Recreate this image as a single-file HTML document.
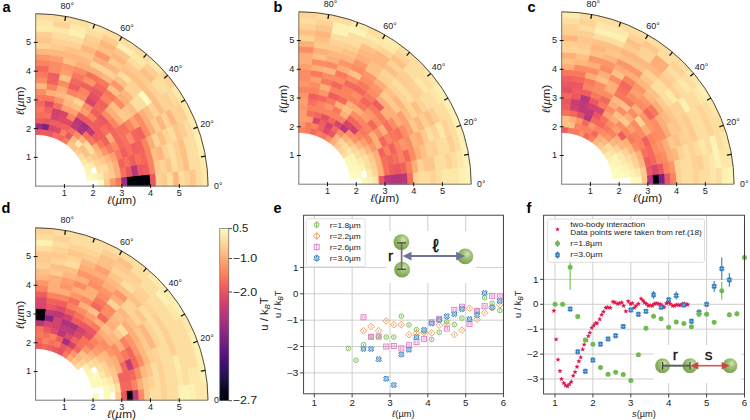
<!DOCTYPE html><html><head><meta charset="utf-8"><style>html,body{margin:0;padding:0;background:#fff;}svg{display:block;}</style></head><body>
<svg width="750" height="420" viewBox="0 0 750 420" font-family='"Liberation Sans", sans-serif'>
<rect width="750" height="420" fill="#fff"/>
<g>
<path d="M98.91 186.1L104.65 186.1A68.95 68.95 0 0 0 104.27 178.89L98.56 179.49A63.21 63.21 0 0 1 98.91 186.1Z" fill="#fcfdbf" stroke="#fcfdbf" stroke-width="0.9"/>
<path d="M104.65 186.1L110.4 186.1A74.7 74.7 0 0 0 109.99 178.29L104.27 178.89A68.95 68.95 0 0 1 104.65 186.1Z" fill="#feca8d" stroke="#feca8d" stroke-width="0.9"/>
<path d="M110.4 186.1L116.14 186.1A80.44 80.44 0 0 0 115.7 177.69L109.99 178.29A74.7 74.7 0 0 1 110.4 186.1Z" fill="#fd9b6b" stroke="#fd9b6b" stroke-width="0.9"/>
<path d="M116.14 186.1L121.89 186.1A86.19 86.19 0 0 0 121.42 177.09L115.7 177.69A80.44 80.44 0 0 1 116.14 186.1Z" fill="#f9795d" stroke="#f9795d" stroke-width="0.9"/>
<path d="M121.89 186.1L127.64 186.1A91.94 91.94 0 0 0 127.13 176.49L121.42 177.09A86.19 86.19 0 0 1 121.89 186.1Z" fill="#942c80" stroke="#942c80" stroke-width="0.9"/>
<path d="M127.64 186.1L133.38 186.1A97.68 97.68 0 0 0 132.85 175.89L127.13 176.49A91.94 91.94 0 0 1 127.64 186.1Z" fill="#02020b" stroke="#02020b" stroke-width="0.9"/>
<path d="M133.38 186.1L139.13 186.1A103.43 103.43 0 0 0 138.56 175.29L132.85 175.89A97.68 97.68 0 0 1 133.38 186.1Z" fill="#02020b" stroke="#02020b" stroke-width="0.9"/>
<path d="M139.13 186.1L144.87 186.1A109.17 109.17 0 0 0 144.28 174.69L138.56 175.29A103.43 103.43 0 0 1 139.13 186.1Z" fill="#02020b" stroke="#02020b" stroke-width="0.9"/>
<path d="M144.87 186.1L150.62 186.1A114.92 114.92 0 0 0 149.99 174.09L144.28 174.69A109.17 109.17 0 0 1 144.87 186.1Z" fill="#02020b" stroke="#02020b" stroke-width="0.9"/>
<path d="M150.62 186.1L156.37 186.1A120.67 120.67 0 0 0 155.7 173.49L149.99 174.09A114.92 114.92 0 0 1 150.62 186.1Z" fill="#ea5661" stroke="#ea5661" stroke-width="0.9"/>
<path d="M156.37 186.1L162.11 186.1A126.41 126.41 0 0 0 161.42 172.89L155.7 173.49A120.67 120.67 0 0 1 156.37 186.1Z" fill="#fed395" stroke="#fed395" stroke-width="0.9"/>
<path d="M162.11 186.1L167.86 186.1A132.16 132.16 0 0 0 167.13 172.29L161.42 172.89A126.41 126.41 0 0 1 162.11 186.1Z" fill="#feca8d" stroke="#feca8d" stroke-width="0.9"/>
<path d="M167.86 186.1L173.6 186.1A137.9 137.9 0 0 0 172.85 171.69L167.13 172.29A132.16 132.16 0 0 1 167.86 186.1Z" fill="#fddea0" stroke="#fddea0" stroke-width="0.9"/>
<path d="M173.6 186.1L179.35 186.1A143.65 143.65 0 0 0 178.56 171.08L172.85 171.69A137.9 137.9 0 0 1 173.6 186.1Z" fill="#feb77e" stroke="#feb77e" stroke-width="0.9"/>
<path d="M179.35 186.1L185.1 186.1A149.4 149.4 0 0 0 184.28 170.48L178.56 171.08A143.65 143.65 0 0 1 179.35 186.1Z" fill="#fddea0" stroke="#fddea0" stroke-width="0.9"/>
<path d="M185.1 186.1L190.84 186.1A155.14 155.14 0 0 0 189.99 169.88L184.28 170.48A149.4 149.4 0 0 1 185.1 186.1Z" fill="#fed395" stroke="#fed395" stroke-width="0.9"/>
<path d="M190.84 186.1L196.59 186.1A160.89 160.89 0 0 0 195.71 169.28L189.99 169.88A155.14 155.14 0 0 1 190.84 186.1Z" fill="#fec68a" stroke="#fec68a" stroke-width="0.9"/>
<path d="M196.59 186.1L202.33 186.1A166.63 166.63 0 0 0 201.42 168.68L195.71 169.28A160.89 160.89 0 0 1 196.59 186.1Z" fill="#fddea0" stroke="#fddea0" stroke-width="0.9"/>
<path d="M202.33 186.1L208.08 186.1A172.38 172.38 0 0 0 207.14 168.08L201.42 168.68A166.63 166.63 0 0 1 202.33 186.1Z" fill="#fde7a9" stroke="#fde7a9" stroke-width="0.9"/>
<path d="M87.13 180.69L92.85 180.09A57.46 57.46 0 0 0 91.9 174.15L86.28 175.35A51.71 51.71 0 0 1 87.13 180.69Z" fill="#fcf9bb" stroke="#fcf9bb" stroke-width="0.9"/>
<path d="M92.85 180.09L98.56 179.49A63.21 63.21 0 0 0 97.52 172.96L91.9 174.15A57.46 57.46 0 0 1 92.85 180.09Z" fill="#fcf4b6" stroke="#fcf4b6" stroke-width="0.9"/>
<path d="M98.56 179.49L104.27 178.89A68.95 68.95 0 0 0 103.15 171.76L97.52 172.96A63.21 63.21 0 0 1 98.56 179.49Z" fill="#fdebac" stroke="#fdebac" stroke-width="0.9"/>
<path d="M104.27 178.89L109.99 178.29A74.7 74.7 0 0 0 108.77 170.57L103.15 171.76A68.95 68.95 0 0 1 104.27 178.89Z" fill="#fed395" stroke="#fed395" stroke-width="0.9"/>
<path d="M109.99 178.29L115.7 177.69A80.44 80.44 0 0 0 114.39 169.37L108.77 170.57A74.7 74.7 0 0 1 109.99 178.29Z" fill="#feca8d" stroke="#feca8d" stroke-width="0.9"/>
<path d="M115.7 177.69L121.42 177.09A86.19 86.19 0 0 0 120.01 168.18L114.39 169.37A80.44 80.44 0 0 1 115.7 177.69Z" fill="#feae77" stroke="#feae77" stroke-width="0.9"/>
<path d="M121.42 177.09L127.13 176.49A91.94 91.94 0 0 0 125.63 166.99L120.01 168.18A86.19 86.19 0 0 1 121.42 177.09Z" fill="#f7705c" stroke="#f7705c" stroke-width="0.9"/>
<path d="M127.13 176.49L132.85 175.89A97.68 97.68 0 0 0 131.25 165.79L125.63 166.99A91.94 91.94 0 0 1 127.13 176.49Z" fill="#ea5661" stroke="#ea5661" stroke-width="0.9"/>
<path d="M132.85 175.89L138.56 175.29A103.43 103.43 0 0 0 136.87 164.6L131.25 165.79A97.68 97.68 0 0 1 132.85 175.89Z" fill="#b73779" stroke="#b73779" stroke-width="0.9"/>
<path d="M138.56 175.29L144.28 174.69A109.17 109.17 0 0 0 142.49 163.4L136.87 164.6A103.43 103.43 0 0 1 138.56 175.29Z" fill="#ea5661" stroke="#ea5661" stroke-width="0.9"/>
<path d="M144.28 174.69L149.99 174.09A114.92 114.92 0 0 0 148.11 162.21L142.49 163.4A109.17 109.17 0 0 1 144.28 174.69Z" fill="#ef5d5e" stroke="#ef5d5e" stroke-width="0.9"/>
<path d="M149.99 174.09L155.7 173.49A120.67 120.67 0 0 0 153.73 161.01L148.11 162.21A114.92 114.92 0 0 1 149.99 174.09Z" fill="#fb835f" stroke="#fb835f" stroke-width="0.9"/>
<path d="M155.7 173.49L161.42 172.89A126.41 126.41 0 0 0 159.35 159.82L153.73 161.01A120.67 120.67 0 0 1 155.7 173.49Z" fill="#feca8d" stroke="#feca8d" stroke-width="0.9"/>
<path d="M161.42 172.89L167.13 172.29A132.16 132.16 0 0 0 164.97 158.62L159.35 159.82A126.41 126.41 0 0 1 161.42 172.89Z" fill="#fed395" stroke="#fed395" stroke-width="0.9"/>
<path d="M167.13 172.29L172.85 171.69A137.9 137.9 0 0 0 170.59 157.43L164.97 158.62A132.16 132.16 0 0 1 167.13 172.29Z" fill="#fec68a" stroke="#fec68a" stroke-width="0.9"/>
<path d="M172.85 171.69L178.56 171.08A143.65 143.65 0 0 0 176.21 156.23L170.59 157.43A137.9 137.9 0 0 1 172.85 171.69Z" fill="#fddea0" stroke="#fddea0" stroke-width="0.9"/>
<path d="M178.56 171.08L184.28 170.48A149.4 149.4 0 0 0 181.83 155.04L176.21 156.23A143.65 143.65 0 0 1 178.56 171.08Z" fill="#fecf92" stroke="#fecf92" stroke-width="0.9"/>
<path d="M184.28 170.48L189.99 169.88A155.14 155.14 0 0 0 187.45 153.84L181.83 155.04A149.4 149.4 0 0 1 184.28 170.48Z" fill="#fec185" stroke="#fec185" stroke-width="0.9"/>
<path d="M189.99 169.88L195.71 169.28A160.89 160.89 0 0 0 193.07 152.65L187.45 153.84A155.14 155.14 0 0 1 189.99 169.88Z" fill="#fddea0" stroke="#fddea0" stroke-width="0.9"/>
<path d="M195.71 169.28L201.42 168.68A166.63 166.63 0 0 0 198.69 151.45L193.07 152.65A160.89 160.89 0 0 1 195.71 169.28Z" fill="#fddea0" stroke="#fddea0" stroke-width="0.9"/>
<path d="M201.42 168.68L207.14 168.08A172.38 172.38 0 0 0 204.31 150.26L198.69 151.45A166.63 166.63 0 0 1 201.42 168.68Z" fill="#fdebac" stroke="#fdebac" stroke-width="0.9"/>
<path d="M86.28 175.35L91.9 174.15A57.46 57.46 0 0 0 90.35 168.34L84.88 170.12A51.71 51.71 0 0 1 86.28 175.35Z" fill="#fcf4b6" stroke="#fcf4b6" stroke-width="0.9"/>
<path d="M97.52 172.96L103.15 171.76A68.95 68.95 0 0 0 101.28 164.79L95.81 166.57A63.21 63.21 0 0 1 97.52 172.96Z" fill="#fddea0" stroke="#fddea0" stroke-width="0.9"/>
<path d="M103.15 171.76L108.77 170.57A74.7 74.7 0 0 0 106.74 163.02L101.28 164.79A68.95 68.95 0 0 1 103.15 171.76Z" fill="#fddea0" stroke="#fddea0" stroke-width="0.9"/>
<path d="M108.77 170.57L114.39 169.37A80.44 80.44 0 0 0 112.21 161.24L106.74 163.02A74.7 74.7 0 0 1 108.77 170.57Z" fill="#fec68a" stroke="#fec68a" stroke-width="0.9"/>
<path d="M114.39 169.37L120.01 168.18A86.19 86.19 0 0 0 117.67 159.47L112.21 161.24A80.44 80.44 0 0 1 114.39 169.37Z" fill="#feae77" stroke="#feae77" stroke-width="0.9"/>
<path d="M120.01 168.18L125.63 166.99A91.94 91.94 0 0 0 123.14 157.69L117.67 159.47A86.19 86.19 0 0 1 120.01 168.18Z" fill="#f2625d" stroke="#f2625d" stroke-width="0.9"/>
<path d="M125.63 166.99L131.25 165.79A97.68 97.68 0 0 0 128.6 155.91L123.14 157.69A91.94 91.94 0 0 1 125.63 166.99Z" fill="#f7705c" stroke="#f7705c" stroke-width="0.9"/>
<path d="M131.25 165.79L136.87 164.6A103.43 103.43 0 0 0 134.07 154.14L128.6 155.91A97.68 97.68 0 0 1 131.25 165.79Z" fill="#ef5d5e" stroke="#ef5d5e" stroke-width="0.9"/>
<path d="M136.87 164.6L142.49 163.4A109.17 109.17 0 0 0 139.53 152.36L134.07 154.14A103.43 103.43 0 0 1 136.87 164.6Z" fill="#f7705c" stroke="#f7705c" stroke-width="0.9"/>
<path d="M142.49 163.4L148.11 162.21A114.92 114.92 0 0 0 145 150.59L139.53 152.36A109.17 109.17 0 0 1 142.49 163.4Z" fill="#f4675c" stroke="#f4675c" stroke-width="0.9"/>
<path d="M148.11 162.21L153.73 161.01A120.67 120.67 0 0 0 150.46 148.81L145 150.59A114.92 114.92 0 0 1 148.11 162.21Z" fill="#fb835f" stroke="#fb835f" stroke-width="0.9"/>
<path d="M153.73 161.01L159.35 159.82A126.41 126.41 0 0 0 155.92 147.04L150.46 148.81A120.67 120.67 0 0 1 153.73 161.01Z" fill="#fec185" stroke="#fec185" stroke-width="0.9"/>
<path d="M159.35 159.82L164.97 158.62A132.16 132.16 0 0 0 161.39 145.26L155.92 147.04A126.41 126.41 0 0 1 159.35 159.82Z" fill="#feb77e" stroke="#feb77e" stroke-width="0.9"/>
<path d="M164.97 158.62L170.59 157.43A137.9 137.9 0 0 0 166.85 143.49L161.39 145.26A132.16 132.16 0 0 1 164.97 158.62Z" fill="#fed395" stroke="#fed395" stroke-width="0.9"/>
<path d="M170.59 157.43L176.21 156.23A143.65 143.65 0 0 0 172.32 141.71L166.85 143.49A137.9 137.9 0 0 1 170.59 157.43Z" fill="#fddea0" stroke="#fddea0" stroke-width="0.9"/>
<path d="M176.21 156.23L181.83 155.04A149.4 149.4 0 0 0 177.78 139.93L172.32 141.71A143.65 143.65 0 0 1 176.21 156.23Z" fill="#fecf92" stroke="#fecf92" stroke-width="0.9"/>
<path d="M181.83 155.04L187.45 153.84A155.14 155.14 0 0 0 183.25 138.16L177.78 139.93A149.4 149.4 0 0 1 181.83 155.04Z" fill="#fec185" stroke="#fec185" stroke-width="0.9"/>
<path d="M187.45 153.84L193.07 152.65A160.89 160.89 0 0 0 188.71 136.38L183.25 138.16A155.14 155.14 0 0 1 187.45 153.84Z" fill="#fddea0" stroke="#fddea0" stroke-width="0.9"/>
<path d="M193.07 152.65L198.69 151.45A166.63 166.63 0 0 0 194.18 134.61L188.71 136.38A160.89 160.89 0 0 1 193.07 152.65Z" fill="#fddea0" stroke="#fddea0" stroke-width="0.9"/>
<path d="M198.69 151.45L204.31 150.26A172.38 172.38 0 0 0 199.64 132.83L194.18 134.61A166.63 166.63 0 0 1 198.69 151.45Z" fill="#fcf0b2" stroke="#fcf0b2" stroke-width="0.9"/>
<path d="M84.88 170.12L90.35 168.34A57.46 57.46 0 0 0 88.19 162.73L82.94 165.07A51.71 51.71 0 0 1 84.88 170.12Z" fill="#fcf4b6" stroke="#fcf4b6" stroke-width="0.9"/>
<path d="M90.35 168.34L95.81 166.57A63.21 63.21 0 0 0 93.44 160.39L88.19 162.73A57.46 57.46 0 0 1 90.35 168.34Z" fill="#fdebac" stroke="#fdebac" stroke-width="0.9"/>
<path d="M95.81 166.57L101.28 164.79A68.95 68.95 0 0 0 98.69 158.05L93.44 160.39A63.21 63.21 0 0 1 95.81 166.57Z" fill="#fed395" stroke="#fed395" stroke-width="0.9"/>
<path d="M101.28 164.79L106.74 163.02A74.7 74.7 0 0 0 103.94 155.72L98.69 158.05A68.95 68.95 0 0 1 101.28 164.79Z" fill="#feca8d" stroke="#feca8d" stroke-width="0.9"/>
<path d="M106.74 163.02L112.21 161.24A80.44 80.44 0 0 0 109.19 153.38L103.94 155.72A74.7 74.7 0 0 1 106.74 163.02Z" fill="#feb77e" stroke="#feb77e" stroke-width="0.9"/>
<path d="M112.21 161.24L117.67 159.47A86.19 86.19 0 0 0 114.44 151.04L109.19 153.38A80.44 80.44 0 0 1 112.21 161.24Z" fill="#fe9f6d" stroke="#fe9f6d" stroke-width="0.9"/>
<path d="M117.67 159.47L123.14 157.69A91.94 91.94 0 0 0 119.69 148.71L114.44 151.04A86.19 86.19 0 0 1 117.67 159.47Z" fill="#f9795d" stroke="#f9795d" stroke-width="0.9"/>
<path d="M123.14 157.69L128.6 155.91A97.68 97.68 0 0 0 124.94 146.37L119.69 148.71A91.94 91.94 0 0 1 123.14 157.69Z" fill="#ef5d5e" stroke="#ef5d5e" stroke-width="0.9"/>
<path d="M128.6 155.91L134.07 154.14A103.43 103.43 0 0 0 130.19 144.03L124.94 146.37A97.68 97.68 0 0 1 128.6 155.91Z" fill="#f7705c" stroke="#f7705c" stroke-width="0.9"/>
<path d="M134.07 154.14L139.53 152.36A109.17 109.17 0 0 0 135.44 141.69L130.19 144.03A103.43 103.43 0 0 1 134.07 154.14Z" fill="#ef5d5e" stroke="#ef5d5e" stroke-width="0.9"/>
<path d="M139.53 152.36L145 150.59A114.92 114.92 0 0 0 140.68 139.36L135.44 141.69A109.17 109.17 0 0 1 139.53 152.36Z" fill="#f2625d" stroke="#f2625d" stroke-width="0.9"/>
<path d="M145 150.59L150.46 148.81A120.67 120.67 0 0 0 145.93 137.02L140.68 139.36A114.92 114.92 0 0 1 145 150.59Z" fill="#fb835f" stroke="#fb835f" stroke-width="0.9"/>
<path d="M150.46 148.81L155.92 147.04A126.41 126.41 0 0 0 151.18 134.68L145.93 137.02A120.67 120.67 0 0 1 150.46 148.81Z" fill="#feae77" stroke="#feae77" stroke-width="0.9"/>
<path d="M155.92 147.04L161.39 145.26A132.16 132.16 0 0 0 156.43 132.35L151.18 134.68A126.41 126.41 0 0 1 155.92 147.04Z" fill="#fed395" stroke="#fed395" stroke-width="0.9"/>
<path d="M161.39 145.26L166.85 143.49A137.9 137.9 0 0 0 161.68 130.01L156.43 132.35A132.16 132.16 0 0 1 161.39 145.26Z" fill="#febd82" stroke="#febd82" stroke-width="0.9"/>
<path d="M166.85 143.49L172.32 141.71A143.65 143.65 0 0 0 166.93 127.67L161.68 130.01A137.9 137.9 0 0 1 166.85 143.49Z" fill="#fed395" stroke="#fed395" stroke-width="0.9"/>
<path d="M172.32 141.71L177.78 139.93A149.4 149.4 0 0 0 172.18 125.34L166.93 127.67A143.65 143.65 0 0 1 172.32 141.71Z" fill="#fddea0" stroke="#fddea0" stroke-width="0.9"/>
<path d="M177.78 139.93L183.25 138.16A155.14 155.14 0 0 0 177.43 123L172.18 125.34A149.4 149.4 0 0 1 177.78 139.93Z" fill="#fec68a" stroke="#fec68a" stroke-width="0.9"/>
<path d="M183.25 138.16L188.71 136.38A160.89 160.89 0 0 0 182.68 120.66L177.43 123A155.14 155.14 0 0 1 183.25 138.16Z" fill="#fecf92" stroke="#fecf92" stroke-width="0.9"/>
<path d="M188.71 136.38L194.18 134.61A166.63 166.63 0 0 0 187.93 118.32L182.68 120.66A160.89 160.89 0 0 1 188.71 136.38Z" fill="#fddea0" stroke="#fddea0" stroke-width="0.9"/>
<path d="M194.18 134.61L199.64 132.83A172.38 172.38 0 0 0 193.18 115.99L187.93 118.32A166.63 166.63 0 0 1 194.18 134.61Z" fill="#fdebac" stroke="#fdebac" stroke-width="0.9"/>
<path d="M82.94 165.07L88.19 162.73A57.46 57.46 0 0 0 85.46 157.37L80.49 160.24A51.71 51.71 0 0 1 82.94 165.07Z" fill="#fde7a9" stroke="#fde7a9" stroke-width="0.9"/>
<path d="M88.19 162.73L93.44 160.39A63.21 63.21 0 0 0 90.44 154.5L85.46 157.37A57.46 57.46 0 0 1 88.19 162.73Z" fill="#fed395" stroke="#fed395" stroke-width="0.9"/>
<path d="M93.44 160.39L98.69 158.05A68.95 68.95 0 0 0 95.41 151.62L90.44 154.5A63.21 63.21 0 0 1 93.44 160.39Z" fill="#feca8d" stroke="#feca8d" stroke-width="0.9"/>
<path d="M98.69 158.05L103.94 155.72A74.7 74.7 0 0 0 100.39 148.75L95.41 151.62A68.95 68.95 0 0 1 98.69 158.05Z" fill="#feb77e" stroke="#feb77e" stroke-width="0.9"/>
<path d="M103.94 155.72L109.19 153.38A80.44 80.44 0 0 0 105.37 145.88L100.39 148.75A74.7 74.7 0 0 1 103.94 155.72Z" fill="#fd9668" stroke="#fd9668" stroke-width="0.9"/>
<path d="M109.19 153.38L114.44 151.04A86.19 86.19 0 0 0 110.34 143L105.37 145.88A80.44 80.44 0 0 1 109.19 153.38Z" fill="#f9795d" stroke="#f9795d" stroke-width="0.9"/>
<path d="M114.44 151.04L119.69 148.71A91.94 91.94 0 0 0 115.32 140.13L110.34 143A86.19 86.19 0 0 1 114.44 151.04Z" fill="#fc8c63" stroke="#fc8c63" stroke-width="0.9"/>
<path d="M119.69 148.71L124.94 146.37A97.68 97.68 0 0 0 120.3 137.26L115.32 140.13A91.94 91.94 0 0 1 119.69 148.71Z" fill="#f4675c" stroke="#f4675c" stroke-width="0.9"/>
<path d="M124.94 146.37L130.19 144.03A103.43 103.43 0 0 0 125.27 134.39L120.3 137.26A97.68 97.68 0 0 1 124.94 146.37Z" fill="#f7705c" stroke="#f7705c" stroke-width="0.9"/>
<path d="M130.19 144.03L135.44 141.69A109.17 109.17 0 0 0 130.25 131.51L125.27 134.39A103.43 103.43 0 0 1 130.19 144.03Z" fill="#fc8c63" stroke="#fc8c63" stroke-width="0.9"/>
<path d="M135.44 141.69L140.68 139.36A114.92 114.92 0 0 0 135.22 128.64L130.25 131.51A109.17 109.17 0 0 1 135.44 141.69Z" fill="#f4675c" stroke="#f4675c" stroke-width="0.9"/>
<path d="M140.68 139.36L145.93 137.02A120.67 120.67 0 0 0 140.2 125.77L135.22 128.64A114.92 114.92 0 0 1 140.68 139.36Z" fill="#f2625d" stroke="#f2625d" stroke-width="0.9"/>
<path d="M145.93 137.02L151.18 134.68A126.41 126.41 0 0 0 145.18 122.89L140.2 125.77A120.67 120.67 0 0 1 145.93 137.02Z" fill="#fc8c63" stroke="#fc8c63" stroke-width="0.9"/>
<path d="M151.18 134.68L156.43 132.35A132.16 132.16 0 0 0 150.15 120.02L145.18 122.89A126.41 126.41 0 0 1 151.18 134.68Z" fill="#feae77" stroke="#feae77" stroke-width="0.9"/>
<path d="M156.43 132.35L161.68 130.01A137.9 137.9 0 0 0 155.13 117.15L150.15 120.02A132.16 132.16 0 0 1 156.43 132.35Z" fill="#fecf92" stroke="#fecf92" stroke-width="0.9"/>
<path d="M161.68 130.01L166.93 127.67A143.65 143.65 0 0 0 160.1 114.28L155.13 117.15A137.9 137.9 0 0 1 161.68 130.01Z" fill="#feb77e" stroke="#feb77e" stroke-width="0.9"/>
<path d="M166.93 127.67L172.18 125.34A149.4 149.4 0 0 0 165.08 111.4L160.1 114.28A143.65 143.65 0 0 1 166.93 127.67Z" fill="#fed395" stroke="#fed395" stroke-width="0.9"/>
<path d="M172.18 125.34L177.43 123A155.14 155.14 0 0 0 170.06 108.53L165.08 111.4A149.4 149.4 0 0 1 172.18 125.34Z" fill="#feb77e" stroke="#feb77e" stroke-width="0.9"/>
<path d="M177.43 123L182.68 120.66A160.89 160.89 0 0 0 175.03 105.66L170.06 108.53A155.14 155.14 0 0 1 177.43 123Z" fill="#fed395" stroke="#fed395" stroke-width="0.9"/>
<path d="M182.68 120.66L187.93 118.32A166.63 166.63 0 0 0 180.01 102.78L175.03 105.66A160.89 160.89 0 0 1 182.68 120.66Z" fill="#fecf92" stroke="#fecf92" stroke-width="0.9"/>
<path d="M187.93 118.32L193.18 115.99A172.38 172.38 0 0 0 184.99 99.91L180.01 102.78A166.63 166.63 0 0 1 187.93 118.32Z" fill="#fde7a9" stroke="#fde7a9" stroke-width="0.9"/>
<path d="M80.49 160.24L85.46 157.37A57.46 57.46 0 0 0 82.19 152.33L77.54 155.7A51.71 51.71 0 0 1 80.49 160.24Z" fill="#fddea0" stroke="#fddea0" stroke-width="0.9"/>
<path d="M85.46 157.37L90.44 154.5A63.21 63.21 0 0 0 86.83 148.95L82.19 152.33A57.46 57.46 0 0 1 85.46 157.37Z" fill="#fec185" stroke="#fec185" stroke-width="0.9"/>
<path d="M90.44 154.5L95.41 151.62A68.95 68.95 0 0 0 91.48 145.57L86.83 148.95A63.21 63.21 0 0 1 90.44 154.5Z" fill="#fddea0" stroke="#fddea0" stroke-width="0.9"/>
<path d="M95.41 151.62L100.39 148.75A74.7 74.7 0 0 0 96.13 142.19L91.48 145.57A68.95 68.95 0 0 1 95.41 151.62Z" fill="#feae77" stroke="#feae77" stroke-width="0.9"/>
<path d="M100.39 148.75L105.37 145.88A80.44 80.44 0 0 0 100.78 138.82L96.13 142.19A74.7 74.7 0 0 1 100.39 148.75Z" fill="#f9795d" stroke="#f9795d" stroke-width="0.9"/>
<path d="M105.37 145.88L110.34 143A86.19 86.19 0 0 0 105.43 135.44L100.78 138.82A80.44 80.44 0 0 1 105.37 145.88Z" fill="#f2625d" stroke="#f2625d" stroke-width="0.9"/>
<path d="M110.34 143L115.32 140.13A91.94 91.94 0 0 0 110.08 132.06L105.43 135.44A86.19 86.19 0 0 1 110.34 143Z" fill="#feae77" stroke="#feae77" stroke-width="0.9"/>
<path d="M115.32 140.13L120.3 137.26A97.68 97.68 0 0 0 114.73 128.68L110.08 132.06A91.94 91.94 0 0 1 115.32 140.13Z" fill="#f4675c" stroke="#f4675c" stroke-width="0.9"/>
<path d="M120.3 137.26L125.27 134.39A103.43 103.43 0 0 0 119.38 125.31L114.73 128.68A97.68 97.68 0 0 1 120.3 137.26Z" fill="#f7705c" stroke="#f7705c" stroke-width="0.9"/>
<path d="M125.27 134.39L130.25 131.51A109.17 109.17 0 0 0 124.02 121.93L119.38 125.31A103.43 103.43 0 0 1 125.27 134.39Z" fill="#f7705c" stroke="#f7705c" stroke-width="0.9"/>
<path d="M130.25 131.51L135.22 128.64A114.92 114.92 0 0 0 128.67 118.55L124.02 121.93A109.17 109.17 0 0 1 130.25 131.51Z" fill="#fb835f" stroke="#fb835f" stroke-width="0.9"/>
<path d="M135.22 128.64L140.2 125.77A120.67 120.67 0 0 0 133.32 115.17L128.67 118.55A114.92 114.92 0 0 1 135.22 128.64Z" fill="#fe9f6d" stroke="#fe9f6d" stroke-width="0.9"/>
<path d="M140.2 125.77L145.18 122.89A126.41 126.41 0 0 0 137.97 111.8L133.32 115.17A120.67 120.67 0 0 1 140.2 125.77Z" fill="#fc8c63" stroke="#fc8c63" stroke-width="0.9"/>
<path d="M145.18 122.89L150.15 120.02A132.16 132.16 0 0 0 142.62 108.42L137.97 111.8A126.41 126.41 0 0 1 145.18 122.89Z" fill="#feae77" stroke="#feae77" stroke-width="0.9"/>
<path d="M150.15 120.02L155.13 117.15A137.9 137.9 0 0 0 147.27 105.04L142.62 108.42A132.16 132.16 0 0 1 150.15 120.02Z" fill="#fec185" stroke="#fec185" stroke-width="0.9"/>
<path d="M155.13 117.15L160.1 114.28A143.65 143.65 0 0 0 151.92 101.66L147.27 105.04A137.9 137.9 0 0 1 155.13 117.15Z" fill="#fed395" stroke="#fed395" stroke-width="0.9"/>
<path d="M160.1 114.28L165.08 111.4A149.4 149.4 0 0 0 156.56 98.29L151.92 101.66A143.65 143.65 0 0 1 160.1 114.28Z" fill="#febd82" stroke="#febd82" stroke-width="0.9"/>
<path d="M165.08 111.4L170.06 108.53A155.14 155.14 0 0 0 161.21 94.91L156.56 98.29A149.4 149.4 0 0 1 165.08 111.4Z" fill="#fed395" stroke="#fed395" stroke-width="0.9"/>
<path d="M170.06 108.53L175.03 105.66A160.89 160.89 0 0 0 165.86 91.53L161.21 94.91A155.14 155.14 0 0 1 170.06 108.53Z" fill="#fecf92" stroke="#fecf92" stroke-width="0.9"/>
<path d="M175.03 105.66L180.01 102.78A166.63 166.63 0 0 0 170.51 88.15L165.86 91.53A160.89 160.89 0 0 1 175.03 105.66Z" fill="#fdda9c" stroke="#fdda9c" stroke-width="0.9"/>
<path d="M180.01 102.78L184.99 99.91A172.38 172.38 0 0 0 175.16 84.78L170.51 88.15A166.63 166.63 0 0 1 180.01 102.78Z" fill="#fde9aa" stroke="#fde9aa" stroke-width="0.9"/>
<path d="M77.54 155.7L82.19 152.33A57.46 57.46 0 0 0 78.4 147.65L74.13 151.5A51.71 51.71 0 0 1 77.54 155.7Z" fill="#fecf92" stroke="#fecf92" stroke-width="0.9"/>
<path d="M82.19 152.33L86.83 148.95A63.21 63.21 0 0 0 82.67 143.81L78.4 147.65A57.46 57.46 0 0 1 82.19 152.33Z" fill="#febd82" stroke="#febd82" stroke-width="0.9"/>
<path d="M86.83 148.95L91.48 145.57A68.95 68.95 0 0 0 86.94 139.96L82.67 143.81A63.21 63.21 0 0 1 86.83 148.95Z" fill="#fddea0" stroke="#fddea0" stroke-width="0.9"/>
<path d="M91.48 145.57L96.13 142.19A74.7 74.7 0 0 0 91.21 136.12L86.94 139.96A68.95 68.95 0 0 1 91.48 145.57Z" fill="#f9795d" stroke="#f9795d" stroke-width="0.9"/>
<path d="M96.13 142.19L100.78 138.82A80.44 80.44 0 0 0 95.48 132.27L91.21 136.12A74.7 74.7 0 0 1 96.13 142.19Z" fill="#ef5d5e" stroke="#ef5d5e" stroke-width="0.9"/>
<path d="M100.78 138.82L105.43 135.44A86.19 86.19 0 0 0 99.75 128.43L95.48 132.27A80.44 80.44 0 0 1 100.78 138.82Z" fill="#ef5d5e" stroke="#ef5d5e" stroke-width="0.9"/>
<path d="M105.43 135.44L110.08 132.06A91.94 91.94 0 0 0 104.02 124.58L99.75 128.43A86.19 86.19 0 0 1 105.43 135.44Z" fill="#f7705c" stroke="#f7705c" stroke-width="0.9"/>
<path d="M110.08 132.06L114.73 128.68A97.68 97.68 0 0 0 108.29 120.74L104.02 124.58A91.94 91.94 0 0 1 110.08 132.06Z" fill="#f2625d" stroke="#f2625d" stroke-width="0.9"/>
<path d="M114.73 128.68L119.38 125.31A103.43 103.43 0 0 0 112.56 116.89L108.29 120.74A97.68 97.68 0 0 1 114.73 128.68Z" fill="#fb835f" stroke="#fb835f" stroke-width="0.9"/>
<path d="M119.38 125.31L124.02 121.93A109.17 109.17 0 0 0 116.83 113.05L112.56 116.89A103.43 103.43 0 0 1 119.38 125.31Z" fill="#feae77" stroke="#feae77" stroke-width="0.9"/>
<path d="M124.02 121.93L128.67 118.55A114.92 114.92 0 0 0 121.1 109.2L116.83 113.05A109.17 109.17 0 0 1 124.02 121.93Z" fill="#feca8d" stroke="#feca8d" stroke-width="0.9"/>
<path d="M128.67 118.55L133.32 115.17A120.67 120.67 0 0 0 125.37 105.36L121.1 109.2A114.92 114.92 0 0 1 128.67 118.55Z" fill="#fec68a" stroke="#fec68a" stroke-width="0.9"/>
<path d="M133.32 115.17L137.97 111.8A126.41 126.41 0 0 0 129.64 101.51L125.37 105.36A120.67 120.67 0 0 1 133.32 115.17Z" fill="#febd82" stroke="#febd82" stroke-width="0.9"/>
<path d="M137.97 111.8L142.62 108.42A132.16 132.16 0 0 0 133.91 97.67L129.64 101.51A126.41 126.41 0 0 1 137.97 111.8Z" fill="#fddea0" stroke="#fddea0" stroke-width="0.9"/>
<path d="M142.62 108.42L147.27 105.04A137.9 137.9 0 0 0 138.18 93.82L133.91 97.67A132.16 132.16 0 0 1 142.62 108.42Z" fill="#fddea0" stroke="#fddea0" stroke-width="0.9"/>
<path d="M147.27 105.04L151.92 101.66A143.65 143.65 0 0 0 142.45 89.98L138.18 93.82A137.9 137.9 0 0 1 147.27 105.04Z" fill="#fcfdbf" stroke="#fcfdbf" stroke-width="0.9"/>
<path d="M151.92 101.66L156.56 98.29A149.4 149.4 0 0 0 146.72 86.13L142.45 89.98A143.65 143.65 0 0 1 151.92 101.66Z" fill="#fec185" stroke="#fec185" stroke-width="0.9"/>
<path d="M156.56 98.29L161.21 94.91A155.14 155.14 0 0 0 150.99 82.29L146.72 86.13A149.4 149.4 0 0 1 156.56 98.29Z" fill="#fed395" stroke="#fed395" stroke-width="0.9"/>
<path d="M161.21 94.91L165.86 91.53A160.89 160.89 0 0 0 155.26 78.44L150.99 82.29A155.14 155.14 0 0 1 161.21 94.91Z" fill="#fddea0" stroke="#fddea0" stroke-width="0.9"/>
<path d="M165.86 91.53L170.51 88.15A166.63 166.63 0 0 0 159.53 74.6L155.26 78.44A160.89 160.89 0 0 1 165.86 91.53Z" fill="#fddea0" stroke="#fddea0" stroke-width="0.9"/>
<path d="M170.51 88.15L175.16 84.78A172.38 172.38 0 0 0 163.8 70.76L159.53 74.6A166.63 166.63 0 0 1 170.51 88.15Z" fill="#fed395" stroke="#fed395" stroke-width="0.9"/>
<path d="M74.13 151.5L78.4 147.65A57.46 57.46 0 0 0 74.15 143.4L70.3 147.67A51.71 51.71 0 0 1 74.13 151.5Z" fill="#fec185" stroke="#fec185" stroke-width="0.9"/>
<path d="M78.4 147.65L82.67 143.81A63.21 63.21 0 0 0 77.99 139.13L74.15 143.4A57.46 57.46 0 0 1 78.4 147.65Z" fill="#fdebac" stroke="#fdebac" stroke-width="0.9"/>
<path d="M82.67 143.81L86.94 139.96A68.95 68.95 0 0 0 81.84 134.86L77.99 139.13A63.21 63.21 0 0 1 82.67 143.81Z" fill="#feae77" stroke="#feae77" stroke-width="0.9"/>
<path d="M86.94 139.96L91.21 136.12A74.7 74.7 0 0 0 85.68 130.59L81.84 134.86A68.95 68.95 0 0 1 86.94 139.96Z" fill="#f7705c" stroke="#f7705c" stroke-width="0.9"/>
<path d="M91.21 136.12L95.48 132.27A80.44 80.44 0 0 0 89.53 126.32L85.68 130.59A74.7 74.7 0 0 1 91.21 136.12Z" fill="#bf3a77" stroke="#bf3a77" stroke-width="0.9"/>
<path d="M95.48 132.27L99.75 128.43A86.19 86.19 0 0 0 93.37 122.05L89.53 126.32A80.44 80.44 0 0 1 95.48 132.27Z" fill="#ef5d5e" stroke="#ef5d5e" stroke-width="0.9"/>
<path d="M99.75 128.43L104.02 124.58A91.94 91.94 0 0 0 97.22 117.78L93.37 122.05A86.19 86.19 0 0 1 99.75 128.43Z" fill="#ef5d5e" stroke="#ef5d5e" stroke-width="0.9"/>
<path d="M104.02 124.58L108.29 120.74A97.68 97.68 0 0 0 101.06 113.51L97.22 117.78A91.94 91.94 0 0 1 104.02 124.58Z" fill="#ea5661" stroke="#ea5661" stroke-width="0.9"/>
<path d="M108.29 120.74L112.56 116.89A103.43 103.43 0 0 0 104.91 109.24L101.06 113.51A97.68 97.68 0 0 1 108.29 120.74Z" fill="#fc8c63" stroke="#fc8c63" stroke-width="0.9"/>
<path d="M112.56 116.89L116.83 113.05A109.17 109.17 0 0 0 108.75 104.97L104.91 109.24A103.43 103.43 0 0 1 112.56 116.89Z" fill="#feae77" stroke="#feae77" stroke-width="0.9"/>
<path d="M116.83 113.05L121.1 109.2A114.92 114.92 0 0 0 112.6 100.7L108.75 104.97A109.17 109.17 0 0 1 116.83 113.05Z" fill="#fec185" stroke="#fec185" stroke-width="0.9"/>
<path d="M121.1 109.2L125.37 105.36A120.67 120.67 0 0 0 116.44 96.43L112.6 100.7A114.92 114.92 0 0 1 121.1 109.2Z" fill="#fc8c63" stroke="#fc8c63" stroke-width="0.9"/>
<path d="M125.37 105.36L129.64 101.51A126.41 126.41 0 0 0 120.29 92.16L116.44 96.43A120.67 120.67 0 0 1 125.37 105.36Z" fill="#feae77" stroke="#feae77" stroke-width="0.9"/>
<path d="M129.64 101.51L133.91 97.67A132.16 132.16 0 0 0 124.13 87.89L120.29 92.16A126.41 126.41 0 0 1 129.64 101.51Z" fill="#feb77e" stroke="#feb77e" stroke-width="0.9"/>
<path d="M133.91 97.67L138.18 93.82A137.9 137.9 0 0 0 127.98 83.62L124.13 87.89A132.16 132.16 0 0 1 133.91 97.67Z" fill="#fed395" stroke="#fed395" stroke-width="0.9"/>
<path d="M138.18 93.82L142.45 89.98A143.65 143.65 0 0 0 131.82 79.35L127.98 83.62A137.9 137.9 0 0 1 138.18 93.82Z" fill="#fed395" stroke="#fed395" stroke-width="0.9"/>
<path d="M142.45 89.98L146.72 86.13A149.4 149.4 0 0 0 135.67 75.08L131.82 79.35A143.65 143.65 0 0 1 142.45 89.98Z" fill="#fec185" stroke="#fec185" stroke-width="0.9"/>
<path d="M146.72 86.13L150.99 82.29A155.14 155.14 0 0 0 139.51 70.81L135.67 75.08A149.4 149.4 0 0 1 146.72 86.13Z" fill="#feca8d" stroke="#feca8d" stroke-width="0.9"/>
<path d="M150.99 82.29L155.26 78.44A160.89 160.89 0 0 0 143.36 66.54L139.51 70.81A155.14 155.14 0 0 1 150.99 82.29Z" fill="#fec185" stroke="#fec185" stroke-width="0.9"/>
<path d="M155.26 78.44L159.53 74.6A166.63 166.63 0 0 0 147.2 62.27L143.36 66.54A160.89 160.89 0 0 1 155.26 78.44Z" fill="#fecf92" stroke="#fecf92" stroke-width="0.9"/>
<path d="M159.53 74.6L163.8 70.76A172.38 172.38 0 0 0 151.04 58L147.2 62.27A166.63 166.63 0 0 1 159.53 74.6Z" fill="#fde7a9" stroke="#fde7a9" stroke-width="0.9"/>
<path d="M70.3 147.67L74.15 143.4A57.46 57.46 0 0 0 69.47 139.61L66.1 144.26A51.71 51.71 0 0 1 70.3 147.67Z" fill="#fec68a" stroke="#fec68a" stroke-width="0.9"/>
<path d="M74.15 143.4L77.99 139.13A63.21 63.21 0 0 0 72.85 134.97L69.47 139.61A57.46 57.46 0 0 1 74.15 143.4Z" fill="#feb77e" stroke="#feb77e" stroke-width="0.9"/>
<path d="M77.99 139.13L81.84 134.86A68.95 68.95 0 0 0 76.23 130.32L72.85 134.97A63.21 63.21 0 0 1 77.99 139.13Z" fill="#fc8c63" stroke="#fc8c63" stroke-width="0.9"/>
<path d="M81.84 134.86L85.68 130.59A74.7 74.7 0 0 0 79.61 125.67L76.23 130.32A68.95 68.95 0 0 1 81.84 134.86Z" fill="#ad347c" stroke="#ad347c" stroke-width="0.9"/>
<path d="M85.68 130.59L89.53 126.32A80.44 80.44 0 0 0 82.98 121.02L79.61 125.67A74.7 74.7 0 0 1 85.68 130.59Z" fill="#a1307e" stroke="#a1307e" stroke-width="0.9"/>
<path d="M89.53 126.32L93.37 122.05A86.19 86.19 0 0 0 86.36 116.37L82.98 121.02A80.44 80.44 0 0 1 89.53 126.32Z" fill="#ef5d5e" stroke="#ef5d5e" stroke-width="0.9"/>
<path d="M93.37 122.05L97.22 117.78A91.94 91.94 0 0 0 89.74 111.72L86.36 116.37A86.19 86.19 0 0 1 93.37 122.05Z" fill="#fb835f" stroke="#fb835f" stroke-width="0.9"/>
<path d="M97.22 117.78L101.06 113.51A97.68 97.68 0 0 0 93.12 107.07L89.74 111.72A91.94 91.94 0 0 1 97.22 117.78Z" fill="#ef5d5e" stroke="#ef5d5e" stroke-width="0.9"/>
<path d="M101.06 113.51L104.91 109.24A103.43 103.43 0 0 0 96.49 102.42L93.12 107.07A97.68 97.68 0 0 1 101.06 113.51Z" fill="#f4675c" stroke="#f4675c" stroke-width="0.9"/>
<path d="M104.91 109.24L108.75 104.97A109.17 109.17 0 0 0 99.87 97.78L96.49 102.42A103.43 103.43 0 0 1 104.91 109.24Z" fill="#f2625d" stroke="#f2625d" stroke-width="0.9"/>
<path d="M108.75 104.97L112.6 100.7A114.92 114.92 0 0 0 103.25 93.13L99.87 97.78A109.17 109.17 0 0 1 108.75 104.97Z" fill="#fb835f" stroke="#fb835f" stroke-width="0.9"/>
<path d="M112.6 100.7L116.44 96.43A120.67 120.67 0 0 0 106.63 88.48L103.25 93.13A114.92 114.92 0 0 1 112.6 100.7Z" fill="#f9795d" stroke="#f9795d" stroke-width="0.9"/>
<path d="M116.44 96.43L120.29 92.16A126.41 126.41 0 0 0 110 83.83L106.63 88.48A120.67 120.67 0 0 1 116.44 96.43Z" fill="#fec185" stroke="#fec185" stroke-width="0.9"/>
<path d="M120.29 92.16L124.13 87.89A132.16 132.16 0 0 0 113.38 79.18L110 83.83A126.41 126.41 0 0 1 120.29 92.16Z" fill="#fd9668" stroke="#fd9668" stroke-width="0.9"/>
<path d="M124.13 87.89L127.98 83.62A137.9 137.9 0 0 0 116.76 74.53L113.38 79.18A132.16 132.16 0 0 1 124.13 87.89Z" fill="#fec185" stroke="#fec185" stroke-width="0.9"/>
<path d="M127.98 83.62L131.82 79.35A143.65 143.65 0 0 0 120.14 69.88L116.76 74.53A137.9 137.9 0 0 1 127.98 83.62Z" fill="#fddea0" stroke="#fddea0" stroke-width="0.9"/>
<path d="M131.82 79.35L135.67 75.08A149.4 149.4 0 0 0 123.51 65.24L120.14 69.88A143.65 143.65 0 0 1 131.82 79.35Z" fill="#fec185" stroke="#fec185" stroke-width="0.9"/>
<path d="M135.67 75.08L139.51 70.81A155.14 155.14 0 0 0 126.89 60.59L123.51 65.24A149.4 149.4 0 0 1 135.67 75.08Z" fill="#feca8d" stroke="#feca8d" stroke-width="0.9"/>
<path d="M139.51 70.81L143.36 66.54A160.89 160.89 0 0 0 130.27 55.94L126.89 60.59A155.14 155.14 0 0 1 139.51 70.81Z" fill="#fddea0" stroke="#fddea0" stroke-width="0.9"/>
<path d="M143.36 66.54L147.2 62.27A166.63 166.63 0 0 0 133.65 51.29L130.27 55.94A160.89 160.89 0 0 1 143.36 66.54Z" fill="#fde7a9" stroke="#fde7a9" stroke-width="0.9"/>
<path d="M147.2 62.27L151.04 58A172.38 172.38 0 0 0 137.02 46.64L133.65 51.29A166.63 166.63 0 0 1 147.2 62.27Z" fill="#fddea0" stroke="#fddea0" stroke-width="0.9"/>
<path d="M66.1 144.26L69.47 139.61A57.46 57.46 0 0 0 64.43 136.34L61.56 141.31A51.71 51.71 0 0 1 66.1 144.26Z" fill="#f9795d" stroke="#f9795d" stroke-width="0.9"/>
<path d="M69.47 139.61L72.85 134.97A63.21 63.21 0 0 0 67.3 131.36L64.43 136.34A57.46 57.46 0 0 1 69.47 139.61Z" fill="#ea5661" stroke="#ea5661" stroke-width="0.9"/>
<path d="M72.85 134.97L76.23 130.32A68.95 68.95 0 0 0 70.18 126.39L67.3 131.36A63.21 63.21 0 0 1 72.85 134.97Z" fill="#f7705c" stroke="#f7705c" stroke-width="0.9"/>
<path d="M76.23 130.32L79.61 125.67A74.7 74.7 0 0 0 73.05 121.41L70.18 126.39A68.95 68.95 0 0 1 76.23 130.32Z" fill="#bf3a77" stroke="#bf3a77" stroke-width="0.9"/>
<path d="M79.61 125.67L82.98 121.02A80.44 80.44 0 0 0 75.92 116.43L73.05 121.41A74.7 74.7 0 0 1 79.61 125.67Z" fill="#b73779" stroke="#b73779" stroke-width="0.9"/>
<path d="M82.98 121.02L86.36 116.37A86.19 86.19 0 0 0 78.8 111.46L75.92 116.43A80.44 80.44 0 0 1 82.98 121.02Z" fill="#ef5d5e" stroke="#ef5d5e" stroke-width="0.9"/>
<path d="M86.36 116.37L89.74 111.72A91.94 91.94 0 0 0 81.67 106.48L78.8 111.46A86.19 86.19 0 0 1 86.36 116.37Z" fill="#fe9f6d" stroke="#fe9f6d" stroke-width="0.9"/>
<path d="M89.74 111.72L93.12 107.07A97.68 97.68 0 0 0 84.54 101.5L81.67 106.48A91.94 91.94 0 0 1 89.74 111.72Z" fill="#fc8c63" stroke="#fc8c63" stroke-width="0.9"/>
<path d="M93.12 107.07L96.49 102.42A103.43 103.43 0 0 0 87.41 96.53L84.54 101.5A97.68 97.68 0 0 1 93.12 107.07Z" fill="#d6456c" stroke="#d6456c" stroke-width="0.9"/>
<path d="M96.49 102.42L99.87 97.78A109.17 109.17 0 0 0 90.29 91.55L87.41 96.53A103.43 103.43 0 0 1 96.49 102.42Z" fill="#e44f64" stroke="#e44f64" stroke-width="0.9"/>
<path d="M99.87 97.78L103.25 93.13A114.92 114.92 0 0 0 93.16 86.58L90.29 91.55A109.17 109.17 0 0 1 99.87 97.78Z" fill="#ea5661" stroke="#ea5661" stroke-width="0.9"/>
<path d="M103.25 93.13L106.63 88.48A120.67 120.67 0 0 0 96.03 81.6L93.16 86.58A114.92 114.92 0 0 1 103.25 93.13Z" fill="#f4675c" stroke="#f4675c" stroke-width="0.9"/>
<path d="M106.63 88.48L110 83.83A126.41 126.41 0 0 0 98.91 76.62L96.03 81.6A120.67 120.67 0 0 1 106.63 88.48Z" fill="#f9795d" stroke="#f9795d" stroke-width="0.9"/>
<path d="M110 83.83L113.38 79.18A132.16 132.16 0 0 0 101.78 71.65L98.91 76.62A126.41 126.41 0 0 1 110 83.83Z" fill="#feb77e" stroke="#feb77e" stroke-width="0.9"/>
<path d="M113.38 79.18L116.76 74.53A137.9 137.9 0 0 0 104.65 66.67L101.78 71.65A132.16 132.16 0 0 1 113.38 79.18Z" fill="#fed395" stroke="#fed395" stroke-width="0.9"/>
<path d="M116.76 74.53L120.14 69.88A143.65 143.65 0 0 0 107.53 61.7L104.65 66.67A137.9 137.9 0 0 1 116.76 74.53Z" fill="#feb77e" stroke="#feb77e" stroke-width="0.9"/>
<path d="M120.14 69.88L123.51 65.24A149.4 149.4 0 0 0 110.4 56.72L107.53 61.7A143.65 143.65 0 0 1 120.14 69.88Z" fill="#feca8d" stroke="#feca8d" stroke-width="0.9"/>
<path d="M123.51 65.24L126.89 60.59A155.14 155.14 0 0 0 113.27 51.74L110.4 56.72A149.4 149.4 0 0 1 123.51 65.24Z" fill="#feb77e" stroke="#feb77e" stroke-width="0.9"/>
<path d="M126.89 60.59L130.27 55.94A160.89 160.89 0 0 0 116.14 46.77L113.27 51.74A155.14 155.14 0 0 1 126.89 60.59Z" fill="#fec68a" stroke="#fec68a" stroke-width="0.9"/>
<path d="M130.27 55.94L133.65 51.29A166.63 166.63 0 0 0 119.02 41.79L116.14 46.77A160.89 160.89 0 0 1 130.27 55.94Z" fill="#fcf0b2" stroke="#fcf0b2" stroke-width="0.9"/>
<path d="M133.65 51.29L137.02 46.64A172.38 172.38 0 0 0 121.89 36.81L119.02 41.79A166.63 166.63 0 0 1 133.65 51.29Z" fill="#fddea0" stroke="#fddea0" stroke-width="0.9"/>
<path d="M61.56 141.31L64.43 136.34A57.46 57.46 0 0 0 59.07 133.61L56.73 138.86A51.71 51.71 0 0 1 61.56 141.31Z" fill="#f4675c" stroke="#f4675c" stroke-width="0.9"/>
<path d="M64.43 136.34L67.3 131.36A63.21 63.21 0 0 0 61.41 128.36L59.07 133.61A57.46 57.46 0 0 1 64.43 136.34Z" fill="#fb835f" stroke="#fb835f" stroke-width="0.9"/>
<path d="M67.3 131.36L70.18 126.39A68.95 68.95 0 0 0 63.75 123.11L61.41 128.36A63.21 63.21 0 0 1 67.3 131.36Z" fill="#f2625d" stroke="#f2625d" stroke-width="0.9"/>
<path d="M70.18 126.39L73.05 121.41A74.7 74.7 0 0 0 66.08 117.86L63.75 123.11A68.95 68.95 0 0 1 70.18 126.39Z" fill="#de4968" stroke="#de4968" stroke-width="0.9"/>
<path d="M73.05 121.41L75.92 116.43A80.44 80.44 0 0 0 68.42 112.61L66.08 117.86A74.7 74.7 0 0 1 73.05 121.41Z" fill="#fb835f" stroke="#fb835f" stroke-width="0.9"/>
<path d="M75.92 116.43L78.8 111.46A86.19 86.19 0 0 0 70.76 107.36L68.42 112.61A80.44 80.44 0 0 1 75.92 116.43Z" fill="#fe9f6d" stroke="#fe9f6d" stroke-width="0.9"/>
<path d="M78.8 111.46L81.67 106.48A91.94 91.94 0 0 0 73.09 102.11L70.76 107.36A86.19 86.19 0 0 1 78.8 111.46Z" fill="#fec185" stroke="#fec185" stroke-width="0.9"/>
<path d="M81.67 106.48L84.54 101.5A97.68 97.68 0 0 0 75.43 96.86L73.09 102.11A91.94 91.94 0 0 1 81.67 106.48Z" fill="#fed395" stroke="#fed395" stroke-width="0.9"/>
<path d="M84.54 101.5L87.41 96.53A103.43 103.43 0 0 0 77.77 91.61L75.43 96.86A97.68 97.68 0 0 1 84.54 101.5Z" fill="#fc8c63" stroke="#fc8c63" stroke-width="0.9"/>
<path d="M87.41 96.53L90.29 91.55A109.17 109.17 0 0 0 80.11 86.36L77.77 91.61A103.43 103.43 0 0 1 87.41 96.53Z" fill="#fb835f" stroke="#fb835f" stroke-width="0.9"/>
<path d="M90.29 91.55L93.16 86.58A114.92 114.92 0 0 0 82.44 81.12L80.11 86.36A109.17 109.17 0 0 1 90.29 91.55Z" fill="#f2625d" stroke="#f2625d" stroke-width="0.9"/>
<path d="M93.16 86.58L96.03 81.6A120.67 120.67 0 0 0 84.78 75.87L82.44 81.12A114.92 114.92 0 0 1 93.16 86.58Z" fill="#fd9668" stroke="#fd9668" stroke-width="0.9"/>
<path d="M96.03 81.6L98.91 76.62A126.41 126.41 0 0 0 87.12 70.62L84.78 75.87A120.67 120.67 0 0 1 96.03 81.6Z" fill="#f7705c" stroke="#f7705c" stroke-width="0.9"/>
<path d="M98.91 76.62L101.78 71.65A132.16 132.16 0 0 0 89.45 65.37L87.12 70.62A126.41 126.41 0 0 1 98.91 76.62Z" fill="#feae77" stroke="#feae77" stroke-width="0.9"/>
<path d="M101.78 71.65L104.65 66.67A137.9 137.9 0 0 0 91.79 60.12L89.45 65.37A132.16 132.16 0 0 1 101.78 71.65Z" fill="#fed395" stroke="#fed395" stroke-width="0.9"/>
<path d="M104.65 66.67L107.53 61.7A143.65 143.65 0 0 0 94.13 54.87L91.79 60.12A137.9 137.9 0 0 1 104.65 66.67Z" fill="#feae77" stroke="#feae77" stroke-width="0.9"/>
<path d="M107.53 61.7L110.4 56.72A149.4 149.4 0 0 0 96.46 49.62L94.13 54.87A143.65 143.65 0 0 1 107.53 61.7Z" fill="#fd9668" stroke="#fd9668" stroke-width="0.9"/>
<path d="M110.4 56.72L113.27 51.74A155.14 155.14 0 0 0 98.8 44.37L96.46 49.62A149.4 149.4 0 0 1 110.4 56.72Z" fill="#fec185" stroke="#fec185" stroke-width="0.9"/>
<path d="M113.27 51.74L116.14 46.77A160.89 160.89 0 0 0 101.14 39.12L98.8 44.37A155.14 155.14 0 0 1 113.27 51.74Z" fill="#feb77e" stroke="#feb77e" stroke-width="0.9"/>
<path d="M116.14 46.77L119.02 41.79A166.63 166.63 0 0 0 103.48 33.87L101.14 39.12A160.89 160.89 0 0 1 116.14 46.77Z" fill="#feca8d" stroke="#feca8d" stroke-width="0.9"/>
<path d="M119.02 41.79L121.89 36.81A172.38 172.38 0 0 0 105.81 28.62L103.48 33.87A166.63 166.63 0 0 1 119.02 41.79Z" fill="#fddea0" stroke="#fddea0" stroke-width="0.9"/>
<path d="M56.73 138.86L59.07 133.61A57.46 57.46 0 0 0 53.46 131.45L51.68 136.92A51.71 51.71 0 0 1 56.73 138.86Z" fill="#f7705c" stroke="#f7705c" stroke-width="0.9"/>
<path d="M59.07 133.61L61.41 128.36A63.21 63.21 0 0 0 55.23 125.99L53.46 131.45A57.46 57.46 0 0 1 59.07 133.61Z" fill="#de4968" stroke="#de4968" stroke-width="0.9"/>
<path d="M61.41 128.36L63.75 123.11A68.95 68.95 0 0 0 57.01 120.52L55.23 125.99A63.21 63.21 0 0 1 61.41 128.36Z" fill="#ef5d5e" stroke="#ef5d5e" stroke-width="0.9"/>
<path d="M63.75 123.11L66.08 117.86A74.7 74.7 0 0 0 58.78 115.06L57.01 120.52A68.95 68.95 0 0 1 63.75 123.11Z" fill="#de4968" stroke="#de4968" stroke-width="0.9"/>
<path d="M66.08 117.86L68.42 112.61A80.44 80.44 0 0 0 60.56 109.59L58.78 115.06A74.7 74.7 0 0 1 66.08 117.86Z" fill="#d6456c" stroke="#d6456c" stroke-width="0.9"/>
<path d="M68.42 112.61L70.76 107.36A86.19 86.19 0 0 0 62.33 104.13L60.56 109.59A80.44 80.44 0 0 1 68.42 112.61Z" fill="#fe9f6d" stroke="#fe9f6d" stroke-width="0.9"/>
<path d="M70.76 107.36L73.09 102.11A91.94 91.94 0 0 0 64.11 98.66L62.33 104.13A86.19 86.19 0 0 1 70.76 107.36Z" fill="#feb77e" stroke="#feb77e" stroke-width="0.9"/>
<path d="M73.09 102.11L75.43 96.86A97.68 97.68 0 0 0 65.89 93.2L64.11 98.66A91.94 91.94 0 0 1 73.09 102.11Z" fill="#fec185" stroke="#fec185" stroke-width="0.9"/>
<path d="M75.43 96.86L77.77 91.61A103.43 103.43 0 0 0 67.66 87.73L65.89 93.2A97.68 97.68 0 0 1 75.43 96.86Z" fill="#fb835f" stroke="#fb835f" stroke-width="0.9"/>
<path d="M77.77 91.61L80.11 86.36A109.17 109.17 0 0 0 69.44 82.27L67.66 87.73A103.43 103.43 0 0 1 77.77 91.61Z" fill="#ef5d5e" stroke="#ef5d5e" stroke-width="0.9"/>
<path d="M80.11 86.36L82.44 81.12A114.92 114.92 0 0 0 71.21 76.8L69.44 82.27A109.17 109.17 0 0 1 80.11 86.36Z" fill="#f4675c" stroke="#f4675c" stroke-width="0.9"/>
<path d="M82.44 81.12L84.78 75.87A120.67 120.67 0 0 0 72.99 71.34L71.21 76.8A114.92 114.92 0 0 1 82.44 81.12Z" fill="#f9795d" stroke="#f9795d" stroke-width="0.9"/>
<path d="M84.78 75.87L87.12 70.62A126.41 126.41 0 0 0 74.76 65.88L72.99 71.34A120.67 120.67 0 0 1 84.78 75.87Z" fill="#fc8c63" stroke="#fc8c63" stroke-width="0.9"/>
<path d="M87.12 70.62L89.45 65.37A132.16 132.16 0 0 0 76.54 60.41L74.76 65.88A126.41 126.41 0 0 1 87.12 70.62Z" fill="#feae77" stroke="#feae77" stroke-width="0.9"/>
<path d="M89.45 65.37L91.79 60.12A137.9 137.9 0 0 0 78.31 54.95L76.54 60.41A132.16 132.16 0 0 1 89.45 65.37Z" fill="#feb77e" stroke="#feb77e" stroke-width="0.9"/>
<path d="M91.79 60.12L94.13 54.87A143.65 143.65 0 0 0 80.09 49.48L78.31 54.95A137.9 137.9 0 0 1 91.79 60.12Z" fill="#fec68a" stroke="#fec68a" stroke-width="0.9"/>
<path d="M94.13 54.87L96.46 49.62A149.4 149.4 0 0 0 81.87 44.02L80.09 49.48A143.65 143.65 0 0 1 94.13 54.87Z" fill="#feb77e" stroke="#feb77e" stroke-width="0.9"/>
<path d="M96.46 49.62L98.8 44.37A155.14 155.14 0 0 0 83.64 38.55L81.87 44.02A149.4 149.4 0 0 1 96.46 49.62Z" fill="#feca8d" stroke="#feca8d" stroke-width="0.9"/>
<path d="M98.8 44.37L101.14 39.12A160.89 160.89 0 0 0 85.42 33.09L83.64 38.55A155.14 155.14 0 0 1 98.8 44.37Z" fill="#fecf92" stroke="#fecf92" stroke-width="0.9"/>
<path d="M101.14 39.12L103.48 33.87A166.63 166.63 0 0 0 87.19 27.62L85.42 33.09A160.89 160.89 0 0 1 101.14 39.12Z" fill="#fddea0" stroke="#fddea0" stroke-width="0.9"/>
<path d="M103.48 33.87L105.81 28.62A172.38 172.38 0 0 0 88.97 22.16L87.19 27.62A166.63 166.63 0 0 1 103.48 33.87Z" fill="#fde7a9" stroke="#fde7a9" stroke-width="0.9"/>
<path d="M51.68 136.92L53.46 131.45A57.46 57.46 0 0 0 47.65 129.9L46.45 135.52A51.71 51.71 0 0 1 51.68 136.92Z" fill="#ea5661" stroke="#ea5661" stroke-width="0.9"/>
<path d="M53.46 131.45L55.23 125.99A63.21 63.21 0 0 0 48.84 124.28L47.65 129.9A57.46 57.46 0 0 1 53.46 131.45Z" fill="#d6456c" stroke="#d6456c" stroke-width="0.9"/>
<path d="M55.23 125.99L57.01 120.52A68.95 68.95 0 0 0 50.04 118.65L48.84 124.28A63.21 63.21 0 0 1 55.23 125.99Z" fill="#ef5d5e" stroke="#ef5d5e" stroke-width="0.9"/>
<path d="M57.01 120.52L58.78 115.06A74.7 74.7 0 0 0 51.23 113.03L50.04 118.65A68.95 68.95 0 0 1 57.01 120.52Z" fill="#d2426f" stroke="#d2426f" stroke-width="0.9"/>
<path d="M58.78 115.06L60.56 109.59A80.44 80.44 0 0 0 52.43 107.41L51.23 113.03A74.7 74.7 0 0 1 58.78 115.06Z" fill="#d2426f" stroke="#d2426f" stroke-width="0.9"/>
<path d="M60.56 109.59L62.33 104.13A86.19 86.19 0 0 0 53.62 101.79L52.43 107.41A80.44 80.44 0 0 1 60.56 109.59Z" fill="#f7705c" stroke="#f7705c" stroke-width="0.9"/>
<path d="M62.33 104.13L64.11 98.66A91.94 91.94 0 0 0 54.81 96.17L53.62 101.79A86.19 86.19 0 0 1 62.33 104.13Z" fill="#fd9668" stroke="#fd9668" stroke-width="0.9"/>
<path d="M64.11 98.66L65.89 93.2A97.68 97.68 0 0 0 56.01 90.55L54.81 96.17A91.94 91.94 0 0 1 64.11 98.66Z" fill="#feb77e" stroke="#feb77e" stroke-width="0.9"/>
<path d="M65.89 93.2L67.66 87.73A103.43 103.43 0 0 0 57.2 84.93L56.01 90.55A97.68 97.68 0 0 1 65.89 93.2Z" fill="#feae77" stroke="#feae77" stroke-width="0.9"/>
<path d="M67.66 87.73L69.44 82.27A109.17 109.17 0 0 0 58.4 79.31L57.2 84.93A103.43 103.43 0 0 1 67.66 87.73Z" fill="#fc8c63" stroke="#fc8c63" stroke-width="0.9"/>
<path d="M69.44 82.27L71.21 76.8A114.92 114.92 0 0 0 59.59 73.69L58.4 79.31A109.17 109.17 0 0 1 69.44 82.27Z" fill="#fec185" stroke="#fec185" stroke-width="0.9"/>
<path d="M71.21 76.8L72.99 71.34A120.67 120.67 0 0 0 60.79 68.07L59.59 73.69A114.92 114.92 0 0 1 71.21 76.8Z" fill="#fe9f6d" stroke="#fe9f6d" stroke-width="0.9"/>
<path d="M72.99 71.34L74.76 65.88A126.41 126.41 0 0 0 61.98 62.45L60.79 68.07A120.67 120.67 0 0 1 72.99 71.34Z" fill="#fd9668" stroke="#fd9668" stroke-width="0.9"/>
<path d="M74.76 65.88L76.54 60.41A132.16 132.16 0 0 0 63.18 56.83L61.98 62.45A126.41 126.41 0 0 1 74.76 65.88Z" fill="#fec185" stroke="#fec185" stroke-width="0.9"/>
<path d="M76.54 60.41L78.31 54.95A137.9 137.9 0 0 0 64.37 51.21L63.18 56.83A132.16 132.16 0 0 1 76.54 60.41Z" fill="#feb77e" stroke="#feb77e" stroke-width="0.9"/>
<path d="M78.31 54.95L80.09 49.48A143.65 143.65 0 0 0 65.57 45.59L64.37 51.21A137.9 137.9 0 0 1 78.31 54.95Z" fill="#fec185" stroke="#fec185" stroke-width="0.9"/>
<path d="M80.09 49.48L81.87 44.02A149.4 149.4 0 0 0 66.76 39.97L65.57 45.59A143.65 143.65 0 0 1 80.09 49.48Z" fill="#fed395" stroke="#fed395" stroke-width="0.9"/>
<path d="M81.87 44.02L83.64 38.55A155.14 155.14 0 0 0 67.96 34.35L66.76 39.97A149.4 149.4 0 0 1 81.87 44.02Z" fill="#fddea0" stroke="#fddea0" stroke-width="0.9"/>
<path d="M83.64 38.55L85.42 33.09A160.89 160.89 0 0 0 69.15 28.73L67.96 34.35A155.14 155.14 0 0 1 83.64 38.55Z" fill="#fcf0b2" stroke="#fcf0b2" stroke-width="0.9"/>
<path d="M85.42 33.09L87.19 27.62A166.63 166.63 0 0 0 70.35 23.11L69.15 28.73A160.89 160.89 0 0 1 85.42 33.09Z" fill="#fdebac" stroke="#fdebac" stroke-width="0.9"/>
<path d="M87.19 27.62L88.97 22.16A172.38 172.38 0 0 0 71.54 17.49L70.35 23.11A166.63 166.63 0 0 1 87.19 27.62Z" fill="#fddea0" stroke="#fddea0" stroke-width="0.9"/>
<path d="M46.45 135.52L47.65 129.9A57.46 57.46 0 0 0 41.71 128.95L41.11 134.67A51.71 51.71 0 0 1 46.45 135.52Z" fill="#ed5a5f" stroke="#ed5a5f" stroke-width="0.9"/>
<path d="M47.65 129.9L48.84 124.28A63.21 63.21 0 0 0 42.31 123.24L41.71 128.95A57.46 57.46 0 0 1 47.65 129.9Z" fill="#7c2382" stroke="#7c2382" stroke-width="0.9"/>
<path d="M48.84 124.28L50.04 118.65A68.95 68.95 0 0 0 42.91 117.53L42.31 123.24A63.21 63.21 0 0 1 48.84 124.28Z" fill="#ea5661" stroke="#ea5661" stroke-width="0.9"/>
<path d="M50.04 118.65L51.23 113.03A74.7 74.7 0 0 0 43.51 111.81L42.91 117.53A68.95 68.95 0 0 1 50.04 118.65Z" fill="#f7705c" stroke="#f7705c" stroke-width="0.9"/>
<path d="M51.23 113.03L52.43 107.41A80.44 80.44 0 0 0 44.11 106.1L43.51 111.81A74.7 74.7 0 0 1 51.23 113.03Z" fill="#f2625d" stroke="#f2625d" stroke-width="0.9"/>
<path d="M52.43 107.41L53.62 101.79A86.19 86.19 0 0 0 44.71 100.38L44.11 106.1A80.44 80.44 0 0 1 52.43 107.41Z" fill="#de4968" stroke="#de4968" stroke-width="0.9"/>
<path d="M53.62 101.79L54.81 96.17A91.94 91.94 0 0 0 45.31 94.67L44.71 100.38A86.19 86.19 0 0 1 53.62 101.79Z" fill="#f9795d" stroke="#f9795d" stroke-width="0.9"/>
<path d="M54.81 96.17L56.01 90.55A97.68 97.68 0 0 0 45.91 88.95L45.31 94.67A91.94 91.94 0 0 1 54.81 96.17Z" fill="#feae77" stroke="#feae77" stroke-width="0.9"/>
<path d="M56.01 90.55L57.2 84.93A103.43 103.43 0 0 0 46.51 83.24L45.91 88.95A97.68 97.68 0 0 1 56.01 90.55Z" fill="#fb835f" stroke="#fb835f" stroke-width="0.9"/>
<path d="M57.2 84.93L58.4 79.31A109.17 109.17 0 0 0 47.11 77.52L46.51 83.24A103.43 103.43 0 0 1 57.2 84.93Z" fill="#f2625d" stroke="#f2625d" stroke-width="0.9"/>
<path d="M58.4 79.31L59.59 73.69A114.92 114.92 0 0 0 47.71 71.81L47.11 77.52A109.17 109.17 0 0 1 58.4 79.31Z" fill="#ef5d5e" stroke="#ef5d5e" stroke-width="0.9"/>
<path d="M59.59 73.69L60.79 68.07A120.67 120.67 0 0 0 48.31 66.1L47.71 71.81A114.92 114.92 0 0 1 59.59 73.69Z" fill="#fc8c63" stroke="#fc8c63" stroke-width="0.9"/>
<path d="M60.79 68.07L61.98 62.45A126.41 126.41 0 0 0 48.91 60.38L48.31 66.1A120.67 120.67 0 0 1 60.79 68.07Z" fill="#fc8c63" stroke="#fc8c63" stroke-width="0.9"/>
<path d="M61.98 62.45L63.18 56.83A132.16 132.16 0 0 0 49.51 54.67L48.91 60.38A126.41 126.41 0 0 1 61.98 62.45Z" fill="#fe9f6d" stroke="#fe9f6d" stroke-width="0.9"/>
<path d="M63.18 56.83L64.37 51.21A137.9 137.9 0 0 0 50.11 48.95L49.51 54.67A132.16 132.16 0 0 1 63.18 56.83Z" fill="#feb77e" stroke="#feb77e" stroke-width="0.9"/>
<path d="M64.37 51.21L65.57 45.59A143.65 143.65 0 0 0 50.72 43.24L50.11 48.95A137.9 137.9 0 0 1 64.37 51.21Z" fill="#feca8d" stroke="#feca8d" stroke-width="0.9"/>
<path d="M65.57 45.59L66.76 39.97A149.4 149.4 0 0 0 51.32 37.52L50.72 43.24A143.65 143.65 0 0 1 65.57 45.59Z" fill="#fed395" stroke="#fed395" stroke-width="0.9"/>
<path d="M66.76 39.97L67.96 34.35A155.14 155.14 0 0 0 51.92 31.81L51.32 37.52A149.4 149.4 0 0 1 66.76 39.97Z" fill="#fddea0" stroke="#fddea0" stroke-width="0.9"/>
<path d="M67.96 34.35L69.15 28.73A160.89 160.89 0 0 0 52.52 26.09L51.92 31.81A155.14 155.14 0 0 1 67.96 34.35Z" fill="#fde7a9" stroke="#fde7a9" stroke-width="0.9"/>
<path d="M69.15 28.73L70.35 23.11A166.63 166.63 0 0 0 53.12 20.38L52.52 26.09A160.89 160.89 0 0 1 69.15 28.73Z" fill="#fed395" stroke="#fed395" stroke-width="0.9"/>
<path d="M70.35 23.11L71.54 17.49A172.38 172.38 0 0 0 53.72 14.66L53.12 20.38A166.63 166.63 0 0 1 70.35 23.11Z" fill="#fddea0" stroke="#fddea0" stroke-width="0.9"/>
<path d="M41.11 134.67L41.71 128.95A57.46 57.46 0 0 0 35.7 128.64L35.7 134.39A51.71 51.71 0 0 1 41.11 134.67Z" fill="#ea5661" stroke="#ea5661" stroke-width="0.9"/>
<path d="M41.71 128.95L42.31 123.24A63.21 63.21 0 0 0 35.7 122.89L35.7 128.64A57.46 57.46 0 0 1 41.71 128.95Z" fill="#992d80" stroke="#992d80" stroke-width="0.9"/>
<path d="M42.31 123.24L42.91 117.53A68.95 68.95 0 0 0 35.7 117.15L35.7 122.89A63.21 63.21 0 0 1 42.31 123.24Z" fill="#ef5d5e" stroke="#ef5d5e" stroke-width="0.9"/>
<path d="M42.91 117.53L43.51 111.81A74.7 74.7 0 0 0 35.7 111.4L35.7 117.15A68.95 68.95 0 0 1 42.91 117.53Z" fill="#f7705c" stroke="#f7705c" stroke-width="0.9"/>
<path d="M43.51 111.81L44.11 106.1A80.44 80.44 0 0 0 35.7 105.66L35.7 111.4A74.7 74.7 0 0 1 43.51 111.81Z" fill="#f9795d" stroke="#f9795d" stroke-width="0.9"/>
<path d="M44.11 106.1L44.71 100.38A86.19 86.19 0 0 0 35.7 99.91L35.7 105.66A80.44 80.44 0 0 1 44.11 106.1Z" fill="#f4675c" stroke="#f4675c" stroke-width="0.9"/>
<path d="M44.71 100.38L45.31 94.67A91.94 91.94 0 0 0 35.7 94.16L35.7 99.91A86.19 86.19 0 0 1 44.71 100.38Z" fill="#f9795d" stroke="#f9795d" stroke-width="0.9"/>
<path d="M45.31 94.67L45.91 88.95A97.68 97.68 0 0 0 35.7 88.42L35.7 94.16A91.94 91.94 0 0 1 45.31 94.67Z" fill="#fc8c63" stroke="#fc8c63" stroke-width="0.9"/>
<path d="M45.91 88.95L46.51 83.24A103.43 103.43 0 0 0 35.7 82.67L35.7 88.42A97.68 97.68 0 0 1 45.91 88.95Z" fill="#feb77e" stroke="#feb77e" stroke-width="0.9"/>
<path d="M46.51 83.24L47.11 77.52A109.17 109.17 0 0 0 35.7 76.93L35.7 82.67A103.43 103.43 0 0 1 46.51 83.24Z" fill="#fc8c63" stroke="#fc8c63" stroke-width="0.9"/>
<path d="M47.11 77.52L47.71 71.81A114.92 114.92 0 0 0 35.7 71.18L35.7 76.93A109.17 109.17 0 0 1 47.11 77.52Z" fill="#f9795d" stroke="#f9795d" stroke-width="0.9"/>
<path d="M47.71 71.81L48.31 66.1A120.67 120.67 0 0 0 35.7 65.43L35.7 71.18A114.92 114.92 0 0 1 47.71 71.81Z" fill="#f4675c" stroke="#f4675c" stroke-width="0.9"/>
<path d="M48.31 66.1L48.91 60.38A126.41 126.41 0 0 0 35.7 59.69L35.7 65.43A120.67 120.67 0 0 1 48.31 66.1Z" fill="#fb835f" stroke="#fb835f" stroke-width="0.9"/>
<path d="M48.91 60.38L49.51 54.67A132.16 132.16 0 0 0 35.7 53.94L35.7 59.69A126.41 126.41 0 0 1 48.91 60.38Z" fill="#fd9668" stroke="#fd9668" stroke-width="0.9"/>
<path d="M49.51 54.67L50.11 48.95A137.9 137.9 0 0 0 35.7 48.2L35.7 53.94A132.16 132.16 0 0 1 49.51 54.67Z" fill="#feb77e" stroke="#feb77e" stroke-width="0.9"/>
<path d="M50.11 48.95L50.72 43.24A143.65 143.65 0 0 0 35.7 42.45L35.7 48.2A137.9 137.9 0 0 1 50.11 48.95Z" fill="#fed395" stroke="#fed395" stroke-width="0.9"/>
<path d="M50.72 43.24L51.32 37.52A149.4 149.4 0 0 0 35.7 36.7L35.7 42.45A143.65 143.65 0 0 1 50.72 43.24Z" fill="#fec68a" stroke="#fec68a" stroke-width="0.9"/>
<path d="M51.32 37.52L51.92 31.81A155.14 155.14 0 0 0 35.7 30.96L35.7 36.7A149.4 149.4 0 0 1 51.32 37.52Z" fill="#fecf92" stroke="#fecf92" stroke-width="0.9"/>
<path d="M51.92 31.81L52.52 26.09A160.89 160.89 0 0 0 35.7 25.21L35.7 30.96A155.14 155.14 0 0 1 51.92 31.81Z" fill="#fdebac" stroke="#fdebac" stroke-width="0.9"/>
<path d="M52.52 26.09L53.12 20.38A166.63 166.63 0 0 0 35.7 19.47L35.7 25.21A160.89 160.89 0 0 1 52.52 26.09Z" fill="#fde7a9" stroke="#fde7a9" stroke-width="0.9"/>
<path d="M53.12 20.38L53.72 14.66A172.38 172.38 0 0 0 35.7 13.72L35.7 19.47A166.63 166.63 0 0 1 53.12 20.38Z" fill="#fddea0" stroke="#fddea0" stroke-width="0.9"/>
</g>
<path d="M35.7 13.72V186.1M35.2 186.1H208.08" stroke="#7a7a7a" stroke-width="1" fill="none"/>
<path d="M208.08 186.1A172.38 172.38 0 0 0 35.7 13.72" stroke="#222" stroke-width="0.8" fill="none"/>
<line x1="205.46" y1="156.17" x2="200.93" y2="156.97" stroke="#111" stroke-width="1.3"/>
<line x1="197.68" y1="127.14" x2="193.36" y2="128.72" stroke="#111" stroke-width="1.3"/>
<line x1="184.99" y1="99.91" x2="181" y2="102.21" stroke="#111" stroke-width="1.3"/>
<line x1="167.75" y1="75.3" x2="164.23" y2="78.25" stroke="#111" stroke-width="1.3"/>
<line x1="146.5" y1="54.05" x2="143.55" y2="57.57" stroke="#111" stroke-width="1.3"/>
<line x1="121.89" y1="36.81" x2="119.59" y2="40.8" stroke="#111" stroke-width="1.3"/>
<line x1="94.66" y1="24.12" x2="93.08" y2="28.44" stroke="#111" stroke-width="1.3"/>
<line x1="65.63" y1="16.34" x2="64.83" y2="20.87" stroke="#111" stroke-width="1.3"/>
<text x="218.2" y="189.1" font-size="8.4" text-anchor="middle" textLength="8.4" lengthAdjust="spacingAndGlyphs" fill="#222">0°</text>
<text x="207.19" y="126.68" font-size="8.4" text-anchor="middle" textLength="13.6" lengthAdjust="spacingAndGlyphs" fill="#222">20°</text>
<text x="175.5" y="71.79" font-size="8.4" text-anchor="middle" textLength="13.6" lengthAdjust="spacingAndGlyphs" fill="#222">40°</text>
<text x="126.95" y="31.05" font-size="8.4" text-anchor="middle" textLength="13.6" lengthAdjust="spacingAndGlyphs" fill="#222">60°</text>
<text x="67.39" y="9.37" font-size="8.4" text-anchor="middle" textLength="13.6" lengthAdjust="spacingAndGlyphs" fill="#222">80°</text>
<line x1="64.43" y1="184.1" x2="64.43" y2="188.1" stroke="#111" stroke-width="1"/>
<text x="64.43" y="195.7" font-size="8.2" text-anchor="middle" textLength="5.1" lengthAdjust="spacingAndGlyphs" fill="#222">1</text>
<line x1="33.7" y1="157.37" x2="37.7" y2="157.37" stroke="#111" stroke-width="1"/>
<text x="31.2" y="160.27" font-size="8.2" text-anchor="end" textLength="5.1" lengthAdjust="spacingAndGlyphs" fill="#222">1</text>
<line x1="93.16" y1="184.1" x2="93.16" y2="188.1" stroke="#111" stroke-width="1"/>
<text x="93.16" y="195.7" font-size="8.2" text-anchor="middle" textLength="5.1" lengthAdjust="spacingAndGlyphs" fill="#222">2</text>
<line x1="33.7" y1="128.64" x2="37.7" y2="128.64" stroke="#111" stroke-width="1"/>
<text x="31.2" y="131.54" font-size="8.2" text-anchor="end" textLength="5.1" lengthAdjust="spacingAndGlyphs" fill="#222">2</text>
<line x1="121.89" y1="184.1" x2="121.89" y2="188.1" stroke="#111" stroke-width="1"/>
<text x="121.89" y="195.7" font-size="8.2" text-anchor="middle" textLength="5.1" lengthAdjust="spacingAndGlyphs" fill="#222">3</text>
<line x1="33.7" y1="99.91" x2="37.7" y2="99.91" stroke="#111" stroke-width="1"/>
<text x="31.2" y="102.81" font-size="8.2" text-anchor="end" textLength="5.1" lengthAdjust="spacingAndGlyphs" fill="#222">3</text>
<line x1="150.62" y1="184.1" x2="150.62" y2="188.1" stroke="#111" stroke-width="1"/>
<text x="150.62" y="195.7" font-size="8.2" text-anchor="middle" textLength="5.1" lengthAdjust="spacingAndGlyphs" fill="#222">4</text>
<line x1="33.7" y1="71.18" x2="37.7" y2="71.18" stroke="#111" stroke-width="1"/>
<text x="31.2" y="74.08" font-size="8.2" text-anchor="end" textLength="5.1" lengthAdjust="spacingAndGlyphs" fill="#222">4</text>
<line x1="179.35" y1="184.1" x2="179.35" y2="188.1" stroke="#111" stroke-width="1"/>
<text x="179.35" y="195.7" font-size="8.2" text-anchor="middle" textLength="5.1" lengthAdjust="spacingAndGlyphs" fill="#222">5</text>
<line x1="33.7" y1="42.45" x2="37.7" y2="42.45" stroke="#111" stroke-width="1"/>
<text x="31.2" y="45.35" font-size="8.2" text-anchor="end" textLength="5.1" lengthAdjust="spacingAndGlyphs" fill="#222">5</text>
<text x="121.89" y="204.1" font-size="11" text-anchor="middle" textLength="28.5" lengthAdjust="spacingAndGlyphs" fill="#222"><tspan font-style="italic">ℓ</tspan>(<tspan font-style="italic">µ</tspan>m)</text>
<text transform="translate(24.1 100.71) rotate(-90)" font-size="11" text-anchor="middle" textLength="28" lengthAdjust="spacingAndGlyphs" fill="#222"><tspan font-style="italic">ℓ</tspan>(<tspan font-style="italic">µ</tspan>m)</text>
<g>
<path d="M362.01 184.2L367.75 184.2A68.95 68.95 0 0 0 367.37 176.99L361.66 177.59A63.21 63.21 0 0 1 362.01 184.2Z" fill="#fcf9bb" stroke="#fcf9bb" stroke-width="0.9"/>
<path d="M367.75 184.2L373.5 184.2A74.7 74.7 0 0 0 373.09 176.39L367.37 176.99A68.95 68.95 0 0 1 367.75 184.2Z" fill="#fcf4b6" stroke="#fcf4b6" stroke-width="0.9"/>
<path d="M373.5 184.2L379.24 184.2A80.44 80.44 0 0 0 378.8 175.79L373.09 176.39A74.7 74.7 0 0 1 373.5 184.2Z" fill="#fde7a9" stroke="#fde7a9" stroke-width="0.9"/>
<path d="M379.24 184.2L384.99 184.2A86.19 86.19 0 0 0 384.52 175.19L378.8 175.79A80.44 80.44 0 0 1 379.24 184.2Z" fill="#ea5661" stroke="#ea5661" stroke-width="0.9"/>
<path d="M384.99 184.2L390.74 184.2A91.94 91.94 0 0 0 390.23 174.59L384.52 175.19A86.19 86.19 0 0 1 384.99 184.2Z" fill="#b73779" stroke="#b73779" stroke-width="0.9"/>
<path d="M390.74 184.2L396.48 184.2A97.68 97.68 0 0 0 395.95 173.99L390.23 174.59A91.94 91.94 0 0 1 390.74 184.2Z" fill="#b2357b" stroke="#b2357b" stroke-width="0.9"/>
<path d="M396.48 184.2L402.23 184.2A103.43 103.43 0 0 0 401.66 173.39L395.95 173.99A97.68 97.68 0 0 1 396.48 184.2Z" fill="#b2357b" stroke="#b2357b" stroke-width="0.9"/>
<path d="M402.23 184.2L407.97 184.2A109.17 109.17 0 0 0 407.38 172.79L401.66 173.39A103.43 103.43 0 0 1 402.23 184.2Z" fill="#ba3878" stroke="#ba3878" stroke-width="0.9"/>
<path d="M407.97 184.2L413.72 184.2A114.92 114.92 0 0 0 413.09 172.19L407.38 172.79A109.17 109.17 0 0 1 407.97 184.2Z" fill="#f7705c" stroke="#f7705c" stroke-width="0.9"/>
<path d="M413.72 184.2L419.47 184.2A120.67 120.67 0 0 0 418.8 171.59L413.09 172.19A114.92 114.92 0 0 1 413.72 184.2Z" fill="#fed395" stroke="#fed395" stroke-width="0.9"/>
<path d="M419.47 184.2L425.21 184.2A126.41 126.41 0 0 0 424.52 170.99L418.8 171.59A120.67 120.67 0 0 1 419.47 184.2Z" fill="#fddea0" stroke="#fddea0" stroke-width="0.9"/>
<path d="M425.21 184.2L430.96 184.2A132.16 132.16 0 0 0 430.23 170.39L424.52 170.99A126.41 126.41 0 0 1 425.21 184.2Z" fill="#fddea0" stroke="#fddea0" stroke-width="0.9"/>
<path d="M430.96 184.2L436.7 184.2A137.9 137.9 0 0 0 435.95 169.79L430.23 170.39A132.16 132.16 0 0 1 430.96 184.2Z" fill="#fed395" stroke="#fed395" stroke-width="0.9"/>
<path d="M436.7 184.2L442.45 184.2A143.65 143.65 0 0 0 441.66 169.18L435.95 169.79A137.9 137.9 0 0 1 436.7 184.2Z" fill="#fddea0" stroke="#fddea0" stroke-width="0.9"/>
<path d="M442.45 184.2L448.2 184.2A149.4 149.4 0 0 0 447.38 168.58L441.66 169.18A143.65 143.65 0 0 1 442.45 184.2Z" fill="#fde7a9" stroke="#fde7a9" stroke-width="0.9"/>
<path d="M448.2 184.2L453.94 184.2A155.14 155.14 0 0 0 453.09 167.98L447.38 168.58A149.4 149.4 0 0 1 448.2 184.2Z" fill="#fde7a9" stroke="#fde7a9" stroke-width="0.9"/>
<path d="M453.94 184.2L459.69 184.2A160.89 160.89 0 0 0 458.81 167.38L453.09 167.98A155.14 155.14 0 0 1 453.94 184.2Z" fill="#fde7a9" stroke="#fde7a9" stroke-width="0.9"/>
<path d="M459.69 184.2L465.43 184.2A166.63 166.63 0 0 0 464.52 166.78L458.81 167.38A160.89 160.89 0 0 1 459.69 184.2Z" fill="#fcf0b2" stroke="#fcf0b2" stroke-width="0.9"/>
<path d="M465.43 184.2L471.18 184.2A172.38 172.38 0 0 0 470.24 166.18L464.52 166.78A166.63 166.63 0 0 1 465.43 184.2Z" fill="#fcf4b6" stroke="#fcf4b6" stroke-width="0.9"/>
<path d="M350.23 178.79L355.95 178.19A57.46 57.46 0 0 0 355 172.25L349.38 173.45A51.71 51.71 0 0 1 350.23 178.79Z" fill="#fcfdbf" stroke="#fcfdbf" stroke-width="0.9"/>
<path d="M355.95 178.19L361.66 177.59A63.21 63.21 0 0 0 360.62 171.06L355 172.25A57.46 57.46 0 0 1 355.95 178.19Z" fill="#fcf9bb" stroke="#fcf9bb" stroke-width="0.9"/>
<path d="M367.37 176.99L373.09 176.39A74.7 74.7 0 0 0 371.87 168.67L366.25 169.86A68.95 68.95 0 0 1 367.37 176.99Z" fill="#fdebac" stroke="#fdebac" stroke-width="0.9"/>
<path d="M373.09 176.39L378.8 175.79A80.44 80.44 0 0 0 377.49 167.47L371.87 168.67A74.7 74.7 0 0 1 373.09 176.39Z" fill="#fed395" stroke="#fed395" stroke-width="0.9"/>
<path d="M378.8 175.79L384.52 175.19A86.19 86.19 0 0 0 383.11 166.28L377.49 167.47A80.44 80.44 0 0 1 378.8 175.79Z" fill="#feae77" stroke="#feae77" stroke-width="0.9"/>
<path d="M384.52 175.19L390.23 174.59A91.94 91.94 0 0 0 388.73 165.09L383.11 166.28A86.19 86.19 0 0 1 384.52 175.19Z" fill="#f7705c" stroke="#f7705c" stroke-width="0.9"/>
<path d="M390.23 174.59L395.95 173.99A97.68 97.68 0 0 0 394.35 163.89L388.73 165.09A91.94 91.94 0 0 1 390.23 174.59Z" fill="#ef5d5e" stroke="#ef5d5e" stroke-width="0.9"/>
<path d="M395.95 173.99L401.66 173.39A103.43 103.43 0 0 0 399.97 162.7L394.35 163.89A97.68 97.68 0 0 1 395.95 173.99Z" fill="#ea5661" stroke="#ea5661" stroke-width="0.9"/>
<path d="M401.66 173.39L407.38 172.79A109.17 109.17 0 0 0 405.59 161.5L399.97 162.7A103.43 103.43 0 0 1 401.66 173.39Z" fill="#f2625d" stroke="#f2625d" stroke-width="0.9"/>
<path d="M407.38 172.79L413.09 172.19A114.92 114.92 0 0 0 411.21 160.31L405.59 161.5A109.17 109.17 0 0 1 407.38 172.79Z" fill="#fb835f" stroke="#fb835f" stroke-width="0.9"/>
<path d="M413.09 172.19L418.8 171.59A120.67 120.67 0 0 0 416.83 159.11L411.21 160.31A114.92 114.92 0 0 1 413.09 172.19Z" fill="#feae77" stroke="#feae77" stroke-width="0.9"/>
<path d="M418.8 171.59L424.52 170.99A126.41 126.41 0 0 0 422.45 157.92L416.83 159.11A120.67 120.67 0 0 1 418.8 171.59Z" fill="#fed395" stroke="#fed395" stroke-width="0.9"/>
<path d="M424.52 170.99L430.23 170.39A132.16 132.16 0 0 0 428.07 156.72L422.45 157.92A126.41 126.41 0 0 1 424.52 170.99Z" fill="#fec68a" stroke="#fec68a" stroke-width="0.9"/>
<path d="M430.23 170.39L435.95 169.79A137.9 137.9 0 0 0 433.69 155.53L428.07 156.72A132.16 132.16 0 0 1 430.23 170.39Z" fill="#fec68a" stroke="#fec68a" stroke-width="0.9"/>
<path d="M435.95 169.79L441.66 169.18A143.65 143.65 0 0 0 439.31 154.33L433.69 155.53A137.9 137.9 0 0 1 435.95 169.79Z" fill="#fddea0" stroke="#fddea0" stroke-width="0.9"/>
<path d="M441.66 169.18L447.38 168.58A149.4 149.4 0 0 0 444.93 153.14L439.31 154.33A143.65 143.65 0 0 1 441.66 169.18Z" fill="#fddea0" stroke="#fddea0" stroke-width="0.9"/>
<path d="M447.38 168.58L453.09 167.98A155.14 155.14 0 0 0 450.55 151.94L444.93 153.14A149.4 149.4 0 0 1 447.38 168.58Z" fill="#fed395" stroke="#fed395" stroke-width="0.9"/>
<path d="M453.09 167.98L458.81 167.38A160.89 160.89 0 0 0 456.17 150.75L450.55 151.94A155.14 155.14 0 0 1 453.09 167.98Z" fill="#fddea0" stroke="#fddea0" stroke-width="0.9"/>
<path d="M458.81 167.38L464.52 166.78A166.63 166.63 0 0 0 461.79 149.55L456.17 150.75A160.89 160.89 0 0 1 458.81 167.38Z" fill="#fde7a9" stroke="#fde7a9" stroke-width="0.9"/>
<path d="M464.52 166.78L470.24 166.18A172.38 172.38 0 0 0 467.41 148.36L461.79 149.55A166.63 166.63 0 0 1 464.52 166.78Z" fill="#fcf4b6" stroke="#fcf4b6" stroke-width="0.9"/>
<path d="M349.38 173.45L355 172.25A57.46 57.46 0 0 0 353.45 166.44L347.98 168.22A51.71 51.71 0 0 1 349.38 173.45Z" fill="#fcf9bb" stroke="#fcf9bb" stroke-width="0.9"/>
<path d="M355 172.25L360.62 171.06A63.21 63.21 0 0 0 358.91 164.67L353.45 166.44A57.46 57.46 0 0 1 355 172.25Z" fill="#fcf9bb" stroke="#fcf9bb" stroke-width="0.9"/>
<path d="M360.62 171.06L366.25 169.86A68.95 68.95 0 0 0 364.38 162.89L358.91 164.67A63.21 63.21 0 0 1 360.62 171.06Z" fill="#fcf4b6" stroke="#fcf4b6" stroke-width="0.9"/>
<path d="M366.25 169.86L371.87 168.67A74.7 74.7 0 0 0 369.84 161.12L364.38 162.89A68.95 68.95 0 0 1 366.25 169.86Z" fill="#fddea0" stroke="#fddea0" stroke-width="0.9"/>
<path d="M371.87 168.67L377.49 167.47A80.44 80.44 0 0 0 375.31 159.34L369.84 161.12A74.7 74.7 0 0 1 371.87 168.67Z" fill="#fecf92" stroke="#fecf92" stroke-width="0.9"/>
<path d="M377.49 167.47L383.11 166.28A86.19 86.19 0 0 0 380.77 157.57L375.31 159.34A80.44 80.44 0 0 1 377.49 167.47Z" fill="#feae77" stroke="#feae77" stroke-width="0.9"/>
<path d="M383.11 166.28L388.73 165.09A91.94 91.94 0 0 0 386.24 155.79L380.77 157.57A86.19 86.19 0 0 1 383.11 166.28Z" fill="#f7705c" stroke="#f7705c" stroke-width="0.9"/>
<path d="M388.73 165.09L394.35 163.89A97.68 97.68 0 0 0 391.7 154.01L386.24 155.79A91.94 91.94 0 0 1 388.73 165.09Z" fill="#f4675c" stroke="#f4675c" stroke-width="0.9"/>
<path d="M394.35 163.89L399.97 162.7A103.43 103.43 0 0 0 397.17 152.24L391.7 154.01A97.68 97.68 0 0 1 394.35 163.89Z" fill="#f7705c" stroke="#f7705c" stroke-width="0.9"/>
<path d="M399.97 162.7L405.59 161.5A109.17 109.17 0 0 0 402.63 150.46L397.17 152.24A103.43 103.43 0 0 1 399.97 162.7Z" fill="#fb835f" stroke="#fb835f" stroke-width="0.9"/>
<path d="M405.59 161.5L411.21 160.31A114.92 114.92 0 0 0 408.1 148.69L402.63 150.46A109.17 109.17 0 0 1 405.59 161.5Z" fill="#f4675c" stroke="#f4675c" stroke-width="0.9"/>
<path d="M411.21 160.31L416.83 159.11A120.67 120.67 0 0 0 413.56 146.91L408.1 148.69A114.92 114.92 0 0 1 411.21 160.31Z" fill="#fc8c63" stroke="#fc8c63" stroke-width="0.9"/>
<path d="M416.83 159.11L422.45 157.92A126.41 126.41 0 0 0 419.02 145.14L413.56 146.91A120.67 120.67 0 0 1 416.83 159.11Z" fill="#feae77" stroke="#feae77" stroke-width="0.9"/>
<path d="M422.45 157.92L428.07 156.72A132.16 132.16 0 0 0 424.49 143.36L419.02 145.14A126.41 126.41 0 0 1 422.45 157.92Z" fill="#fec185" stroke="#fec185" stroke-width="0.9"/>
<path d="M428.07 156.72L433.69 155.53A137.9 137.9 0 0 0 429.95 141.59L424.49 143.36A132.16 132.16 0 0 1 428.07 156.72Z" fill="#fed395" stroke="#fed395" stroke-width="0.9"/>
<path d="M433.69 155.53L439.31 154.33A143.65 143.65 0 0 0 435.42 139.81L429.95 141.59A137.9 137.9 0 0 1 433.69 155.53Z" fill="#fecf92" stroke="#fecf92" stroke-width="0.9"/>
<path d="M439.31 154.33L444.93 153.14A149.4 149.4 0 0 0 440.88 138.03L435.42 139.81A143.65 143.65 0 0 1 439.31 154.33Z" fill="#fddea0" stroke="#fddea0" stroke-width="0.9"/>
<path d="M444.93 153.14L450.55 151.94A155.14 155.14 0 0 0 446.35 136.26L440.88 138.03A149.4 149.4 0 0 1 444.93 153.14Z" fill="#fddea0" stroke="#fddea0" stroke-width="0.9"/>
<path d="M450.55 151.94L456.17 150.75A160.89 160.89 0 0 0 451.81 134.48L446.35 136.26A155.14 155.14 0 0 1 450.55 151.94Z" fill="#fecf92" stroke="#fecf92" stroke-width="0.9"/>
<path d="M456.17 150.75L461.79 149.55A166.63 166.63 0 0 0 457.28 132.71L451.81 134.48A160.89 160.89 0 0 1 456.17 150.75Z" fill="#fddea0" stroke="#fddea0" stroke-width="0.9"/>
<path d="M461.79 149.55L467.41 148.36A172.38 172.38 0 0 0 462.74 130.93L457.28 132.71A166.63 166.63 0 0 1 461.79 149.55Z" fill="#fcf0b2" stroke="#fcf0b2" stroke-width="0.9"/>
<path d="M347.98 168.22L353.45 166.44A57.46 57.46 0 0 0 351.29 160.83L346.04 163.17A51.71 51.71 0 0 1 347.98 168.22Z" fill="#fcf9bb" stroke="#fcf9bb" stroke-width="0.9"/>
<path d="M353.45 166.44L358.91 164.67A63.21 63.21 0 0 0 356.54 158.49L351.29 160.83A57.46 57.46 0 0 1 353.45 166.44Z" fill="#fcf4b6" stroke="#fcf4b6" stroke-width="0.9"/>
<path d="M358.91 164.67L364.38 162.89A68.95 68.95 0 0 0 361.79 156.15L356.54 158.49A63.21 63.21 0 0 1 358.91 164.67Z" fill="#fdebac" stroke="#fdebac" stroke-width="0.9"/>
<path d="M364.38 162.89L369.84 161.12A74.7 74.7 0 0 0 367.04 153.82L361.79 156.15A68.95 68.95 0 0 1 364.38 162.89Z" fill="#fddea0" stroke="#fddea0" stroke-width="0.9"/>
<path d="M369.84 161.12L375.31 159.34A80.44 80.44 0 0 0 372.29 151.48L367.04 153.82A74.7 74.7 0 0 1 369.84 161.12Z" fill="#feca8d" stroke="#feca8d" stroke-width="0.9"/>
<path d="M375.31 159.34L380.77 157.57A86.19 86.19 0 0 0 377.54 149.14L372.29 151.48A80.44 80.44 0 0 1 375.31 159.34Z" fill="#feae77" stroke="#feae77" stroke-width="0.9"/>
<path d="M380.77 157.57L386.24 155.79A91.94 91.94 0 0 0 382.79 146.81L377.54 149.14A86.19 86.19 0 0 1 380.77 157.57Z" fill="#f2625d" stroke="#f2625d" stroke-width="0.9"/>
<path d="M386.24 155.79L391.7 154.01A97.68 97.68 0 0 0 388.04 144.47L382.79 146.81A91.94 91.94 0 0 1 386.24 155.79Z" fill="#fb835f" stroke="#fb835f" stroke-width="0.9"/>
<path d="M391.7 154.01L397.17 152.24A103.43 103.43 0 0 0 393.29 142.13L388.04 144.47A97.68 97.68 0 0 1 391.7 154.01Z" fill="#f2625d" stroke="#f2625d" stroke-width="0.9"/>
<path d="M397.17 152.24L402.63 150.46A109.17 109.17 0 0 0 398.54 139.79L393.29 142.13A103.43 103.43 0 0 1 397.17 152.24Z" fill="#fb835f" stroke="#fb835f" stroke-width="0.9"/>
<path d="M402.63 150.46L408.1 148.69A114.92 114.92 0 0 0 403.78 137.46L398.54 139.79A109.17 109.17 0 0 1 402.63 150.46Z" fill="#fd9668" stroke="#fd9668" stroke-width="0.9"/>
<path d="M408.1 148.69L413.56 146.91A120.67 120.67 0 0 0 409.03 135.12L403.78 137.46A114.92 114.92 0 0 1 408.1 148.69Z" fill="#fc8c63" stroke="#fc8c63" stroke-width="0.9"/>
<path d="M413.56 146.91L419.02 145.14A126.41 126.41 0 0 0 414.28 132.78L409.03 135.12A120.67 120.67 0 0 1 413.56 146.91Z" fill="#feb77e" stroke="#feb77e" stroke-width="0.9"/>
<path d="M419.02 145.14L424.49 143.36A132.16 132.16 0 0 0 419.53 130.45L414.28 132.78A126.41 126.41 0 0 1 419.02 145.14Z" fill="#feae77" stroke="#feae77" stroke-width="0.9"/>
<path d="M424.49 143.36L429.95 141.59A137.9 137.9 0 0 0 424.78 128.11L419.53 130.45A132.16 132.16 0 0 1 424.49 143.36Z" fill="#feca8d" stroke="#feca8d" stroke-width="0.9"/>
<path d="M429.95 141.59L435.42 139.81A143.65 143.65 0 0 0 430.03 125.77L424.78 128.11A137.9 137.9 0 0 1 429.95 141.59Z" fill="#fddea0" stroke="#fddea0" stroke-width="0.9"/>
<path d="M435.42 139.81L440.88 138.03A149.4 149.4 0 0 0 435.28 123.44L430.03 125.77A143.65 143.65 0 0 1 435.42 139.81Z" fill="#fed395" stroke="#fed395" stroke-width="0.9"/>
<path d="M440.88 138.03L446.35 136.26A155.14 155.14 0 0 0 440.53 121.1L435.28 123.44A149.4 149.4 0 0 1 440.88 138.03Z" fill="#fde7a9" stroke="#fde7a9" stroke-width="0.9"/>
<path d="M446.35 136.26L451.81 134.48A160.89 160.89 0 0 0 445.78 118.76L440.53 121.1A155.14 155.14 0 0 1 446.35 136.26Z" fill="#fed395" stroke="#fed395" stroke-width="0.9"/>
<path d="M451.81 134.48L457.28 132.71A166.63 166.63 0 0 0 451.03 116.42L445.78 118.76A160.89 160.89 0 0 1 451.81 134.48Z" fill="#fddea0" stroke="#fddea0" stroke-width="0.9"/>
<path d="M457.28 132.71L462.74 130.93A172.38 172.38 0 0 0 456.28 114.09L451.03 116.42A166.63 166.63 0 0 1 457.28 132.71Z" fill="#fcf0b2" stroke="#fcf0b2" stroke-width="0.9"/>
<path d="M346.04 163.17L351.29 160.83A57.46 57.46 0 0 0 348.56 155.47L343.59 158.34A51.71 51.71 0 0 1 346.04 163.17Z" fill="#fcf9bb" stroke="#fcf9bb" stroke-width="0.9"/>
<path d="M351.29 160.83L356.54 158.49A63.21 63.21 0 0 0 353.54 152.6L348.56 155.47A57.46 57.46 0 0 1 351.29 160.83Z" fill="#fcf4b6" stroke="#fcf4b6" stroke-width="0.9"/>
<path d="M356.54 158.49L361.79 156.15A68.95 68.95 0 0 0 358.51 149.72L353.54 152.6A63.21 63.21 0 0 1 356.54 158.49Z" fill="#fddea0" stroke="#fddea0" stroke-width="0.9"/>
<path d="M361.79 156.15L367.04 153.82A74.7 74.7 0 0 0 363.49 146.85L358.51 149.72A68.95 68.95 0 0 1 361.79 156.15Z" fill="#fed395" stroke="#fed395" stroke-width="0.9"/>
<path d="M367.04 153.82L372.29 151.48A80.44 80.44 0 0 0 368.47 143.98L363.49 146.85A74.7 74.7 0 0 1 367.04 153.82Z" fill="#feb77e" stroke="#feb77e" stroke-width="0.9"/>
<path d="M372.29 151.48L377.54 149.14A86.19 86.19 0 0 0 373.44 141.1L368.47 143.98A80.44 80.44 0 0 1 372.29 151.48Z" fill="#fd9668" stroke="#fd9668" stroke-width="0.9"/>
<path d="M377.54 149.14L382.79 146.81A91.94 91.94 0 0 0 378.42 138.23L373.44 141.1A86.19 86.19 0 0 1 377.54 149.14Z" fill="#feae77" stroke="#feae77" stroke-width="0.9"/>
<path d="M382.79 146.81L388.04 144.47A97.68 97.68 0 0 0 383.4 135.36L378.42 138.23A91.94 91.94 0 0 1 382.79 146.81Z" fill="#f4675c" stroke="#f4675c" stroke-width="0.9"/>
<path d="M388.04 144.47L393.29 142.13A103.43 103.43 0 0 0 388.37 132.49L383.4 135.36A97.68 97.68 0 0 1 388.04 144.47Z" fill="#fb835f" stroke="#fb835f" stroke-width="0.9"/>
<path d="M393.29 142.13L398.54 139.79A109.17 109.17 0 0 0 393.35 129.61L388.37 132.49A103.43 103.43 0 0 1 393.29 142.13Z" fill="#f9795d" stroke="#f9795d" stroke-width="0.9"/>
<path d="M398.54 139.79L403.78 137.46A114.92 114.92 0 0 0 398.32 126.74L393.35 129.61A109.17 109.17 0 0 1 398.54 139.79Z" fill="#f7705c" stroke="#f7705c" stroke-width="0.9"/>
<path d="M403.78 137.46L409.03 135.12A120.67 120.67 0 0 0 403.3 123.87L398.32 126.74A114.92 114.92 0 0 1 403.78 137.46Z" fill="#fc8c63" stroke="#fc8c63" stroke-width="0.9"/>
<path d="M409.03 135.12L414.28 132.78A126.41 126.41 0 0 0 408.28 120.99L403.3 123.87A120.67 120.67 0 0 1 409.03 135.12Z" fill="#fe9f6d" stroke="#fe9f6d" stroke-width="0.9"/>
<path d="M414.28 132.78L419.53 130.45A132.16 132.16 0 0 0 413.25 118.12L408.28 120.99A126.41 126.41 0 0 1 414.28 132.78Z" fill="#feca8d" stroke="#feca8d" stroke-width="0.9"/>
<path d="M419.53 130.45L424.78 128.11A137.9 137.9 0 0 0 418.23 115.25L413.25 118.12A132.16 132.16 0 0 1 419.53 130.45Z" fill="#feb77e" stroke="#feb77e" stroke-width="0.9"/>
<path d="M424.78 128.11L430.03 125.77A143.65 143.65 0 0 0 423.2 112.38L418.23 115.25A137.9 137.9 0 0 1 424.78 128.11Z" fill="#fecf92" stroke="#fecf92" stroke-width="0.9"/>
<path d="M430.03 125.77L435.28 123.44A149.4 149.4 0 0 0 428.18 109.5L423.2 112.38A143.65 143.65 0 0 1 430.03 125.77Z" fill="#fec185" stroke="#fec185" stroke-width="0.9"/>
<path d="M435.28 123.44L440.53 121.1A155.14 155.14 0 0 0 433.16 106.63L428.18 109.5A149.4 149.4 0 0 1 435.28 123.44Z" fill="#fecf92" stroke="#fecf92" stroke-width="0.9"/>
<path d="M440.53 121.1L445.78 118.76A160.89 160.89 0 0 0 438.13 103.76L433.16 106.63A155.14 155.14 0 0 1 440.53 121.1Z" fill="#fddea0" stroke="#fddea0" stroke-width="0.9"/>
<path d="M445.78 118.76L451.03 116.42A166.63 166.63 0 0 0 443.11 100.88L438.13 103.76A160.89 160.89 0 0 1 445.78 118.76Z" fill="#fddea0" stroke="#fddea0" stroke-width="0.9"/>
<path d="M451.03 116.42L456.28 114.09A172.38 172.38 0 0 0 448.09 98.01L443.11 100.88A166.63 166.63 0 0 1 451.03 116.42Z" fill="#fcf0b2" stroke="#fcf0b2" stroke-width="0.9"/>
<path d="M343.59 158.34L348.56 155.47A57.46 57.46 0 0 0 345.29 150.43L340.64 153.8A51.71 51.71 0 0 1 343.59 158.34Z" fill="#fddea0" stroke="#fddea0" stroke-width="0.9"/>
<path d="M348.56 155.47L353.54 152.6A63.21 63.21 0 0 0 349.93 147.05L345.29 150.43A57.46 57.46 0 0 1 348.56 155.47Z" fill="#fde7a9" stroke="#fde7a9" stroke-width="0.9"/>
<path d="M353.54 152.6L358.51 149.72A68.95 68.95 0 0 0 354.58 143.67L349.93 147.05A63.21 63.21 0 0 1 353.54 152.6Z" fill="#fed395" stroke="#fed395" stroke-width="0.9"/>
<path d="M358.51 149.72L363.49 146.85A74.7 74.7 0 0 0 359.23 140.29L354.58 143.67A68.95 68.95 0 0 1 358.51 149.72Z" fill="#feb77e" stroke="#feb77e" stroke-width="0.9"/>
<path d="M363.49 146.85L368.47 143.98A80.44 80.44 0 0 0 363.88 136.92L359.23 140.29A74.7 74.7 0 0 1 363.49 146.85Z" fill="#fe9f6d" stroke="#fe9f6d" stroke-width="0.9"/>
<path d="M368.47 143.98L373.44 141.1A86.19 86.19 0 0 0 368.53 133.54L363.88 136.92A80.44 80.44 0 0 1 368.47 143.98Z" fill="#fb835f" stroke="#fb835f" stroke-width="0.9"/>
<path d="M373.44 141.1L378.42 138.23A91.94 91.94 0 0 0 373.18 130.16L368.53 133.54A86.19 86.19 0 0 1 373.44 141.1Z" fill="#feae77" stroke="#feae77" stroke-width="0.9"/>
<path d="M378.42 138.23L383.4 135.36A97.68 97.68 0 0 0 377.83 126.78L373.18 130.16A91.94 91.94 0 0 1 378.42 138.23Z" fill="#fc8c63" stroke="#fc8c63" stroke-width="0.9"/>
<path d="M383.4 135.36L388.37 132.49A103.43 103.43 0 0 0 382.48 123.41L377.83 126.78A97.68 97.68 0 0 1 383.4 135.36Z" fill="#feae77" stroke="#feae77" stroke-width="0.9"/>
<path d="M388.37 132.49L393.35 129.61A109.17 109.17 0 0 0 387.12 120.03L382.48 123.41A103.43 103.43 0 0 1 388.37 132.49Z" fill="#f7705c" stroke="#f7705c" stroke-width="0.9"/>
<path d="M393.35 129.61L398.32 126.74A114.92 114.92 0 0 0 391.77 116.65L387.12 120.03A109.17 109.17 0 0 1 393.35 129.61Z" fill="#fc8c63" stroke="#fc8c63" stroke-width="0.9"/>
<path d="M398.32 126.74L403.3 123.87A120.67 120.67 0 0 0 396.42 113.27L391.77 116.65A114.92 114.92 0 0 1 398.32 126.74Z" fill="#feae77" stroke="#feae77" stroke-width="0.9"/>
<path d="M403.3 123.87L408.28 120.99A126.41 126.41 0 0 0 401.07 109.9L396.42 113.27A120.67 120.67 0 0 1 403.3 123.87Z" fill="#fe9f6d" stroke="#fe9f6d" stroke-width="0.9"/>
<path d="M408.28 120.99L413.25 118.12A132.16 132.16 0 0 0 405.72 106.52L401.07 109.9A126.41 126.41 0 0 1 408.28 120.99Z" fill="#fec185" stroke="#fec185" stroke-width="0.9"/>
<path d="M413.25 118.12L418.23 115.25A137.9 137.9 0 0 0 410.37 103.14L405.72 106.52A132.16 132.16 0 0 1 413.25 118.12Z" fill="#fed395" stroke="#fed395" stroke-width="0.9"/>
<path d="M418.23 115.25L423.2 112.38A143.65 143.65 0 0 0 415.02 99.76L410.37 103.14A137.9 137.9 0 0 1 418.23 115.25Z" fill="#fec185" stroke="#fec185" stroke-width="0.9"/>
<path d="M423.2 112.38L428.18 109.5A149.4 149.4 0 0 0 419.66 96.39L415.02 99.76A143.65 143.65 0 0 1 423.2 112.38Z" fill="#fed395" stroke="#fed395" stroke-width="0.9"/>
<path d="M428.18 109.5L433.16 106.63A155.14 155.14 0 0 0 424.31 93.01L419.66 96.39A149.4 149.4 0 0 1 428.18 109.5Z" fill="#fddea0" stroke="#fddea0" stroke-width="0.9"/>
<path d="M433.16 106.63L438.13 103.76A160.89 160.89 0 0 0 428.96 89.63L424.31 93.01A155.14 155.14 0 0 1 433.16 106.63Z" fill="#fddea0" stroke="#fddea0" stroke-width="0.9"/>
<path d="M438.13 103.76L443.11 100.88A166.63 166.63 0 0 0 433.61 86.25L428.96 89.63A160.89 160.89 0 0 1 438.13 103.76Z" fill="#fde7a9" stroke="#fde7a9" stroke-width="0.9"/>
<path d="M443.11 100.88L448.09 98.01A172.38 172.38 0 0 0 438.26 82.88L433.61 86.25A166.63 166.63 0 0 1 443.11 100.88Z" fill="#fcf0b2" stroke="#fcf0b2" stroke-width="0.9"/>
<path d="M340.64 153.8L345.29 150.43A57.46 57.46 0 0 0 341.5 145.75L337.23 149.6A51.71 51.71 0 0 1 340.64 153.8Z" fill="#fed395" stroke="#fed395" stroke-width="0.9"/>
<path d="M345.29 150.43L349.93 147.05A63.21 63.21 0 0 0 345.77 141.91L341.5 145.75A57.46 57.46 0 0 1 345.29 150.43Z" fill="#fddea0" stroke="#fddea0" stroke-width="0.9"/>
<path d="M349.93 147.05L354.58 143.67A68.95 68.95 0 0 0 350.04 138.06L345.77 141.91A63.21 63.21 0 0 1 349.93 147.05Z" fill="#fec185" stroke="#fec185" stroke-width="0.9"/>
<path d="M354.58 143.67L359.23 140.29A74.7 74.7 0 0 0 354.31 134.22L350.04 138.06A68.95 68.95 0 0 1 354.58 143.67Z" fill="#fd9668" stroke="#fd9668" stroke-width="0.9"/>
<path d="M359.23 140.29L363.88 136.92A80.44 80.44 0 0 0 358.58 130.37L354.31 134.22A74.7 74.7 0 0 1 359.23 140.29Z" fill="#fb835f" stroke="#fb835f" stroke-width="0.9"/>
<path d="M363.88 136.92L368.53 133.54A86.19 86.19 0 0 0 362.85 126.53L358.58 130.37A80.44 80.44 0 0 1 363.88 136.92Z" fill="#f9795d" stroke="#f9795d" stroke-width="0.9"/>
<path d="M368.53 133.54L373.18 130.16A91.94 91.94 0 0 0 367.12 122.68L362.85 126.53A86.19 86.19 0 0 1 368.53 133.54Z" fill="#fb835f" stroke="#fb835f" stroke-width="0.9"/>
<path d="M373.18 130.16L377.83 126.78A97.68 97.68 0 0 0 371.39 118.84L367.12 122.68A91.94 91.94 0 0 1 373.18 130.16Z" fill="#f4675c" stroke="#f4675c" stroke-width="0.9"/>
<path d="M377.83 126.78L382.48 123.41A103.43 103.43 0 0 0 375.66 114.99L371.39 118.84A97.68 97.68 0 0 1 377.83 126.78Z" fill="#fc8c63" stroke="#fc8c63" stroke-width="0.9"/>
<path d="M382.48 123.41L387.12 120.03A109.17 109.17 0 0 0 379.93 111.15L375.66 114.99A103.43 103.43 0 0 1 382.48 123.41Z" fill="#f9795d" stroke="#f9795d" stroke-width="0.9"/>
<path d="M387.12 120.03L391.77 116.65A114.92 114.92 0 0 0 384.2 107.3L379.93 111.15A109.17 109.17 0 0 1 387.12 120.03Z" fill="#feae77" stroke="#feae77" stroke-width="0.9"/>
<path d="M391.77 116.65L396.42 113.27A120.67 120.67 0 0 0 388.47 103.46L384.2 107.3A114.92 114.92 0 0 1 391.77 116.65Z" fill="#feae77" stroke="#feae77" stroke-width="0.9"/>
<path d="M396.42 113.27L401.07 109.9A126.41 126.41 0 0 0 392.74 99.61L388.47 103.46A120.67 120.67 0 0 1 396.42 113.27Z" fill="#feca8d" stroke="#feca8d" stroke-width="0.9"/>
<path d="M401.07 109.9L405.72 106.52A132.16 132.16 0 0 0 397.01 95.77L392.74 99.61A126.41 126.41 0 0 1 401.07 109.9Z" fill="#feb77e" stroke="#feb77e" stroke-width="0.9"/>
<path d="M405.72 106.52L410.37 103.14A137.9 137.9 0 0 0 401.28 91.92L397.01 95.77A132.16 132.16 0 0 1 405.72 106.52Z" fill="#fed395" stroke="#fed395" stroke-width="0.9"/>
<path d="M410.37 103.14L415.02 99.76A143.65 143.65 0 0 0 405.55 88.08L401.28 91.92A137.9 137.9 0 0 1 410.37 103.14Z" fill="#fddea0" stroke="#fddea0" stroke-width="0.9"/>
<path d="M415.02 99.76L419.66 96.39A149.4 149.4 0 0 0 409.82 84.23L405.55 88.08A143.65 143.65 0 0 1 415.02 99.76Z" fill="#fecf92" stroke="#fecf92" stroke-width="0.9"/>
<path d="M419.66 96.39L424.31 93.01A155.14 155.14 0 0 0 414.09 80.39L409.82 84.23A149.4 149.4 0 0 1 419.66 96.39Z" fill="#fed395" stroke="#fed395" stroke-width="0.9"/>
<path d="M424.31 93.01L428.96 89.63A160.89 160.89 0 0 0 418.36 76.54L414.09 80.39A155.14 155.14 0 0 1 424.31 93.01Z" fill="#fde7a9" stroke="#fde7a9" stroke-width="0.9"/>
<path d="M428.96 89.63L433.61 86.25A166.63 166.63 0 0 0 422.63 72.7L418.36 76.54A160.89 160.89 0 0 1 428.96 89.63Z" fill="#fddea0" stroke="#fddea0" stroke-width="0.9"/>
<path d="M433.61 86.25L438.26 82.88A172.38 172.38 0 0 0 426.9 68.86L422.63 72.7A166.63 166.63 0 0 1 433.61 86.25Z" fill="#fde7a9" stroke="#fde7a9" stroke-width="0.9"/>
<path d="M337.23 149.6L341.5 145.75A57.46 57.46 0 0 0 337.25 141.5L333.4 145.77A51.71 51.71 0 0 1 337.23 149.6Z" fill="#fec68a" stroke="#fec68a" stroke-width="0.9"/>
<path d="M341.5 145.75L345.77 141.91A63.21 63.21 0 0 0 341.09 137.23L337.25 141.5A57.46 57.46 0 0 1 341.5 145.75Z" fill="#fed395" stroke="#fed395" stroke-width="0.9"/>
<path d="M345.77 141.91L350.04 138.06A68.95 68.95 0 0 0 344.94 132.96L341.09 137.23A63.21 63.21 0 0 1 345.77 141.91Z" fill="#feae77" stroke="#feae77" stroke-width="0.9"/>
<path d="M350.04 138.06L354.31 134.22A74.7 74.7 0 0 0 348.78 128.69L344.94 132.96A68.95 68.95 0 0 1 350.04 138.06Z" fill="#fc8c63" stroke="#fc8c63" stroke-width="0.9"/>
<path d="M354.31 134.22L358.58 130.37A80.44 80.44 0 0 0 352.63 124.42L348.78 128.69A74.7 74.7 0 0 1 354.31 134.22Z" fill="#d2426f" stroke="#d2426f" stroke-width="0.9"/>
<path d="M358.58 130.37L362.85 126.53A86.19 86.19 0 0 0 356.47 120.15L352.63 124.42A80.44 80.44 0 0 1 358.58 130.37Z" fill="#f4675c" stroke="#f4675c" stroke-width="0.9"/>
<path d="M362.85 126.53L367.12 122.68A91.94 91.94 0 0 0 360.32 115.88L356.47 120.15A86.19 86.19 0 0 1 362.85 126.53Z" fill="#fb835f" stroke="#fb835f" stroke-width="0.9"/>
<path d="M367.12 122.68L371.39 118.84A97.68 97.68 0 0 0 364.16 111.61L360.32 115.88A91.94 91.94 0 0 1 367.12 122.68Z" fill="#fe9f6d" stroke="#fe9f6d" stroke-width="0.9"/>
<path d="M371.39 118.84L375.66 114.99A103.43 103.43 0 0 0 368.01 107.34L364.16 111.61A97.68 97.68 0 0 1 371.39 118.84Z" fill="#fd9668" stroke="#fd9668" stroke-width="0.9"/>
<path d="M375.66 114.99L379.93 111.15A109.17 109.17 0 0 0 371.85 103.07L368.01 107.34A103.43 103.43 0 0 1 375.66 114.99Z" fill="#f9795d" stroke="#f9795d" stroke-width="0.9"/>
<path d="M379.93 111.15L384.2 107.3A114.92 114.92 0 0 0 375.7 98.8L371.85 103.07A109.17 109.17 0 0 1 379.93 111.15Z" fill="#ef5d5e" stroke="#ef5d5e" stroke-width="0.9"/>
<path d="M384.2 107.3L388.47 103.46A120.67 120.67 0 0 0 379.54 94.53L375.7 98.8A114.92 114.92 0 0 1 384.2 107.3Z" fill="#feae77" stroke="#feae77" stroke-width="0.9"/>
<path d="M388.47 103.46L392.74 99.61A126.41 126.41 0 0 0 383.39 90.26L379.54 94.53A120.67 120.67 0 0 1 388.47 103.46Z" fill="#feca8d" stroke="#feca8d" stroke-width="0.9"/>
<path d="M392.74 99.61L397.01 95.77A132.16 132.16 0 0 0 387.23 85.99L383.39 90.26A126.41 126.41 0 0 1 392.74 99.61Z" fill="#fec185" stroke="#fec185" stroke-width="0.9"/>
<path d="M397.01 95.77L401.28 91.92A137.9 137.9 0 0 0 391.08 81.72L387.23 85.99A132.16 132.16 0 0 1 397.01 95.77Z" fill="#fed395" stroke="#fed395" stroke-width="0.9"/>
<path d="M401.28 91.92L405.55 88.08A143.65 143.65 0 0 0 394.92 77.45L391.08 81.72A137.9 137.9 0 0 1 401.28 91.92Z" fill="#fddea0" stroke="#fddea0" stroke-width="0.9"/>
<path d="M405.55 88.08L409.82 84.23A149.4 149.4 0 0 0 398.77 73.18L394.92 77.45A143.65 143.65 0 0 1 405.55 88.08Z" fill="#feca8d" stroke="#feca8d" stroke-width="0.9"/>
<path d="M409.82 84.23L414.09 80.39A155.14 155.14 0 0 0 402.61 68.91L398.77 73.18A149.4 149.4 0 0 1 409.82 84.23Z" fill="#fecf92" stroke="#fecf92" stroke-width="0.9"/>
<path d="M414.09 80.39L418.36 76.54A160.89 160.89 0 0 0 406.46 64.64L402.61 68.91A155.14 155.14 0 0 1 414.09 80.39Z" fill="#fddea0" stroke="#fddea0" stroke-width="0.9"/>
<path d="M418.36 76.54L422.63 72.7A166.63 166.63 0 0 0 410.3 60.37L406.46 64.64A160.89 160.89 0 0 1 418.36 76.54Z" fill="#fddea0" stroke="#fddea0" stroke-width="0.9"/>
<path d="M422.63 72.7L426.9 68.86A172.38 172.38 0 0 0 414.14 56.1L410.3 60.37A166.63 166.63 0 0 1 422.63 72.7Z" fill="#fddea0" stroke="#fddea0" stroke-width="0.9"/>
<path d="M333.4 145.77L337.25 141.5A57.46 57.46 0 0 0 332.57 137.71L329.2 142.36A51.71 51.71 0 0 1 333.4 145.77Z" fill="#feae77" stroke="#feae77" stroke-width="0.9"/>
<path d="M337.25 141.5L341.09 137.23A63.21 63.21 0 0 0 335.95 133.07L332.57 137.71A57.46 57.46 0 0 1 337.25 141.5Z" fill="#feb77e" stroke="#feb77e" stroke-width="0.9"/>
<path d="M341.09 137.23L344.94 132.96A68.95 68.95 0 0 0 339.33 128.42L335.95 133.07A63.21 63.21 0 0 1 341.09 137.23Z" fill="#fc8c63" stroke="#fc8c63" stroke-width="0.9"/>
<path d="M344.94 132.96L348.78 128.69A74.7 74.7 0 0 0 342.71 123.77L339.33 128.42A68.95 68.95 0 0 1 344.94 132.96Z" fill="#b73779" stroke="#b73779" stroke-width="0.9"/>
<path d="M348.78 128.69L352.63 124.42A80.44 80.44 0 0 0 346.08 119.12L342.71 123.77A74.7 74.7 0 0 1 348.78 128.69Z" fill="#d6456c" stroke="#d6456c" stroke-width="0.9"/>
<path d="M352.63 124.42L356.47 120.15A86.19 86.19 0 0 0 349.46 114.47L346.08 119.12A80.44 80.44 0 0 1 352.63 124.42Z" fill="#f4675c" stroke="#f4675c" stroke-width="0.9"/>
<path d="M356.47 120.15L360.32 115.88A91.94 91.94 0 0 0 352.84 109.82L349.46 114.47A86.19 86.19 0 0 1 356.47 120.15Z" fill="#fc8c63" stroke="#fc8c63" stroke-width="0.9"/>
<path d="M360.32 115.88L364.16 111.61A97.68 97.68 0 0 0 356.22 105.17L352.84 109.82A91.94 91.94 0 0 1 360.32 115.88Z" fill="#feae77" stroke="#feae77" stroke-width="0.9"/>
<path d="M364.16 111.61L368.01 107.34A103.43 103.43 0 0 0 359.59 100.52L356.22 105.17A97.68 97.68 0 0 1 364.16 111.61Z" fill="#f9795d" stroke="#f9795d" stroke-width="0.9"/>
<path d="M368.01 107.34L371.85 103.07A109.17 109.17 0 0 0 362.97 95.88L359.59 100.52A103.43 103.43 0 0 1 368.01 107.34Z" fill="#f4675c" stroke="#f4675c" stroke-width="0.9"/>
<path d="M371.85 103.07L375.7 98.8A114.92 114.92 0 0 0 366.35 91.23L362.97 95.88A109.17 109.17 0 0 1 371.85 103.07Z" fill="#f9795d" stroke="#f9795d" stroke-width="0.9"/>
<path d="M375.7 98.8L379.54 94.53A120.67 120.67 0 0 0 369.73 86.58L366.35 91.23A114.92 114.92 0 0 1 375.7 98.8Z" fill="#fc8c63" stroke="#fc8c63" stroke-width="0.9"/>
<path d="M379.54 94.53L383.39 90.26A126.41 126.41 0 0 0 373.1 81.93L369.73 86.58A120.67 120.67 0 0 1 379.54 94.53Z" fill="#fd9668" stroke="#fd9668" stroke-width="0.9"/>
<path d="M383.39 90.26L387.23 85.99A132.16 132.16 0 0 0 376.48 77.28L373.1 81.93A126.41 126.41 0 0 1 383.39 90.26Z" fill="#feae77" stroke="#feae77" stroke-width="0.9"/>
<path d="M387.23 85.99L391.08 81.72A137.9 137.9 0 0 0 379.86 72.63L376.48 77.28A132.16 132.16 0 0 1 387.23 85.99Z" fill="#fecf92" stroke="#fecf92" stroke-width="0.9"/>
<path d="M391.08 81.72L394.92 77.45A143.65 143.65 0 0 0 383.24 67.98L379.86 72.63A137.9 137.9 0 0 1 391.08 81.72Z" fill="#fed395" stroke="#fed395" stroke-width="0.9"/>
<path d="M394.92 77.45L398.77 73.18A149.4 149.4 0 0 0 386.61 63.34L383.24 67.98A143.65 143.65 0 0 1 394.92 77.45Z" fill="#fec185" stroke="#fec185" stroke-width="0.9"/>
<path d="M398.77 73.18L402.61 68.91A155.14 155.14 0 0 0 389.99 58.69L386.61 63.34A149.4 149.4 0 0 1 398.77 73.18Z" fill="#fed395" stroke="#fed395" stroke-width="0.9"/>
<path d="M402.61 68.91L406.46 64.64A160.89 160.89 0 0 0 393.37 54.04L389.99 58.69A155.14 155.14 0 0 1 402.61 68.91Z" fill="#fec185" stroke="#fec185" stroke-width="0.9"/>
<path d="M406.46 64.64L410.3 60.37A166.63 166.63 0 0 0 396.75 49.39L393.37 54.04A160.89 160.89 0 0 1 406.46 64.64Z" fill="#fed395" stroke="#fed395" stroke-width="0.9"/>
<path d="M410.3 60.37L414.14 56.1A172.38 172.38 0 0 0 400.12 44.74L396.75 49.39A166.63 166.63 0 0 1 410.3 60.37Z" fill="#fddea0" stroke="#fddea0" stroke-width="0.9"/>
<path d="M329.2 142.36L332.57 137.71A57.46 57.46 0 0 0 327.53 134.44L324.66 139.41A51.71 51.71 0 0 1 329.2 142.36Z" fill="#fc8c63" stroke="#fc8c63" stroke-width="0.9"/>
<path d="M332.57 137.71L335.95 133.07A63.21 63.21 0 0 0 330.4 129.46L327.53 134.44A57.46 57.46 0 0 1 332.57 137.71Z" fill="#ea5661" stroke="#ea5661" stroke-width="0.9"/>
<path d="M335.95 133.07L339.33 128.42A68.95 68.95 0 0 0 333.28 124.49L330.4 129.46A63.21 63.21 0 0 1 335.95 133.07Z" fill="#f4675c" stroke="#f4675c" stroke-width="0.9"/>
<path d="M339.33 128.42L342.71 123.77A74.7 74.7 0 0 0 336.15 119.51L333.28 124.49A68.95 68.95 0 0 1 339.33 128.42Z" fill="#d6456c" stroke="#d6456c" stroke-width="0.9"/>
<path d="M342.71 123.77L346.08 119.12A80.44 80.44 0 0 0 339.02 114.53L336.15 119.51A74.7 74.7 0 0 1 342.71 123.77Z" fill="#fb835f" stroke="#fb835f" stroke-width="0.9"/>
<path d="M346.08 119.12L349.46 114.47A86.19 86.19 0 0 0 341.9 109.56L339.02 114.53A80.44 80.44 0 0 1 346.08 119.12Z" fill="#feae77" stroke="#feae77" stroke-width="0.9"/>
<path d="M349.46 114.47L352.84 109.82A91.94 91.94 0 0 0 344.77 104.58L341.9 109.56A86.19 86.19 0 0 1 349.46 114.47Z" fill="#fec185" stroke="#fec185" stroke-width="0.9"/>
<path d="M352.84 109.82L356.22 105.17A97.68 97.68 0 0 0 347.64 99.6L344.77 104.58A91.94 91.94 0 0 1 352.84 109.82Z" fill="#feae77" stroke="#feae77" stroke-width="0.9"/>
<path d="M356.22 105.17L359.59 100.52A103.43 103.43 0 0 0 350.51 94.63L347.64 99.6A97.68 97.68 0 0 1 356.22 105.17Z" fill="#fb835f" stroke="#fb835f" stroke-width="0.9"/>
<path d="M359.59 100.52L362.97 95.88A109.17 109.17 0 0 0 353.39 89.65L350.51 94.63A103.43 103.43 0 0 1 359.59 100.52Z" fill="#fc8c63" stroke="#fc8c63" stroke-width="0.9"/>
<path d="M362.97 95.88L366.35 91.23A114.92 114.92 0 0 0 356.26 84.68L353.39 89.65A109.17 109.17 0 0 1 362.97 95.88Z" fill="#f4675c" stroke="#f4675c" stroke-width="0.9"/>
<path d="M366.35 91.23L369.73 86.58A120.67 120.67 0 0 0 359.13 79.7L356.26 84.68A114.92 114.92 0 0 1 366.35 91.23Z" fill="#f9795d" stroke="#f9795d" stroke-width="0.9"/>
<path d="M369.73 86.58L373.1 81.93A126.41 126.41 0 0 0 362.01 74.72L359.13 79.7A120.67 120.67 0 0 1 369.73 86.58Z" fill="#fc8c63" stroke="#fc8c63" stroke-width="0.9"/>
<path d="M373.1 81.93L376.48 77.28A132.16 132.16 0 0 0 364.88 69.75L362.01 74.72A126.41 126.41 0 0 1 373.1 81.93Z" fill="#fd9668" stroke="#fd9668" stroke-width="0.9"/>
<path d="M376.48 77.28L379.86 72.63A137.9 137.9 0 0 0 367.75 64.77L364.88 69.75A132.16 132.16 0 0 1 376.48 77.28Z" fill="#fec185" stroke="#fec185" stroke-width="0.9"/>
<path d="M379.86 72.63L383.24 67.98A143.65 143.65 0 0 0 370.62 59.8L367.75 64.77A137.9 137.9 0 0 1 379.86 72.63Z" fill="#fec185" stroke="#fec185" stroke-width="0.9"/>
<path d="M383.24 67.98L386.61 63.34A149.4 149.4 0 0 0 373.5 54.82L370.62 59.8A143.65 143.65 0 0 1 383.24 67.98Z" fill="#feb77e" stroke="#feb77e" stroke-width="0.9"/>
<path d="M386.61 63.34L389.99 58.69A155.14 155.14 0 0 0 376.37 49.84L373.5 54.82A149.4 149.4 0 0 1 386.61 63.34Z" fill="#feb77e" stroke="#feb77e" stroke-width="0.9"/>
<path d="M389.99 58.69L393.37 54.04A160.89 160.89 0 0 0 379.24 44.87L376.37 49.84A155.14 155.14 0 0 1 389.99 58.69Z" fill="#fed395" stroke="#fed395" stroke-width="0.9"/>
<path d="M393.37 54.04L396.75 49.39A166.63 166.63 0 0 0 382.12 39.89L379.24 44.87A160.89 160.89 0 0 1 393.37 54.04Z" fill="#fde7a9" stroke="#fde7a9" stroke-width="0.9"/>
<path d="M396.75 49.39L400.12 44.74A172.38 172.38 0 0 0 384.99 34.91L382.12 39.89A166.63 166.63 0 0 1 396.75 49.39Z" fill="#fdebac" stroke="#fdebac" stroke-width="0.9"/>
<path d="M324.66 139.41L327.53 134.44A57.46 57.46 0 0 0 322.17 131.71L319.83 136.96A51.71 51.71 0 0 1 324.66 139.41Z" fill="#f9795d" stroke="#f9795d" stroke-width="0.9"/>
<path d="M327.53 134.44L330.4 129.46A63.21 63.21 0 0 0 324.51 126.46L322.17 131.71A57.46 57.46 0 0 1 327.53 134.44Z" fill="#de4968" stroke="#de4968" stroke-width="0.9"/>
<path d="M330.4 129.46L333.28 124.49A68.95 68.95 0 0 0 326.85 121.21L324.51 126.46A63.21 63.21 0 0 1 330.4 129.46Z" fill="#d2426f" stroke="#d2426f" stroke-width="0.9"/>
<path d="M333.28 124.49L336.15 119.51A74.7 74.7 0 0 0 329.18 115.96L326.85 121.21A68.95 68.95 0 0 1 333.28 124.49Z" fill="#f4675c" stroke="#f4675c" stroke-width="0.9"/>
<path d="M336.15 119.51L339.02 114.53A80.44 80.44 0 0 0 331.52 110.71L329.18 115.96A74.7 74.7 0 0 1 336.15 119.51Z" fill="#fb835f" stroke="#fb835f" stroke-width="0.9"/>
<path d="M339.02 114.53L341.9 109.56A86.19 86.19 0 0 0 333.86 105.46L331.52 110.71A80.44 80.44 0 0 1 339.02 114.53Z" fill="#f9795d" stroke="#f9795d" stroke-width="0.9"/>
<path d="M341.9 109.56L344.77 104.58A91.94 91.94 0 0 0 336.19 100.21L333.86 105.46A86.19 86.19 0 0 1 341.9 109.56Z" fill="#feae77" stroke="#feae77" stroke-width="0.9"/>
<path d="M344.77 104.58L347.64 99.6A97.68 97.68 0 0 0 338.53 94.96L336.19 100.21A91.94 91.94 0 0 1 344.77 104.58Z" fill="#f4675c" stroke="#f4675c" stroke-width="0.9"/>
<path d="M347.64 99.6L350.51 94.63A103.43 103.43 0 0 0 340.87 89.71L338.53 94.96A97.68 97.68 0 0 1 347.64 99.6Z" fill="#fb835f" stroke="#fb835f" stroke-width="0.9"/>
<path d="M350.51 94.63L353.39 89.65A109.17 109.17 0 0 0 343.21 84.46L340.87 89.71A103.43 103.43 0 0 1 350.51 94.63Z" fill="#fb835f" stroke="#fb835f" stroke-width="0.9"/>
<path d="M353.39 89.65L356.26 84.68A114.92 114.92 0 0 0 345.54 79.22L343.21 84.46A109.17 109.17 0 0 1 353.39 89.65Z" fill="#f4675c" stroke="#f4675c" stroke-width="0.9"/>
<path d="M356.26 84.68L359.13 79.7A120.67 120.67 0 0 0 347.88 73.97L345.54 79.22A114.92 114.92 0 0 1 356.26 84.68Z" fill="#fc8c63" stroke="#fc8c63" stroke-width="0.9"/>
<path d="M359.13 79.7L362.01 74.72A126.41 126.41 0 0 0 350.22 68.72L347.88 73.97A120.67 120.67 0 0 1 359.13 79.7Z" fill="#fec185" stroke="#fec185" stroke-width="0.9"/>
<path d="M362.01 74.72L364.88 69.75A132.16 132.16 0 0 0 352.55 63.47L350.22 68.72A126.41 126.41 0 0 1 362.01 74.72Z" fill="#fc8c63" stroke="#fc8c63" stroke-width="0.9"/>
<path d="M364.88 69.75L367.75 64.77A137.9 137.9 0 0 0 354.89 58.22L352.55 63.47A132.16 132.16 0 0 1 364.88 69.75Z" fill="#fd9668" stroke="#fd9668" stroke-width="0.9"/>
<path d="M367.75 64.77L370.62 59.8A143.65 143.65 0 0 0 357.23 52.97L354.89 58.22A137.9 137.9 0 0 1 367.75 64.77Z" fill="#feae77" stroke="#feae77" stroke-width="0.9"/>
<path d="M370.62 59.8L373.5 54.82A149.4 149.4 0 0 0 359.56 47.72L357.23 52.97A143.65 143.65 0 0 1 370.62 59.8Z" fill="#feb77e" stroke="#feb77e" stroke-width="0.9"/>
<path d="M373.5 54.82L376.37 49.84A155.14 155.14 0 0 0 361.9 42.47L359.56 47.72A149.4 149.4 0 0 1 373.5 54.82Z" fill="#fec185" stroke="#fec185" stroke-width="0.9"/>
<path d="M376.37 49.84L379.24 44.87A160.89 160.89 0 0 0 364.24 37.22L361.9 42.47A155.14 155.14 0 0 1 376.37 49.84Z" fill="#fddea0" stroke="#fddea0" stroke-width="0.9"/>
<path d="M379.24 44.87L382.12 39.89A166.63 166.63 0 0 0 366.58 31.97L364.24 37.22A160.89 160.89 0 0 1 379.24 44.87Z" fill="#fde7a9" stroke="#fde7a9" stroke-width="0.9"/>
<path d="M382.12 39.89L384.99 34.91A172.38 172.38 0 0 0 368.91 26.72L366.58 31.97A166.63 166.63 0 0 1 382.12 39.89Z" fill="#fddea0" stroke="#fddea0" stroke-width="0.9"/>
<path d="M319.83 136.96L322.17 131.71A57.46 57.46 0 0 0 316.56 129.55L314.78 135.02A51.71 51.71 0 0 1 319.83 136.96Z" fill="#f9795d" stroke="#f9795d" stroke-width="0.9"/>
<path d="M322.17 131.71L324.51 126.46A63.21 63.21 0 0 0 318.33 124.09L316.56 129.55A57.46 57.46 0 0 1 322.17 131.71Z" fill="#f2625d" stroke="#f2625d" stroke-width="0.9"/>
<path d="M324.51 126.46L326.85 121.21A68.95 68.95 0 0 0 320.11 118.62L318.33 124.09A63.21 63.21 0 0 1 324.51 126.46Z" fill="#ef5d5e" stroke="#ef5d5e" stroke-width="0.9"/>
<path d="M326.85 121.21L329.18 115.96A74.7 74.7 0 0 0 321.88 113.16L320.11 118.62A68.95 68.95 0 0 1 326.85 121.21Z" fill="#e44f64" stroke="#e44f64" stroke-width="0.9"/>
<path d="M329.18 115.96L331.52 110.71A80.44 80.44 0 0 0 323.66 107.69L321.88 113.16A74.7 74.7 0 0 1 329.18 115.96Z" fill="#fb835f" stroke="#fb835f" stroke-width="0.9"/>
<path d="M331.52 110.71L333.86 105.46A86.19 86.19 0 0 0 325.43 102.23L323.66 107.69A80.44 80.44 0 0 1 331.52 110.71Z" fill="#fd9668" stroke="#fd9668" stroke-width="0.9"/>
<path d="M333.86 105.46L336.19 100.21A91.94 91.94 0 0 0 327.21 96.76L325.43 102.23A86.19 86.19 0 0 1 333.86 105.46Z" fill="#f9795d" stroke="#f9795d" stroke-width="0.9"/>
<path d="M336.19 100.21L338.53 94.96A97.68 97.68 0 0 0 328.99 91.3L327.21 96.76A91.94 91.94 0 0 1 336.19 100.21Z" fill="#ef5d5e" stroke="#ef5d5e" stroke-width="0.9"/>
<path d="M338.53 94.96L340.87 89.71A103.43 103.43 0 0 0 330.76 85.83L328.99 91.3A97.68 97.68 0 0 1 338.53 94.96Z" fill="#fb835f" stroke="#fb835f" stroke-width="0.9"/>
<path d="M340.87 89.71L343.21 84.46A109.17 109.17 0 0 0 332.54 80.37L330.76 85.83A103.43 103.43 0 0 1 340.87 89.71Z" fill="#f4675c" stroke="#f4675c" stroke-width="0.9"/>
<path d="M343.21 84.46L345.54 79.22A114.92 114.92 0 0 0 334.31 74.9L332.54 80.37A109.17 109.17 0 0 1 343.21 84.46Z" fill="#fc8c63" stroke="#fc8c63" stroke-width="0.9"/>
<path d="M345.54 79.22L347.88 73.97A120.67 120.67 0 0 0 336.09 69.44L334.31 74.9A114.92 114.92 0 0 1 345.54 79.22Z" fill="#f9795d" stroke="#f9795d" stroke-width="0.9"/>
<path d="M347.88 73.97L350.22 68.72A126.41 126.41 0 0 0 337.86 63.98L336.09 69.44A120.67 120.67 0 0 1 347.88 73.97Z" fill="#feae77" stroke="#feae77" stroke-width="0.9"/>
<path d="M350.22 68.72L352.55 63.47A132.16 132.16 0 0 0 339.64 58.51L337.86 63.98A126.41 126.41 0 0 1 350.22 68.72Z" fill="#fd9668" stroke="#fd9668" stroke-width="0.9"/>
<path d="M352.55 63.47L354.89 58.22A137.9 137.9 0 0 0 341.41 53.05L339.64 58.51A132.16 132.16 0 0 1 352.55 63.47Z" fill="#feb77e" stroke="#feb77e" stroke-width="0.9"/>
<path d="M354.89 58.22L357.23 52.97A143.65 143.65 0 0 0 343.19 47.58L341.41 53.05A137.9 137.9 0 0 1 354.89 58.22Z" fill="#fec185" stroke="#fec185" stroke-width="0.9"/>
<path d="M357.23 52.97L359.56 47.72A149.4 149.4 0 0 0 344.97 42.12L343.19 47.58A143.65 143.65 0 0 1 357.23 52.97Z" fill="#fecf92" stroke="#fecf92" stroke-width="0.9"/>
<path d="M359.56 47.72L361.9 42.47A155.14 155.14 0 0 0 346.74 36.65L344.97 42.12A149.4 149.4 0 0 1 359.56 47.72Z" fill="#fddea0" stroke="#fddea0" stroke-width="0.9"/>
<path d="M361.9 42.47L364.24 37.22A160.89 160.89 0 0 0 348.52 31.19L346.74 36.65A155.14 155.14 0 0 1 361.9 42.47Z" fill="#fddea0" stroke="#fddea0" stroke-width="0.9"/>
<path d="M364.24 37.22L366.58 31.97A166.63 166.63 0 0 0 350.29 25.72L348.52 31.19A160.89 160.89 0 0 1 364.24 37.22Z" fill="#fcf4b6" stroke="#fcf4b6" stroke-width="0.9"/>
<path d="M366.58 31.97L368.91 26.72A172.38 172.38 0 0 0 352.07 20.26L350.29 25.72A166.63 166.63 0 0 1 366.58 31.97Z" fill="#fdebac" stroke="#fdebac" stroke-width="0.9"/>
<path d="M314.78 135.02L316.56 129.55A57.46 57.46 0 0 0 310.75 128L309.55 133.62A51.71 51.71 0 0 1 314.78 135.02Z" fill="#f4675c" stroke="#f4675c" stroke-width="0.9"/>
<path d="M316.56 129.55L318.33 124.09A63.21 63.21 0 0 0 311.94 122.38L310.75 128A57.46 57.46 0 0 1 316.56 129.55Z" fill="#fb835f" stroke="#fb835f" stroke-width="0.9"/>
<path d="M318.33 124.09L320.11 118.62A68.95 68.95 0 0 0 313.14 116.75L311.94 122.38A63.21 63.21 0 0 1 318.33 124.09Z" fill="#d6456c" stroke="#d6456c" stroke-width="0.9"/>
<path d="M320.11 118.62L321.88 113.16A74.7 74.7 0 0 0 314.33 111.13L313.14 116.75A68.95 68.95 0 0 1 320.11 118.62Z" fill="#f4675c" stroke="#f4675c" stroke-width="0.9"/>
<path d="M321.88 113.16L323.66 107.69A80.44 80.44 0 0 0 315.53 105.51L314.33 111.13A74.7 74.7 0 0 1 321.88 113.16Z" fill="#fb835f" stroke="#fb835f" stroke-width="0.9"/>
<path d="M323.66 107.69L325.43 102.23A86.19 86.19 0 0 0 316.72 99.89L315.53 105.51A80.44 80.44 0 0 1 323.66 107.69Z" fill="#fb835f" stroke="#fb835f" stroke-width="0.9"/>
<path d="M325.43 102.23L327.21 96.76A91.94 91.94 0 0 0 317.91 94.27L316.72 99.89A86.19 86.19 0 0 1 325.43 102.23Z" fill="#f4675c" stroke="#f4675c" stroke-width="0.9"/>
<path d="M327.21 96.76L328.99 91.3A97.68 97.68 0 0 0 319.11 88.65L317.91 94.27A91.94 91.94 0 0 1 327.21 96.76Z" fill="#fd9668" stroke="#fd9668" stroke-width="0.9"/>
<path d="M328.99 91.3L330.76 85.83A103.43 103.43 0 0 0 320.3 83.03L319.11 88.65A97.68 97.68 0 0 1 328.99 91.3Z" fill="#feae77" stroke="#feae77" stroke-width="0.9"/>
<path d="M330.76 85.83L332.54 80.37A109.17 109.17 0 0 0 321.5 77.41L320.3 83.03A103.43 103.43 0 0 1 330.76 85.83Z" fill="#f9795d" stroke="#f9795d" stroke-width="0.9"/>
<path d="M332.54 80.37L334.31 74.9A114.92 114.92 0 0 0 322.69 71.79L321.5 77.41A109.17 109.17 0 0 1 332.54 80.37Z" fill="#fc8c63" stroke="#fc8c63" stroke-width="0.9"/>
<path d="M334.31 74.9L336.09 69.44A120.67 120.67 0 0 0 323.89 66.17L322.69 71.79A114.92 114.92 0 0 1 334.31 74.9Z" fill="#feb77e" stroke="#feb77e" stroke-width="0.9"/>
<path d="M336.09 69.44L337.86 63.98A126.41 126.41 0 0 0 325.08 60.55L323.89 66.17A120.67 120.67 0 0 1 336.09 69.44Z" fill="#fc8c63" stroke="#fc8c63" stroke-width="0.9"/>
<path d="M337.86 63.98L339.64 58.51A132.16 132.16 0 0 0 326.28 54.93L325.08 60.55A126.41 126.41 0 0 1 337.86 63.98Z" fill="#feae77" stroke="#feae77" stroke-width="0.9"/>
<path d="M339.64 58.51L341.41 53.05A137.9 137.9 0 0 0 327.47 49.31L326.28 54.93A132.16 132.16 0 0 1 339.64 58.51Z" fill="#feb77e" stroke="#feb77e" stroke-width="0.9"/>
<path d="M341.41 53.05L343.19 47.58A143.65 143.65 0 0 0 328.67 43.69L327.47 49.31A137.9 137.9 0 0 1 341.41 53.05Z" fill="#feca8d" stroke="#feca8d" stroke-width="0.9"/>
<path d="M343.19 47.58L344.97 42.12A149.4 149.4 0 0 0 329.86 38.07L328.67 43.69A143.65 143.65 0 0 1 343.19 47.58Z" fill="#fed395" stroke="#fed395" stroke-width="0.9"/>
<path d="M344.97 42.12L346.74 36.65A155.14 155.14 0 0 0 331.06 32.45L329.86 38.07A149.4 149.4 0 0 1 344.97 42.12Z" fill="#fddea0" stroke="#fddea0" stroke-width="0.9"/>
<path d="M346.74 36.65L348.52 31.19A160.89 160.89 0 0 0 332.25 26.83L331.06 32.45A155.14 155.14 0 0 1 346.74 36.65Z" fill="#fcf4b6" stroke="#fcf4b6" stroke-width="0.9"/>
<path d="M348.52 31.19L350.29 25.72A166.63 166.63 0 0 0 333.45 21.21L332.25 26.83A160.89 160.89 0 0 1 348.52 31.19Z" fill="#fcf0b2" stroke="#fcf0b2" stroke-width="0.9"/>
<path d="M350.29 25.72L352.07 20.26A172.38 172.38 0 0 0 334.64 15.59L333.45 21.21A166.63 166.63 0 0 1 350.29 25.72Z" fill="#fddea0" stroke="#fddea0" stroke-width="0.9"/>
<path d="M309.55 133.62L310.75 128A57.46 57.46 0 0 0 304.81 127.05L304.21 132.77A51.71 51.71 0 0 1 309.55 133.62Z" fill="#f9795d" stroke="#f9795d" stroke-width="0.9"/>
<path d="M310.75 128L311.94 122.38A63.21 63.21 0 0 0 305.41 121.34L304.81 127.05A57.46 57.46 0 0 1 310.75 128Z" fill="#f9795d" stroke="#f9795d" stroke-width="0.9"/>
<path d="M311.94 122.38L313.14 116.75A68.95 68.95 0 0 0 306.01 115.63L305.41 121.34A63.21 63.21 0 0 1 311.94 122.38Z" fill="#fe9f6d" stroke="#fe9f6d" stroke-width="0.9"/>
<path d="M313.14 116.75L314.33 111.13A74.7 74.7 0 0 0 306.61 109.91L306.01 115.63A68.95 68.95 0 0 1 313.14 116.75Z" fill="#f7705c" stroke="#f7705c" stroke-width="0.9"/>
<path d="M314.33 111.13L315.53 105.51A80.44 80.44 0 0 0 307.21 104.2L306.61 109.91A74.7 74.7 0 0 1 314.33 111.13Z" fill="#fb835f" stroke="#fb835f" stroke-width="0.9"/>
<path d="M315.53 105.51L316.72 99.89A86.19 86.19 0 0 0 307.81 98.48L307.21 104.2A80.44 80.44 0 0 1 315.53 105.51Z" fill="#f7705c" stroke="#f7705c" stroke-width="0.9"/>
<path d="M316.72 99.89L317.91 94.27A91.94 91.94 0 0 0 308.41 92.77L307.81 98.48A86.19 86.19 0 0 1 316.72 99.89Z" fill="#ef5d5e" stroke="#ef5d5e" stroke-width="0.9"/>
<path d="M317.91 94.27L319.11 88.65A97.68 97.68 0 0 0 309.01 87.05L308.41 92.77A91.94 91.94 0 0 1 317.91 94.27Z" fill="#fb835f" stroke="#fb835f" stroke-width="0.9"/>
<path d="M319.11 88.65L320.3 83.03A103.43 103.43 0 0 0 309.61 81.34L309.01 87.05A97.68 97.68 0 0 1 319.11 88.65Z" fill="#fc8c63" stroke="#fc8c63" stroke-width="0.9"/>
<path d="M320.3 83.03L321.5 77.41A109.17 109.17 0 0 0 310.21 75.62L309.61 81.34A103.43 103.43 0 0 1 320.3 83.03Z" fill="#fe9f6d" stroke="#fe9f6d" stroke-width="0.9"/>
<path d="M321.5 77.41L322.69 71.79A114.92 114.92 0 0 0 310.81 69.91L310.21 75.62A109.17 109.17 0 0 1 321.5 77.41Z" fill="#f9795d" stroke="#f9795d" stroke-width="0.9"/>
<path d="M322.69 71.79L323.89 66.17A120.67 120.67 0 0 0 311.41 64.2L310.81 69.91A114.92 114.92 0 0 1 322.69 71.79Z" fill="#feae77" stroke="#feae77" stroke-width="0.9"/>
<path d="M323.89 66.17L325.08 60.55A126.41 126.41 0 0 0 312.01 58.48L311.41 64.2A120.67 120.67 0 0 1 323.89 66.17Z" fill="#fc8c63" stroke="#fc8c63" stroke-width="0.9"/>
<path d="M325.08 60.55L326.28 54.93A132.16 132.16 0 0 0 312.61 52.77L312.01 58.48A126.41 126.41 0 0 1 325.08 60.55Z" fill="#fec185" stroke="#fec185" stroke-width="0.9"/>
<path d="M326.28 54.93L327.47 49.31A137.9 137.9 0 0 0 313.21 47.05L312.61 52.77A132.16 132.16 0 0 1 326.28 54.93Z" fill="#feae77" stroke="#feae77" stroke-width="0.9"/>
<path d="M327.47 49.31L328.67 43.69A143.65 143.65 0 0 0 313.82 41.34L313.21 47.05A137.9 137.9 0 0 1 327.47 49.31Z" fill="#feca8d" stroke="#feca8d" stroke-width="0.9"/>
<path d="M328.67 43.69L329.86 38.07A149.4 149.4 0 0 0 314.42 35.62L313.82 41.34A143.65 143.65 0 0 1 328.67 43.69Z" fill="#fec185" stroke="#fec185" stroke-width="0.9"/>
<path d="M329.86 38.07L331.06 32.45A155.14 155.14 0 0 0 315.02 29.91L314.42 35.62A149.4 149.4 0 0 1 329.86 38.07Z" fill="#feb77e" stroke="#feb77e" stroke-width="0.9"/>
<path d="M331.06 32.45L332.25 26.83A160.89 160.89 0 0 0 315.62 24.19L315.02 29.91A155.14 155.14 0 0 1 331.06 32.45Z" fill="#fec68a" stroke="#fec68a" stroke-width="0.9"/>
<path d="M332.25 26.83L333.45 21.21A166.63 166.63 0 0 0 316.22 18.48L315.62 24.19A160.89 160.89 0 0 1 332.25 26.83Z" fill="#fed395" stroke="#fed395" stroke-width="0.9"/>
<path d="M333.45 21.21L334.64 15.59A172.38 172.38 0 0 0 316.82 12.76L316.22 18.48A166.63 166.63 0 0 1 333.45 21.21Z" fill="#fddea0" stroke="#fddea0" stroke-width="0.9"/>
<path d="M304.21 132.77L304.81 127.05A57.46 57.46 0 0 0 298.8 126.74L298.8 132.49A51.71 51.71 0 0 1 304.21 132.77Z" fill="#fb835f" stroke="#fb835f" stroke-width="0.9"/>
<path d="M304.81 127.05L305.41 121.34A63.21 63.21 0 0 0 298.8 120.99L298.8 126.74A57.46 57.46 0 0 1 304.81 127.05Z" fill="#fd9668" stroke="#fd9668" stroke-width="0.9"/>
<path d="M305.41 121.34L306.01 115.63A68.95 68.95 0 0 0 298.8 115.25L298.8 120.99A63.21 63.21 0 0 1 305.41 121.34Z" fill="#fe9f6d" stroke="#fe9f6d" stroke-width="0.9"/>
<path d="M306.01 115.63L306.61 109.91A74.7 74.7 0 0 0 298.8 109.5L298.8 115.25A68.95 68.95 0 0 1 306.01 115.63Z" fill="#fe9f6d" stroke="#fe9f6d" stroke-width="0.9"/>
<path d="M306.61 109.91L307.21 104.2A80.44 80.44 0 0 0 298.8 103.76L298.8 109.5A74.7 74.7 0 0 1 306.61 109.91Z" fill="#fd9668" stroke="#fd9668" stroke-width="0.9"/>
<path d="M307.21 104.2L307.81 98.48A86.19 86.19 0 0 0 298.8 98.01L298.8 103.76A80.44 80.44 0 0 1 307.21 104.2Z" fill="#fe9f6d" stroke="#fe9f6d" stroke-width="0.9"/>
<path d="M307.81 98.48L308.41 92.77A91.94 91.94 0 0 0 298.8 92.26L298.8 98.01A86.19 86.19 0 0 1 307.81 98.48Z" fill="#fd9668" stroke="#fd9668" stroke-width="0.9"/>
<path d="M308.41 92.77L309.01 87.05A97.68 97.68 0 0 0 298.8 86.52L298.8 92.26A91.94 91.94 0 0 1 308.41 92.77Z" fill="#fb835f" stroke="#fb835f" stroke-width="0.9"/>
<path d="M309.01 87.05L309.61 81.34A103.43 103.43 0 0 0 298.8 80.77L298.8 86.52A97.68 97.68 0 0 1 309.01 87.05Z" fill="#fd9668" stroke="#fd9668" stroke-width="0.9"/>
<path d="M309.61 81.34L310.21 75.62A109.17 109.17 0 0 0 298.8 75.03L298.8 80.77A103.43 103.43 0 0 1 309.61 81.34Z" fill="#fc8c63" stroke="#fc8c63" stroke-width="0.9"/>
<path d="M310.21 75.62L310.81 69.91A114.92 114.92 0 0 0 298.8 69.28L298.8 75.03A109.17 109.17 0 0 1 310.21 75.62Z" fill="#fc8c63" stroke="#fc8c63" stroke-width="0.9"/>
<path d="M310.81 69.91L311.41 64.2A120.67 120.67 0 0 0 298.8 63.53L298.8 69.28A114.92 114.92 0 0 1 310.81 69.91Z" fill="#fe9f6d" stroke="#fe9f6d" stroke-width="0.9"/>
<path d="M311.41 64.2L312.01 58.48A126.41 126.41 0 0 0 298.8 57.79L298.8 63.53A120.67 120.67 0 0 1 311.41 64.2Z" fill="#feae77" stroke="#feae77" stroke-width="0.9"/>
<path d="M312.01 58.48L312.61 52.77A132.16 132.16 0 0 0 298.8 52.04L298.8 57.79A126.41 126.41 0 0 1 312.01 58.48Z" fill="#feae77" stroke="#feae77" stroke-width="0.9"/>
<path d="M312.61 52.77L313.21 47.05A137.9 137.9 0 0 0 298.8 46.3L298.8 52.04A132.16 132.16 0 0 1 312.61 52.77Z" fill="#fc8c63" stroke="#fc8c63" stroke-width="0.9"/>
<path d="M313.21 47.05L313.82 41.34A143.65 143.65 0 0 0 298.8 40.55L298.8 46.3A137.9 137.9 0 0 1 313.21 47.05Z" fill="#feae77" stroke="#feae77" stroke-width="0.9"/>
<path d="M313.82 41.34L314.42 35.62A149.4 149.4 0 0 0 298.8 34.8L298.8 40.55A143.65 143.65 0 0 1 313.82 41.34Z" fill="#fed395" stroke="#fed395" stroke-width="0.9"/>
<path d="M314.42 35.62L315.02 29.91A155.14 155.14 0 0 0 298.8 29.06L298.8 34.8A149.4 149.4 0 0 1 314.42 35.62Z" fill="#fec185" stroke="#fec185" stroke-width="0.9"/>
<path d="M315.02 29.91L315.62 24.19A160.89 160.89 0 0 0 298.8 23.31L298.8 29.06A155.14 155.14 0 0 1 315.02 29.91Z" fill="#fed395" stroke="#fed395" stroke-width="0.9"/>
<path d="M315.62 24.19L316.22 18.48A166.63 166.63 0 0 0 298.8 17.57L298.8 23.31A160.89 160.89 0 0 1 315.62 24.19Z" fill="#fddea0" stroke="#fddea0" stroke-width="0.9"/>
<path d="M316.22 18.48L316.82 12.76A172.38 172.38 0 0 0 298.8 11.82L298.8 17.57A166.63 166.63 0 0 1 316.22 18.48Z" fill="#fed395" stroke="#fed395" stroke-width="0.9"/>
</g>
<path d="M298.8 11.82V184.2M298.3 184.2H471.18" stroke="#7a7a7a" stroke-width="1" fill="none"/>
<path d="M471.18 184.2A172.38 172.38 0 0 0 298.8 11.82" stroke="#222" stroke-width="0.8" fill="none"/>
<line x1="468.56" y1="154.27" x2="464.03" y2="155.07" stroke="#111" stroke-width="1.3"/>
<line x1="460.78" y1="125.24" x2="456.46" y2="126.82" stroke="#111" stroke-width="1.3"/>
<line x1="448.09" y1="98.01" x2="444.1" y2="100.31" stroke="#111" stroke-width="1.3"/>
<line x1="430.85" y1="73.4" x2="427.33" y2="76.35" stroke="#111" stroke-width="1.3"/>
<line x1="409.6" y1="52.15" x2="406.65" y2="55.67" stroke="#111" stroke-width="1.3"/>
<line x1="384.99" y1="34.91" x2="382.69" y2="38.9" stroke="#111" stroke-width="1.3"/>
<line x1="357.76" y1="22.22" x2="356.18" y2="26.54" stroke="#111" stroke-width="1.3"/>
<line x1="328.73" y1="14.44" x2="327.93" y2="18.97" stroke="#111" stroke-width="1.3"/>
<text x="481.3" y="187.2" font-size="8.4" text-anchor="middle" textLength="8.4" lengthAdjust="spacingAndGlyphs" fill="#222">0°</text>
<text x="470.29" y="124.78" font-size="8.4" text-anchor="middle" textLength="13.6" lengthAdjust="spacingAndGlyphs" fill="#222">20°</text>
<text x="438.6" y="69.89" font-size="8.4" text-anchor="middle" textLength="13.6" lengthAdjust="spacingAndGlyphs" fill="#222">40°</text>
<text x="390.05" y="29.15" font-size="8.4" text-anchor="middle" textLength="13.6" lengthAdjust="spacingAndGlyphs" fill="#222">60°</text>
<text x="330.49" y="7.47" font-size="8.4" text-anchor="middle" textLength="13.6" lengthAdjust="spacingAndGlyphs" fill="#222">80°</text>
<line x1="327.53" y1="182.2" x2="327.53" y2="186.2" stroke="#111" stroke-width="1"/>
<text x="327.53" y="193.8" font-size="8.2" text-anchor="middle" textLength="5.1" lengthAdjust="spacingAndGlyphs" fill="#222">1</text>
<line x1="296.8" y1="155.47" x2="300.8" y2="155.47" stroke="#111" stroke-width="1"/>
<text x="294.3" y="158.37" font-size="8.2" text-anchor="end" textLength="5.1" lengthAdjust="spacingAndGlyphs" fill="#222">1</text>
<line x1="356.26" y1="182.2" x2="356.26" y2="186.2" stroke="#111" stroke-width="1"/>
<text x="356.26" y="193.8" font-size="8.2" text-anchor="middle" textLength="5.1" lengthAdjust="spacingAndGlyphs" fill="#222">2</text>
<line x1="296.8" y1="126.74" x2="300.8" y2="126.74" stroke="#111" stroke-width="1"/>
<text x="294.3" y="129.64" font-size="8.2" text-anchor="end" textLength="5.1" lengthAdjust="spacingAndGlyphs" fill="#222">2</text>
<line x1="384.99" y1="182.2" x2="384.99" y2="186.2" stroke="#111" stroke-width="1"/>
<text x="384.99" y="193.8" font-size="8.2" text-anchor="middle" textLength="5.1" lengthAdjust="spacingAndGlyphs" fill="#222">3</text>
<line x1="296.8" y1="98.01" x2="300.8" y2="98.01" stroke="#111" stroke-width="1"/>
<text x="294.3" y="100.91" font-size="8.2" text-anchor="end" textLength="5.1" lengthAdjust="spacingAndGlyphs" fill="#222">3</text>
<line x1="413.72" y1="182.2" x2="413.72" y2="186.2" stroke="#111" stroke-width="1"/>
<text x="413.72" y="193.8" font-size="8.2" text-anchor="middle" textLength="5.1" lengthAdjust="spacingAndGlyphs" fill="#222">4</text>
<line x1="296.8" y1="69.28" x2="300.8" y2="69.28" stroke="#111" stroke-width="1"/>
<text x="294.3" y="72.18" font-size="8.2" text-anchor="end" textLength="5.1" lengthAdjust="spacingAndGlyphs" fill="#222">4</text>
<line x1="442.45" y1="182.2" x2="442.45" y2="186.2" stroke="#111" stroke-width="1"/>
<text x="442.45" y="193.8" font-size="8.2" text-anchor="middle" textLength="5.1" lengthAdjust="spacingAndGlyphs" fill="#222">5</text>
<line x1="296.8" y1="40.55" x2="300.8" y2="40.55" stroke="#111" stroke-width="1"/>
<text x="294.3" y="43.45" font-size="8.2" text-anchor="end" textLength="5.1" lengthAdjust="spacingAndGlyphs" fill="#222">5</text>
<text x="384.99" y="202.2" font-size="11" text-anchor="middle" textLength="28.5" lengthAdjust="spacingAndGlyphs" fill="#222"><tspan font-style="italic">ℓ</tspan>(<tspan font-style="italic">µ</tspan>m)</text>
<text transform="translate(287.2 98.81) rotate(-90)" font-size="11" text-anchor="middle" textLength="28" lengthAdjust="spacingAndGlyphs" fill="#222"><tspan font-style="italic">ℓ</tspan>(<tspan font-style="italic">µ</tspan>m)</text>
<g>
<path d="M630.65 184.2L636.4 184.2A74.7 74.7 0 0 0 635.99 176.39L630.27 176.99A68.95 68.95 0 0 1 630.65 184.2Z" fill="#fcfdbf" stroke="#fcfdbf" stroke-width="0.9"/>
<path d="M636.4 184.2L642.14 184.2A80.44 80.44 0 0 0 641.7 175.79L635.99 176.39A74.7 74.7 0 0 1 636.4 184.2Z" fill="#fcf9bb" stroke="#fcf9bb" stroke-width="0.9"/>
<path d="M642.14 184.2L647.89 184.2A86.19 86.19 0 0 0 647.42 175.19L641.7 175.79A80.44 80.44 0 0 1 642.14 184.2Z" fill="#feca8d" stroke="#feca8d" stroke-width="0.9"/>
<path d="M647.89 184.2L653.64 184.2A91.94 91.94 0 0 0 653.13 174.59L647.42 175.19A86.19 86.19 0 0 1 647.89 184.2Z" fill="#b73779" stroke="#b73779" stroke-width="0.9"/>
<path d="M653.64 184.2L659.38 184.2A97.68 97.68 0 0 0 658.85 173.99L653.13 174.59A91.94 91.94 0 0 1 653.64 184.2Z" fill="#02020b" stroke="#02020b" stroke-width="0.9"/>
<path d="M659.38 184.2L665.13 184.2A103.43 103.43 0 0 0 664.56 173.39L658.85 173.99A97.68 97.68 0 0 1 659.38 184.2Z" fill="#782281" stroke="#782281" stroke-width="0.9"/>
<path d="M665.13 184.2L670.87 184.2A109.17 109.17 0 0 0 670.28 172.79L664.56 173.39A103.43 103.43 0 0 1 665.13 184.2Z" fill="#ea5661" stroke="#ea5661" stroke-width="0.9"/>
<path d="M670.87 184.2L676.62 184.2A114.92 114.92 0 0 0 675.99 172.19L670.28 172.79A109.17 109.17 0 0 1 670.87 184.2Z" fill="#fb835f" stroke="#fb835f" stroke-width="0.9"/>
<path d="M676.62 184.2L682.37 184.2A120.67 120.67 0 0 0 681.7 171.59L675.99 172.19A114.92 114.92 0 0 1 676.62 184.2Z" fill="#fed395" stroke="#fed395" stroke-width="0.9"/>
<path d="M682.37 184.2L688.11 184.2A126.41 126.41 0 0 0 687.42 170.99L681.7 171.59A120.67 120.67 0 0 1 682.37 184.2Z" fill="#fddea0" stroke="#fddea0" stroke-width="0.9"/>
<path d="M688.11 184.2L693.86 184.2A132.16 132.16 0 0 0 693.13 170.39L687.42 170.99A126.41 126.41 0 0 1 688.11 184.2Z" fill="#fddea0" stroke="#fddea0" stroke-width="0.9"/>
<path d="M693.86 184.2L699.6 184.2A137.9 137.9 0 0 0 698.85 169.79L693.13 170.39A132.16 132.16 0 0 1 693.86 184.2Z" fill="#fed395" stroke="#fed395" stroke-width="0.9"/>
<path d="M699.6 184.2L705.35 184.2A143.65 143.65 0 0 0 704.56 169.18L698.85 169.79A137.9 137.9 0 0 1 699.6 184.2Z" fill="#fddea0" stroke="#fddea0" stroke-width="0.9"/>
<path d="M705.35 184.2L711.1 184.2A149.4 149.4 0 0 0 710.28 168.58L704.56 169.18A143.65 143.65 0 0 1 705.35 184.2Z" fill="#fddea0" stroke="#fddea0" stroke-width="0.9"/>
<path d="M711.1 184.2L716.84 184.2A155.14 155.14 0 0 0 715.99 167.98L710.28 168.58A149.4 149.4 0 0 1 711.1 184.2Z" fill="#fde7a9" stroke="#fde7a9" stroke-width="0.9"/>
<path d="M716.84 184.2L722.59 184.2A160.89 160.89 0 0 0 721.71 167.38L715.99 167.98A155.14 155.14 0 0 1 716.84 184.2Z" fill="#fddea0" stroke="#fddea0" stroke-width="0.9"/>
<path d="M722.59 184.2L728.33 184.2A166.63 166.63 0 0 0 727.42 166.78L721.71 167.38A160.89 160.89 0 0 1 722.59 184.2Z" fill="#fcf0b2" stroke="#fcf0b2" stroke-width="0.9"/>
<path d="M728.33 184.2L734.08 184.2A172.38 172.38 0 0 0 733.14 166.18L727.42 166.78A166.63 166.63 0 0 1 728.33 184.2Z" fill="#fcf4b6" stroke="#fcf4b6" stroke-width="0.9"/>
<path d="M613.13 178.79L618.85 178.19A57.46 57.46 0 0 0 617.9 172.25L612.28 173.45A51.71 51.71 0 0 1 613.13 178.79Z" fill="#fcfdbf" stroke="#fcfdbf" stroke-width="0.9"/>
<path d="M618.85 178.19L624.56 177.59A63.21 63.21 0 0 0 623.52 171.06L617.9 172.25A57.46 57.46 0 0 1 618.85 178.19Z" fill="#fcfdbf" stroke="#fcfdbf" stroke-width="0.9"/>
<path d="M624.56 177.59L630.27 176.99A68.95 68.95 0 0 0 629.15 169.86L623.52 171.06A63.21 63.21 0 0 1 624.56 177.59Z" fill="#fcf9bb" stroke="#fcf9bb" stroke-width="0.9"/>
<path d="M630.27 176.99L635.99 176.39A74.7 74.7 0 0 0 634.77 168.67L629.15 169.86A68.95 68.95 0 0 1 630.27 176.99Z" fill="#fcf4b6" stroke="#fcf4b6" stroke-width="0.9"/>
<path d="M635.99 176.39L641.7 175.79A80.44 80.44 0 0 0 640.39 167.47L634.77 168.67A74.7 74.7 0 0 1 635.99 176.39Z" fill="#fde7a9" stroke="#fde7a9" stroke-width="0.9"/>
<path d="M641.7 175.79L647.42 175.19A86.19 86.19 0 0 0 646.01 166.28L640.39 167.47A80.44 80.44 0 0 1 641.7 175.79Z" fill="#feca8d" stroke="#feca8d" stroke-width="0.9"/>
<path d="M647.42 175.19L653.13 174.59A91.94 91.94 0 0 0 651.63 165.09L646.01 166.28A86.19 86.19 0 0 1 647.42 175.19Z" fill="#ea5661" stroke="#ea5661" stroke-width="0.9"/>
<path d="M653.13 174.59L658.85 173.99A97.68 97.68 0 0 0 657.25 163.89L651.63 165.09A91.94 91.94 0 0 1 653.13 174.59Z" fill="#d6456c" stroke="#d6456c" stroke-width="0.9"/>
<path d="M658.85 173.99L664.56 173.39A103.43 103.43 0 0 0 662.87 162.7L657.25 163.89A97.68 97.68 0 0 1 658.85 173.99Z" fill="#ea5661" stroke="#ea5661" stroke-width="0.9"/>
<path d="M664.56 173.39L670.28 172.79A109.17 109.17 0 0 0 668.49 161.5L662.87 162.7A103.43 103.43 0 0 1 664.56 173.39Z" fill="#fb835f" stroke="#fb835f" stroke-width="0.9"/>
<path d="M670.28 172.79L675.99 172.19A114.92 114.92 0 0 0 674.11 160.31L668.49 161.5A109.17 109.17 0 0 1 670.28 172.79Z" fill="#fd9668" stroke="#fd9668" stroke-width="0.9"/>
<path d="M675.99 172.19L681.7 171.59A120.67 120.67 0 0 0 679.73 159.11L674.11 160.31A114.92 114.92 0 0 1 675.99 172.19Z" fill="#fed395" stroke="#fed395" stroke-width="0.9"/>
<path d="M681.7 171.59L687.42 170.99A126.41 126.41 0 0 0 685.35 157.92L679.73 159.11A120.67 120.67 0 0 1 681.7 171.59Z" fill="#fddea0" stroke="#fddea0" stroke-width="0.9"/>
<path d="M687.42 170.99L693.13 170.39A132.16 132.16 0 0 0 690.97 156.72L685.35 157.92A126.41 126.41 0 0 1 687.42 170.99Z" fill="#fddea0" stroke="#fddea0" stroke-width="0.9"/>
<path d="M693.13 170.39L698.85 169.79A137.9 137.9 0 0 0 696.59 155.53L690.97 156.72A132.16 132.16 0 0 1 693.13 170.39Z" fill="#fed395" stroke="#fed395" stroke-width="0.9"/>
<path d="M698.85 169.79L704.56 169.18A143.65 143.65 0 0 0 702.21 154.33L696.59 155.53A137.9 137.9 0 0 1 698.85 169.79Z" fill="#fecf92" stroke="#fecf92" stroke-width="0.9"/>
<path d="M704.56 169.18L710.28 168.58A149.4 149.4 0 0 0 707.83 153.14L702.21 154.33A143.65 143.65 0 0 1 704.56 169.18Z" fill="#fddea0" stroke="#fddea0" stroke-width="0.9"/>
<path d="M710.28 168.58L715.99 167.98A155.14 155.14 0 0 0 713.45 151.94L707.83 153.14A149.4 149.4 0 0 1 710.28 168.58Z" fill="#fde7a9" stroke="#fde7a9" stroke-width="0.9"/>
<path d="M715.99 167.98L721.71 167.38A160.89 160.89 0 0 0 719.07 150.75L713.45 151.94A155.14 155.14 0 0 1 715.99 167.98Z" fill="#fcf4b6" stroke="#fcf4b6" stroke-width="0.9"/>
<path d="M721.71 167.38L727.42 166.78A166.63 166.63 0 0 0 724.69 149.55L719.07 150.75A160.89 160.89 0 0 1 721.71 167.38Z" fill="#fde7a9" stroke="#fde7a9" stroke-width="0.9"/>
<path d="M727.42 166.78L733.14 166.18A172.38 172.38 0 0 0 730.31 148.36L724.69 149.55A166.63 166.63 0 0 1 727.42 166.78Z" fill="#fde7a9" stroke="#fde7a9" stroke-width="0.9"/>
<path d="M612.28 173.45L617.9 172.25A57.46 57.46 0 0 0 616.35 166.44L610.88 168.22A51.71 51.71 0 0 1 612.28 173.45Z" fill="#fcfdbf" stroke="#fcfdbf" stroke-width="0.9"/>
<path d="M617.9 172.25L623.52 171.06A63.21 63.21 0 0 0 621.81 164.67L616.35 166.44A57.46 57.46 0 0 1 617.9 172.25Z" fill="#fcf9bb" stroke="#fcf9bb" stroke-width="0.9"/>
<path d="M623.52 171.06L629.15 169.86A68.95 68.95 0 0 0 627.28 162.89L621.81 164.67A63.21 63.21 0 0 1 623.52 171.06Z" fill="#fcf4b6" stroke="#fcf4b6" stroke-width="0.9"/>
<path d="M629.15 169.86L634.77 168.67A74.7 74.7 0 0 0 632.74 161.12L627.28 162.89A68.95 68.95 0 0 1 629.15 169.86Z" fill="#fde7a9" stroke="#fde7a9" stroke-width="0.9"/>
<path d="M634.77 168.67L640.39 167.47A80.44 80.44 0 0 0 638.21 159.34L632.74 161.12A74.7 74.7 0 0 1 634.77 168.67Z" fill="#fed395" stroke="#fed395" stroke-width="0.9"/>
<path d="M640.39 167.47L646.01 166.28A86.19 86.19 0 0 0 643.67 157.57L638.21 159.34A80.44 80.44 0 0 1 640.39 167.47Z" fill="#feb77e" stroke="#feb77e" stroke-width="0.9"/>
<path d="M646.01 166.28L651.63 165.09A91.94 91.94 0 0 0 649.14 155.79L643.67 157.57A86.19 86.19 0 0 1 646.01 166.28Z" fill="#ef5d5e" stroke="#ef5d5e" stroke-width="0.9"/>
<path d="M651.63 165.09L657.25 163.89A97.68 97.68 0 0 0 654.6 154.01L649.14 155.79A91.94 91.94 0 0 1 651.63 165.09Z" fill="#f4675c" stroke="#f4675c" stroke-width="0.9"/>
<path d="M657.25 163.89L662.87 162.7A103.43 103.43 0 0 0 660.07 152.24L654.6 154.01A97.68 97.68 0 0 1 657.25 163.89Z" fill="#fb835f" stroke="#fb835f" stroke-width="0.9"/>
<path d="M662.87 162.7L668.49 161.5A109.17 109.17 0 0 0 665.53 150.46L660.07 152.24A103.43 103.43 0 0 1 662.87 162.7Z" fill="#fc8c63" stroke="#fc8c63" stroke-width="0.9"/>
<path d="M668.49 161.5L674.11 160.31A114.92 114.92 0 0 0 671 148.69L665.53 150.46A109.17 109.17 0 0 1 668.49 161.5Z" fill="#feae77" stroke="#feae77" stroke-width="0.9"/>
<path d="M674.11 160.31L679.73 159.11A120.67 120.67 0 0 0 676.46 146.91L671 148.69A114.92 114.92 0 0 1 674.11 160.31Z" fill="#feb77e" stroke="#feb77e" stroke-width="0.9"/>
<path d="M679.73 159.11L685.35 157.92A126.41 126.41 0 0 0 681.92 145.14L676.46 146.91A120.67 120.67 0 0 1 679.73 159.11Z" fill="#fed395" stroke="#fed395" stroke-width="0.9"/>
<path d="M685.35 157.92L690.97 156.72A132.16 132.16 0 0 0 687.39 143.36L681.92 145.14A126.41 126.41 0 0 1 685.35 157.92Z" fill="#fddea0" stroke="#fddea0" stroke-width="0.9"/>
<path d="M690.97 156.72L696.59 155.53A137.9 137.9 0 0 0 692.85 141.59L687.39 143.36A132.16 132.16 0 0 1 690.97 156.72Z" fill="#fed395" stroke="#fed395" stroke-width="0.9"/>
<path d="M696.59 155.53L702.21 154.33A143.65 143.65 0 0 0 698.32 139.81L692.85 141.59A137.9 137.9 0 0 1 696.59 155.53Z" fill="#fddea0" stroke="#fddea0" stroke-width="0.9"/>
<path d="M702.21 154.33L707.83 153.14A149.4 149.4 0 0 0 703.78 138.03L698.32 139.81A143.65 143.65 0 0 1 702.21 154.33Z" fill="#fde7a9" stroke="#fde7a9" stroke-width="0.9"/>
<path d="M707.83 153.14L713.45 151.94A155.14 155.14 0 0 0 709.25 136.26L703.78 138.03A149.4 149.4 0 0 1 707.83 153.14Z" fill="#fddea0" stroke="#fddea0" stroke-width="0.9"/>
<path d="M713.45 151.94L719.07 150.75A160.89 160.89 0 0 0 714.71 134.48L709.25 136.26A155.14 155.14 0 0 1 713.45 151.94Z" fill="#fcf4b6" stroke="#fcf4b6" stroke-width="0.9"/>
<path d="M719.07 150.75L724.69 149.55A166.63 166.63 0 0 0 720.18 132.71L714.71 134.48A160.89 160.89 0 0 1 719.07 150.75Z" fill="#fddea0" stroke="#fddea0" stroke-width="0.9"/>
<path d="M724.69 149.55L730.31 148.36A172.38 172.38 0 0 0 725.64 130.93L720.18 132.71A166.63 166.63 0 0 1 724.69 149.55Z" fill="#fde7a9" stroke="#fde7a9" stroke-width="0.9"/>
<path d="M610.88 168.22L616.35 166.44A57.46 57.46 0 0 0 614.19 160.83L608.94 163.17A51.71 51.71 0 0 1 610.88 168.22Z" fill="#fcf9bb" stroke="#fcf9bb" stroke-width="0.9"/>
<path d="M616.35 166.44L621.81 164.67A63.21 63.21 0 0 0 619.44 158.49L614.19 160.83A57.46 57.46 0 0 1 616.35 166.44Z" fill="#fcf4b6" stroke="#fcf4b6" stroke-width="0.9"/>
<path d="M621.81 164.67L627.28 162.89A68.95 68.95 0 0 0 624.69 156.15L619.44 158.49A63.21 63.21 0 0 1 621.81 164.67Z" fill="#fdebac" stroke="#fdebac" stroke-width="0.9"/>
<path d="M627.28 162.89L632.74 161.12A74.7 74.7 0 0 0 629.94 153.82L624.69 156.15A68.95 68.95 0 0 1 627.28 162.89Z" fill="#fddea0" stroke="#fddea0" stroke-width="0.9"/>
<path d="M632.74 161.12L638.21 159.34A80.44 80.44 0 0 0 635.19 151.48L629.94 153.82A74.7 74.7 0 0 1 632.74 161.12Z" fill="#fecf92" stroke="#fecf92" stroke-width="0.9"/>
<path d="M638.21 159.34L643.67 157.57A86.19 86.19 0 0 0 640.44 149.14L635.19 151.48A80.44 80.44 0 0 1 638.21 159.34Z" fill="#feae77" stroke="#feae77" stroke-width="0.9"/>
<path d="M643.67 157.57L649.14 155.79A91.94 91.94 0 0 0 645.69 146.81L640.44 149.14A86.19 86.19 0 0 1 643.67 157.57Z" fill="#f7705c" stroke="#f7705c" stroke-width="0.9"/>
<path d="M649.14 155.79L654.6 154.01A97.68 97.68 0 0 0 650.94 144.47L645.69 146.81A91.94 91.94 0 0 1 649.14 155.79Z" fill="#f4675c" stroke="#f4675c" stroke-width="0.9"/>
<path d="M654.6 154.01L660.07 152.24A103.43 103.43 0 0 0 656.19 142.13L650.94 144.47A97.68 97.68 0 0 1 654.6 154.01Z" fill="#fc8c63" stroke="#fc8c63" stroke-width="0.9"/>
<path d="M660.07 152.24L665.53 150.46A109.17 109.17 0 0 0 661.44 139.79L656.19 142.13A103.43 103.43 0 0 1 660.07 152.24Z" fill="#fd9668" stroke="#fd9668" stroke-width="0.9"/>
<path d="M665.53 150.46L671 148.69A114.92 114.92 0 0 0 666.68 137.46L661.44 139.79A109.17 109.17 0 0 1 665.53 150.46Z" fill="#feae77" stroke="#feae77" stroke-width="0.9"/>
<path d="M671 148.69L676.46 146.91A120.67 120.67 0 0 0 671.93 135.12L666.68 137.46A114.92 114.92 0 0 1 671 148.69Z" fill="#feca8d" stroke="#feca8d" stroke-width="0.9"/>
<path d="M676.46 146.91L681.92 145.14A126.41 126.41 0 0 0 677.18 132.78L671.93 135.12A120.67 120.67 0 0 1 676.46 146.91Z" fill="#fec185" stroke="#fec185" stroke-width="0.9"/>
<path d="M681.92 145.14L687.39 143.36A132.16 132.16 0 0 0 682.43 130.45L677.18 132.78A126.41 126.41 0 0 1 681.92 145.14Z" fill="#fecf92" stroke="#fecf92" stroke-width="0.9"/>
<path d="M687.39 143.36L692.85 141.59A137.9 137.9 0 0 0 687.68 128.11L682.43 130.45A132.16 132.16 0 0 1 687.39 143.36Z" fill="#fed395" stroke="#fed395" stroke-width="0.9"/>
<path d="M692.85 141.59L698.32 139.81A143.65 143.65 0 0 0 692.93 125.77L687.68 128.11A137.9 137.9 0 0 1 692.85 141.59Z" fill="#feca8d" stroke="#feca8d" stroke-width="0.9"/>
<path d="M698.32 139.81L703.78 138.03A149.4 149.4 0 0 0 698.18 123.44L692.93 125.77A143.65 143.65 0 0 1 698.32 139.81Z" fill="#fddea0" stroke="#fddea0" stroke-width="0.9"/>
<path d="M703.78 138.03L709.25 136.26A155.14 155.14 0 0 0 703.43 121.1L698.18 123.44A149.4 149.4 0 0 1 703.78 138.03Z" fill="#fddea0" stroke="#fddea0" stroke-width="0.9"/>
<path d="M709.25 136.26L714.71 134.48A160.89 160.89 0 0 0 708.68 118.76L703.43 121.1A155.14 155.14 0 0 1 709.25 136.26Z" fill="#fed395" stroke="#fed395" stroke-width="0.9"/>
<path d="M714.71 134.48L720.18 132.71A166.63 166.63 0 0 0 713.93 116.42L708.68 118.76A160.89 160.89 0 0 1 714.71 134.48Z" fill="#fddea0" stroke="#fddea0" stroke-width="0.9"/>
<path d="M720.18 132.71L725.64 130.93A172.38 172.38 0 0 0 719.18 114.09L713.93 116.42A166.63 166.63 0 0 1 720.18 132.71Z" fill="#fddea0" stroke="#fddea0" stroke-width="0.9"/>
<path d="M608.94 163.17L614.19 160.83A57.46 57.46 0 0 0 611.46 155.47L606.49 158.34A51.71 51.71 0 0 1 608.94 163.17Z" fill="#fcf0b2" stroke="#fcf0b2" stroke-width="0.9"/>
<path d="M614.19 160.83L619.44 158.49A63.21 63.21 0 0 0 616.44 152.6L611.46 155.47A57.46 57.46 0 0 1 614.19 160.83Z" fill="#fcf4b6" stroke="#fcf4b6" stroke-width="0.9"/>
<path d="M619.44 158.49L624.69 156.15A68.95 68.95 0 0 0 621.41 149.72L616.44 152.6A63.21 63.21 0 0 1 619.44 158.49Z" fill="#fde7a9" stroke="#fde7a9" stroke-width="0.9"/>
<path d="M624.69 156.15L629.94 153.82A74.7 74.7 0 0 0 626.39 146.85L621.41 149.72A68.95 68.95 0 0 1 624.69 156.15Z" fill="#fed395" stroke="#fed395" stroke-width="0.9"/>
<path d="M629.94 153.82L635.19 151.48A80.44 80.44 0 0 0 631.37 143.98L626.39 146.85A74.7 74.7 0 0 1 629.94 153.82Z" fill="#feb77e" stroke="#feb77e" stroke-width="0.9"/>
<path d="M635.19 151.48L640.44 149.14A86.19 86.19 0 0 0 636.34 141.1L631.37 143.98A80.44 80.44 0 0 1 635.19 151.48Z" fill="#fc8c63" stroke="#fc8c63" stroke-width="0.9"/>
<path d="M640.44 149.14L645.69 146.81A91.94 91.94 0 0 0 641.32 138.23L636.34 141.1A86.19 86.19 0 0 1 640.44 149.14Z" fill="#fb835f" stroke="#fb835f" stroke-width="0.9"/>
<path d="M645.69 146.81L650.94 144.47A97.68 97.68 0 0 0 646.3 135.36L641.32 138.23A91.94 91.94 0 0 1 645.69 146.81Z" fill="#f2625d" stroke="#f2625d" stroke-width="0.9"/>
<path d="M650.94 144.47L656.19 142.13A103.43 103.43 0 0 0 651.27 132.49L646.3 135.36A97.68 97.68 0 0 1 650.94 144.47Z" fill="#fb835f" stroke="#fb835f" stroke-width="0.9"/>
<path d="M656.19 142.13L661.44 139.79A109.17 109.17 0 0 0 656.25 129.61L651.27 132.49A103.43 103.43 0 0 1 656.19 142.13Z" fill="#fc8c63" stroke="#fc8c63" stroke-width="0.9"/>
<path d="M661.44 139.79L666.68 137.46A114.92 114.92 0 0 0 661.22 126.74L656.25 129.61A109.17 109.17 0 0 1 661.44 139.79Z" fill="#fc8c63" stroke="#fc8c63" stroke-width="0.9"/>
<path d="M666.68 137.46L671.93 135.12A120.67 120.67 0 0 0 666.2 123.87L661.22 126.74A114.92 114.92 0 0 1 666.68 137.46Z" fill="#feae77" stroke="#feae77" stroke-width="0.9"/>
<path d="M671.93 135.12L677.18 132.78A126.41 126.41 0 0 0 671.18 120.99L666.2 123.87A120.67 120.67 0 0 1 671.93 135.12Z" fill="#feca8d" stroke="#feca8d" stroke-width="0.9"/>
<path d="M677.18 132.78L682.43 130.45A132.16 132.16 0 0 0 676.15 118.12L671.18 120.99A126.41 126.41 0 0 1 677.18 132.78Z" fill="#fec68a" stroke="#fec68a" stroke-width="0.9"/>
<path d="M682.43 130.45L687.68 128.11A137.9 137.9 0 0 0 681.13 115.25L676.15 118.12A132.16 132.16 0 0 1 682.43 130.45Z" fill="#fed395" stroke="#fed395" stroke-width="0.9"/>
<path d="M687.68 128.11L692.93 125.77A143.65 143.65 0 0 0 686.1 112.38L681.13 115.25A137.9 137.9 0 0 1 687.68 128.11Z" fill="#feca8d" stroke="#feca8d" stroke-width="0.9"/>
<path d="M692.93 125.77L698.18 123.44A149.4 149.4 0 0 0 691.08 109.5L686.1 112.38A143.65 143.65 0 0 1 692.93 125.77Z" fill="#fddea0" stroke="#fddea0" stroke-width="0.9"/>
<path d="M698.18 123.44L703.43 121.1A155.14 155.14 0 0 0 696.06 106.63L691.08 109.5A149.4 149.4 0 0 1 698.18 123.44Z" fill="#fddea0" stroke="#fddea0" stroke-width="0.9"/>
<path d="M703.43 121.1L708.68 118.76A160.89 160.89 0 0 0 701.03 103.76L696.06 106.63A155.14 155.14 0 0 1 703.43 121.1Z" fill="#fed395" stroke="#fed395" stroke-width="0.9"/>
<path d="M708.68 118.76L713.93 116.42A166.63 166.63 0 0 0 706.01 100.88L701.03 103.76A160.89 160.89 0 0 1 708.68 118.76Z" fill="#fddea0" stroke="#fddea0" stroke-width="0.9"/>
<path d="M713.93 116.42L719.18 114.09A172.38 172.38 0 0 0 710.99 98.01L706.01 100.88A166.63 166.63 0 0 1 713.93 116.42Z" fill="#fde7a9" stroke="#fde7a9" stroke-width="0.9"/>
<path d="M606.49 158.34L611.46 155.47A57.46 57.46 0 0 0 608.19 150.43L603.54 153.8A51.71 51.71 0 0 1 606.49 158.34Z" fill="#fdebac" stroke="#fdebac" stroke-width="0.9"/>
<path d="M611.46 155.47L616.44 152.6A63.21 63.21 0 0 0 612.83 147.05L608.19 150.43A57.46 57.46 0 0 1 611.46 155.47Z" fill="#fddea0" stroke="#fddea0" stroke-width="0.9"/>
<path d="M616.44 152.6L621.41 149.72A68.95 68.95 0 0 0 617.48 143.67L612.83 147.05A63.21 63.21 0 0 1 616.44 152.6Z" fill="#fed395" stroke="#fed395" stroke-width="0.9"/>
<path d="M621.41 149.72L626.39 146.85A74.7 74.7 0 0 0 622.13 140.29L617.48 143.67A68.95 68.95 0 0 1 621.41 149.72Z" fill="#feb77e" stroke="#feb77e" stroke-width="0.9"/>
<path d="M626.39 146.85L631.37 143.98A80.44 80.44 0 0 0 626.78 136.92L622.13 140.29A74.7 74.7 0 0 1 626.39 146.85Z" fill="#feae77" stroke="#feae77" stroke-width="0.9"/>
<path d="M631.37 143.98L636.34 141.1A86.19 86.19 0 0 0 631.43 133.54L626.78 136.92A80.44 80.44 0 0 1 631.37 143.98Z" fill="#f9795d" stroke="#f9795d" stroke-width="0.9"/>
<path d="M636.34 141.1L641.32 138.23A91.94 91.94 0 0 0 636.08 130.16L631.43 133.54A86.19 86.19 0 0 1 636.34 141.1Z" fill="#fb835f" stroke="#fb835f" stroke-width="0.9"/>
<path d="M641.32 138.23L646.3 135.36A97.68 97.68 0 0 0 640.73 126.78L636.08 130.16A91.94 91.94 0 0 1 641.32 138.23Z" fill="#fc8c63" stroke="#fc8c63" stroke-width="0.9"/>
<path d="M646.3 135.36L651.27 132.49A103.43 103.43 0 0 0 645.38 123.41L640.73 126.78A97.68 97.68 0 0 1 646.3 135.36Z" fill="#feae77" stroke="#feae77" stroke-width="0.9"/>
<path d="M651.27 132.49L656.25 129.61A109.17 109.17 0 0 0 650.02 120.03L645.38 123.41A103.43 103.43 0 0 1 651.27 132.49Z" fill="#fd9668" stroke="#fd9668" stroke-width="0.9"/>
<path d="M656.25 129.61L661.22 126.74A114.92 114.92 0 0 0 654.67 116.65L650.02 120.03A109.17 109.17 0 0 1 656.25 129.61Z" fill="#fc8c63" stroke="#fc8c63" stroke-width="0.9"/>
<path d="M661.22 126.74L666.2 123.87A120.67 120.67 0 0 0 659.32 113.27L654.67 116.65A114.92 114.92 0 0 1 661.22 126.74Z" fill="#feae77" stroke="#feae77" stroke-width="0.9"/>
<path d="M666.2 123.87L671.18 120.99A126.41 126.41 0 0 0 663.97 109.9L659.32 113.27A120.67 120.67 0 0 1 666.2 123.87Z" fill="#feb77e" stroke="#feb77e" stroke-width="0.9"/>
<path d="M671.18 120.99L676.15 118.12A132.16 132.16 0 0 0 668.62 106.52L663.97 109.9A126.41 126.41 0 0 1 671.18 120.99Z" fill="#fec68a" stroke="#fec68a" stroke-width="0.9"/>
<path d="M676.15 118.12L681.13 115.25A137.9 137.9 0 0 0 673.27 103.14L668.62 106.52A132.16 132.16 0 0 1 676.15 118.12Z" fill="#fed395" stroke="#fed395" stroke-width="0.9"/>
<path d="M681.13 115.25L686.1 112.38A143.65 143.65 0 0 0 677.92 99.76L673.27 103.14A137.9 137.9 0 0 1 681.13 115.25Z" fill="#fed395" stroke="#fed395" stroke-width="0.9"/>
<path d="M686.1 112.38L691.08 109.5A149.4 149.4 0 0 0 682.56 96.39L677.92 99.76A143.65 143.65 0 0 1 686.1 112.38Z" fill="#fcf0b2" stroke="#fcf0b2" stroke-width="0.9"/>
<path d="M691.08 109.5L696.06 106.63A155.14 155.14 0 0 0 687.21 93.01L682.56 96.39A149.4 149.4 0 0 1 691.08 109.5Z" fill="#fddea0" stroke="#fddea0" stroke-width="0.9"/>
<path d="M696.06 106.63L701.03 103.76A160.89 160.89 0 0 0 691.86 89.63L687.21 93.01A155.14 155.14 0 0 1 696.06 106.63Z" fill="#fddea0" stroke="#fddea0" stroke-width="0.9"/>
<path d="M701.03 103.76L706.01 100.88A166.63 166.63 0 0 0 696.51 86.25L691.86 89.63A160.89 160.89 0 0 1 701.03 103.76Z" fill="#fde7a9" stroke="#fde7a9" stroke-width="0.9"/>
<path d="M706.01 100.88L710.99 98.01A172.38 172.38 0 0 0 701.16 82.88L696.51 86.25A166.63 166.63 0 0 1 706.01 100.88Z" fill="#fcf0b2" stroke="#fcf0b2" stroke-width="0.9"/>
<path d="M603.54 153.8L608.19 150.43A57.46 57.46 0 0 0 604.4 145.75L600.13 149.6A51.71 51.71 0 0 1 603.54 153.8Z" fill="#fed395" stroke="#fed395" stroke-width="0.9"/>
<path d="M608.19 150.43L612.83 147.05A63.21 63.21 0 0 0 608.67 141.91L604.4 145.75A57.46 57.46 0 0 1 608.19 150.43Z" fill="#fddea0" stroke="#fddea0" stroke-width="0.9"/>
<path d="M612.83 147.05L617.48 143.67A68.95 68.95 0 0 0 612.94 138.06L608.67 141.91A63.21 63.21 0 0 1 612.83 147.05Z" fill="#feb77e" stroke="#feb77e" stroke-width="0.9"/>
<path d="M617.48 143.67L622.13 140.29A74.7 74.7 0 0 0 617.21 134.22L612.94 138.06A68.95 68.95 0 0 1 617.48 143.67Z" fill="#feae77" stroke="#feae77" stroke-width="0.9"/>
<path d="M622.13 140.29L626.78 136.92A80.44 80.44 0 0 0 621.48 130.37L617.21 134.22A74.7 74.7 0 0 1 622.13 140.29Z" fill="#ef5d5e" stroke="#ef5d5e" stroke-width="0.9"/>
<path d="M626.78 136.92L631.43 133.54A86.19 86.19 0 0 0 625.75 126.53L621.48 130.37A80.44 80.44 0 0 1 626.78 136.92Z" fill="#fb835f" stroke="#fb835f" stroke-width="0.9"/>
<path d="M631.43 133.54L636.08 130.16A91.94 91.94 0 0 0 630.02 122.68L625.75 126.53A86.19 86.19 0 0 1 631.43 133.54Z" fill="#fe9f6d" stroke="#fe9f6d" stroke-width="0.9"/>
<path d="M636.08 130.16L640.73 126.78A97.68 97.68 0 0 0 634.29 118.84L630.02 122.68A91.94 91.94 0 0 1 636.08 130.16Z" fill="#fc8c63" stroke="#fc8c63" stroke-width="0.9"/>
<path d="M640.73 126.78L645.38 123.41A103.43 103.43 0 0 0 638.56 114.99L634.29 118.84A97.68 97.68 0 0 1 640.73 126.78Z" fill="#fed395" stroke="#fed395" stroke-width="0.9"/>
<path d="M645.38 123.41L650.02 120.03A109.17 109.17 0 0 0 642.83 111.15L638.56 114.99A103.43 103.43 0 0 1 645.38 123.41Z" fill="#fd9668" stroke="#fd9668" stroke-width="0.9"/>
<path d="M650.02 120.03L654.67 116.65A114.92 114.92 0 0 0 647.1 107.3L642.83 111.15A109.17 109.17 0 0 1 650.02 120.03Z" fill="#f4675c" stroke="#f4675c" stroke-width="0.9"/>
<path d="M654.67 116.65L659.32 113.27A120.67 120.67 0 0 0 651.37 103.46L647.1 107.3A114.92 114.92 0 0 1 654.67 116.65Z" fill="#f9795d" stroke="#f9795d" stroke-width="0.9"/>
<path d="M659.32 113.27L663.97 109.9A126.41 126.41 0 0 0 655.64 99.61L651.37 103.46A120.67 120.67 0 0 1 659.32 113.27Z" fill="#feae77" stroke="#feae77" stroke-width="0.9"/>
<path d="M663.97 109.9L668.62 106.52A132.16 132.16 0 0 0 659.91 95.77L655.64 99.61A126.41 126.41 0 0 1 663.97 109.9Z" fill="#feca8d" stroke="#feca8d" stroke-width="0.9"/>
<path d="M668.62 106.52L673.27 103.14A137.9 137.9 0 0 0 664.18 91.92L659.91 95.77A132.16 132.16 0 0 1 668.62 106.52Z" fill="#fddea0" stroke="#fddea0" stroke-width="0.9"/>
<path d="M673.27 103.14L677.92 99.76A143.65 143.65 0 0 0 668.45 88.08L664.18 91.92A137.9 137.9 0 0 1 673.27 103.14Z" fill="#fdebac" stroke="#fdebac" stroke-width="0.9"/>
<path d="M677.92 99.76L682.56 96.39A149.4 149.4 0 0 0 672.72 84.23L668.45 88.08A143.65 143.65 0 0 1 677.92 99.76Z" fill="#fed395" stroke="#fed395" stroke-width="0.9"/>
<path d="M682.56 96.39L687.21 93.01A155.14 155.14 0 0 0 676.99 80.39L672.72 84.23A149.4 149.4 0 0 1 682.56 96.39Z" fill="#fddea0" stroke="#fddea0" stroke-width="0.9"/>
<path d="M687.21 93.01L691.86 89.63A160.89 160.89 0 0 0 681.26 76.54L676.99 80.39A155.14 155.14 0 0 1 687.21 93.01Z" fill="#fde7a9" stroke="#fde7a9" stroke-width="0.9"/>
<path d="M691.86 89.63L696.51 86.25A166.63 166.63 0 0 0 685.53 72.7L681.26 76.54A160.89 160.89 0 0 1 691.86 89.63Z" fill="#fddea0" stroke="#fddea0" stroke-width="0.9"/>
<path d="M696.51 86.25L701.16 82.88A172.38 172.38 0 0 0 689.8 68.86L685.53 72.7A166.63 166.63 0 0 1 696.51 86.25Z" fill="#fde7a9" stroke="#fde7a9" stroke-width="0.9"/>
<path d="M600.13 149.6L604.4 145.75A57.46 57.46 0 0 0 600.15 141.5L596.3 145.77A51.71 51.71 0 0 1 600.13 149.6Z" fill="#fec68a" stroke="#fec68a" stroke-width="0.9"/>
<path d="M604.4 145.75L608.67 141.91A63.21 63.21 0 0 0 603.99 137.23L600.15 141.5A57.46 57.46 0 0 1 604.4 145.75Z" fill="#feb77e" stroke="#feb77e" stroke-width="0.9"/>
<path d="M608.67 141.91L612.94 138.06A68.95 68.95 0 0 0 607.84 132.96L603.99 137.23A63.21 63.21 0 0 1 608.67 141.91Z" fill="#fd9668" stroke="#fd9668" stroke-width="0.9"/>
<path d="M612.94 138.06L617.21 134.22A74.7 74.7 0 0 0 611.68 128.69L607.84 132.96A68.95 68.95 0 0 1 612.94 138.06Z" fill="#fb835f" stroke="#fb835f" stroke-width="0.9"/>
<path d="M617.21 134.22L621.48 130.37A80.44 80.44 0 0 0 615.53 124.42L611.68 128.69A74.7 74.7 0 0 1 617.21 134.22Z" fill="#fe9f6d" stroke="#fe9f6d" stroke-width="0.9"/>
<path d="M621.48 130.37L625.75 126.53A86.19 86.19 0 0 0 619.37 120.15L615.53 124.42A80.44 80.44 0 0 1 621.48 130.37Z" fill="#fc8c63" stroke="#fc8c63" stroke-width="0.9"/>
<path d="M625.75 126.53L630.02 122.68A91.94 91.94 0 0 0 623.22 115.88L619.37 120.15A86.19 86.19 0 0 1 625.75 126.53Z" fill="#feca8d" stroke="#feca8d" stroke-width="0.9"/>
<path d="M630.02 122.68L634.29 118.84A97.68 97.68 0 0 0 627.06 111.61L623.22 115.88A91.94 91.94 0 0 1 630.02 122.68Z" fill="#feae77" stroke="#feae77" stroke-width="0.9"/>
<path d="M634.29 118.84L638.56 114.99A103.43 103.43 0 0 0 630.91 107.34L627.06 111.61A97.68 97.68 0 0 1 634.29 118.84Z" fill="#fc8c63" stroke="#fc8c63" stroke-width="0.9"/>
<path d="M638.56 114.99L642.83 111.15A109.17 109.17 0 0 0 634.75 103.07L630.91 107.34A103.43 103.43 0 0 1 638.56 114.99Z" fill="#feae77" stroke="#feae77" stroke-width="0.9"/>
<path d="M642.83 111.15L647.1 107.3A114.92 114.92 0 0 0 638.6 98.8L634.75 103.07A109.17 109.17 0 0 1 642.83 111.15Z" fill="#fc8c63" stroke="#fc8c63" stroke-width="0.9"/>
<path d="M647.1 107.3L651.37 103.46A120.67 120.67 0 0 0 642.44 94.53L638.6 98.8A114.92 114.92 0 0 1 647.1 107.3Z" fill="#fd9668" stroke="#fd9668" stroke-width="0.9"/>
<path d="M651.37 103.46L655.64 99.61A126.41 126.41 0 0 0 646.29 90.26L642.44 94.53A120.67 120.67 0 0 1 651.37 103.46Z" fill="#feb77e" stroke="#feb77e" stroke-width="0.9"/>
<path d="M655.64 99.61L659.91 95.77A132.16 132.16 0 0 0 650.13 85.99L646.29 90.26A126.41 126.41 0 0 1 655.64 99.61Z" fill="#fec185" stroke="#fec185" stroke-width="0.9"/>
<path d="M659.91 95.77L664.18 91.92A137.9 137.9 0 0 0 653.98 81.72L650.13 85.99A132.16 132.16 0 0 1 659.91 95.77Z" fill="#fddea0" stroke="#fddea0" stroke-width="0.9"/>
<path d="M664.18 91.92L668.45 88.08A143.65 143.65 0 0 0 657.82 77.45L653.98 81.72A137.9 137.9 0 0 1 664.18 91.92Z" fill="#fddea0" stroke="#fddea0" stroke-width="0.9"/>
<path d="M668.45 88.08L672.72 84.23A149.4 149.4 0 0 0 661.67 73.18L657.82 77.45A143.65 143.65 0 0 1 668.45 88.08Z" fill="#feca8d" stroke="#feca8d" stroke-width="0.9"/>
<path d="M672.72 84.23L676.99 80.39A155.14 155.14 0 0 0 665.51 68.91L661.67 73.18A149.4 149.4 0 0 1 672.72 84.23Z" fill="#fed395" stroke="#fed395" stroke-width="0.9"/>
<path d="M676.99 80.39L681.26 76.54A160.89 160.89 0 0 0 669.36 64.64L665.51 68.91A155.14 155.14 0 0 1 676.99 80.39Z" fill="#fddea0" stroke="#fddea0" stroke-width="0.9"/>
<path d="M681.26 76.54L685.53 72.7A166.63 166.63 0 0 0 673.2 60.37L669.36 64.64A160.89 160.89 0 0 1 681.26 76.54Z" fill="#fed395" stroke="#fed395" stroke-width="0.9"/>
<path d="M685.53 72.7L689.8 68.86A172.38 172.38 0 0 0 677.04 56.1L673.2 60.37A166.63 166.63 0 0 1 685.53 72.7Z" fill="#fddea0" stroke="#fddea0" stroke-width="0.9"/>
<path d="M596.3 145.77L600.15 141.5A57.46 57.46 0 0 0 595.47 137.71L592.1 142.36A51.71 51.71 0 0 1 596.3 145.77Z" fill="#feb77e" stroke="#feb77e" stroke-width="0.9"/>
<path d="M600.15 141.5L603.99 137.23A63.21 63.21 0 0 0 598.85 133.07L595.47 137.71A57.46 57.46 0 0 1 600.15 141.5Z" fill="#feae77" stroke="#feae77" stroke-width="0.9"/>
<path d="M603.99 137.23L607.84 132.96A68.95 68.95 0 0 0 602.23 128.42L598.85 133.07A63.21 63.21 0 0 1 603.99 137.23Z" fill="#fc8c63" stroke="#fc8c63" stroke-width="0.9"/>
<path d="M607.84 132.96L611.68 128.69A74.7 74.7 0 0 0 605.61 123.77L602.23 128.42A68.95 68.95 0 0 1 607.84 132.96Z" fill="#f9795d" stroke="#f9795d" stroke-width="0.9"/>
<path d="M611.68 128.69L615.53 124.42A80.44 80.44 0 0 0 608.98 119.12L605.61 123.77A74.7 74.7 0 0 1 611.68 128.69Z" fill="#fc8c63" stroke="#fc8c63" stroke-width="0.9"/>
<path d="M615.53 124.42L619.37 120.15A86.19 86.19 0 0 0 612.36 114.47L608.98 119.12A80.44 80.44 0 0 1 615.53 124.42Z" fill="#feae77" stroke="#feae77" stroke-width="0.9"/>
<path d="M619.37 120.15L623.22 115.88A91.94 91.94 0 0 0 615.74 109.82L612.36 114.47A86.19 86.19 0 0 1 619.37 120.15Z" fill="#fec185" stroke="#fec185" stroke-width="0.9"/>
<path d="M623.22 115.88L627.06 111.61A97.68 97.68 0 0 0 619.12 105.17L615.74 109.82A91.94 91.94 0 0 1 623.22 115.88Z" fill="#fc8c63" stroke="#fc8c63" stroke-width="0.9"/>
<path d="M627.06 111.61L630.91 107.34A103.43 103.43 0 0 0 622.49 100.52L619.12 105.17A97.68 97.68 0 0 1 627.06 111.61Z" fill="#fec185" stroke="#fec185" stroke-width="0.9"/>
<path d="M630.91 107.34L634.75 103.07A109.17 109.17 0 0 0 625.87 95.88L622.49 100.52A103.43 103.43 0 0 1 630.91 107.34Z" fill="#f9795d" stroke="#f9795d" stroke-width="0.9"/>
<path d="M634.75 103.07L638.6 98.8A114.92 114.92 0 0 0 629.25 91.23L625.87 95.88A109.17 109.17 0 0 1 634.75 103.07Z" fill="#fc8c63" stroke="#fc8c63" stroke-width="0.9"/>
<path d="M638.6 98.8L642.44 94.53A120.67 120.67 0 0 0 632.63 86.58L629.25 91.23A114.92 114.92 0 0 1 638.6 98.8Z" fill="#fe9f6d" stroke="#fe9f6d" stroke-width="0.9"/>
<path d="M642.44 94.53L646.29 90.26A126.41 126.41 0 0 0 636 81.93L632.63 86.58A120.67 120.67 0 0 1 642.44 94.53Z" fill="#fd9668" stroke="#fd9668" stroke-width="0.9"/>
<path d="M646.29 90.26L650.13 85.99A132.16 132.16 0 0 0 639.38 77.28L636 81.93A126.41 126.41 0 0 1 646.29 90.26Z" fill="#feb77e" stroke="#feb77e" stroke-width="0.9"/>
<path d="M650.13 85.99L653.98 81.72A137.9 137.9 0 0 0 642.76 72.63L639.38 77.28A132.16 132.16 0 0 1 650.13 85.99Z" fill="#fec68a" stroke="#fec68a" stroke-width="0.9"/>
<path d="M653.98 81.72L657.82 77.45A143.65 143.65 0 0 0 646.14 67.98L642.76 72.63A137.9 137.9 0 0 1 653.98 81.72Z" fill="#fed395" stroke="#fed395" stroke-width="0.9"/>
<path d="M657.82 77.45L661.67 73.18A149.4 149.4 0 0 0 649.51 63.34L646.14 67.98A143.65 143.65 0 0 1 657.82 77.45Z" fill="#feb77e" stroke="#feb77e" stroke-width="0.9"/>
<path d="M661.67 73.18L665.51 68.91A155.14 155.14 0 0 0 652.89 58.69L649.51 63.34A149.4 149.4 0 0 1 661.67 73.18Z" fill="#feae77" stroke="#feae77" stroke-width="0.9"/>
<path d="M665.51 68.91L669.36 64.64A160.89 160.89 0 0 0 656.27 54.04L652.89 58.69A155.14 155.14 0 0 1 665.51 68.91Z" fill="#feae77" stroke="#feae77" stroke-width="0.9"/>
<path d="M669.36 64.64L673.2 60.37A166.63 166.63 0 0 0 659.65 49.39L656.27 54.04A160.89 160.89 0 0 1 669.36 64.64Z" fill="#fddea0" stroke="#fddea0" stroke-width="0.9"/>
<path d="M673.2 60.37L677.04 56.1A172.38 172.38 0 0 0 663.02 44.74L659.65 49.39A166.63 166.63 0 0 1 673.2 60.37Z" fill="#fddea0" stroke="#fddea0" stroke-width="0.9"/>
<path d="M592.1 142.36L595.47 137.71A57.46 57.46 0 0 0 590.43 134.44L587.56 139.41A51.71 51.71 0 0 1 592.1 142.36Z" fill="#fb835f" stroke="#fb835f" stroke-width="0.9"/>
<path d="M595.47 137.71L598.85 133.07A63.21 63.21 0 0 0 593.3 129.46L590.43 134.44A57.46 57.46 0 0 1 595.47 137.71Z" fill="#f4675c" stroke="#f4675c" stroke-width="0.9"/>
<path d="M598.85 133.07L602.23 128.42A68.95 68.95 0 0 0 596.18 124.49L593.3 129.46A63.21 63.21 0 0 1 598.85 133.07Z" fill="#fb835f" stroke="#fb835f" stroke-width="0.9"/>
<path d="M602.23 128.42L605.61 123.77A74.7 74.7 0 0 0 599.05 119.51L596.18 124.49A68.95 68.95 0 0 1 602.23 128.42Z" fill="#f4675c" stroke="#f4675c" stroke-width="0.9"/>
<path d="M605.61 123.77L608.98 119.12A80.44 80.44 0 0 0 601.92 114.53L599.05 119.51A74.7 74.7 0 0 1 605.61 123.77Z" fill="#f7705c" stroke="#f7705c" stroke-width="0.9"/>
<path d="M608.98 119.12L612.36 114.47A86.19 86.19 0 0 0 604.8 109.56L601.92 114.53A80.44 80.44 0 0 1 608.98 119.12Z" fill="#fe9f6d" stroke="#fe9f6d" stroke-width="0.9"/>
<path d="M612.36 114.47L615.74 109.82A91.94 91.94 0 0 0 607.67 104.58L604.8 109.56A86.19 86.19 0 0 1 612.36 114.47Z" fill="#fc8c63" stroke="#fc8c63" stroke-width="0.9"/>
<path d="M615.74 109.82L619.12 105.17A97.68 97.68 0 0 0 610.54 99.6L607.67 104.58A91.94 91.94 0 0 1 615.74 109.82Z" fill="#feae77" stroke="#feae77" stroke-width="0.9"/>
<path d="M619.12 105.17L622.49 100.52A103.43 103.43 0 0 0 613.41 94.63L610.54 99.6A97.68 97.68 0 0 1 619.12 105.17Z" fill="#feb77e" stroke="#feb77e" stroke-width="0.9"/>
<path d="M622.49 100.52L625.87 95.88A109.17 109.17 0 0 0 616.29 89.65L613.41 94.63A103.43 103.43 0 0 1 622.49 100.52Z" fill="#f9795d" stroke="#f9795d" stroke-width="0.9"/>
<path d="M625.87 95.88L629.25 91.23A114.92 114.92 0 0 0 619.16 84.68L616.29 89.65A109.17 109.17 0 0 1 625.87 95.88Z" fill="#f7705c" stroke="#f7705c" stroke-width="0.9"/>
<path d="M629.25 91.23L632.63 86.58A120.67 120.67 0 0 0 622.03 79.7L619.16 84.68A114.92 114.92 0 0 1 629.25 91.23Z" fill="#f4675c" stroke="#f4675c" stroke-width="0.9"/>
<path d="M632.63 86.58L636 81.93A126.41 126.41 0 0 0 624.91 74.72L622.03 79.7A120.67 120.67 0 0 1 632.63 86.58Z" fill="#fb835f" stroke="#fb835f" stroke-width="0.9"/>
<path d="M636 81.93L639.38 77.28A132.16 132.16 0 0 0 627.78 69.75L624.91 74.72A126.41 126.41 0 0 1 636 81.93Z" fill="#feae77" stroke="#feae77" stroke-width="0.9"/>
<path d="M639.38 77.28L642.76 72.63A137.9 137.9 0 0 0 630.65 64.77L627.78 69.75A132.16 132.16 0 0 1 639.38 77.28Z" fill="#fd9668" stroke="#fd9668" stroke-width="0.9"/>
<path d="M642.76 72.63L646.14 67.98A143.65 143.65 0 0 0 633.53 59.8L630.65 64.77A137.9 137.9 0 0 1 642.76 72.63Z" fill="#fec185" stroke="#fec185" stroke-width="0.9"/>
<path d="M646.14 67.98L649.51 63.34A149.4 149.4 0 0 0 636.4 54.82L633.53 59.8A143.65 143.65 0 0 1 646.14 67.98Z" fill="#feb77e" stroke="#feb77e" stroke-width="0.9"/>
<path d="M649.51 63.34L652.89 58.69A155.14 155.14 0 0 0 639.27 49.84L636.4 54.82A149.4 149.4 0 0 1 649.51 63.34Z" fill="#fed395" stroke="#fed395" stroke-width="0.9"/>
<path d="M652.89 58.69L656.27 54.04A160.89 160.89 0 0 0 642.14 44.87L639.27 49.84A155.14 155.14 0 0 1 652.89 58.69Z" fill="#fed395" stroke="#fed395" stroke-width="0.9"/>
<path d="M656.27 54.04L659.65 49.39A166.63 166.63 0 0 0 645.02 39.89L642.14 44.87A160.89 160.89 0 0 1 656.27 54.04Z" fill="#fec68a" stroke="#fec68a" stroke-width="0.9"/>
<path d="M659.65 49.39L663.02 44.74A172.38 172.38 0 0 0 647.89 34.91L645.02 39.89A166.63 166.63 0 0 1 659.65 49.39Z" fill="#fddea0" stroke="#fddea0" stroke-width="0.9"/>
<path d="M587.56 139.41L590.43 134.44A57.46 57.46 0 0 0 585.07 131.71L582.73 136.96A51.71 51.71 0 0 1 587.56 139.41Z" fill="#f4675c" stroke="#f4675c" stroke-width="0.9"/>
<path d="M590.43 134.44L593.3 129.46A63.21 63.21 0 0 0 587.41 126.46L585.07 131.71A57.46 57.46 0 0 1 590.43 134.44Z" fill="#fb835f" stroke="#fb835f" stroke-width="0.9"/>
<path d="M593.3 129.46L596.18 124.49A68.95 68.95 0 0 0 589.75 121.21L587.41 126.46A63.21 63.21 0 0 1 593.3 129.46Z" fill="#fd9668" stroke="#fd9668" stroke-width="0.9"/>
<path d="M596.18 124.49L599.05 119.51A74.7 74.7 0 0 0 592.08 115.96L589.75 121.21A68.95 68.95 0 0 1 596.18 124.49Z" fill="#f4675c" stroke="#f4675c" stroke-width="0.9"/>
<path d="M599.05 119.51L601.92 114.53A80.44 80.44 0 0 0 594.42 110.71L592.08 115.96A74.7 74.7 0 0 1 599.05 119.51Z" fill="#ea5661" stroke="#ea5661" stroke-width="0.9"/>
<path d="M601.92 114.53L604.8 109.56A86.19 86.19 0 0 0 596.76 105.46L594.42 110.71A80.44 80.44 0 0 1 601.92 114.53Z" fill="#d6456c" stroke="#d6456c" stroke-width="0.9"/>
<path d="M604.8 109.56L607.67 104.58A91.94 91.94 0 0 0 599.09 100.21L596.76 105.46A86.19 86.19 0 0 1 604.8 109.56Z" fill="#f9795d" stroke="#f9795d" stroke-width="0.9"/>
<path d="M607.67 104.58L610.54 99.6A97.68 97.68 0 0 0 601.43 94.96L599.09 100.21A91.94 91.94 0 0 1 607.67 104.58Z" fill="#f4675c" stroke="#f4675c" stroke-width="0.9"/>
<path d="M610.54 99.6L613.41 94.63A103.43 103.43 0 0 0 603.77 89.71L601.43 94.96A97.68 97.68 0 0 1 610.54 99.6Z" fill="#fc8c63" stroke="#fc8c63" stroke-width="0.9"/>
<path d="M613.41 94.63L616.29 89.65A109.17 109.17 0 0 0 606.11 84.46L603.77 89.71A103.43 103.43 0 0 1 613.41 94.63Z" fill="#feae77" stroke="#feae77" stroke-width="0.9"/>
<path d="M616.29 89.65L619.16 84.68A114.92 114.92 0 0 0 608.44 79.22L606.11 84.46A109.17 109.17 0 0 1 616.29 89.65Z" fill="#feae77" stroke="#feae77" stroke-width="0.9"/>
<path d="M619.16 84.68L622.03 79.7A120.67 120.67 0 0 0 610.78 73.97L608.44 79.22A114.92 114.92 0 0 1 619.16 84.68Z" fill="#fc8c63" stroke="#fc8c63" stroke-width="0.9"/>
<path d="M622.03 79.7L624.91 74.72A126.41 126.41 0 0 0 613.12 68.72L610.78 73.97A120.67 120.67 0 0 1 622.03 79.7Z" fill="#fec185" stroke="#fec185" stroke-width="0.9"/>
<path d="M624.91 74.72L627.78 69.75A132.16 132.16 0 0 0 615.45 63.47L613.12 68.72A126.41 126.41 0 0 1 624.91 74.72Z" fill="#feae77" stroke="#feae77" stroke-width="0.9"/>
<path d="M627.78 69.75L630.65 64.77A137.9 137.9 0 0 0 617.79 58.22L615.45 63.47A132.16 132.16 0 0 1 627.78 69.75Z" fill="#fd9668" stroke="#fd9668" stroke-width="0.9"/>
<path d="M630.65 64.77L633.53 59.8A143.65 143.65 0 0 0 620.13 52.97L617.79 58.22A137.9 137.9 0 0 1 630.65 64.77Z" fill="#fec185" stroke="#fec185" stroke-width="0.9"/>
<path d="M633.53 59.8L636.4 54.82A149.4 149.4 0 0 0 622.46 47.72L620.13 52.97A143.65 143.65 0 0 1 633.53 59.8Z" fill="#feb77e" stroke="#feb77e" stroke-width="0.9"/>
<path d="M636.4 54.82L639.27 49.84A155.14 155.14 0 0 0 624.8 42.47L622.46 47.72A149.4 149.4 0 0 1 636.4 54.82Z" fill="#feca8d" stroke="#feca8d" stroke-width="0.9"/>
<path d="M639.27 49.84L642.14 44.87A160.89 160.89 0 0 0 627.14 37.22L624.8 42.47A155.14 155.14 0 0 1 639.27 49.84Z" fill="#fec185" stroke="#fec185" stroke-width="0.9"/>
<path d="M642.14 44.87L645.02 39.89A166.63 166.63 0 0 0 629.48 31.97L627.14 37.22A160.89 160.89 0 0 1 642.14 44.87Z" fill="#fed395" stroke="#fed395" stroke-width="0.9"/>
<path d="M645.02 39.89L647.89 34.91A172.38 172.38 0 0 0 631.81 26.72L629.48 31.97A166.63 166.63 0 0 1 645.02 39.89Z" fill="#fddea0" stroke="#fddea0" stroke-width="0.9"/>
<path d="M582.73 136.96L585.07 131.71A57.46 57.46 0 0 0 579.46 129.55L577.68 135.02A51.71 51.71 0 0 1 582.73 136.96Z" fill="#fc8c63" stroke="#fc8c63" stroke-width="0.9"/>
<path d="M585.07 131.71L587.41 126.46A63.21 63.21 0 0 0 581.23 124.09L579.46 129.55A57.46 57.46 0 0 1 585.07 131.71Z" fill="#fb835f" stroke="#fb835f" stroke-width="0.9"/>
<path d="M587.41 126.46L589.75 121.21A68.95 68.95 0 0 0 583.01 118.62L581.23 124.09A63.21 63.21 0 0 1 587.41 126.46Z" fill="#f4675c" stroke="#f4675c" stroke-width="0.9"/>
<path d="M589.75 121.21L592.08 115.96A74.7 74.7 0 0 0 584.78 113.16L583.01 118.62A68.95 68.95 0 0 1 589.75 121.21Z" fill="#b73779" stroke="#b73779" stroke-width="0.9"/>
<path d="M592.08 115.96L594.42 110.71A80.44 80.44 0 0 0 586.56 107.69L584.78 113.16A74.7 74.7 0 0 1 592.08 115.96Z" fill="#bf3a77" stroke="#bf3a77" stroke-width="0.9"/>
<path d="M594.42 110.71L596.76 105.46A86.19 86.19 0 0 0 588.33 102.23L586.56 107.69A80.44 80.44 0 0 1 594.42 110.71Z" fill="#d2426f" stroke="#d2426f" stroke-width="0.9"/>
<path d="M596.76 105.46L599.09 100.21A91.94 91.94 0 0 0 590.11 96.76L588.33 102.23A86.19 86.19 0 0 1 596.76 105.46Z" fill="#ea5661" stroke="#ea5661" stroke-width="0.9"/>
<path d="M599.09 100.21L601.43 94.96A97.68 97.68 0 0 0 591.89 91.3L590.11 96.76A91.94 91.94 0 0 1 599.09 100.21Z" fill="#f9795d" stroke="#f9795d" stroke-width="0.9"/>
<path d="M601.43 94.96L603.77 89.71A103.43 103.43 0 0 0 593.66 85.83L591.89 91.3A97.68 97.68 0 0 1 601.43 94.96Z" fill="#fc8c63" stroke="#fc8c63" stroke-width="0.9"/>
<path d="M603.77 89.71L606.11 84.46A109.17 109.17 0 0 0 595.44 80.37L593.66 85.83A103.43 103.43 0 0 1 603.77 89.71Z" fill="#fc8c63" stroke="#fc8c63" stroke-width="0.9"/>
<path d="M606.11 84.46L608.44 79.22A114.92 114.92 0 0 0 597.21 74.9L595.44 80.37A109.17 109.17 0 0 1 606.11 84.46Z" fill="#fec185" stroke="#fec185" stroke-width="0.9"/>
<path d="M608.44 79.22L610.78 73.97A120.67 120.67 0 0 0 598.99 69.44L597.21 74.9A114.92 114.92 0 0 1 608.44 79.22Z" fill="#feae77" stroke="#feae77" stroke-width="0.9"/>
<path d="M610.78 73.97L613.12 68.72A126.41 126.41 0 0 0 600.76 63.98L598.99 69.44A120.67 120.67 0 0 1 610.78 73.97Z" fill="#fc8c63" stroke="#fc8c63" stroke-width="0.9"/>
<path d="M613.12 68.72L615.45 63.47A132.16 132.16 0 0 0 602.54 58.51L600.76 63.98A126.41 126.41 0 0 1 613.12 68.72Z" fill="#fd9668" stroke="#fd9668" stroke-width="0.9"/>
<path d="M615.45 63.47L617.79 58.22A137.9 137.9 0 0 0 604.31 53.05L602.54 58.51A132.16 132.16 0 0 1 615.45 63.47Z" fill="#feb77e" stroke="#feb77e" stroke-width="0.9"/>
<path d="M617.79 58.22L620.13 52.97A143.65 143.65 0 0 0 606.09 47.58L604.31 53.05A137.9 137.9 0 0 1 617.79 58.22Z" fill="#fec68a" stroke="#fec68a" stroke-width="0.9"/>
<path d="M620.13 52.97L622.46 47.72A149.4 149.4 0 0 0 607.87 42.12L606.09 47.58A143.65 143.65 0 0 1 620.13 52.97Z" fill="#fec185" stroke="#fec185" stroke-width="0.9"/>
<path d="M622.46 47.72L624.8 42.47A155.14 155.14 0 0 0 609.64 36.65L607.87 42.12A149.4 149.4 0 0 1 622.46 47.72Z" fill="#fddea0" stroke="#fddea0" stroke-width="0.9"/>
<path d="M624.8 42.47L627.14 37.22A160.89 160.89 0 0 0 611.42 31.19L609.64 36.65A155.14 155.14 0 0 1 624.8 42.47Z" fill="#fcf0b2" stroke="#fcf0b2" stroke-width="0.9"/>
<path d="M627.14 37.22L629.48 31.97A166.63 166.63 0 0 0 613.19 25.72L611.42 31.19A160.89 160.89 0 0 1 627.14 37.22Z" fill="#fde7a9" stroke="#fde7a9" stroke-width="0.9"/>
<path d="M629.48 31.97L631.81 26.72A172.38 172.38 0 0 0 614.97 20.26L613.19 25.72A166.63 166.63 0 0 1 629.48 31.97Z" fill="#fddea0" stroke="#fddea0" stroke-width="0.9"/>
<path d="M577.68 135.02L579.46 129.55A57.46 57.46 0 0 0 573.65 128L572.45 133.62A51.71 51.71 0 0 1 577.68 135.02Z" fill="#f9795d" stroke="#f9795d" stroke-width="0.9"/>
<path d="M579.46 129.55L581.23 124.09A63.21 63.21 0 0 0 574.84 122.38L573.65 128A57.46 57.46 0 0 1 579.46 129.55Z" fill="#fb835f" stroke="#fb835f" stroke-width="0.9"/>
<path d="M581.23 124.09L583.01 118.62A68.95 68.95 0 0 0 576.04 116.75L574.84 122.38A63.21 63.21 0 0 1 581.23 124.09Z" fill="#fd9668" stroke="#fd9668" stroke-width="0.9"/>
<path d="M583.01 118.62L584.78 113.16A74.7 74.7 0 0 0 577.23 111.13L576.04 116.75A68.95 68.95 0 0 1 583.01 118.62Z" fill="#e44f64" stroke="#e44f64" stroke-width="0.9"/>
<path d="M584.78 113.16L586.56 107.69A80.44 80.44 0 0 0 578.43 105.51L577.23 111.13A74.7 74.7 0 0 1 584.78 113.16Z" fill="#bf3a77" stroke="#bf3a77" stroke-width="0.9"/>
<path d="M586.56 107.69L588.33 102.23A86.19 86.19 0 0 0 579.62 99.89L578.43 105.51A80.44 80.44 0 0 1 586.56 107.69Z" fill="#bf3a77" stroke="#bf3a77" stroke-width="0.9"/>
<path d="M588.33 102.23L590.11 96.76A91.94 91.94 0 0 0 580.81 94.27L579.62 99.89A86.19 86.19 0 0 1 588.33 102.23Z" fill="#b73779" stroke="#b73779" stroke-width="0.9"/>
<path d="M590.11 96.76L591.89 91.3A97.68 97.68 0 0 0 582.01 88.65L580.81 94.27A91.94 91.94 0 0 1 590.11 96.76Z" fill="#ef5d5e" stroke="#ef5d5e" stroke-width="0.9"/>
<path d="M591.89 91.3L593.66 85.83A103.43 103.43 0 0 0 583.2 83.03L582.01 88.65A97.68 97.68 0 0 1 591.89 91.3Z" fill="#fb835f" stroke="#fb835f" stroke-width="0.9"/>
<path d="M593.66 85.83L595.44 80.37A109.17 109.17 0 0 0 584.4 77.41L583.2 83.03A103.43 103.43 0 0 1 593.66 85.83Z" fill="#f9795d" stroke="#f9795d" stroke-width="0.9"/>
<path d="M595.44 80.37L597.21 74.9A114.92 114.92 0 0 0 585.59 71.79L584.4 77.41A109.17 109.17 0 0 1 595.44 80.37Z" fill="#feae77" stroke="#feae77" stroke-width="0.9"/>
<path d="M597.21 74.9L598.99 69.44A120.67 120.67 0 0 0 586.79 66.17L585.59 71.79A114.92 114.92 0 0 1 597.21 74.9Z" fill="#fc8c63" stroke="#fc8c63" stroke-width="0.9"/>
<path d="M598.99 69.44L600.76 63.98A126.41 126.41 0 0 0 587.98 60.55L586.79 66.17A120.67 120.67 0 0 1 598.99 69.44Z" fill="#feae77" stroke="#feae77" stroke-width="0.9"/>
<path d="M600.76 63.98L602.54 58.51A132.16 132.16 0 0 0 589.18 54.93L587.98 60.55A126.41 126.41 0 0 1 600.76 63.98Z" fill="#fd9668" stroke="#fd9668" stroke-width="0.9"/>
<path d="M602.54 58.51L604.31 53.05A137.9 137.9 0 0 0 590.37 49.31L589.18 54.93A132.16 132.16 0 0 1 602.54 58.51Z" fill="#fec185" stroke="#fec185" stroke-width="0.9"/>
<path d="M604.31 53.05L606.09 47.58A143.65 143.65 0 0 0 591.57 43.69L590.37 49.31A137.9 137.9 0 0 1 604.31 53.05Z" fill="#feb77e" stroke="#feb77e" stroke-width="0.9"/>
<path d="M606.09 47.58L607.87 42.12A149.4 149.4 0 0 0 592.76 38.07L591.57 43.69A143.65 143.65 0 0 1 606.09 47.58Z" fill="#fec185" stroke="#fec185" stroke-width="0.9"/>
<path d="M607.87 42.12L609.64 36.65A155.14 155.14 0 0 0 593.96 32.45L592.76 38.07A149.4 149.4 0 0 1 607.87 42.12Z" fill="#fddea0" stroke="#fddea0" stroke-width="0.9"/>
<path d="M609.64 36.65L611.42 31.19A160.89 160.89 0 0 0 595.15 26.83L593.96 32.45A155.14 155.14 0 0 1 609.64 36.65Z" fill="#fcf0b2" stroke="#fcf0b2" stroke-width="0.9"/>
<path d="M611.42 31.19L613.19 25.72A166.63 166.63 0 0 0 596.35 21.21L595.15 26.83A160.89 160.89 0 0 1 611.42 31.19Z" fill="#fde7a9" stroke="#fde7a9" stroke-width="0.9"/>
<path d="M613.19 25.72L614.97 20.26A172.38 172.38 0 0 0 597.54 15.59L596.35 21.21A166.63 166.63 0 0 1 613.19 25.72Z" fill="#fddea0" stroke="#fddea0" stroke-width="0.9"/>
<path d="M572.45 133.62L573.65 128A57.46 57.46 0 0 0 567.71 127.05L567.11 132.77A51.71 51.71 0 0 1 572.45 133.62Z" fill="#f9795d" stroke="#f9795d" stroke-width="0.9"/>
<path d="M573.65 128L574.84 122.38A63.21 63.21 0 0 0 568.31 121.34L567.71 127.05A57.46 57.46 0 0 1 573.65 128Z" fill="#fec185" stroke="#fec185" stroke-width="0.9"/>
<path d="M574.84 122.38L576.04 116.75A68.95 68.95 0 0 0 568.91 115.63L568.31 121.34A63.21 63.21 0 0 1 574.84 122.38Z" fill="#feae77" stroke="#feae77" stroke-width="0.9"/>
<path d="M576.04 116.75L577.23 111.13A74.7 74.7 0 0 0 569.51 109.91L568.91 115.63A68.95 68.95 0 0 1 576.04 116.75Z" fill="#f4675c" stroke="#f4675c" stroke-width="0.9"/>
<path d="M577.23 111.13L578.43 105.51A80.44 80.44 0 0 0 570.11 104.2L569.51 109.91A74.7 74.7 0 0 1 577.23 111.13Z" fill="#d2426f" stroke="#d2426f" stroke-width="0.9"/>
<path d="M578.43 105.51L579.62 99.89A86.19 86.19 0 0 0 570.71 98.48L570.11 104.2A80.44 80.44 0 0 1 578.43 105.51Z" fill="#c73d73" stroke="#c73d73" stroke-width="0.9"/>
<path d="M579.62 99.89L580.81 94.27A91.94 91.94 0 0 0 571.31 92.77L570.71 98.48A86.19 86.19 0 0 1 579.62 99.89Z" fill="#ea5661" stroke="#ea5661" stroke-width="0.9"/>
<path d="M580.81 94.27L582.01 88.65A97.68 97.68 0 0 0 571.91 87.05L571.31 92.77A91.94 91.94 0 0 1 580.81 94.27Z" fill="#ef5d5e" stroke="#ef5d5e" stroke-width="0.9"/>
<path d="M582.01 88.65L583.2 83.03A103.43 103.43 0 0 0 572.51 81.34L571.91 87.05A97.68 97.68 0 0 1 582.01 88.65Z" fill="#ea5661" stroke="#ea5661" stroke-width="0.9"/>
<path d="M583.2 83.03L584.4 77.41A109.17 109.17 0 0 0 573.11 75.62L572.51 81.34A103.43 103.43 0 0 1 583.2 83.03Z" fill="#f4675c" stroke="#f4675c" stroke-width="0.9"/>
<path d="M584.4 77.41L585.59 71.79A114.92 114.92 0 0 0 573.71 69.91L573.11 75.62A109.17 109.17 0 0 1 584.4 77.41Z" fill="#f9795d" stroke="#f9795d" stroke-width="0.9"/>
<path d="M585.59 71.79L586.79 66.17A120.67 120.67 0 0 0 574.31 64.2L573.71 69.91A114.92 114.92 0 0 1 585.59 71.79Z" fill="#fc8c63" stroke="#fc8c63" stroke-width="0.9"/>
<path d="M586.79 66.17L587.98 60.55A126.41 126.41 0 0 0 574.91 58.48L574.31 64.2A120.67 120.67 0 0 1 586.79 66.17Z" fill="#feb77e" stroke="#feb77e" stroke-width="0.9"/>
<path d="M587.98 60.55L589.18 54.93A132.16 132.16 0 0 0 575.51 52.77L574.91 58.48A126.41 126.41 0 0 1 587.98 60.55Z" fill="#fec185" stroke="#fec185" stroke-width="0.9"/>
<path d="M589.18 54.93L590.37 49.31A137.9 137.9 0 0 0 576.11 47.05L575.51 52.77A132.16 132.16 0 0 1 589.18 54.93Z" fill="#fed395" stroke="#fed395" stroke-width="0.9"/>
<path d="M590.37 49.31L591.57 43.69A143.65 143.65 0 0 0 576.72 41.34L576.11 47.05A137.9 137.9 0 0 1 590.37 49.31Z" fill="#feca8d" stroke="#feca8d" stroke-width="0.9"/>
<path d="M591.57 43.69L592.76 38.07A149.4 149.4 0 0 0 577.32 35.62L576.72 41.34A143.65 143.65 0 0 1 591.57 43.69Z" fill="#fec68a" stroke="#fec68a" stroke-width="0.9"/>
<path d="M592.76 38.07L593.96 32.45A155.14 155.14 0 0 0 577.92 29.91L577.32 35.62A149.4 149.4 0 0 1 592.76 38.07Z" fill="#fecf92" stroke="#fecf92" stroke-width="0.9"/>
<path d="M593.96 32.45L595.15 26.83A160.89 160.89 0 0 0 578.52 24.19L577.92 29.91A155.14 155.14 0 0 1 593.96 32.45Z" fill="#fddea0" stroke="#fddea0" stroke-width="0.9"/>
<path d="M595.15 26.83L596.35 21.21A166.63 166.63 0 0 0 579.12 18.48L578.52 24.19A160.89 160.89 0 0 1 595.15 26.83Z" fill="#fed395" stroke="#fed395" stroke-width="0.9"/>
<path d="M596.35 21.21L597.54 15.59A172.38 172.38 0 0 0 579.72 12.76L579.12 18.48A166.63 166.63 0 0 1 596.35 21.21Z" fill="#fddea0" stroke="#fddea0" stroke-width="0.9"/>
<path d="M567.11 132.77L567.71 127.05A57.46 57.46 0 0 0 561.7 126.74L561.7 132.49A51.71 51.71 0 0 1 567.11 132.77Z" fill="#ef5d5e" stroke="#ef5d5e" stroke-width="0.9"/>
<path d="M567.71 127.05L568.31 121.34A63.21 63.21 0 0 0 561.7 120.99L561.7 126.74A57.46 57.46 0 0 1 567.71 127.05Z" fill="#fec185" stroke="#fec185" stroke-width="0.9"/>
<path d="M568.31 121.34L568.91 115.63A68.95 68.95 0 0 0 561.7 115.25L561.7 120.99A63.21 63.21 0 0 1 568.31 121.34Z" fill="#fec185" stroke="#fec185" stroke-width="0.9"/>
<path d="M568.91 115.63L569.51 109.91A74.7 74.7 0 0 0 561.7 109.5L561.7 115.25A68.95 68.95 0 0 1 568.91 115.63Z" fill="#f7705c" stroke="#f7705c" stroke-width="0.9"/>
<path d="M569.51 109.91L570.11 104.2A80.44 80.44 0 0 0 561.7 103.76L561.7 109.5A74.7 74.7 0 0 1 569.51 109.91Z" fill="#ef5d5e" stroke="#ef5d5e" stroke-width="0.9"/>
<path d="M570.11 104.2L570.71 98.48A86.19 86.19 0 0 0 561.7 98.01L561.7 103.76A80.44 80.44 0 0 1 570.11 104.2Z" fill="#ea5661" stroke="#ea5661" stroke-width="0.9"/>
<path d="M570.71 98.48L571.31 92.77A91.94 91.94 0 0 0 561.7 92.26L561.7 98.01A86.19 86.19 0 0 1 570.71 98.48Z" fill="#f4675c" stroke="#f4675c" stroke-width="0.9"/>
<path d="M571.31 92.77L571.91 87.05A97.68 97.68 0 0 0 561.7 86.52L561.7 92.26A91.94 91.94 0 0 1 571.31 92.77Z" fill="#e44f64" stroke="#e44f64" stroke-width="0.9"/>
<path d="M571.91 87.05L572.51 81.34A103.43 103.43 0 0 0 561.7 80.77L561.7 86.52A97.68 97.68 0 0 1 571.91 87.05Z" fill="#ea5661" stroke="#ea5661" stroke-width="0.9"/>
<path d="M572.51 81.34L573.11 75.62A109.17 109.17 0 0 0 561.7 75.03L561.7 80.77A103.43 103.43 0 0 1 572.51 81.34Z" fill="#f2625d" stroke="#f2625d" stroke-width="0.9"/>
<path d="M573.11 75.62L573.71 69.91A114.92 114.92 0 0 0 561.7 69.28L561.7 75.03A109.17 109.17 0 0 1 573.11 75.62Z" fill="#f9795d" stroke="#f9795d" stroke-width="0.9"/>
<path d="M573.71 69.91L574.31 64.2A120.67 120.67 0 0 0 561.7 63.53L561.7 69.28A114.92 114.92 0 0 1 573.71 69.91Z" fill="#feae77" stroke="#feae77" stroke-width="0.9"/>
<path d="M574.31 64.2L574.91 58.48A126.41 126.41 0 0 0 561.7 57.79L561.7 63.53A120.67 120.67 0 0 1 574.31 64.2Z" fill="#fec185" stroke="#fec185" stroke-width="0.9"/>
<path d="M574.91 58.48L575.51 52.77A132.16 132.16 0 0 0 561.7 52.04L561.7 57.79A126.41 126.41 0 0 1 574.91 58.48Z" fill="#feae77" stroke="#feae77" stroke-width="0.9"/>
<path d="M575.51 52.77L576.11 47.05A137.9 137.9 0 0 0 561.7 46.3L561.7 52.04A132.16 132.16 0 0 1 575.51 52.77Z" fill="#fed395" stroke="#fed395" stroke-width="0.9"/>
<path d="M576.11 47.05L576.72 41.34A143.65 143.65 0 0 0 561.7 40.55L561.7 46.3A137.9 137.9 0 0 1 576.11 47.05Z" fill="#fecf92" stroke="#fecf92" stroke-width="0.9"/>
<path d="M576.72 41.34L577.32 35.62A149.4 149.4 0 0 0 561.7 34.8L561.7 40.55A143.65 143.65 0 0 1 576.72 41.34Z" fill="#feb77e" stroke="#feb77e" stroke-width="0.9"/>
<path d="M577.32 35.62L577.92 29.91A155.14 155.14 0 0 0 561.7 29.06L561.7 34.8A149.4 149.4 0 0 1 577.32 35.62Z" fill="#fecf92" stroke="#fecf92" stroke-width="0.9"/>
<path d="M577.92 29.91L578.52 24.19A160.89 160.89 0 0 0 561.7 23.31L561.7 29.06A155.14 155.14 0 0 1 577.92 29.91Z" fill="#fed395" stroke="#fed395" stroke-width="0.9"/>
<path d="M578.52 24.19L579.12 18.48A166.63 166.63 0 0 0 561.7 17.57L561.7 23.31A160.89 160.89 0 0 1 578.52 24.19Z" fill="#fddea0" stroke="#fddea0" stroke-width="0.9"/>
<path d="M579.12 18.48L579.72 12.76A172.38 172.38 0 0 0 561.7 11.82L561.7 17.57A166.63 166.63 0 0 1 579.12 18.48Z" fill="#fdebac" stroke="#fdebac" stroke-width="0.9"/>
</g>
<path d="M561.7 11.82V184.2M561.2 184.2H734.08" stroke="#7a7a7a" stroke-width="1" fill="none"/>
<path d="M734.08 184.2A172.38 172.38 0 0 0 561.7 11.82" stroke="#222" stroke-width="0.8" fill="none"/>
<line x1="731.46" y1="154.27" x2="726.93" y2="155.07" stroke="#111" stroke-width="1.3"/>
<line x1="723.68" y1="125.24" x2="719.36" y2="126.82" stroke="#111" stroke-width="1.3"/>
<line x1="710.99" y1="98.01" x2="707" y2="100.31" stroke="#111" stroke-width="1.3"/>
<line x1="693.75" y1="73.4" x2="690.23" y2="76.35" stroke="#111" stroke-width="1.3"/>
<line x1="672.5" y1="52.15" x2="669.55" y2="55.67" stroke="#111" stroke-width="1.3"/>
<line x1="647.89" y1="34.91" x2="645.59" y2="38.9" stroke="#111" stroke-width="1.3"/>
<line x1="620.66" y1="22.22" x2="619.08" y2="26.54" stroke="#111" stroke-width="1.3"/>
<line x1="591.63" y1="14.44" x2="590.83" y2="18.97" stroke="#111" stroke-width="1.3"/>
<text x="744.2" y="187.2" font-size="8.4" text-anchor="middle" textLength="8.4" lengthAdjust="spacingAndGlyphs" fill="#222">0°</text>
<text x="733.19" y="124.78" font-size="8.4" text-anchor="middle" textLength="13.6" lengthAdjust="spacingAndGlyphs" fill="#222">20°</text>
<text x="701.5" y="69.89" font-size="8.4" text-anchor="middle" textLength="13.6" lengthAdjust="spacingAndGlyphs" fill="#222">40°</text>
<text x="652.95" y="29.15" font-size="8.4" text-anchor="middle" textLength="13.6" lengthAdjust="spacingAndGlyphs" fill="#222">60°</text>
<text x="593.39" y="7.47" font-size="8.4" text-anchor="middle" textLength="13.6" lengthAdjust="spacingAndGlyphs" fill="#222">80°</text>
<line x1="590.43" y1="182.2" x2="590.43" y2="186.2" stroke="#111" stroke-width="1"/>
<text x="590.43" y="193.8" font-size="8.2" text-anchor="middle" textLength="5.1" lengthAdjust="spacingAndGlyphs" fill="#222">1</text>
<line x1="559.7" y1="155.47" x2="563.7" y2="155.47" stroke="#111" stroke-width="1"/>
<text x="557.2" y="158.37" font-size="8.2" text-anchor="end" textLength="5.1" lengthAdjust="spacingAndGlyphs" fill="#222">1</text>
<line x1="619.16" y1="182.2" x2="619.16" y2="186.2" stroke="#111" stroke-width="1"/>
<text x="619.16" y="193.8" font-size="8.2" text-anchor="middle" textLength="5.1" lengthAdjust="spacingAndGlyphs" fill="#222">2</text>
<line x1="559.7" y1="126.74" x2="563.7" y2="126.74" stroke="#111" stroke-width="1"/>
<text x="557.2" y="129.64" font-size="8.2" text-anchor="end" textLength="5.1" lengthAdjust="spacingAndGlyphs" fill="#222">2</text>
<line x1="647.89" y1="182.2" x2="647.89" y2="186.2" stroke="#111" stroke-width="1"/>
<text x="647.89" y="193.8" font-size="8.2" text-anchor="middle" textLength="5.1" lengthAdjust="spacingAndGlyphs" fill="#222">3</text>
<line x1="559.7" y1="98.01" x2="563.7" y2="98.01" stroke="#111" stroke-width="1"/>
<text x="557.2" y="100.91" font-size="8.2" text-anchor="end" textLength="5.1" lengthAdjust="spacingAndGlyphs" fill="#222">3</text>
<line x1="676.62" y1="182.2" x2="676.62" y2="186.2" stroke="#111" stroke-width="1"/>
<text x="676.62" y="193.8" font-size="8.2" text-anchor="middle" textLength="5.1" lengthAdjust="spacingAndGlyphs" fill="#222">4</text>
<line x1="559.7" y1="69.28" x2="563.7" y2="69.28" stroke="#111" stroke-width="1"/>
<text x="557.2" y="72.18" font-size="8.2" text-anchor="end" textLength="5.1" lengthAdjust="spacingAndGlyphs" fill="#222">4</text>
<line x1="705.35" y1="182.2" x2="705.35" y2="186.2" stroke="#111" stroke-width="1"/>
<text x="705.35" y="193.8" font-size="8.2" text-anchor="middle" textLength="5.1" lengthAdjust="spacingAndGlyphs" fill="#222">5</text>
<line x1="559.7" y1="40.55" x2="563.7" y2="40.55" stroke="#111" stroke-width="1"/>
<text x="557.2" y="43.45" font-size="8.2" text-anchor="end" textLength="5.1" lengthAdjust="spacingAndGlyphs" fill="#222">5</text>
<text x="647.89" y="202.2" font-size="11" text-anchor="middle" textLength="28.5" lengthAdjust="spacingAndGlyphs" fill="#222"><tspan font-style="italic">ℓ</tspan>(<tspan font-style="italic">µ</tspan>m)</text>
<text transform="translate(550.1 98.81) rotate(-90)" font-size="11" text-anchor="middle" textLength="28" lengthAdjust="spacingAndGlyphs" fill="#222"><tspan font-style="italic">ℓ</tspan>(<tspan font-style="italic">µ</tspan>m)</text>
<g>
<path d="M93.06 400.2L98.81 400.2A63.21 63.21 0 0 0 98.46 393.59L92.75 394.19A57.46 57.46 0 0 1 93.06 400.2Z" fill="#fcf9bb" stroke="#fcf9bb" stroke-width="0.9"/>
<path d="M104.55 400.2L110.3 400.2A74.7 74.7 0 0 0 109.89 392.39L104.17 392.99A68.95 68.95 0 0 1 104.55 400.2Z" fill="#fcf9bb" stroke="#fcf9bb" stroke-width="0.9"/>
<path d="M116.04 400.2L121.79 400.2A86.19 86.19 0 0 0 121.32 391.19L115.6 391.79A80.44 80.44 0 0 1 116.04 400.2Z" fill="#feca8d" stroke="#feca8d" stroke-width="0.9"/>
<path d="M121.79 400.2L127.54 400.2A91.94 91.94 0 0 0 127.03 390.59L121.32 391.19A86.19 86.19 0 0 1 121.79 400.2Z" fill="#ea5661" stroke="#ea5661" stroke-width="0.9"/>
<path d="M127.54 400.2L133.28 400.2A97.68 97.68 0 0 0 132.75 389.99L127.03 390.59A91.94 91.94 0 0 1 127.54 400.2Z" fill="#02020b" stroke="#02020b" stroke-width="0.9"/>
<path d="M133.28 400.2L139.03 400.2A103.43 103.43 0 0 0 138.46 389.39L132.75 389.99A97.68 97.68 0 0 1 133.28 400.2Z" fill="#bf3a77" stroke="#bf3a77" stroke-width="0.9"/>
<path d="M139.03 400.2L144.77 400.2A109.17 109.17 0 0 0 144.18 388.79L138.46 389.39A103.43 103.43 0 0 1 139.03 400.2Z" fill="#fc8c63" stroke="#fc8c63" stroke-width="0.9"/>
<path d="M144.77 400.2L150.52 400.2A114.92 114.92 0 0 0 149.89 388.19L144.18 388.79A109.17 109.17 0 0 1 144.77 400.2Z" fill="#feca8d" stroke="#feca8d" stroke-width="0.9"/>
<path d="M150.52 400.2L156.27 400.2A120.67 120.67 0 0 0 155.6 387.59L149.89 388.19A114.92 114.92 0 0 1 150.52 400.2Z" fill="#fddea0" stroke="#fddea0" stroke-width="0.9"/>
<path d="M156.27 400.2L162.01 400.2A126.41 126.41 0 0 0 161.32 386.99L155.6 387.59A120.67 120.67 0 0 1 156.27 400.2Z" fill="#fddea0" stroke="#fddea0" stroke-width="0.9"/>
<path d="M162.01 400.2L167.76 400.2A132.16 132.16 0 0 0 167.03 386.39L161.32 386.99A126.41 126.41 0 0 1 162.01 400.2Z" fill="#fed395" stroke="#fed395" stroke-width="0.9"/>
<path d="M167.76 400.2L173.5 400.2A137.9 137.9 0 0 0 172.75 385.79L167.03 386.39A132.16 132.16 0 0 1 167.76 400.2Z" fill="#fddea0" stroke="#fddea0" stroke-width="0.9"/>
<path d="M173.5 400.2L179.25 400.2A143.65 143.65 0 0 0 178.46 385.18L172.75 385.79A137.9 137.9 0 0 1 173.5 400.2Z" fill="#fddea0" stroke="#fddea0" stroke-width="0.9"/>
<path d="M179.25 400.2L185 400.2A149.4 149.4 0 0 0 184.18 384.58L178.46 385.18A143.65 143.65 0 0 1 179.25 400.2Z" fill="#fcf4b6" stroke="#fcf4b6" stroke-width="0.9"/>
<path d="M185 400.2L190.74 400.2A155.14 155.14 0 0 0 189.89 383.98L184.18 384.58A149.4 149.4 0 0 1 185 400.2Z" fill="#fcf4b6" stroke="#fcf4b6" stroke-width="0.9"/>
<path d="M190.74 400.2L196.49 400.2A160.89 160.89 0 0 0 195.61 383.38L189.89 383.98A155.14 155.14 0 0 1 190.74 400.2Z" fill="#fcf0b2" stroke="#fcf0b2" stroke-width="0.9"/>
<path d="M196.49 400.2L202.23 400.2A166.63 166.63 0 0 0 201.32 382.78L195.61 383.38A160.89 160.89 0 0 1 196.49 400.2Z" fill="#fde7a9" stroke="#fde7a9" stroke-width="0.9"/>
<path d="M202.23 400.2L207.98 400.2A172.38 172.38 0 0 0 207.04 382.18L201.32 382.78A166.63 166.63 0 0 1 202.23 400.2Z" fill="#fde7a9" stroke="#fde7a9" stroke-width="0.9"/>
<path d="M104.17 392.99L109.89 392.39A74.7 74.7 0 0 0 108.67 384.67L103.05 385.86A68.95 68.95 0 0 1 104.17 392.99Z" fill="#fcf9bb" stroke="#fcf9bb" stroke-width="0.9"/>
<path d="M109.89 392.39L115.6 391.79A80.44 80.44 0 0 0 114.29 383.47L108.67 384.67A74.7 74.7 0 0 1 109.89 392.39Z" fill="#fcf4b6" stroke="#fcf4b6" stroke-width="0.9"/>
<path d="M115.6 391.79L121.32 391.19A86.19 86.19 0 0 0 119.91 382.28L114.29 383.47A80.44 80.44 0 0 1 115.6 391.79Z" fill="#fddea0" stroke="#fddea0" stroke-width="0.9"/>
<path d="M121.32 391.19L127.03 390.59A91.94 91.94 0 0 0 125.53 381.09L119.91 382.28A86.19 86.19 0 0 1 121.32 391.19Z" fill="#f4675c" stroke="#f4675c" stroke-width="0.9"/>
<path d="M127.03 390.59L132.75 389.99A97.68 97.68 0 0 0 131.15 379.89L125.53 381.09A91.94 91.94 0 0 1 127.03 390.59Z" fill="#f4675c" stroke="#f4675c" stroke-width="0.9"/>
<path d="M132.75 389.99L138.46 389.39A103.43 103.43 0 0 0 136.77 378.7L131.15 379.89A97.68 97.68 0 0 1 132.75 389.99Z" fill="#fb835f" stroke="#fb835f" stroke-width="0.9"/>
<path d="M138.46 389.39L144.18 388.79A109.17 109.17 0 0 0 142.39 377.5L136.77 378.7A103.43 103.43 0 0 1 138.46 389.39Z" fill="#feae77" stroke="#feae77" stroke-width="0.9"/>
<path d="M144.18 388.79L149.89 388.19A114.92 114.92 0 0 0 148.01 376.31L142.39 377.5A109.17 109.17 0 0 1 144.18 388.79Z" fill="#feca8d" stroke="#feca8d" stroke-width="0.9"/>
<path d="M149.89 388.19L155.6 387.59A120.67 120.67 0 0 0 153.63 375.11L148.01 376.31A114.92 114.92 0 0 1 149.89 388.19Z" fill="#fed395" stroke="#fed395" stroke-width="0.9"/>
<path d="M155.6 387.59L161.32 386.99A126.41 126.41 0 0 0 159.25 373.92L153.63 375.11A120.67 120.67 0 0 1 155.6 387.59Z" fill="#fddea0" stroke="#fddea0" stroke-width="0.9"/>
<path d="M161.32 386.99L167.03 386.39A132.16 132.16 0 0 0 164.87 372.72L159.25 373.92A126.41 126.41 0 0 1 161.32 386.99Z" fill="#fed395" stroke="#fed395" stroke-width="0.9"/>
<path d="M167.03 386.39L172.75 385.79A137.9 137.9 0 0 0 170.49 371.53L164.87 372.72A132.16 132.16 0 0 1 167.03 386.39Z" fill="#fddea0" stroke="#fddea0" stroke-width="0.9"/>
<path d="M172.75 385.79L178.46 385.18A143.65 143.65 0 0 0 176.11 370.33L170.49 371.53A137.9 137.9 0 0 1 172.75 385.79Z" fill="#fddea0" stroke="#fddea0" stroke-width="0.9"/>
<path d="M178.46 385.18L184.18 384.58A149.4 149.4 0 0 0 181.73 369.14L176.11 370.33A143.65 143.65 0 0 1 178.46 385.18Z" fill="#fde7a9" stroke="#fde7a9" stroke-width="0.9"/>
<path d="M184.18 384.58L189.89 383.98A155.14 155.14 0 0 0 187.35 367.94L181.73 369.14A149.4 149.4 0 0 1 184.18 384.58Z" fill="#fddea0" stroke="#fddea0" stroke-width="0.9"/>
<path d="M189.89 383.98L195.61 383.38A160.89 160.89 0 0 0 192.97 366.75L187.35 367.94A155.14 155.14 0 0 1 189.89 383.98Z" fill="#fde7a9" stroke="#fde7a9" stroke-width="0.9"/>
<path d="M195.61 383.38L201.32 382.78A166.63 166.63 0 0 0 198.59 365.55L192.97 366.75A160.89 160.89 0 0 1 195.61 383.38Z" fill="#fde7a9" stroke="#fde7a9" stroke-width="0.9"/>
<path d="M201.32 382.78L207.04 382.18A172.38 172.38 0 0 0 204.21 364.36L198.59 365.55A166.63 166.63 0 0 1 201.32 382.78Z" fill="#fcf0b2" stroke="#fcf0b2" stroke-width="0.9"/>
<path d="M91.8 388.25L97.42 387.06A63.21 63.21 0 0 0 95.71 380.67L90.25 382.44A57.46 57.46 0 0 1 91.8 388.25Z" fill="#fcf9bb" stroke="#fcf9bb" stroke-width="0.9"/>
<path d="M97.42 387.06L103.05 385.86A68.95 68.95 0 0 0 101.18 378.89L95.71 380.67A63.21 63.21 0 0 1 97.42 387.06Z" fill="#fcf9bb" stroke="#fcf9bb" stroke-width="0.9"/>
<path d="M103.05 385.86L108.67 384.67A74.7 74.7 0 0 0 106.64 377.12L101.18 378.89A68.95 68.95 0 0 1 103.05 385.86Z" fill="#fcf4b6" stroke="#fcf4b6" stroke-width="0.9"/>
<path d="M108.67 384.67L114.29 383.47A80.44 80.44 0 0 0 112.11 375.34L106.64 377.12A74.7 74.7 0 0 1 108.67 384.67Z" fill="#fde7a9" stroke="#fde7a9" stroke-width="0.9"/>
<path d="M114.29 383.47L119.91 382.28A86.19 86.19 0 0 0 117.57 373.57L112.11 375.34A80.44 80.44 0 0 1 114.29 383.47Z" fill="#fec68a" stroke="#fec68a" stroke-width="0.9"/>
<path d="M119.91 382.28L125.53 381.09A91.94 91.94 0 0 0 123.04 371.79L117.57 373.57A86.19 86.19 0 0 1 119.91 382.28Z" fill="#f2625d" stroke="#f2625d" stroke-width="0.9"/>
<path d="M125.53 381.09L131.15 379.89A97.68 97.68 0 0 0 128.5 370.01L123.04 371.79A91.94 91.94 0 0 1 125.53 381.09Z" fill="#f2625d" stroke="#f2625d" stroke-width="0.9"/>
<path d="M131.15 379.89L136.77 378.7A103.43 103.43 0 0 0 133.97 368.24L128.5 370.01A97.68 97.68 0 0 1 131.15 379.89Z" fill="#f4675c" stroke="#f4675c" stroke-width="0.9"/>
<path d="M136.77 378.7L142.39 377.5A109.17 109.17 0 0 0 139.43 366.46L133.97 368.24A103.43 103.43 0 0 1 136.77 378.7Z" fill="#fc8c63" stroke="#fc8c63" stroke-width="0.9"/>
<path d="M142.39 377.5L148.01 376.31A114.92 114.92 0 0 0 144.9 364.69L139.43 366.46A109.17 109.17 0 0 1 142.39 377.5Z" fill="#feb77e" stroke="#feb77e" stroke-width="0.9"/>
<path d="M148.01 376.31L153.63 375.11A120.67 120.67 0 0 0 150.36 362.91L144.9 364.69A114.92 114.92 0 0 1 148.01 376.31Z" fill="#fec68a" stroke="#fec68a" stroke-width="0.9"/>
<path d="M153.63 375.11L159.25 373.92A126.41 126.41 0 0 0 155.82 361.14L150.36 362.91A120.67 120.67 0 0 1 153.63 375.11Z" fill="#fddea0" stroke="#fddea0" stroke-width="0.9"/>
<path d="M159.25 373.92L164.87 372.72A132.16 132.16 0 0 0 161.29 359.36L155.82 361.14A126.41 126.41 0 0 1 159.25 373.92Z" fill="#fed395" stroke="#fed395" stroke-width="0.9"/>
<path d="M164.87 372.72L170.49 371.53A137.9 137.9 0 0 0 166.75 357.59L161.29 359.36A132.16 132.16 0 0 1 164.87 372.72Z" fill="#fddea0" stroke="#fddea0" stroke-width="0.9"/>
<path d="M170.49 371.53L176.11 370.33A143.65 143.65 0 0 0 172.22 355.81L166.75 357.59A137.9 137.9 0 0 1 170.49 371.53Z" fill="#fddea0" stroke="#fddea0" stroke-width="0.9"/>
<path d="M176.11 370.33L181.73 369.14A149.4 149.4 0 0 0 177.68 354.03L172.22 355.81A143.65 143.65 0 0 1 176.11 370.33Z" fill="#fdebac" stroke="#fdebac" stroke-width="0.9"/>
<path d="M181.73 369.14L187.35 367.94A155.14 155.14 0 0 0 183.15 352.26L177.68 354.03A149.4 149.4 0 0 1 181.73 369.14Z" fill="#fddea0" stroke="#fddea0" stroke-width="0.9"/>
<path d="M187.35 367.94L192.97 366.75A160.89 160.89 0 0 0 188.61 350.48L183.15 352.26A155.14 155.14 0 0 1 187.35 367.94Z" fill="#fddea0" stroke="#fddea0" stroke-width="0.9"/>
<path d="M192.97 366.75L198.59 365.55A166.63 166.63 0 0 0 194.08 348.71L188.61 350.48A160.89 160.89 0 0 1 192.97 366.75Z" fill="#fddea0" stroke="#fddea0" stroke-width="0.9"/>
<path d="M198.59 365.55L204.21 364.36A172.38 172.38 0 0 0 199.54 346.93L194.08 348.71A166.63 166.63 0 0 1 198.59 365.55Z" fill="#fcf0b2" stroke="#fcf0b2" stroke-width="0.9"/>
<path d="M90.25 382.44L95.71 380.67A63.21 63.21 0 0 0 93.34 374.49L88.09 376.83A57.46 57.46 0 0 1 90.25 382.44Z" fill="#fcf9bb" stroke="#fcf9bb" stroke-width="0.9"/>
<path d="M95.71 380.67L101.18 378.89A68.95 68.95 0 0 0 98.59 372.15L93.34 374.49A63.21 63.21 0 0 1 95.71 380.67Z" fill="#fcf9bb" stroke="#fcf9bb" stroke-width="0.9"/>
<path d="M101.18 378.89L106.64 377.12A74.7 74.7 0 0 0 103.84 369.82L98.59 372.15A68.95 68.95 0 0 1 101.18 378.89Z" fill="#fde7a9" stroke="#fde7a9" stroke-width="0.9"/>
<path d="M106.64 377.12L112.11 375.34A80.44 80.44 0 0 0 109.09 367.48L103.84 369.82A74.7 74.7 0 0 1 106.64 377.12Z" fill="#fed395" stroke="#fed395" stroke-width="0.9"/>
<path d="M112.11 375.34L117.57 373.57A86.19 86.19 0 0 0 114.34 365.14L109.09 367.48A80.44 80.44 0 0 1 112.11 375.34Z" fill="#fec68a" stroke="#fec68a" stroke-width="0.9"/>
<path d="M117.57 373.57L123.04 371.79A91.94 91.94 0 0 0 119.59 362.81L114.34 365.14A86.19 86.19 0 0 1 117.57 373.57Z" fill="#feae77" stroke="#feae77" stroke-width="0.9"/>
<path d="M123.04 371.79L128.5 370.01A97.68 97.68 0 0 0 124.84 360.47L119.59 362.81A91.94 91.94 0 0 1 123.04 371.79Z" fill="#f4675c" stroke="#f4675c" stroke-width="0.9"/>
<path d="M128.5 370.01L133.97 368.24A103.43 103.43 0 0 0 130.09 358.13L124.84 360.47A97.68 97.68 0 0 1 128.5 370.01Z" fill="#bf3a77" stroke="#bf3a77" stroke-width="0.9"/>
<path d="M133.97 368.24L139.43 366.46A109.17 109.17 0 0 0 135.34 355.79L130.09 358.13A103.43 103.43 0 0 1 133.97 368.24Z" fill="#f4675c" stroke="#f4675c" stroke-width="0.9"/>
<path d="M139.43 366.46L144.9 364.69A114.92 114.92 0 0 0 140.58 353.46L135.34 355.79A109.17 109.17 0 0 1 139.43 366.46Z" fill="#fc8c63" stroke="#fc8c63" stroke-width="0.9"/>
<path d="M144.9 364.69L150.36 362.91A120.67 120.67 0 0 0 145.83 351.12L140.58 353.46A114.92 114.92 0 0 1 144.9 364.69Z" fill="#feb77e" stroke="#feb77e" stroke-width="0.9"/>
<path d="M150.36 362.91L155.82 361.14A126.41 126.41 0 0 0 151.08 348.78L145.83 351.12A120.67 120.67 0 0 1 150.36 362.91Z" fill="#fecf92" stroke="#fecf92" stroke-width="0.9"/>
<path d="M155.82 361.14L161.29 359.36A132.16 132.16 0 0 0 156.33 346.45L151.08 348.78A126.41 126.41 0 0 1 155.82 361.14Z" fill="#fed395" stroke="#fed395" stroke-width="0.9"/>
<path d="M161.29 359.36L166.75 357.59A137.9 137.9 0 0 0 161.58 344.11L156.33 346.45A132.16 132.16 0 0 1 161.29 359.36Z" fill="#fddea0" stroke="#fddea0" stroke-width="0.9"/>
<path d="M166.75 357.59L172.22 355.81A143.65 143.65 0 0 0 166.83 341.77L161.58 344.11A137.9 137.9 0 0 1 166.75 357.59Z" fill="#fddea0" stroke="#fddea0" stroke-width="0.9"/>
<path d="M172.22 355.81L177.68 354.03A149.4 149.4 0 0 0 172.08 339.44L166.83 341.77A143.65 143.65 0 0 1 172.22 355.81Z" fill="#fecf92" stroke="#fecf92" stroke-width="0.9"/>
<path d="M177.68 354.03L183.15 352.26A155.14 155.14 0 0 0 177.33 337.1L172.08 339.44A149.4 149.4 0 0 1 177.68 354.03Z" fill="#fddea0" stroke="#fddea0" stroke-width="0.9"/>
<path d="M183.15 352.26L188.61 350.48A160.89 160.89 0 0 0 182.58 334.76L177.33 337.1A155.14 155.14 0 0 1 183.15 352.26Z" fill="#fddea0" stroke="#fddea0" stroke-width="0.9"/>
<path d="M188.61 350.48L194.08 348.71A166.63 166.63 0 0 0 187.83 332.42L182.58 334.76A160.89 160.89 0 0 1 188.61 350.48Z" fill="#fddea0" stroke="#fddea0" stroke-width="0.9"/>
<path d="M194.08 348.71L199.54 346.93A172.38 172.38 0 0 0 193.08 330.09L187.83 332.42A166.63 166.63 0 0 1 194.08 348.71Z" fill="#fcf0b2" stroke="#fcf0b2" stroke-width="0.9"/>
<path d="M88.09 376.83L93.34 374.49A63.21 63.21 0 0 0 90.34 368.6L85.36 371.47A57.46 57.46 0 0 1 88.09 376.83Z" fill="#fcf4b6" stroke="#fcf4b6" stroke-width="0.9"/>
<path d="M98.59 372.15L103.84 369.82A74.7 74.7 0 0 0 100.29 362.85L95.31 365.72A68.95 68.95 0 0 1 98.59 372.15Z" fill="#fddea0" stroke="#fddea0" stroke-width="0.9"/>
<path d="M103.84 369.82L109.09 367.48A80.44 80.44 0 0 0 105.27 359.98L100.29 362.85A74.7 74.7 0 0 1 103.84 369.82Z" fill="#fed395" stroke="#fed395" stroke-width="0.9"/>
<path d="M109.09 367.48L114.34 365.14A86.19 86.19 0 0 0 110.24 357.11L105.27 359.98A80.44 80.44 0 0 1 109.09 367.48Z" fill="#feb77e" stroke="#feb77e" stroke-width="0.9"/>
<path d="M114.34 365.14L119.59 362.81A91.94 91.94 0 0 0 115.22 354.23L110.24 357.11A86.19 86.19 0 0 1 114.34 365.14Z" fill="#feae77" stroke="#feae77" stroke-width="0.9"/>
<path d="M119.59 362.81L124.84 360.47A97.68 97.68 0 0 0 120.2 351.36L115.22 354.23A91.94 91.94 0 0 1 119.59 362.81Z" fill="#fc8c63" stroke="#fc8c63" stroke-width="0.9"/>
<path d="M124.84 360.47L130.09 358.13A103.43 103.43 0 0 0 125.17 348.49L120.2 351.36A97.68 97.68 0 0 1 124.84 360.47Z" fill="#f9795d" stroke="#f9795d" stroke-width="0.9"/>
<path d="M130.09 358.13L135.34 355.79A109.17 109.17 0 0 0 130.15 345.61L125.17 348.49A103.43 103.43 0 0 1 130.09 358.13Z" fill="#f4675c" stroke="#f4675c" stroke-width="0.9"/>
<path d="M135.34 355.79L140.58 353.46A114.92 114.92 0 0 0 135.12 342.74L130.15 345.61A109.17 109.17 0 0 1 135.34 355.79Z" fill="#fd9668" stroke="#fd9668" stroke-width="0.9"/>
<path d="M140.58 353.46L145.83 351.12A120.67 120.67 0 0 0 140.1 339.87L135.12 342.74A114.92 114.92 0 0 1 140.58 353.46Z" fill="#feb77e" stroke="#feb77e" stroke-width="0.9"/>
<path d="M145.83 351.12L151.08 348.78A126.41 126.41 0 0 0 145.08 336.99L140.1 339.87A120.67 120.67 0 0 1 145.83 351.12Z" fill="#feca8d" stroke="#feca8d" stroke-width="0.9"/>
<path d="M151.08 348.78L156.33 346.45A132.16 132.16 0 0 0 150.05 334.12L145.08 336.99A126.41 126.41 0 0 1 151.08 348.78Z" fill="#feb77e" stroke="#feb77e" stroke-width="0.9"/>
<path d="M156.33 346.45L161.58 344.11A137.9 137.9 0 0 0 155.03 331.25L150.05 334.12A132.16 132.16 0 0 1 156.33 346.45Z" fill="#fed395" stroke="#fed395" stroke-width="0.9"/>
<path d="M161.58 344.11L166.83 341.77A143.65 143.65 0 0 0 160 328.38L155.03 331.25A137.9 137.9 0 0 1 161.58 344.11Z" fill="#fddea0" stroke="#fddea0" stroke-width="0.9"/>
<path d="M166.83 341.77L172.08 339.44A149.4 149.4 0 0 0 164.98 325.5L160 328.38A143.65 143.65 0 0 1 166.83 341.77Z" fill="#fecf92" stroke="#fecf92" stroke-width="0.9"/>
<path d="M172.08 339.44L177.33 337.1A155.14 155.14 0 0 0 169.96 322.63L164.98 325.5A149.4 149.4 0 0 1 172.08 339.44Z" fill="#fddea0" stroke="#fddea0" stroke-width="0.9"/>
<path d="M177.33 337.1L182.58 334.76A160.89 160.89 0 0 0 174.93 319.76L169.96 322.63A155.14 155.14 0 0 1 177.33 337.1Z" fill="#fddea0" stroke="#fddea0" stroke-width="0.9"/>
<path d="M182.58 334.76L187.83 332.42A166.63 166.63 0 0 0 179.91 316.88L174.93 319.76A160.89 160.89 0 0 1 182.58 334.76Z" fill="#fddea0" stroke="#fddea0" stroke-width="0.9"/>
<path d="M187.83 332.42L193.08 330.09A172.38 172.38 0 0 0 184.89 314.01L179.91 316.88A166.63 166.63 0 0 1 187.83 332.42Z" fill="#fde7a9" stroke="#fde7a9" stroke-width="0.9"/>
<path d="M85.36 371.47L90.34 368.6A63.21 63.21 0 0 0 86.73 363.05L82.09 366.43A57.46 57.46 0 0 1 85.36 371.47Z" fill="#fcf0b2" stroke="#fcf0b2" stroke-width="0.9"/>
<path d="M90.34 368.6L95.31 365.72A68.95 68.95 0 0 0 91.38 359.67L86.73 363.05A63.21 63.21 0 0 1 90.34 368.6Z" fill="#fddea0" stroke="#fddea0" stroke-width="0.9"/>
<path d="M95.31 365.72L100.29 362.85A74.7 74.7 0 0 0 96.03 356.29L91.38 359.67A68.95 68.95 0 0 1 95.31 365.72Z" fill="#fed395" stroke="#fed395" stroke-width="0.9"/>
<path d="M100.29 362.85L105.27 359.98A80.44 80.44 0 0 0 100.68 352.92L96.03 356.29A74.7 74.7 0 0 1 100.29 362.85Z" fill="#fec185" stroke="#fec185" stroke-width="0.9"/>
<path d="M105.27 359.98L110.24 357.11A86.19 86.19 0 0 0 105.33 349.54L100.68 352.92A80.44 80.44 0 0 1 105.27 359.98Z" fill="#feb77e" stroke="#feb77e" stroke-width="0.9"/>
<path d="M110.24 357.11L115.22 354.23A91.94 91.94 0 0 0 109.98 346.16L105.33 349.54A86.19 86.19 0 0 1 110.24 357.11Z" fill="#fd9668" stroke="#fd9668" stroke-width="0.9"/>
<path d="M115.22 354.23L120.2 351.36A97.68 97.68 0 0 0 114.63 342.78L109.98 346.16A91.94 91.94 0 0 1 115.22 354.23Z" fill="#fc8c63" stroke="#fc8c63" stroke-width="0.9"/>
<path d="M120.2 351.36L125.17 348.49A103.43 103.43 0 0 0 119.28 339.41L114.63 342.78A97.68 97.68 0 0 1 120.2 351.36Z" fill="#feae77" stroke="#feae77" stroke-width="0.9"/>
<path d="M125.17 348.49L130.15 345.61A109.17 109.17 0 0 0 123.92 336.03L119.28 339.41A103.43 103.43 0 0 1 125.17 348.49Z" fill="#fb835f" stroke="#fb835f" stroke-width="0.9"/>
<path d="M130.15 345.61L135.12 342.74A114.92 114.92 0 0 0 128.57 332.65L123.92 336.03A109.17 109.17 0 0 1 130.15 345.61Z" fill="#fd9668" stroke="#fd9668" stroke-width="0.9"/>
<path d="M135.12 342.74L140.1 339.87A120.67 120.67 0 0 0 133.22 329.27L128.57 332.65A114.92 114.92 0 0 1 135.12 342.74Z" fill="#feae77" stroke="#feae77" stroke-width="0.9"/>
<path d="M140.1 339.87L145.08 336.99A126.41 126.41 0 0 0 137.87 325.9L133.22 329.27A120.67 120.67 0 0 1 140.1 339.87Z" fill="#fec68a" stroke="#fec68a" stroke-width="0.9"/>
<path d="M145.08 336.99L150.05 334.12A132.16 132.16 0 0 0 142.52 322.52L137.87 325.9A126.41 126.41 0 0 1 145.08 336.99Z" fill="#feb77e" stroke="#feb77e" stroke-width="0.9"/>
<path d="M150.05 334.12L155.03 331.25A137.9 137.9 0 0 0 147.17 319.14L142.52 322.52A132.16 132.16 0 0 1 150.05 334.12Z" fill="#fed395" stroke="#fed395" stroke-width="0.9"/>
<path d="M155.03 331.25L160 328.38A143.65 143.65 0 0 0 151.82 315.76L147.17 319.14A137.9 137.9 0 0 1 155.03 331.25Z" fill="#fddea0" stroke="#fddea0" stroke-width="0.9"/>
<path d="M160 328.38L164.98 325.5A149.4 149.4 0 0 0 156.46 312.39L151.82 315.76A143.65 143.65 0 0 1 160 328.38Z" fill="#fecf92" stroke="#fecf92" stroke-width="0.9"/>
<path d="M164.98 325.5L169.96 322.63A155.14 155.14 0 0 0 161.11 309.01L156.46 312.39A149.4 149.4 0 0 1 164.98 325.5Z" fill="#fddea0" stroke="#fddea0" stroke-width="0.9"/>
<path d="M169.96 322.63L174.93 319.76A160.89 160.89 0 0 0 165.76 305.63L161.11 309.01A155.14 155.14 0 0 1 169.96 322.63Z" fill="#fddea0" stroke="#fddea0" stroke-width="0.9"/>
<path d="M174.93 319.76L179.91 316.88A166.63 166.63 0 0 0 170.41 302.25L165.76 305.63A160.89 160.89 0 0 1 174.93 319.76Z" fill="#fde7a9" stroke="#fde7a9" stroke-width="0.9"/>
<path d="M179.91 316.88L184.89 314.01A172.38 172.38 0 0 0 175.06 298.88L170.41 302.25A166.63 166.63 0 0 1 179.91 316.88Z" fill="#fcf0b2" stroke="#fcf0b2" stroke-width="0.9"/>
<path d="M77.44 369.8L82.09 366.43A57.46 57.46 0 0 0 78.3 361.75L74.03 365.6A51.71 51.71 0 0 1 77.44 369.8Z" fill="#fddea0" stroke="#fddea0" stroke-width="0.9"/>
<path d="M82.09 366.43L86.73 363.05A63.21 63.21 0 0 0 82.57 357.91L78.3 361.75A57.46 57.46 0 0 1 82.09 366.43Z" fill="#fed395" stroke="#fed395" stroke-width="0.9"/>
<path d="M86.73 363.05L91.38 359.67A68.95 68.95 0 0 0 86.84 354.06L82.57 357.91A63.21 63.21 0 0 1 86.73 363.05Z" fill="#fec68a" stroke="#fec68a" stroke-width="0.9"/>
<path d="M91.38 359.67L96.03 356.29A74.7 74.7 0 0 0 91.11 350.22L86.84 354.06A68.95 68.95 0 0 1 91.38 359.67Z" fill="#feb77e" stroke="#feb77e" stroke-width="0.9"/>
<path d="M96.03 356.29L100.68 352.92A80.44 80.44 0 0 0 95.38 346.37L91.11 350.22A74.7 74.7 0 0 1 96.03 356.29Z" fill="#fe9f6d" stroke="#fe9f6d" stroke-width="0.9"/>
<path d="M100.68 352.92L105.33 349.54A86.19 86.19 0 0 0 99.65 342.53L95.38 346.37A80.44 80.44 0 0 1 100.68 352.92Z" fill="#fd9668" stroke="#fd9668" stroke-width="0.9"/>
<path d="M105.33 349.54L109.98 346.16A91.94 91.94 0 0 0 103.92 338.68L99.65 342.53A86.19 86.19 0 0 1 105.33 349.54Z" fill="#fc8c63" stroke="#fc8c63" stroke-width="0.9"/>
<path d="M109.98 346.16L114.63 342.78A97.68 97.68 0 0 0 108.19 334.84L103.92 338.68A91.94 91.94 0 0 1 109.98 346.16Z" fill="#feae77" stroke="#feae77" stroke-width="0.9"/>
<path d="M114.63 342.78L119.28 339.41A103.43 103.43 0 0 0 112.46 330.99L108.19 334.84A97.68 97.68 0 0 1 114.63 342.78Z" fill="#feb77e" stroke="#feb77e" stroke-width="0.9"/>
<path d="M119.28 339.41L123.92 336.03A109.17 109.17 0 0 0 116.73 327.15L112.46 330.99A103.43 103.43 0 0 1 119.28 339.41Z" fill="#feca8d" stroke="#feca8d" stroke-width="0.9"/>
<path d="M123.92 336.03L128.57 332.65A114.92 114.92 0 0 0 121 323.3L116.73 327.15A109.17 109.17 0 0 1 123.92 336.03Z" fill="#fddea0" stroke="#fddea0" stroke-width="0.9"/>
<path d="M128.57 332.65L133.22 329.27A120.67 120.67 0 0 0 125.27 319.46L121 323.3A114.92 114.92 0 0 1 128.57 332.65Z" fill="#feae77" stroke="#feae77" stroke-width="0.9"/>
<path d="M133.22 329.27L137.87 325.9A126.41 126.41 0 0 0 129.54 315.61L125.27 319.46A120.67 120.67 0 0 1 133.22 329.27Z" fill="#fec185" stroke="#fec185" stroke-width="0.9"/>
<path d="M137.87 325.9L142.52 322.52A132.16 132.16 0 0 0 133.81 311.77L129.54 315.61A126.41 126.41 0 0 1 137.87 325.9Z" fill="#fed395" stroke="#fed395" stroke-width="0.9"/>
<path d="M142.52 322.52L147.17 319.14A137.9 137.9 0 0 0 138.08 307.92L133.81 311.77A132.16 132.16 0 0 1 142.52 322.52Z" fill="#fec68a" stroke="#fec68a" stroke-width="0.9"/>
<path d="M147.17 319.14L151.82 315.76A143.65 143.65 0 0 0 142.35 304.08L138.08 307.92A137.9 137.9 0 0 1 147.17 319.14Z" fill="#fddea0" stroke="#fddea0" stroke-width="0.9"/>
<path d="M151.82 315.76L156.46 312.39A149.4 149.4 0 0 0 146.62 300.23L142.35 304.08A143.65 143.65 0 0 1 151.82 315.76Z" fill="#fed395" stroke="#fed395" stroke-width="0.9"/>
<path d="M156.46 312.39L161.11 309.01A155.14 155.14 0 0 0 150.89 296.39L146.62 300.23A149.4 149.4 0 0 1 156.46 312.39Z" fill="#fddea0" stroke="#fddea0" stroke-width="0.9"/>
<path d="M161.11 309.01L165.76 305.63A160.89 160.89 0 0 0 155.16 292.54L150.89 296.39A155.14 155.14 0 0 1 161.11 309.01Z" fill="#fddea0" stroke="#fddea0" stroke-width="0.9"/>
<path d="M165.76 305.63L170.41 302.25A166.63 166.63 0 0 0 159.43 288.7L155.16 292.54A160.89 160.89 0 0 1 165.76 305.63Z" fill="#fcf0b2" stroke="#fcf0b2" stroke-width="0.9"/>
<path d="M170.41 302.25L175.06 298.88A172.38 172.38 0 0 0 163.7 284.86L159.43 288.7A166.63 166.63 0 0 1 170.41 302.25Z" fill="#fdebac" stroke="#fdebac" stroke-width="0.9"/>
<path d="M74.03 365.6L78.3 361.75A57.46 57.46 0 0 0 74.05 357.5L70.2 361.77A51.71 51.71 0 0 1 74.03 365.6Z" fill="#fec68a" stroke="#fec68a" stroke-width="0.9"/>
<path d="M78.3 361.75L82.57 357.91A63.21 63.21 0 0 0 77.89 353.23L74.05 357.5A57.46 57.46 0 0 1 78.3 361.75Z" fill="#feb77e" stroke="#feb77e" stroke-width="0.9"/>
<path d="M82.57 357.91L86.84 354.06A68.95 68.95 0 0 0 81.74 348.96L77.89 353.23A63.21 63.21 0 0 1 82.57 357.91Z" fill="#fec185" stroke="#fec185" stroke-width="0.9"/>
<path d="M86.84 354.06L91.11 350.22A74.7 74.7 0 0 0 85.58 344.69L81.74 348.96A68.95 68.95 0 0 1 86.84 354.06Z" fill="#fd9668" stroke="#fd9668" stroke-width="0.9"/>
<path d="M91.11 350.22L95.38 346.37A80.44 80.44 0 0 0 89.43 340.42L85.58 344.69A74.7 74.7 0 0 1 91.11 350.22Z" fill="#f9795d" stroke="#f9795d" stroke-width="0.9"/>
<path d="M95.38 346.37L99.65 342.53A86.19 86.19 0 0 0 93.27 336.15L89.43 340.42A80.44 80.44 0 0 1 95.38 346.37Z" fill="#fb835f" stroke="#fb835f" stroke-width="0.9"/>
<path d="M99.65 342.53L103.92 338.68A91.94 91.94 0 0 0 97.12 331.88L93.27 336.15A86.19 86.19 0 0 1 99.65 342.53Z" fill="#fd9668" stroke="#fd9668" stroke-width="0.9"/>
<path d="M103.92 338.68L108.19 334.84A97.68 97.68 0 0 0 100.96 327.61L97.12 331.88A91.94 91.94 0 0 1 103.92 338.68Z" fill="#feae77" stroke="#feae77" stroke-width="0.9"/>
<path d="M108.19 334.84L112.46 330.99A103.43 103.43 0 0 0 104.81 323.34L100.96 327.61A97.68 97.68 0 0 1 108.19 334.84Z" fill="#fec185" stroke="#fec185" stroke-width="0.9"/>
<path d="M112.46 330.99L116.73 327.15A109.17 109.17 0 0 0 108.65 319.07L104.81 323.34A103.43 103.43 0 0 1 112.46 330.99Z" fill="#feae77" stroke="#feae77" stroke-width="0.9"/>
<path d="M116.73 327.15L121 323.3A114.92 114.92 0 0 0 112.5 314.8L108.65 319.07A109.17 109.17 0 0 1 116.73 327.15Z" fill="#feb77e" stroke="#feb77e" stroke-width="0.9"/>
<path d="M121 323.3L125.27 319.46A120.67 120.67 0 0 0 116.34 310.53L112.5 314.8A114.92 114.92 0 0 1 121 323.3Z" fill="#fec185" stroke="#fec185" stroke-width="0.9"/>
<path d="M125.27 319.46L129.54 315.61A126.41 126.41 0 0 0 120.19 306.26L116.34 310.53A120.67 120.67 0 0 1 125.27 319.46Z" fill="#feb77e" stroke="#feb77e" stroke-width="0.9"/>
<path d="M129.54 315.61L133.81 311.77A132.16 132.16 0 0 0 124.03 301.99L120.19 306.26A126.41 126.41 0 0 1 129.54 315.61Z" fill="#fed395" stroke="#fed395" stroke-width="0.9"/>
<path d="M133.81 311.77L138.08 307.92A137.9 137.9 0 0 0 127.88 297.72L124.03 301.99A132.16 132.16 0 0 1 133.81 311.77Z" fill="#fed395" stroke="#fed395" stroke-width="0.9"/>
<path d="M138.08 307.92L142.35 304.08A143.65 143.65 0 0 0 131.72 293.45L127.88 297.72A137.9 137.9 0 0 1 138.08 307.92Z" fill="#fec185" stroke="#fec185" stroke-width="0.9"/>
<path d="M142.35 304.08L146.62 300.23A149.4 149.4 0 0 0 135.57 289.18L131.72 293.45A143.65 143.65 0 0 1 142.35 304.08Z" fill="#fecf92" stroke="#fecf92" stroke-width="0.9"/>
<path d="M146.62 300.23L150.89 296.39A155.14 155.14 0 0 0 139.41 284.91L135.57 289.18A149.4 149.4 0 0 1 146.62 300.23Z" fill="#fed395" stroke="#fed395" stroke-width="0.9"/>
<path d="M150.89 296.39L155.16 292.54A160.89 160.89 0 0 0 143.26 280.64L139.41 284.91A155.14 155.14 0 0 1 150.89 296.39Z" fill="#fddea0" stroke="#fddea0" stroke-width="0.9"/>
<path d="M155.16 292.54L159.43 288.7A166.63 166.63 0 0 0 147.1 276.37L143.26 280.64A160.89 160.89 0 0 1 155.16 292.54Z" fill="#fddea0" stroke="#fddea0" stroke-width="0.9"/>
<path d="M159.43 288.7L163.7 284.86A172.38 172.38 0 0 0 150.94 272.1L147.1 276.37A166.63 166.63 0 0 1 159.43 288.7Z" fill="#fdebac" stroke="#fdebac" stroke-width="0.9"/>
<path d="M70.2 361.77L74.05 357.5A57.46 57.46 0 0 0 69.37 353.71L66 358.36A51.71 51.71 0 0 1 70.2 361.77Z" fill="#feae77" stroke="#feae77" stroke-width="0.9"/>
<path d="M74.05 357.5L77.89 353.23A63.21 63.21 0 0 0 72.75 349.07L69.37 353.71A57.46 57.46 0 0 1 74.05 357.5Z" fill="#fd9668" stroke="#fd9668" stroke-width="0.9"/>
<path d="M77.89 353.23L81.74 348.96A68.95 68.95 0 0 0 76.13 344.42L72.75 349.07A63.21 63.21 0 0 1 77.89 353.23Z" fill="#f4675c" stroke="#f4675c" stroke-width="0.9"/>
<path d="M81.74 348.96L85.58 344.69A74.7 74.7 0 0 0 79.51 339.77L76.13 344.42A68.95 68.95 0 0 1 81.74 348.96Z" fill="#f7705c" stroke="#f7705c" stroke-width="0.9"/>
<path d="M85.58 344.69L89.43 340.42A80.44 80.44 0 0 0 82.88 335.12L79.51 339.77A74.7 74.7 0 0 1 85.58 344.69Z" fill="#f7705c" stroke="#f7705c" stroke-width="0.9"/>
<path d="M89.43 340.42L93.27 336.15A86.19 86.19 0 0 0 86.26 330.47L82.88 335.12A80.44 80.44 0 0 1 89.43 340.42Z" fill="#e44f64" stroke="#e44f64" stroke-width="0.9"/>
<path d="M93.27 336.15L97.12 331.88A91.94 91.94 0 0 0 89.64 325.82L86.26 330.47A86.19 86.19 0 0 1 93.27 336.15Z" fill="#ea5661" stroke="#ea5661" stroke-width="0.9"/>
<path d="M97.12 331.88L100.96 327.61A97.68 97.68 0 0 0 93.02 321.17L89.64 325.82A91.94 91.94 0 0 1 97.12 331.88Z" fill="#f9795d" stroke="#f9795d" stroke-width="0.9"/>
<path d="M100.96 327.61L104.81 323.34A103.43 103.43 0 0 0 96.39 316.52L93.02 321.17A97.68 97.68 0 0 1 100.96 327.61Z" fill="#feae77" stroke="#feae77" stroke-width="0.9"/>
<path d="M104.81 323.34L108.65 319.07A109.17 109.17 0 0 0 99.77 311.88L96.39 316.52A103.43 103.43 0 0 1 104.81 323.34Z" fill="#f4675c" stroke="#f4675c" stroke-width="0.9"/>
<path d="M108.65 319.07L112.5 314.8A114.92 114.92 0 0 0 103.15 307.23L99.77 311.88A109.17 109.17 0 0 1 108.65 319.07Z" fill="#fc8c63" stroke="#fc8c63" stroke-width="0.9"/>
<path d="M112.5 314.8L116.34 310.53A120.67 120.67 0 0 0 106.53 302.58L103.15 307.23A114.92 114.92 0 0 1 112.5 314.8Z" fill="#fc8c63" stroke="#fc8c63" stroke-width="0.9"/>
<path d="M116.34 310.53L120.19 306.26A126.41 126.41 0 0 0 109.9 297.93L106.53 302.58A120.67 120.67 0 0 1 116.34 310.53Z" fill="#fed395" stroke="#fed395" stroke-width="0.9"/>
<path d="M120.19 306.26L124.03 301.99A132.16 132.16 0 0 0 113.28 293.28L109.9 297.93A126.41 126.41 0 0 1 120.19 306.26Z" fill="#feae77" stroke="#feae77" stroke-width="0.9"/>
<path d="M124.03 301.99L127.88 297.72A137.9 137.9 0 0 0 116.66 288.63L113.28 293.28A132.16 132.16 0 0 1 124.03 301.99Z" fill="#fd9668" stroke="#fd9668" stroke-width="0.9"/>
<path d="M127.88 297.72L131.72 293.45A143.65 143.65 0 0 0 120.04 283.98L116.66 288.63A137.9 137.9 0 0 1 127.88 297.72Z" fill="#fec185" stroke="#fec185" stroke-width="0.9"/>
<path d="M131.72 293.45L135.57 289.18A149.4 149.4 0 0 0 123.41 279.34L120.04 283.98A143.65 143.65 0 0 1 131.72 293.45Z" fill="#fddea0" stroke="#fddea0" stroke-width="0.9"/>
<path d="M135.57 289.18L139.41 284.91A155.14 155.14 0 0 0 126.79 274.69L123.41 279.34A149.4 149.4 0 0 1 135.57 289.18Z" fill="#fed395" stroke="#fed395" stroke-width="0.9"/>
<path d="M139.41 284.91L143.26 280.64A160.89 160.89 0 0 0 130.17 270.04L126.79 274.69A155.14 155.14 0 0 1 139.41 284.91Z" fill="#fecf92" stroke="#fecf92" stroke-width="0.9"/>
<path d="M143.26 280.64L147.1 276.37A166.63 166.63 0 0 0 133.55 265.39L130.17 270.04A160.89 160.89 0 0 1 143.26 280.64Z" fill="#fddea0" stroke="#fddea0" stroke-width="0.9"/>
<path d="M147.1 276.37L150.94 272.1A172.38 172.38 0 0 0 136.92 260.74L133.55 265.39A166.63 166.63 0 0 1 147.1 276.37Z" fill="#fddea0" stroke="#fddea0" stroke-width="0.9"/>
<path d="M66 358.36L69.37 353.71A57.46 57.46 0 0 0 64.33 350.44L61.46 355.41A51.71 51.71 0 0 1 66 358.36Z" fill="#f9795d" stroke="#f9795d" stroke-width="0.9"/>
<path d="M69.37 353.71L72.75 349.07A63.21 63.21 0 0 0 67.2 345.46L64.33 350.44A57.46 57.46 0 0 1 69.37 353.71Z" fill="#f4675c" stroke="#f4675c" stroke-width="0.9"/>
<path d="M72.75 349.07L76.13 344.42A68.95 68.95 0 0 0 70.08 340.49L67.2 345.46A63.21 63.21 0 0 1 72.75 349.07Z" fill="#d2426f" stroke="#d2426f" stroke-width="0.9"/>
<path d="M76.13 344.42L79.51 339.77A74.7 74.7 0 0 0 72.95 335.51L70.08 340.49A68.95 68.95 0 0 1 76.13 344.42Z" fill="#f2625d" stroke="#f2625d" stroke-width="0.9"/>
<path d="M79.51 339.77L82.88 335.12A80.44 80.44 0 0 0 75.82 330.53L72.95 335.51A74.7 74.7 0 0 1 79.51 339.77Z" fill="#de4968" stroke="#de4968" stroke-width="0.9"/>
<path d="M82.88 335.12L86.26 330.47A86.19 86.19 0 0 0 78.7 325.56L75.82 330.53A80.44 80.44 0 0 1 82.88 335.12Z" fill="#d2426f" stroke="#d2426f" stroke-width="0.9"/>
<path d="M86.26 330.47L89.64 325.82A91.94 91.94 0 0 0 81.57 320.58L78.7 325.56A86.19 86.19 0 0 1 86.26 330.47Z" fill="#ea5661" stroke="#ea5661" stroke-width="0.9"/>
<path d="M89.64 325.82L93.02 321.17A97.68 97.68 0 0 0 84.44 315.6L81.57 320.58A91.94 91.94 0 0 1 89.64 325.82Z" fill="#fb835f" stroke="#fb835f" stroke-width="0.9"/>
<path d="M93.02 321.17L96.39 316.52A103.43 103.43 0 0 0 87.31 310.63L84.44 315.6A97.68 97.68 0 0 1 93.02 321.17Z" fill="#fe9f6d" stroke="#fe9f6d" stroke-width="0.9"/>
<path d="M96.39 316.52L99.77 311.88A109.17 109.17 0 0 0 90.19 305.65L87.31 310.63A103.43 103.43 0 0 1 96.39 316.52Z" fill="#fec185" stroke="#fec185" stroke-width="0.9"/>
<path d="M99.77 311.88L103.15 307.23A114.92 114.92 0 0 0 93.06 300.68L90.19 305.65A109.17 109.17 0 0 1 99.77 311.88Z" fill="#f4675c" stroke="#f4675c" stroke-width="0.9"/>
<path d="M103.15 307.23L106.53 302.58A120.67 120.67 0 0 0 95.93 295.7L93.06 300.68A114.92 114.92 0 0 1 103.15 307.23Z" fill="#f9795d" stroke="#f9795d" stroke-width="0.9"/>
<path d="M106.53 302.58L109.9 297.93A126.41 126.41 0 0 0 98.81 290.72L95.93 295.7A120.67 120.67 0 0 1 106.53 302.58Z" fill="#fc8c63" stroke="#fc8c63" stroke-width="0.9"/>
<path d="M109.9 297.93L113.28 293.28A132.16 132.16 0 0 0 101.68 285.75L98.81 290.72A126.41 126.41 0 0 1 109.9 297.93Z" fill="#fd9668" stroke="#fd9668" stroke-width="0.9"/>
<path d="M113.28 293.28L116.66 288.63A137.9 137.9 0 0 0 104.55 280.77L101.68 285.75A132.16 132.16 0 0 1 113.28 293.28Z" fill="#feae77" stroke="#feae77" stroke-width="0.9"/>
<path d="M116.66 288.63L120.04 283.98A143.65 143.65 0 0 0 107.43 275.8L104.55 280.77A137.9 137.9 0 0 1 116.66 288.63Z" fill="#feb77e" stroke="#feb77e" stroke-width="0.9"/>
<path d="M120.04 283.98L123.41 279.34A149.4 149.4 0 0 0 110.3 270.82L107.43 275.8A143.65 143.65 0 0 1 120.04 283.98Z" fill="#fec68a" stroke="#fec68a" stroke-width="0.9"/>
<path d="M123.41 279.34L126.79 274.69A155.14 155.14 0 0 0 113.17 265.84L110.3 270.82A149.4 149.4 0 0 1 123.41 279.34Z" fill="#fed395" stroke="#fed395" stroke-width="0.9"/>
<path d="M126.79 274.69L130.17 270.04A160.89 160.89 0 0 0 116.04 260.87L113.17 265.84A155.14 155.14 0 0 1 126.79 274.69Z" fill="#feca8d" stroke="#feca8d" stroke-width="0.9"/>
<path d="M130.17 270.04L133.55 265.39A166.63 166.63 0 0 0 118.92 255.89L116.04 260.87A160.89 160.89 0 0 1 130.17 270.04Z" fill="#fec185" stroke="#fec185" stroke-width="0.9"/>
<path d="M133.55 265.39L136.92 260.74A172.38 172.38 0 0 0 121.79 250.91L118.92 255.89A166.63 166.63 0 0 1 133.55 265.39Z" fill="#fddea0" stroke="#fddea0" stroke-width="0.9"/>
<path d="M61.46 355.41L64.33 350.44A57.46 57.46 0 0 0 58.97 347.71L56.63 352.96A51.71 51.71 0 0 1 61.46 355.41Z" fill="#e44f64" stroke="#e44f64" stroke-width="0.9"/>
<path d="M64.33 350.44L67.2 345.46A63.21 63.21 0 0 0 61.31 342.46L58.97 347.71A57.46 57.46 0 0 1 64.33 350.44Z" fill="#ea5661" stroke="#ea5661" stroke-width="0.9"/>
<path d="M67.2 345.46L70.08 340.49A68.95 68.95 0 0 0 63.65 337.21L61.31 342.46A63.21 63.21 0 0 1 67.2 345.46Z" fill="#a1307e" stroke="#a1307e" stroke-width="0.9"/>
<path d="M70.08 340.49L72.95 335.51A74.7 74.7 0 0 0 65.98 331.96L63.65 337.21A68.95 68.95 0 0 1 70.08 340.49Z" fill="#de4968" stroke="#de4968" stroke-width="0.9"/>
<path d="M72.95 335.51L75.82 330.53A80.44 80.44 0 0 0 68.32 326.71L65.98 331.96A74.7 74.7 0 0 1 72.95 335.51Z" fill="#bf3a77" stroke="#bf3a77" stroke-width="0.9"/>
<path d="M75.82 330.53L78.7 325.56A86.19 86.19 0 0 0 70.66 321.46L68.32 326.71A80.44 80.44 0 0 1 75.82 330.53Z" fill="#ad347c" stroke="#ad347c" stroke-width="0.9"/>
<path d="M78.7 325.56L81.57 320.58A91.94 91.94 0 0 0 72.99 316.21L70.66 321.46A86.19 86.19 0 0 1 78.7 325.56Z" fill="#ef5d5e" stroke="#ef5d5e" stroke-width="0.9"/>
<path d="M81.57 320.58L84.44 315.6A97.68 97.68 0 0 0 75.33 310.96L72.99 316.21A91.94 91.94 0 0 1 81.57 320.58Z" fill="#f7705c" stroke="#f7705c" stroke-width="0.9"/>
<path d="M84.44 315.6L87.31 310.63A103.43 103.43 0 0 0 77.67 305.71L75.33 310.96A97.68 97.68 0 0 1 84.44 315.6Z" fill="#fc8c63" stroke="#fc8c63" stroke-width="0.9"/>
<path d="M87.31 310.63L90.19 305.65A109.17 109.17 0 0 0 80.01 300.46L77.67 305.71A103.43 103.43 0 0 1 87.31 310.63Z" fill="#feae77" stroke="#feae77" stroke-width="0.9"/>
<path d="M90.19 305.65L93.06 300.68A114.92 114.92 0 0 0 82.34 295.22L80.01 300.46A109.17 109.17 0 0 1 90.19 305.65Z" fill="#fc8c63" stroke="#fc8c63" stroke-width="0.9"/>
<path d="M93.06 300.68L95.93 295.7A120.67 120.67 0 0 0 84.68 289.97L82.34 295.22A114.92 114.92 0 0 1 93.06 300.68Z" fill="#feae77" stroke="#feae77" stroke-width="0.9"/>
<path d="M95.93 295.7L98.81 290.72A126.41 126.41 0 0 0 87.02 284.72L84.68 289.97A120.67 120.67 0 0 1 95.93 295.7Z" fill="#feae77" stroke="#feae77" stroke-width="0.9"/>
<path d="M98.81 290.72L101.68 285.75A132.16 132.16 0 0 0 89.35 279.47L87.02 284.72A126.41 126.41 0 0 1 98.81 290.72Z" fill="#fc8c63" stroke="#fc8c63" stroke-width="0.9"/>
<path d="M101.68 285.75L104.55 280.77A137.9 137.9 0 0 0 91.69 274.22L89.35 279.47A132.16 132.16 0 0 1 101.68 285.75Z" fill="#fd9668" stroke="#fd9668" stroke-width="0.9"/>
<path d="M104.55 280.77L107.43 275.8A143.65 143.65 0 0 0 94.03 268.97L91.69 274.22A137.9 137.9 0 0 1 104.55 280.77Z" fill="#feae77" stroke="#feae77" stroke-width="0.9"/>
<path d="M107.43 275.8L110.3 270.82A149.4 149.4 0 0 0 96.36 263.72L94.03 268.97A143.65 143.65 0 0 1 107.43 275.8Z" fill="#fe9f6d" stroke="#fe9f6d" stroke-width="0.9"/>
<path d="M110.3 270.82L113.17 265.84A155.14 155.14 0 0 0 98.7 258.47L96.36 263.72A149.4 149.4 0 0 1 110.3 270.82Z" fill="#fec185" stroke="#fec185" stroke-width="0.9"/>
<path d="M113.17 265.84L116.04 260.87A160.89 160.89 0 0 0 101.04 253.22L98.7 258.47A155.14 155.14 0 0 1 113.17 265.84Z" fill="#fec185" stroke="#fec185" stroke-width="0.9"/>
<path d="M116.04 260.87L118.92 255.89A166.63 166.63 0 0 0 103.38 247.97L101.04 253.22A160.89 160.89 0 0 1 116.04 260.87Z" fill="#fecf92" stroke="#fecf92" stroke-width="0.9"/>
<path d="M118.92 255.89L121.79 250.91A172.38 172.38 0 0 0 105.71 242.72L103.38 247.97A166.63 166.63 0 0 1 118.92 255.89Z" fill="#fddea0" stroke="#fddea0" stroke-width="0.9"/>
<path d="M56.63 352.96L58.97 347.71A57.46 57.46 0 0 0 53.36 345.55L51.58 351.02A51.71 51.71 0 0 1 56.63 352.96Z" fill="#ea5661" stroke="#ea5661" stroke-width="0.9"/>
<path d="M58.97 347.71L61.31 342.46A63.21 63.21 0 0 0 55.13 340.09L53.36 345.55A57.46 57.46 0 0 1 58.97 347.71Z" fill="#f9795d" stroke="#f9795d" stroke-width="0.9"/>
<path d="M61.31 342.46L63.65 337.21A68.95 68.95 0 0 0 56.91 334.62L55.13 340.09A63.21 63.21 0 0 1 61.31 342.46Z" fill="#ef5d5e" stroke="#ef5d5e" stroke-width="0.9"/>
<path d="M63.65 337.21L65.98 331.96A74.7 74.7 0 0 0 58.68 329.16L56.91 334.62A68.95 68.95 0 0 1 63.65 337.21Z" fill="#b73779" stroke="#b73779" stroke-width="0.9"/>
<path d="M65.98 331.96L68.32 326.71A80.44 80.44 0 0 0 60.46 323.69L58.68 329.16A74.7 74.7 0 0 1 65.98 331.96Z" fill="#bf3a77" stroke="#bf3a77" stroke-width="0.9"/>
<path d="M68.32 326.71L70.66 321.46A86.19 86.19 0 0 0 62.23 318.23L60.46 323.69A80.44 80.44 0 0 1 68.32 326.71Z" fill="#ad347c" stroke="#ad347c" stroke-width="0.9"/>
<path d="M70.66 321.46L72.99 316.21A91.94 91.94 0 0 0 64.01 312.76L62.23 318.23A86.19 86.19 0 0 1 70.66 321.46Z" fill="#d2426f" stroke="#d2426f" stroke-width="0.9"/>
<path d="M72.99 316.21L75.33 310.96A97.68 97.68 0 0 0 65.79 307.3L64.01 312.76A91.94 91.94 0 0 1 72.99 316.21Z" fill="#ef5d5e" stroke="#ef5d5e" stroke-width="0.9"/>
<path d="M75.33 310.96L77.67 305.71A103.43 103.43 0 0 0 67.56 301.83L65.79 307.3A97.68 97.68 0 0 1 75.33 310.96Z" fill="#fb835f" stroke="#fb835f" stroke-width="0.9"/>
<path d="M77.67 305.71L80.01 300.46A109.17 109.17 0 0 0 69.34 296.37L67.56 301.83A103.43 103.43 0 0 1 77.67 305.71Z" fill="#f7705c" stroke="#f7705c" stroke-width="0.9"/>
<path d="M80.01 300.46L82.34 295.22A114.92 114.92 0 0 0 71.11 290.9L69.34 296.37A109.17 109.17 0 0 1 80.01 300.46Z" fill="#fd9668" stroke="#fd9668" stroke-width="0.9"/>
<path d="M82.34 295.22L84.68 289.97A120.67 120.67 0 0 0 72.89 285.44L71.11 290.9A114.92 114.92 0 0 1 82.34 295.22Z" fill="#feae77" stroke="#feae77" stroke-width="0.9"/>
<path d="M84.68 289.97L87.02 284.72A126.41 126.41 0 0 0 74.66 279.98L72.89 285.44A120.67 120.67 0 0 1 84.68 289.97Z" fill="#fc8c63" stroke="#fc8c63" stroke-width="0.9"/>
<path d="M87.02 284.72L89.35 279.47A132.16 132.16 0 0 0 76.44 274.51L74.66 279.98A126.41 126.41 0 0 1 87.02 284.72Z" fill="#feae77" stroke="#feae77" stroke-width="0.9"/>
<path d="M89.35 279.47L91.69 274.22A137.9 137.9 0 0 0 78.21 269.05L76.44 274.51A132.16 132.16 0 0 1 89.35 279.47Z" fill="#fd9668" stroke="#fd9668" stroke-width="0.9"/>
<path d="M91.69 274.22L94.03 268.97A143.65 143.65 0 0 0 79.99 263.58L78.21 269.05A137.9 137.9 0 0 1 91.69 274.22Z" fill="#feae77" stroke="#feae77" stroke-width="0.9"/>
<path d="M94.03 268.97L96.36 263.72A149.4 149.4 0 0 0 81.77 258.12L79.99 263.58A143.65 143.65 0 0 1 94.03 268.97Z" fill="#feb77e" stroke="#feb77e" stroke-width="0.9"/>
<path d="M96.36 263.72L98.7 258.47A155.14 155.14 0 0 0 83.54 252.65L81.77 258.12A149.4 149.4 0 0 1 96.36 263.72Z" fill="#feca8d" stroke="#feca8d" stroke-width="0.9"/>
<path d="M98.7 258.47L101.04 253.22A160.89 160.89 0 0 0 85.32 247.19L83.54 252.65A155.14 155.14 0 0 1 98.7 258.47Z" fill="#fed395" stroke="#fed395" stroke-width="0.9"/>
<path d="M101.04 253.22L103.38 247.97A166.63 166.63 0 0 0 87.09 241.72L85.32 247.19A160.89 160.89 0 0 1 101.04 253.22Z" fill="#fddea0" stroke="#fddea0" stroke-width="0.9"/>
<path d="M103.38 247.97L105.71 242.72A172.38 172.38 0 0 0 88.87 236.26L87.09 241.72A166.63 166.63 0 0 1 103.38 247.97Z" fill="#fddea0" stroke="#fddea0" stroke-width="0.9"/>
<path d="M51.58 351.02L53.36 345.55A57.46 57.46 0 0 0 47.55 344L46.35 349.62A51.71 51.71 0 0 1 51.58 351.02Z" fill="#ef5d5e" stroke="#ef5d5e" stroke-width="0.9"/>
<path d="M53.36 345.55L55.13 340.09A63.21 63.21 0 0 0 48.74 338.38L47.55 344A57.46 57.46 0 0 1 53.36 345.55Z" fill="#f7705c" stroke="#f7705c" stroke-width="0.9"/>
<path d="M55.13 340.09L56.91 334.62A68.95 68.95 0 0 0 49.94 332.75L48.74 338.38A63.21 63.21 0 0 1 55.13 340.09Z" fill="#fb835f" stroke="#fb835f" stroke-width="0.9"/>
<path d="M56.91 334.62L58.68 329.16A74.7 74.7 0 0 0 51.13 327.13L49.94 332.75A68.95 68.95 0 0 1 56.91 334.62Z" fill="#de4968" stroke="#de4968" stroke-width="0.9"/>
<path d="M58.68 329.16L60.46 323.69A80.44 80.44 0 0 0 52.33 321.51L51.13 327.13A74.7 74.7 0 0 1 58.68 329.16Z" fill="#d2426f" stroke="#d2426f" stroke-width="0.9"/>
<path d="M60.46 323.69L62.23 318.23A86.19 86.19 0 0 0 53.52 315.89L52.33 321.51A80.44 80.44 0 0 1 60.46 323.69Z" fill="#d2426f" stroke="#d2426f" stroke-width="0.9"/>
<path d="M62.23 318.23L64.01 312.76A91.94 91.94 0 0 0 54.71 310.27L53.52 315.89A86.19 86.19 0 0 1 62.23 318.23Z" fill="#b73779" stroke="#b73779" stroke-width="0.9"/>
<path d="M64.01 312.76L65.79 307.3A97.68 97.68 0 0 0 55.91 304.65L54.71 310.27A91.94 91.94 0 0 1 64.01 312.76Z" fill="#de4968" stroke="#de4968" stroke-width="0.9"/>
<path d="M65.79 307.3L67.56 301.83A103.43 103.43 0 0 0 57.1 299.03L55.91 304.65A97.68 97.68 0 0 1 65.79 307.3Z" fill="#ef5d5e" stroke="#ef5d5e" stroke-width="0.9"/>
<path d="M67.56 301.83L69.34 296.37A109.17 109.17 0 0 0 58.3 293.41L57.1 299.03A103.43 103.43 0 0 1 67.56 301.83Z" fill="#fb835f" stroke="#fb835f" stroke-width="0.9"/>
<path d="M69.34 296.37L71.11 290.9A114.92 114.92 0 0 0 59.49 287.79L58.3 293.41A109.17 109.17 0 0 1 69.34 296.37Z" fill="#feae77" stroke="#feae77" stroke-width="0.9"/>
<path d="M71.11 290.9L72.89 285.44A120.67 120.67 0 0 0 60.69 282.17L59.49 287.79A114.92 114.92 0 0 1 71.11 290.9Z" fill="#fd9668" stroke="#fd9668" stroke-width="0.9"/>
<path d="M72.89 285.44L74.66 279.98A126.41 126.41 0 0 0 61.88 276.55L60.69 282.17A120.67 120.67 0 0 1 72.89 285.44Z" fill="#fe9f6d" stroke="#fe9f6d" stroke-width="0.9"/>
<path d="M74.66 279.98L76.44 274.51A132.16 132.16 0 0 0 63.08 270.93L61.88 276.55A126.41 126.41 0 0 1 74.66 279.98Z" fill="#feb77e" stroke="#feb77e" stroke-width="0.9"/>
<path d="M76.44 274.51L78.21 269.05A137.9 137.9 0 0 0 64.27 265.31L63.08 270.93A132.16 132.16 0 0 1 76.44 274.51Z" fill="#fec185" stroke="#fec185" stroke-width="0.9"/>
<path d="M78.21 269.05L79.99 263.58A143.65 143.65 0 0 0 65.47 259.69L64.27 265.31A137.9 137.9 0 0 1 78.21 269.05Z" fill="#fddea0" stroke="#fddea0" stroke-width="0.9"/>
<path d="M79.99 263.58L81.77 258.12A149.4 149.4 0 0 0 66.66 254.07L65.47 259.69A143.65 143.65 0 0 1 79.99 263.58Z" fill="#fed395" stroke="#fed395" stroke-width="0.9"/>
<path d="M81.77 258.12L83.54 252.65A155.14 155.14 0 0 0 67.86 248.45L66.66 254.07A149.4 149.4 0 0 1 81.77 258.12Z" fill="#fec68a" stroke="#fec68a" stroke-width="0.9"/>
<path d="M83.54 252.65L85.32 247.19A160.89 160.89 0 0 0 69.05 242.83L67.86 248.45A155.14 155.14 0 0 1 83.54 252.65Z" fill="#fed395" stroke="#fed395" stroke-width="0.9"/>
<path d="M85.32 247.19L87.09 241.72A166.63 166.63 0 0 0 70.25 237.21L69.05 242.83A160.89 160.89 0 0 1 85.32 247.19Z" fill="#fddea0" stroke="#fddea0" stroke-width="0.9"/>
<path d="M87.09 241.72L88.87 236.26A172.38 172.38 0 0 0 71.44 231.59L70.25 237.21A166.63 166.63 0 0 1 87.09 241.72Z" fill="#fddea0" stroke="#fddea0" stroke-width="0.9"/>
<path d="M46.35 349.62L47.55 344A57.46 57.46 0 0 0 41.61 343.05L41.01 348.77A51.71 51.71 0 0 1 46.35 349.62Z" fill="#f4675c" stroke="#f4675c" stroke-width="0.9"/>
<path d="M47.55 344L48.74 338.38A63.21 63.21 0 0 0 42.21 337.34L41.61 343.05A57.46 57.46 0 0 1 47.55 344Z" fill="#fb835f" stroke="#fb835f" stroke-width="0.9"/>
<path d="M48.74 338.38L49.94 332.75A68.95 68.95 0 0 0 42.81 331.63L42.21 337.34A63.21 63.21 0 0 1 48.74 338.38Z" fill="#f7705c" stroke="#f7705c" stroke-width="0.9"/>
<path d="M49.94 332.75L51.13 327.13A74.7 74.7 0 0 0 43.41 325.91L42.81 331.63A68.95 68.95 0 0 1 49.94 332.75Z" fill="#ea5661" stroke="#ea5661" stroke-width="0.9"/>
<path d="M51.13 327.13L52.33 321.51A80.44 80.44 0 0 0 44.01 320.2L43.41 325.91A74.7 74.7 0 0 1 51.13 327.13Z" fill="#d6456c" stroke="#d6456c" stroke-width="0.9"/>
<path d="M52.33 321.51L53.52 315.89A86.19 86.19 0 0 0 44.61 314.48L44.01 320.2A80.44 80.44 0 0 1 52.33 321.51Z" fill="#842681" stroke="#842681" stroke-width="0.9"/>
<path d="M53.52 315.89L54.71 310.27A91.94 91.94 0 0 0 45.21 308.77L44.61 314.48A86.19 86.19 0 0 1 53.52 315.89Z" fill="#bf3a77" stroke="#bf3a77" stroke-width="0.9"/>
<path d="M54.71 310.27L55.91 304.65A97.68 97.68 0 0 0 45.81 303.05L45.21 308.77A91.94 91.94 0 0 1 54.71 310.27Z" fill="#ea5661" stroke="#ea5661" stroke-width="0.9"/>
<path d="M55.91 304.65L57.1 299.03A103.43 103.43 0 0 0 46.41 297.34L45.81 303.05A97.68 97.68 0 0 1 55.91 304.65Z" fill="#f2625d" stroke="#f2625d" stroke-width="0.9"/>
<path d="M57.1 299.03L58.3 293.41A109.17 109.17 0 0 0 47.01 291.62L46.41 297.34A103.43 103.43 0 0 1 57.1 299.03Z" fill="#fb835f" stroke="#fb835f" stroke-width="0.9"/>
<path d="M58.3 293.41L59.49 287.79A114.92 114.92 0 0 0 47.61 285.91L47.01 291.62A109.17 109.17 0 0 1 58.3 293.41Z" fill="#feae77" stroke="#feae77" stroke-width="0.9"/>
<path d="M59.49 287.79L60.69 282.17A120.67 120.67 0 0 0 48.21 280.2L47.61 285.91A114.92 114.92 0 0 1 59.49 287.79Z" fill="#feae77" stroke="#feae77" stroke-width="0.9"/>
<path d="M60.69 282.17L61.88 276.55A126.41 126.41 0 0 0 48.81 274.48L48.21 280.2A120.67 120.67 0 0 1 60.69 282.17Z" fill="#feae77" stroke="#feae77" stroke-width="0.9"/>
<path d="M61.88 276.55L63.08 270.93A132.16 132.16 0 0 0 49.41 268.77L48.81 274.48A126.41 126.41 0 0 1 61.88 276.55Z" fill="#feca8d" stroke="#feca8d" stroke-width="0.9"/>
<path d="M63.08 270.93L64.27 265.31A137.9 137.9 0 0 0 50.01 263.05L49.41 268.77A132.16 132.16 0 0 1 63.08 270.93Z" fill="#fec185" stroke="#fec185" stroke-width="0.9"/>
<path d="M64.27 265.31L65.47 259.69A143.65 143.65 0 0 0 50.62 257.34L50.01 263.05A137.9 137.9 0 0 1 64.27 265.31Z" fill="#fed395" stroke="#fed395" stroke-width="0.9"/>
<path d="M65.47 259.69L66.66 254.07A149.4 149.4 0 0 0 51.22 251.62L50.62 257.34A143.65 143.65 0 0 1 65.47 259.69Z" fill="#feca8d" stroke="#feca8d" stroke-width="0.9"/>
<path d="M66.66 254.07L67.86 248.45A155.14 155.14 0 0 0 51.82 245.91L51.22 251.62A149.4 149.4 0 0 1 66.66 254.07Z" fill="#fed395" stroke="#fed395" stroke-width="0.9"/>
<path d="M67.86 248.45L69.05 242.83A160.89 160.89 0 0 0 52.42 240.19L51.82 245.91A155.14 155.14 0 0 1 67.86 248.45Z" fill="#fddea0" stroke="#fddea0" stroke-width="0.9"/>
<path d="M69.05 242.83L70.25 237.21A166.63 166.63 0 0 0 53.02 234.48L52.42 240.19A160.89 160.89 0 0 1 69.05 242.83Z" fill="#fed395" stroke="#fed395" stroke-width="0.9"/>
<path d="M70.25 237.21L71.44 231.59A172.38 172.38 0 0 0 53.62 228.76L53.02 234.48A166.63 166.63 0 0 1 70.25 237.21Z" fill="#fddea0" stroke="#fddea0" stroke-width="0.9"/>
<path d="M41.01 348.77L41.61 343.05A57.46 57.46 0 0 0 35.6 342.74L35.6 348.49A51.71 51.71 0 0 1 41.01 348.77Z" fill="#ef5d5e" stroke="#ef5d5e" stroke-width="0.9"/>
<path d="M41.61 343.05L42.21 337.34A63.21 63.21 0 0 0 35.6 336.99L35.6 342.74A57.46 57.46 0 0 1 41.61 343.05Z" fill="#f4675c" stroke="#f4675c" stroke-width="0.9"/>
<path d="M42.21 337.34L42.81 331.63A68.95 68.95 0 0 0 35.6 331.25L35.6 336.99A63.21 63.21 0 0 1 42.21 337.34Z" fill="#f9795d" stroke="#f9795d" stroke-width="0.9"/>
<path d="M42.81 331.63L43.41 325.91A74.7 74.7 0 0 0 35.6 325.5L35.6 331.25A68.95 68.95 0 0 1 42.81 331.63Z" fill="#f7705c" stroke="#f7705c" stroke-width="0.9"/>
<path d="M43.41 325.91L44.01 320.2A80.44 80.44 0 0 0 35.6 319.76L35.6 325.5A74.7 74.7 0 0 1 43.41 325.91Z" fill="#b73779" stroke="#b73779" stroke-width="0.9"/>
<path d="M44.01 320.2L44.61 314.48A86.19 86.19 0 0 0 35.6 314.01L35.6 319.76A80.44 80.44 0 0 1 44.01 320.2Z" fill="#02020b" stroke="#02020b" stroke-width="0.9"/>
<path d="M44.61 314.48L45.21 308.77A91.94 91.94 0 0 0 35.6 308.26L35.6 314.01A86.19 86.19 0 0 1 44.61 314.48Z" fill="#02020b" stroke="#02020b" stroke-width="0.9"/>
<path d="M45.21 308.77L45.81 303.05A97.68 97.68 0 0 0 35.6 302.52L35.6 308.26A91.94 91.94 0 0 1 45.21 308.77Z" fill="#d6456c" stroke="#d6456c" stroke-width="0.9"/>
<path d="M45.81 303.05L46.41 297.34A103.43 103.43 0 0 0 35.6 296.77L35.6 302.52A97.68 97.68 0 0 1 45.81 303.05Z" fill="#db476a" stroke="#db476a" stroke-width="0.9"/>
<path d="M46.41 297.34L47.01 291.62A109.17 109.17 0 0 0 35.6 291.03L35.6 296.77A103.43 103.43 0 0 1 46.41 297.34Z" fill="#ef5d5e" stroke="#ef5d5e" stroke-width="0.9"/>
<path d="M47.01 291.62L47.61 285.91A114.92 114.92 0 0 0 35.6 285.28L35.6 291.03A109.17 109.17 0 0 1 47.01 291.62Z" fill="#fb835f" stroke="#fb835f" stroke-width="0.9"/>
<path d="M47.61 285.91L48.21 280.2A120.67 120.67 0 0 0 35.6 279.53L35.6 285.28A114.92 114.92 0 0 1 47.61 285.91Z" fill="#fd9668" stroke="#fd9668" stroke-width="0.9"/>
<path d="M48.21 280.2L48.81 274.48A126.41 126.41 0 0 0 35.6 273.79L35.6 279.53A120.67 120.67 0 0 1 48.21 280.2Z" fill="#feb77e" stroke="#feb77e" stroke-width="0.9"/>
<path d="M48.81 274.48L49.41 268.77A132.16 132.16 0 0 0 35.6 268.04L35.6 273.79A126.41 126.41 0 0 1 48.81 274.48Z" fill="#fec185" stroke="#fec185" stroke-width="0.9"/>
<path d="M49.41 268.77L50.01 263.05A137.9 137.9 0 0 0 35.6 262.3L35.6 268.04A132.16 132.16 0 0 1 49.41 268.77Z" fill="#fed395" stroke="#fed395" stroke-width="0.9"/>
<path d="M50.01 263.05L50.62 257.34A143.65 143.65 0 0 0 35.6 256.55L35.6 262.3A137.9 137.9 0 0 1 50.01 263.05Z" fill="#feca8d" stroke="#feca8d" stroke-width="0.9"/>
<path d="M50.62 257.34L51.22 251.62A149.4 149.4 0 0 0 35.6 250.8L35.6 256.55A143.65 143.65 0 0 1 50.62 257.34Z" fill="#feca8d" stroke="#feca8d" stroke-width="0.9"/>
<path d="M51.22 251.62L51.82 245.91A155.14 155.14 0 0 0 35.6 245.06L35.6 250.8A149.4 149.4 0 0 1 51.22 251.62Z" fill="#fddea0" stroke="#fddea0" stroke-width="0.9"/>
<path d="M51.82 245.91L52.42 240.19A160.89 160.89 0 0 0 35.6 239.31L35.6 245.06A155.14 155.14 0 0 1 51.82 245.91Z" fill="#fcf0b2" stroke="#fcf0b2" stroke-width="0.9"/>
<path d="M52.42 240.19L53.02 234.48A166.63 166.63 0 0 0 35.6 233.57L35.6 239.31A160.89 160.89 0 0 1 52.42 240.19Z" fill="#fddea0" stroke="#fddea0" stroke-width="0.9"/>
<path d="M53.02 234.48L53.62 228.76A172.38 172.38 0 0 0 35.6 227.82L35.6 233.57A166.63 166.63 0 0 1 53.02 234.48Z" fill="#fed395" stroke="#fed395" stroke-width="0.9"/>
</g>
<path d="M35.6 227.82V400.2M35.1 400.2H207.98" stroke="#7a7a7a" stroke-width="1" fill="none"/>
<path d="M207.98 400.2A172.38 172.38 0 0 0 35.6 227.82" stroke="#222" stroke-width="0.8" fill="none"/>
<line x1="205.36" y1="370.27" x2="200.83" y2="371.07" stroke="#111" stroke-width="1.3"/>
<line x1="197.58" y1="341.24" x2="193.26" y2="342.82" stroke="#111" stroke-width="1.3"/>
<line x1="184.89" y1="314.01" x2="180.9" y2="316.31" stroke="#111" stroke-width="1.3"/>
<line x1="167.65" y1="289.4" x2="164.13" y2="292.35" stroke="#111" stroke-width="1.3"/>
<line x1="146.4" y1="268.15" x2="143.45" y2="271.67" stroke="#111" stroke-width="1.3"/>
<line x1="121.79" y1="250.91" x2="119.49" y2="254.9" stroke="#111" stroke-width="1.3"/>
<line x1="94.56" y1="238.22" x2="92.98" y2="242.54" stroke="#111" stroke-width="1.3"/>
<line x1="65.53" y1="230.44" x2="64.73" y2="234.97" stroke="#111" stroke-width="1.3"/>
<text x="218.1" y="403.2" font-size="8.4" text-anchor="middle" textLength="8.4" lengthAdjust="spacingAndGlyphs" fill="#222">0°</text>
<text x="207.09" y="340.78" font-size="8.4" text-anchor="middle" textLength="13.6" lengthAdjust="spacingAndGlyphs" fill="#222">20°</text>
<text x="175.4" y="285.89" font-size="8.4" text-anchor="middle" textLength="13.6" lengthAdjust="spacingAndGlyphs" fill="#222">40°</text>
<text x="126.85" y="245.15" font-size="8.4" text-anchor="middle" textLength="13.6" lengthAdjust="spacingAndGlyphs" fill="#222">60°</text>
<text x="67.29" y="223.47" font-size="8.4" text-anchor="middle" textLength="13.6" lengthAdjust="spacingAndGlyphs" fill="#222">80°</text>
<line x1="64.33" y1="398.2" x2="64.33" y2="402.2" stroke="#111" stroke-width="1"/>
<text x="64.33" y="409.8" font-size="8.2" text-anchor="middle" textLength="5.1" lengthAdjust="spacingAndGlyphs" fill="#222">1</text>
<line x1="33.6" y1="371.47" x2="37.6" y2="371.47" stroke="#111" stroke-width="1"/>
<text x="31.1" y="374.37" font-size="8.2" text-anchor="end" textLength="5.1" lengthAdjust="spacingAndGlyphs" fill="#222">1</text>
<line x1="93.06" y1="398.2" x2="93.06" y2="402.2" stroke="#111" stroke-width="1"/>
<text x="93.06" y="409.8" font-size="8.2" text-anchor="middle" textLength="5.1" lengthAdjust="spacingAndGlyphs" fill="#222">2</text>
<line x1="33.6" y1="342.74" x2="37.6" y2="342.74" stroke="#111" stroke-width="1"/>
<text x="31.1" y="345.64" font-size="8.2" text-anchor="end" textLength="5.1" lengthAdjust="spacingAndGlyphs" fill="#222">2</text>
<line x1="121.79" y1="398.2" x2="121.79" y2="402.2" stroke="#111" stroke-width="1"/>
<text x="121.79" y="409.8" font-size="8.2" text-anchor="middle" textLength="5.1" lengthAdjust="spacingAndGlyphs" fill="#222">3</text>
<line x1="33.6" y1="314.01" x2="37.6" y2="314.01" stroke="#111" stroke-width="1"/>
<text x="31.1" y="316.91" font-size="8.2" text-anchor="end" textLength="5.1" lengthAdjust="spacingAndGlyphs" fill="#222">3</text>
<line x1="150.52" y1="398.2" x2="150.52" y2="402.2" stroke="#111" stroke-width="1"/>
<text x="150.52" y="409.8" font-size="8.2" text-anchor="middle" textLength="5.1" lengthAdjust="spacingAndGlyphs" fill="#222">4</text>
<line x1="33.6" y1="285.28" x2="37.6" y2="285.28" stroke="#111" stroke-width="1"/>
<text x="31.1" y="288.18" font-size="8.2" text-anchor="end" textLength="5.1" lengthAdjust="spacingAndGlyphs" fill="#222">4</text>
<line x1="179.25" y1="398.2" x2="179.25" y2="402.2" stroke="#111" stroke-width="1"/>
<text x="179.25" y="409.8" font-size="8.2" text-anchor="middle" textLength="5.1" lengthAdjust="spacingAndGlyphs" fill="#222">5</text>
<line x1="33.6" y1="256.55" x2="37.6" y2="256.55" stroke="#111" stroke-width="1"/>
<text x="31.1" y="259.45" font-size="8.2" text-anchor="end" textLength="5.1" lengthAdjust="spacingAndGlyphs" fill="#222">5</text>
<text x="121.79" y="418.2" font-size="11" text-anchor="middle" textLength="28.5" lengthAdjust="spacingAndGlyphs" fill="#222"><tspan font-style="italic">ℓ</tspan>(<tspan font-style="italic">µ</tspan>m)</text>
<text transform="translate(24 314.81) rotate(-90)" font-size="11" text-anchor="middle" textLength="28" lengthAdjust="spacingAndGlyphs" fill="#222"><tspan font-style="italic">ℓ</tspan>(<tspan font-style="italic">µ</tspan>m)</text>
<text x="2.6" y="11.8" font-size="14.5" font-weight="bold" fill="#000">a</text>
<text x="273.6" y="12" font-size="14.5" font-weight="bold" fill="#000">b</text>
<text x="527.6" y="12" font-size="14.5" font-weight="bold" fill="#000">c</text>
<text x="1.6" y="212.9" font-size="14.5" font-weight="bold" fill="#000">d</text>
<text x="273.6" y="213.2" font-size="14.5" font-weight="bold" fill="#000">e</text>
<text x="526.6" y="212.8" font-size="14.5" font-weight="bold" fill="#000">f</text>
<defs><linearGradient id="cb" x1="0" y1="0" x2="0" y2="1"><stop offset="0" stop-color="#fcfdbf"/><stop offset="0.05" stop-color="#fde7a9"/><stop offset="0.1" stop-color="#fecf92"/><stop offset="0.15" stop-color="#feb77e"/><stop offset="0.2" stop-color="#fe9f6d"/><stop offset="0.25" stop-color="#fc8961"/><stop offset="0.3" stop-color="#f7705c"/><stop offset="0.35" stop-color="#ed5a5f"/><stop offset="0.4" stop-color="#de4968"/><stop offset="0.45" stop-color="#ca3e72"/><stop offset="0.5" stop-color="#b73779"/><stop offset="0.55" stop-color="#a1307e"/><stop offset="0.6" stop-color="#8c2981"/><stop offset="0.65" stop-color="#782281"/><stop offset="0.7" stop-color="#641a80"/><stop offset="0.75" stop-color="#51127c"/><stop offset="0.8" stop-color="#3b0f70"/><stop offset="0.85" stop-color="#251255"/><stop offset="0.9" stop-color="#140e36"/><stop offset="0.95" stop-color="#06051a"/><stop offset="1" stop-color="#000004"/></linearGradient></defs>
<rect x="219.8" y="228.6" width="9" height="172.1" fill="url(#cb)" stroke="#555" stroke-width="0.6"/>
<line x1="228.8" y1="228.6" x2="232" y2="228.6" stroke="#222" stroke-width="0.8"/>
<text x="232.6" y="232.3" font-size="10.4" textLength="15.7" lengthAdjust="spacingAndGlyphs" fill="#222">0.5</text>
<line x1="228.8" y1="258.5" x2="232" y2="258.5" stroke="#222" stroke-width="0.8"/>
<text x="232.6" y="262.2" font-size="10.4" textLength="24.7" lengthAdjust="spacingAndGlyphs" fill="#222">−1.0</text>
<line x1="228.8" y1="292" x2="232" y2="292" stroke="#222" stroke-width="0.8"/>
<text x="232.6" y="295.7" font-size="10.4" textLength="24.7" lengthAdjust="spacingAndGlyphs" fill="#222">−2.0</text>
<line x1="228.8" y1="400.7" x2="232" y2="400.7" stroke="#222" stroke-width="0.8"/>
<text x="232.6" y="404.4" font-size="10.4" textLength="24.7" lengthAdjust="spacingAndGlyphs" fill="#222">−2.7</text>
<text transform="translate(267.5 314) rotate(-90)" font-size="10.4" text-anchor="middle" textLength="33.5" lengthAdjust="spacingAndGlyphs" fill="#222">u / k<tspan font-size="7" dy="2" font-style="italic">B</tspan><tspan dy="-2">T</tspan></text>
<g>
<line x1="314.3" y1="215.2" x2="314.3" y2="393.8" stroke="#c9c9c9" stroke-width="0.9"/>
<line x1="352.15" y1="215.2" x2="352.15" y2="393.8" stroke="#c9c9c9" stroke-width="0.9"/>
<line x1="390" y1="215.2" x2="390" y2="393.8" stroke="#c9c9c9" stroke-width="0.9"/>
<line x1="427.85" y1="215.2" x2="427.85" y2="393.8" stroke="#c9c9c9" stroke-width="0.9"/>
<line x1="465.7" y1="215.2" x2="465.7" y2="393.8" stroke="#c9c9c9" stroke-width="0.9"/>
<line x1="503.55" y1="215.2" x2="503.55" y2="393.8" stroke="#c9c9c9" stroke-width="0.9"/>
<line x1="303.6" y1="372.91" x2="503.4" y2="372.91" stroke="#c9c9c9" stroke-width="0.9"/>
<line x1="303.6" y1="346.54" x2="503.4" y2="346.54" stroke="#c9c9c9" stroke-width="0.9"/>
<line x1="303.6" y1="320.17" x2="503.4" y2="320.17" stroke="#c9c9c9" stroke-width="0.9"/>
<line x1="303.6" y1="293.8" x2="503.4" y2="293.8" stroke="#c9c9c9" stroke-width="0.9"/>
<line x1="303.6" y1="267.43" x2="503.4" y2="267.43" stroke="#c9c9c9" stroke-width="0.9"/>
</g>
<g>
<line x1="348.37" y1="347.39" x2="348.37" y2="349.39" stroke="#72b94f" stroke-width="0.9"/>
<circle cx="348.37" cy="348.39" r="2.3" fill="none" stroke="#72b94f" stroke-width="0.9"/>
<line x1="355.94" y1="359.25" x2="355.94" y2="361.25" stroke="#72b94f" stroke-width="0.9"/>
<circle cx="355.94" cy="360.25" r="2.3" fill="none" stroke="#72b94f" stroke-width="0.9"/>
<line x1="363.5" y1="343.69" x2="363.5" y2="345.69" stroke="#72b94f" stroke-width="0.9"/>
<circle cx="363.5" cy="344.69" r="2.3" fill="none" stroke="#72b94f" stroke-width="0.9"/>
<line x1="371.08" y1="335.78" x2="371.08" y2="337.78" stroke="#72b94f" stroke-width="0.9"/>
<circle cx="371.08" cy="336.78" r="2.3" fill="none" stroke="#72b94f" stroke-width="0.9"/>
<line x1="378.65" y1="335.78" x2="378.65" y2="337.78" stroke="#72b94f" stroke-width="0.9"/>
<circle cx="378.65" cy="336.78" r="2.3" fill="none" stroke="#72b94f" stroke-width="0.9"/>
<line x1="386.22" y1="336.05" x2="386.22" y2="338.05" stroke="#72b94f" stroke-width="0.9"/>
<circle cx="386.22" cy="337.05" r="2.3" fill="none" stroke="#72b94f" stroke-width="0.9"/>
<line x1="393.79" y1="336.05" x2="393.79" y2="338.05" stroke="#72b94f" stroke-width="0.9"/>
<circle cx="393.79" cy="337.05" r="2.3" fill="none" stroke="#72b94f" stroke-width="0.9"/>
<line x1="401.36" y1="315.21" x2="401.36" y2="317.21" stroke="#72b94f" stroke-width="0.9"/>
<circle cx="401.36" cy="316.21" r="2.3" fill="none" stroke="#72b94f" stroke-width="0.9"/>
<line x1="408.93" y1="323.92" x2="408.93" y2="325.92" stroke="#72b94f" stroke-width="0.9"/>
<circle cx="408.93" cy="324.92" r="2.3" fill="none" stroke="#72b94f" stroke-width="0.9"/>
<line x1="416.5" y1="328.66" x2="416.5" y2="330.66" stroke="#72b94f" stroke-width="0.9"/>
<circle cx="416.5" cy="329.66" r="2.3" fill="none" stroke="#72b94f" stroke-width="0.9"/>
<line x1="424.06" y1="330.25" x2="424.06" y2="332.25" stroke="#72b94f" stroke-width="0.9"/>
<circle cx="424.06" cy="331.25" r="2.3" fill="none" stroke="#72b94f" stroke-width="0.9"/>
<line x1="431.63" y1="338.42" x2="431.63" y2="340.42" stroke="#72b94f" stroke-width="0.9"/>
<circle cx="431.63" cy="339.42" r="2.3" fill="none" stroke="#72b94f" stroke-width="0.9"/>
<line x1="439.21" y1="331.3" x2="439.21" y2="333.3" stroke="#72b94f" stroke-width="0.9"/>
<circle cx="439.21" cy="332.3" r="2.3" fill="none" stroke="#72b94f" stroke-width="0.9"/>
<line x1="446.77" y1="320.75" x2="446.77" y2="322.75" stroke="#72b94f" stroke-width="0.9"/>
<circle cx="446.77" cy="321.75" r="2.3" fill="none" stroke="#72b94f" stroke-width="0.9"/>
<line x1="454.35" y1="323.65" x2="454.35" y2="325.65" stroke="#72b94f" stroke-width="0.9"/>
<circle cx="454.35" cy="324.65" r="2.3" fill="none" stroke="#72b94f" stroke-width="0.9"/>
<line x1="461.92" y1="317.06" x2="461.92" y2="319.06" stroke="#72b94f" stroke-width="0.9"/>
<circle cx="461.92" cy="318.06" r="2.3" fill="none" stroke="#72b94f" stroke-width="0.9"/>
<line x1="469.49" y1="318.64" x2="469.49" y2="320.64" stroke="#72b94f" stroke-width="0.9"/>
<circle cx="469.49" cy="319.64" r="2.3" fill="none" stroke="#72b94f" stroke-width="0.9"/>
<line x1="477.06" y1="309.41" x2="477.06" y2="311.41" stroke="#72b94f" stroke-width="0.9"/>
<circle cx="477.06" cy="310.41" r="2.3" fill="none" stroke="#72b94f" stroke-width="0.9"/>
<line x1="484.62" y1="296.76" x2="484.62" y2="298.76" stroke="#72b94f" stroke-width="0.9"/>
<circle cx="484.62" cy="297.76" r="2.3" fill="none" stroke="#72b94f" stroke-width="0.9"/>
<line x1="492.2" y1="302.29" x2="492.2" y2="304.29" stroke="#72b94f" stroke-width="0.9"/>
<circle cx="492.2" cy="303.29" r="2.3" fill="none" stroke="#72b94f" stroke-width="0.9"/>
<line x1="499.77" y1="309.41" x2="499.77" y2="311.41" stroke="#72b94f" stroke-width="0.9"/>
<circle cx="499.77" cy="310.41" r="2.3" fill="none" stroke="#72b94f" stroke-width="0.9"/>
<line x1="363.5" y1="329.72" x2="363.5" y2="331.72" stroke="#f6954c" stroke-width="0.9"/>
<path d="M363.5 327.42l3.3 3.3l-3.3 3.3l-3.3 -3.3z" fill="none" stroke="#f6954c" stroke-width="0.9"/>
<line x1="371.08" y1="325.5" x2="371.08" y2="327.5" stroke="#f6954c" stroke-width="0.9"/>
<path d="M371.08 323.2l3.3 3.3l-3.3 3.3l-3.3 -3.3z" fill="none" stroke="#f6954c" stroke-width="0.9"/>
<line x1="378.65" y1="329.72" x2="378.65" y2="331.72" stroke="#f6954c" stroke-width="0.9"/>
<path d="M378.65 327.42l3.3 3.3l-3.3 3.3l-3.3 -3.3z" fill="none" stroke="#f6954c" stroke-width="0.9"/>
<line x1="386.22" y1="319.96" x2="386.22" y2="321.96" stroke="#f6954c" stroke-width="0.9"/>
<path d="M386.22 317.66l3.3 3.3l-3.3 3.3l-3.3 -3.3z" fill="none" stroke="#f6954c" stroke-width="0.9"/>
<line x1="393.79" y1="323.65" x2="393.79" y2="325.65" stroke="#f6954c" stroke-width="0.9"/>
<path d="M393.79 321.35l3.3 3.3l-3.3 3.3l-3.3 -3.3z" fill="none" stroke="#f6954c" stroke-width="0.9"/>
<line x1="401.36" y1="323.65" x2="401.36" y2="325.65" stroke="#f6954c" stroke-width="0.9"/>
<path d="M401.36 321.35l3.3 3.3l-3.3 3.3l-3.3 -3.3z" fill="none" stroke="#f6954c" stroke-width="0.9"/>
<line x1="408.93" y1="333.67" x2="408.93" y2="335.67" stroke="#f6954c" stroke-width="0.9"/>
<path d="M408.93 331.37l3.3 3.3l-3.3 3.3l-3.3 -3.3z" fill="none" stroke="#f6954c" stroke-width="0.9"/>
<line x1="416.5" y1="332.36" x2="416.5" y2="334.36" stroke="#f6954c" stroke-width="0.9"/>
<path d="M416.5 330.06l3.3 3.3l-3.3 3.3l-3.3 -3.3z" fill="none" stroke="#f6954c" stroke-width="0.9"/>
<line x1="424.06" y1="331.56" x2="424.06" y2="333.56" stroke="#f6954c" stroke-width="0.9"/>
<path d="M424.06 329.26l3.3 3.3l-3.3 3.3l-3.3 -3.3z" fill="none" stroke="#f6954c" stroke-width="0.9"/>
<line x1="431.63" y1="331.83" x2="431.63" y2="333.83" stroke="#f6954c" stroke-width="0.9"/>
<path d="M431.63 329.53l3.3 3.3l-3.3 3.3l-3.3 -3.3z" fill="none" stroke="#f6954c" stroke-width="0.9"/>
<line x1="439.21" y1="324.18" x2="439.21" y2="326.18" stroke="#f6954c" stroke-width="0.9"/>
<path d="M439.21 321.88l3.3 3.3l-3.3 3.3l-3.3 -3.3z" fill="none" stroke="#f6954c" stroke-width="0.9"/>
<line x1="446.77" y1="323.39" x2="446.77" y2="325.39" stroke="#f6954c" stroke-width="0.9"/>
<path d="M446.77 321.09l3.3 3.3l-3.3 3.3l-3.3 -3.3z" fill="none" stroke="#f6954c" stroke-width="0.9"/>
<line x1="454.35" y1="333.67" x2="454.35" y2="335.67" stroke="#f6954c" stroke-width="0.9"/>
<path d="M454.35 331.37l3.3 3.3l-3.3 3.3l-3.3 -3.3z" fill="none" stroke="#f6954c" stroke-width="0.9"/>
<line x1="461.92" y1="329.19" x2="461.92" y2="331.19" stroke="#f6954c" stroke-width="0.9"/>
<path d="M461.92 326.89l3.3 3.3l-3.3 3.3l-3.3 -3.3z" fill="none" stroke="#f6954c" stroke-width="0.9"/>
<line x1="469.49" y1="307.3" x2="469.49" y2="309.3" stroke="#f6954c" stroke-width="0.9"/>
<path d="M469.49 305l3.3 3.3l-3.3 3.3l-3.3 -3.3z" fill="none" stroke="#f6954c" stroke-width="0.9"/>
<line x1="477.06" y1="318.38" x2="477.06" y2="320.38" stroke="#f6954c" stroke-width="0.9"/>
<path d="M477.06 316.08l3.3 3.3l-3.3 3.3l-3.3 -3.3z" fill="none" stroke="#f6954c" stroke-width="0.9"/>
<line x1="484.62" y1="311.79" x2="484.62" y2="313.79" stroke="#f6954c" stroke-width="0.9"/>
<path d="M484.62 309.49l3.3 3.3l-3.3 3.3l-3.3 -3.3z" fill="none" stroke="#f6954c" stroke-width="0.9"/>
<line x1="492.2" y1="306.51" x2="492.2" y2="308.51" stroke="#f6954c" stroke-width="0.9"/>
<path d="M492.2 304.21l3.3 3.3l-3.3 3.3l-3.3 -3.3z" fill="none" stroke="#f6954c" stroke-width="0.9"/>
<line x1="499.77" y1="303.88" x2="499.77" y2="305.88" stroke="#f6954c" stroke-width="0.9"/>
<path d="M499.77 301.58l3.3 3.3l-3.3 3.3l-3.3 -3.3z" fill="none" stroke="#f6954c" stroke-width="0.9"/>
<line x1="362.7" y1="315.77" x2="362.7" y2="318.77" stroke="#e27ac4" stroke-width="0.7"/>
<line x1="364.31" y1="315.77" x2="364.31" y2="318.77" stroke="#e27ac4" stroke-width="0.7"/>
<rect x="361" y="314.77" width="5.0" height="5.0" fill="none" stroke="#e27ac4" stroke-width="0.9"/>
<line x1="370.28" y1="335.28" x2="370.28" y2="338.28" stroke="#e27ac4" stroke-width="0.7"/>
<line x1="371.88" y1="335.28" x2="371.88" y2="338.28" stroke="#e27ac4" stroke-width="0.7"/>
<rect x="368.58" y="334.28" width="5.0" height="5.0" fill="none" stroke="#e27ac4" stroke-width="0.9"/>
<line x1="377.85" y1="335.02" x2="377.85" y2="338.02" stroke="#e27ac4" stroke-width="0.7"/>
<line x1="379.45" y1="335.02" x2="379.45" y2="338.02" stroke="#e27ac4" stroke-width="0.7"/>
<rect x="376.15" y="334.02" width="5.0" height="5.0" fill="none" stroke="#e27ac4" stroke-width="0.9"/>
<line x1="385.42" y1="345.04" x2="385.42" y2="348.04" stroke="#e27ac4" stroke-width="0.7"/>
<line x1="387.02" y1="345.04" x2="387.02" y2="348.04" stroke="#e27ac4" stroke-width="0.7"/>
<rect x="383.72" y="344.04" width="5.0" height="5.0" fill="none" stroke="#e27ac4" stroke-width="0.9"/>
<line x1="392.99" y1="344.51" x2="392.99" y2="347.51" stroke="#e27ac4" stroke-width="0.7"/>
<line x1="394.59" y1="344.51" x2="394.59" y2="347.51" stroke="#e27ac4" stroke-width="0.7"/>
<rect x="391.29" y="343.51" width="5.0" height="5.0" fill="none" stroke="#e27ac4" stroke-width="0.9"/>
<line x1="400.56" y1="346.89" x2="400.56" y2="349.89" stroke="#e27ac4" stroke-width="0.7"/>
<line x1="402.16" y1="346.89" x2="402.16" y2="349.89" stroke="#e27ac4" stroke-width="0.7"/>
<rect x="398.86" y="345.89" width="5.0" height="5.0" fill="none" stroke="#e27ac4" stroke-width="0.9"/>
<line x1="408.12" y1="343.72" x2="408.12" y2="346.72" stroke="#e27ac4" stroke-width="0.7"/>
<line x1="409.73" y1="343.72" x2="409.73" y2="346.72" stroke="#e27ac4" stroke-width="0.7"/>
<rect x="406.43" y="342.72" width="5.0" height="5.0" fill="none" stroke="#e27ac4" stroke-width="0.9"/>
<line x1="415.69" y1="340.56" x2="415.69" y2="343.56" stroke="#e27ac4" stroke-width="0.7"/>
<line x1="417.3" y1="340.56" x2="417.3" y2="343.56" stroke="#e27ac4" stroke-width="0.7"/>
<rect x="414" y="339.56" width="5.0" height="5.0" fill="none" stroke="#e27ac4" stroke-width="0.9"/>
<line x1="423.26" y1="337.39" x2="423.26" y2="340.39" stroke="#e27ac4" stroke-width="0.7"/>
<line x1="424.87" y1="337.39" x2="424.87" y2="340.39" stroke="#e27ac4" stroke-width="0.7"/>
<rect x="421.56" y="336.39" width="5.0" height="5.0" fill="none" stroke="#e27ac4" stroke-width="0.9"/>
<line x1="430.83" y1="320.78" x2="430.83" y2="323.78" stroke="#e27ac4" stroke-width="0.7"/>
<line x1="432.44" y1="320.78" x2="432.44" y2="323.78" stroke="#e27ac4" stroke-width="0.7"/>
<rect x="429.13" y="319.78" width="5.0" height="5.0" fill="none" stroke="#e27ac4" stroke-width="0.9"/>
<line x1="438.41" y1="317.35" x2="438.41" y2="320.35" stroke="#e27ac4" stroke-width="0.7"/>
<line x1="440.01" y1="317.35" x2="440.01" y2="320.35" stroke="#e27ac4" stroke-width="0.7"/>
<rect x="436.71" y="316.35" width="5.0" height="5.0" fill="none" stroke="#e27ac4" stroke-width="0.9"/>
<line x1="445.97" y1="327.11" x2="445.97" y2="330.11" stroke="#e27ac4" stroke-width="0.7"/>
<line x1="447.57" y1="327.11" x2="447.57" y2="330.11" stroke="#e27ac4" stroke-width="0.7"/>
<rect x="444.27" y="326.11" width="5.0" height="5.0" fill="none" stroke="#e27ac4" stroke-width="0.9"/>
<line x1="453.55" y1="308.39" x2="453.55" y2="311.39" stroke="#e27ac4" stroke-width="0.7"/>
<line x1="455.15" y1="308.39" x2="455.15" y2="311.39" stroke="#e27ac4" stroke-width="0.7"/>
<rect x="451.85" y="307.39" width="5.0" height="5.0" fill="none" stroke="#e27ac4" stroke-width="0.9"/>
<line x1="461.12" y1="305.22" x2="461.12" y2="308.22" stroke="#e27ac4" stroke-width="0.7"/>
<line x1="462.72" y1="305.22" x2="462.72" y2="308.22" stroke="#e27ac4" stroke-width="0.7"/>
<rect x="459.42" y="304.22" width="5.0" height="5.0" fill="none" stroke="#e27ac4" stroke-width="0.9"/>
<line x1="468.69" y1="322.36" x2="468.69" y2="325.36" stroke="#e27ac4" stroke-width="0.7"/>
<line x1="470.29" y1="322.36" x2="470.29" y2="325.36" stroke="#e27ac4" stroke-width="0.7"/>
<rect x="466.99" y="321.36" width="5.0" height="5.0" fill="none" stroke="#e27ac4" stroke-width="0.9"/>
<line x1="476.25" y1="309.7" x2="476.25" y2="312.7" stroke="#e27ac4" stroke-width="0.7"/>
<line x1="477.86" y1="309.7" x2="477.86" y2="312.7" stroke="#e27ac4" stroke-width="0.7"/>
<rect x="474.56" y="308.7" width="5.0" height="5.0" fill="none" stroke="#e27ac4" stroke-width="0.9"/>
<line x1="483.82" y1="304.69" x2="483.82" y2="307.69" stroke="#e27ac4" stroke-width="0.7"/>
<line x1="485.43" y1="304.69" x2="485.43" y2="307.69" stroke="#e27ac4" stroke-width="0.7"/>
<rect x="482.12" y="303.69" width="5.0" height="5.0" fill="none" stroke="#e27ac4" stroke-width="0.9"/>
<line x1="491.4" y1="294.41" x2="491.4" y2="297.41" stroke="#e27ac4" stroke-width="0.7"/>
<line x1="493" y1="294.41" x2="493" y2="297.41" stroke="#e27ac4" stroke-width="0.7"/>
<rect x="489.7" y="293.41" width="5.0" height="5.0" fill="none" stroke="#e27ac4" stroke-width="0.9"/>
<line x1="498.97" y1="294.94" x2="498.97" y2="297.94" stroke="#e27ac4" stroke-width="0.7"/>
<line x1="500.57" y1="294.94" x2="500.57" y2="297.94" stroke="#e27ac4" stroke-width="0.7"/>
<rect x="497.27" y="293.94" width="5.0" height="5.0" fill="none" stroke="#e27ac4" stroke-width="0.9"/>
<path d="M360.81 347.7L362.29 346.21L363.5 347.43L364.72 346.21L366.2 347.7L364.99 348.91L366.2 350.13L364.72 351.61L363.5 350.4L362.29 351.61L360.81 350.13L362.02 348.91Z" fill="#a9c9e8" stroke="#2f7dbf" stroke-width="0.9"/>
<path d="M368.38 347.7L369.86 346.21L371.08 347.43L372.29 346.21L373.78 347.7L372.56 348.91L373.78 350.13L372.29 351.61L371.08 350.4L369.86 351.61L368.38 350.13L369.59 348.91Z" fill="#a9c9e8" stroke="#2f7dbf" stroke-width="0.9"/>
<path d="M375.95 357.98L377.43 356.5L378.65 357.71L379.86 356.5L381.35 357.98L380.13 359.2L381.35 360.41L379.86 361.9L378.65 360.68L377.43 361.9L375.95 360.41L377.16 359.2Z" fill="#a9c9e8" stroke="#2f7dbf" stroke-width="0.9"/>
<path d="M383.52 377.5L385 376.01L386.22 377.23L387.43 376.01L388.92 377.5L387.7 378.71L388.92 379.93L387.43 381.41L386.22 380.2L385 381.41L383.52 379.93L384.73 378.71Z" fill="#a9c9e8" stroke="#2f7dbf" stroke-width="0.9"/>
<path d="M391.09 383.83L392.57 382.34L393.79 383.56L395 382.34L396.49 383.83L395.27 385.04L396.49 386.26L395 387.74L393.79 386.53L392.57 387.74L391.09 386.26L392.3 385.04Z" fill="#a9c9e8" stroke="#2f7dbf" stroke-width="0.9"/>
<path d="M398.66 353.24L400.14 351.75L401.36 352.97L402.57 351.75L404.06 353.24L402.84 354.45L404.06 355.67L402.57 357.15L401.36 355.94L400.14 357.15L398.66 355.67L399.87 354.45Z" fill="#a9c9e8" stroke="#2f7dbf" stroke-width="0.9"/>
<path d="M406.23 348.49L407.71 347L408.93 348.22L410.14 347L411.62 348.49L410.41 349.7L411.62 350.92L410.14 352.4L408.93 351.19L407.71 352.4L406.23 350.92L407.44 349.7Z" fill="#a9c9e8" stroke="#2f7dbf" stroke-width="0.9"/>
<path d="M413.8 335.83L415.28 334.35L416.5 335.56L417.71 334.35L419.19 335.83L417.98 337.05L419.19 338.26L417.71 339.75L416.5 338.53L415.28 339.75L413.8 338.26L415.01 337.05Z" fill="#a9c9e8" stroke="#2f7dbf" stroke-width="0.9"/>
<path d="M421.37 328.71L422.85 327.23L424.06 328.44L425.28 327.23L426.76 328.71L425.55 329.93L426.76 331.14L425.28 332.63L424.06 331.41L422.85 332.63L421.37 331.14L422.58 329.93Z" fill="#a9c9e8" stroke="#2f7dbf" stroke-width="0.9"/>
<path d="M428.94 322.12L430.42 320.63L431.63 321.85L432.85 320.63L434.33 322.12L433.12 323.33L434.33 324.55L432.85 326.03L431.63 324.82L430.42 326.03L428.94 324.55L430.15 323.33Z" fill="#a9c9e8" stroke="#2f7dbf" stroke-width="0.9"/>
<path d="M436.51 318.69L437.99 317.21L439.21 318.42L440.42 317.21L441.91 318.69L440.69 319.91L441.91 321.12L440.42 322.61L439.21 321.39L437.99 322.61L436.51 321.12L437.72 319.91Z" fill="#a9c9e8" stroke="#2f7dbf" stroke-width="0.9"/>
<path d="M444.07 315L445.56 313.51L446.77 314.73L447.99 313.51L449.47 315L448.26 316.21L449.47 317.43L447.99 318.91L446.77 317.7L445.56 318.91L444.07 317.43L445.29 316.21Z" fill="#a9c9e8" stroke="#2f7dbf" stroke-width="0.9"/>
<path d="M451.65 312.89L453.13 311.4L454.35 312.62L455.56 311.4L457.05 312.89L455.83 314.1L457.05 315.32L455.56 316.8L454.35 315.59L453.13 316.8L451.65 315.32L452.86 314.1Z" fill="#a9c9e8" stroke="#2f7dbf" stroke-width="0.9"/>
<path d="M459.22 307.88L460.7 306.39L461.92 307.61L463.13 306.39L464.62 307.88L463.4 309.09L464.62 310.31L463.13 311.79L461.92 310.58L460.7 311.79L459.22 310.31L460.43 309.09Z" fill="#a9c9e8" stroke="#2f7dbf" stroke-width="0.9"/>
<path d="M466.79 317.9L468.27 316.42L469.49 317.63L470.7 316.42L472.19 317.9L470.97 319.12L472.19 320.33L470.7 321.82L469.49 320.6L468.27 321.82L466.79 320.33L468 319.12Z" fill="#a9c9e8" stroke="#2f7dbf" stroke-width="0.9"/>
<path d="M474.36 313.94L475.84 312.46L477.06 313.67L478.27 312.46L479.75 313.94L478.54 315.16L479.75 316.37L478.27 317.86L477.06 316.64L475.84 317.86L474.36 316.37L475.57 315.16Z" fill="#a9c9e8" stroke="#2f7dbf" stroke-width="0.9"/>
<path d="M481.93 291.79L483.41 290.31L484.62 291.52L485.84 290.31L487.32 291.79L486.11 293.01L487.32 294.22L485.84 295.71L484.62 294.49L483.41 295.71L481.93 294.22L483.14 293.01Z" fill="#a9c9e8" stroke="#2f7dbf" stroke-width="0.9"/>
<path d="M489.5 306.3L490.98 304.81L492.2 306.03L493.41 304.81L494.9 306.3L493.68 307.51L494.9 308.73L493.41 310.21L492.2 309L490.98 310.21L489.5 308.73L490.71 307.51Z" fill="#a9c9e8" stroke="#2f7dbf" stroke-width="0.9"/>
<path d="M497.07 299.7L498.55 298.22L499.77 299.43L500.98 298.22L502.47 299.7L501.25 300.92L502.47 302.13L500.98 303.62L499.77 302.4L498.55 303.62L497.07 302.13L498.28 300.92Z" fill="#a9c9e8" stroke="#2f7dbf" stroke-width="0.9"/>
</g>
<rect x="386" y="231" width="90" height="52" fill="#fff"/>
<defs><radialGradient id="sph" cx="0.62" cy="0.35" r="0.7"><stop offset="0" stop-color="#d6e6bc"/><stop offset="0.35" stop-color="#a2c477"/><stop offset="0.8" stop-color="#84aa58"/><stop offset="1" stop-color="#71984a"/></radialGradient></defs>
<circle cx="401.4" cy="242.1" r="7.9" fill="url(#sph)"/>
<circle cx="402.1" cy="269.6" r="7.9" fill="url(#sph)"/>
<circle cx="465.3" cy="256.4" r="7.9" fill="url(#sph)"/>
<line x1="401.6" y1="242.9" x2="401.6" y2="269.3" stroke="#6d6d6d" stroke-width="1.6"/>
<line x1="397.2" y1="242.9" x2="406" y2="242.9" stroke="#4a4a4a" stroke-width="1.3"/>
<line x1="397.2" y1="269.3" x2="406" y2="269.3" stroke="#4a4a4a" stroke-width="1.3"/>
<line x1="408" y1="256.1" x2="458" y2="256.1" stroke="#6f7399" stroke-width="2"/>
<path d="M402.6 256.1L411.5 251.8L411.5 260.4Z" fill="#6f7399"/>
<path d="M465 256.1L456.1 251.8L456.1 260.4Z" fill="#6f7399"/>
<text x="390.5" y="261" font-size="15.5" text-anchor="middle" fill="#111" stroke="#111" stroke-width="0.3">r</text>
<text x="435.6" y="252" font-size="18.5" text-anchor="middle" fill="#111" stroke="#111" stroke-width="0.5">ℓ</text>
<rect x="306.3" y="218.7" width="58.9" height="48" rx="2" fill="#fff" fill-opacity="0.85" stroke="#d5d5d5" stroke-width="0.8"/>
<line x1="316.7" y1="221.3" x2="316.7" y2="228.3" stroke="#72b94f" stroke-width="0.9"/>
<circle cx="316.7" cy="224.8" r="2.3" fill="none" stroke="#72b94f" stroke-width="0.9"/>
<text x="329.8" y="227.5" font-size="7.6" textLength="31" lengthAdjust="spacingAndGlyphs" fill="#222">r=1.8µm</text>
<line x1="316.7" y1="232.5" x2="316.7" y2="239.5" stroke="#f6954c" stroke-width="0.9"/>
<path d="M316.7 232.7l3.3 3.3l-3.3 3.3l-3.3 -3.3z" fill="none" stroke="#f6954c" stroke-width="0.9"/>
<text x="329.8" y="238.7" font-size="7.6" textLength="31" lengthAdjust="spacingAndGlyphs" fill="#222">r=2.2µm</text>
<line x1="316.7" y1="243.6" x2="316.7" y2="250.6" stroke="#e27ac4" stroke-width="0.9"/>
<rect x="314.2" y="244.6" width="5.0" height="5.0" fill="none" stroke="#e27ac4" stroke-width="0.9"/>
<text x="329.8" y="249.8" font-size="7.6" textLength="31" lengthAdjust="spacingAndGlyphs" fill="#222">r=2.6µm</text>
<line x1="316.7" y1="254.7" x2="316.7" y2="261.7" stroke="#2f7dbf" stroke-width="0.9"/>
<path d="M314 256.99L315.49 255.5L316.7 256.71L317.91 255.5L319.4 256.99L318.19 258.2L319.4 259.41L317.91 260.9L316.7 259.69L315.49 260.9L314 259.41L315.21 258.2Z" fill="#a9c9e8" stroke="#2f7dbf" stroke-width="0.9"/>
<text x="329.8" y="260.9" font-size="7.6" textLength="31" lengthAdjust="spacingAndGlyphs" fill="#222">r=3.0µm</text>
<rect x="303.6" y="215.2" width="199.8" height="178.6" fill="none" stroke="#333" stroke-width="0.9"/>
<line x1="314.3" y1="393.8" x2="314.3" y2="397.3" stroke="#333" stroke-width="0.9"/>
<text x="314.3" y="406.1" font-size="8.6" text-anchor="middle" textLength="5.4" lengthAdjust="spacingAndGlyphs" fill="#222">1</text>
<line x1="352.15" y1="393.8" x2="352.15" y2="397.3" stroke="#333" stroke-width="0.9"/>
<text x="352.15" y="406.1" font-size="8.6" text-anchor="middle" textLength="5.4" lengthAdjust="spacingAndGlyphs" fill="#222">2</text>
<line x1="390" y1="393.8" x2="390" y2="397.3" stroke="#333" stroke-width="0.9"/>
<text x="390" y="406.1" font-size="8.6" text-anchor="middle" textLength="5.4" lengthAdjust="spacingAndGlyphs" fill="#222">3</text>
<line x1="427.85" y1="393.8" x2="427.85" y2="397.3" stroke="#333" stroke-width="0.9"/>
<text x="427.85" y="406.1" font-size="8.6" text-anchor="middle" textLength="5.4" lengthAdjust="spacingAndGlyphs" fill="#222">4</text>
<line x1="465.7" y1="393.8" x2="465.7" y2="397.3" stroke="#333" stroke-width="0.9"/>
<text x="465.7" y="406.1" font-size="8.6" text-anchor="middle" textLength="5.4" lengthAdjust="spacingAndGlyphs" fill="#222">5</text>
<line x1="503.55" y1="393.8" x2="503.55" y2="397.3" stroke="#333" stroke-width="0.9"/>
<text x="503.55" y="406.1" font-size="8.6" text-anchor="middle" textLength="5.4" lengthAdjust="spacingAndGlyphs" fill="#222">6</text>
<line x1="300.1" y1="372.91" x2="303.6" y2="372.91" stroke="#333" stroke-width="0.9"/>
<text x="298.40000000000003" y="376.01" font-size="8.6" text-anchor="end" textLength="11.9" lengthAdjust="spacingAndGlyphs" fill="#222">−3</text>
<line x1="300.1" y1="346.54" x2="303.6" y2="346.54" stroke="#333" stroke-width="0.9"/>
<text x="298.40000000000003" y="349.64" font-size="8.6" text-anchor="end" textLength="11.9" lengthAdjust="spacingAndGlyphs" fill="#222">−2</text>
<line x1="300.1" y1="320.17" x2="303.6" y2="320.17" stroke="#333" stroke-width="0.9"/>
<text x="298.40000000000003" y="323.27" font-size="8.6" text-anchor="end" textLength="11.9" lengthAdjust="spacingAndGlyphs" fill="#222">−1</text>
<line x1="300.1" y1="293.8" x2="303.6" y2="293.8" stroke="#333" stroke-width="0.9"/>
<text x="298.40000000000003" y="296.9" font-size="8.6" text-anchor="end" textLength="5.4" lengthAdjust="spacingAndGlyphs" fill="#222">0</text>
<line x1="300.1" y1="267.43" x2="303.6" y2="267.43" stroke="#333" stroke-width="0.9"/>
<text x="298.40000000000003" y="270.53" font-size="8.6" text-anchor="end" textLength="5.4" lengthAdjust="spacingAndGlyphs" fill="#222">1</text>
<text x="403.5" y="416.5" font-size="9.3" text-anchor="middle" fill="#222"><tspan font-style="italic">ℓ</tspan>(µm)</text>
<text transform="translate(281.3 304.3) rotate(-90)" font-size="9.3" text-anchor="middle" fill="#222">u / k<tspan font-size="6.5" dy="1.8" font-style="italic">B</tspan><tspan dy="-1.8">T</tspan></text>
<line x1="555" y1="215.2" x2="555" y2="394.0" stroke="#c9c9c9" stroke-width="0.9"/>
<line x1="592.9" y1="215.2" x2="592.9" y2="394.0" stroke="#c9c9c9" stroke-width="0.9"/>
<line x1="630.8" y1="215.2" x2="630.8" y2="394.0" stroke="#c9c9c9" stroke-width="0.9"/>
<line x1="668.7" y1="215.2" x2="668.7" y2="394.0" stroke="#c9c9c9" stroke-width="0.9"/>
<line x1="706.6" y1="215.2" x2="706.6" y2="394.0" stroke="#c9c9c9" stroke-width="0.9"/>
<line x1="744.5" y1="215.2" x2="744.5" y2="394.0" stroke="#c9c9c9" stroke-width="0.9"/>
<line x1="543.6" y1="379" x2="744.5" y2="379" stroke="#c9c9c9" stroke-width="0.9"/>
<line x1="543.6" y1="354.1" x2="744.5" y2="354.1" stroke="#c9c9c9" stroke-width="0.9"/>
<line x1="543.6" y1="329.2" x2="744.5" y2="329.2" stroke="#c9c9c9" stroke-width="0.9"/>
<line x1="543.6" y1="304.3" x2="744.5" y2="304.3" stroke="#c9c9c9" stroke-width="0.9"/>
<line x1="543.6" y1="279.4" x2="744.5" y2="279.4" stroke="#c9c9c9" stroke-width="0.9"/>
<g>
<path d="M553.86 308.17L553.18 309.83L551.39 309.97L552.75 311.14L552.33 312.88L553.86 311.94L555.39 312.88L554.98 311.14L556.34 309.97L554.55 309.83Z" fill="#e0194f"/>
<path d="M556.14 336.81L555.45 338.46L553.66 338.61L555.02 339.77L554.61 341.51L556.14 340.58L557.67 341.51L557.25 339.77L558.61 338.61L556.82 338.46Z" fill="#e0194f"/>
<path d="M558.03 356.98L557.34 358.63L555.56 358.77L556.92 359.94L556.5 361.68L558.03 360.75L559.56 361.68L559.14 359.94L560.5 358.77L558.72 358.63Z" fill="#e0194f"/>
<path d="M559.93 368.43L559.24 370.09L557.45 370.23L558.81 371.39L558.4 373.14L559.93 372.2L561.46 373.14L561.04 371.39L562.4 370.23L560.61 370.09Z" fill="#e0194f"/>
<path d="M561.44 376.4L560.76 378.05L558.97 378.2L560.33 379.36L559.91 381.1L561.44 380.17L562.97 381.1L562.56 379.36L563.92 378.2L562.13 378.05Z" fill="#e0194f"/>
<path d="M563.72 380.38L563.03 382.04L561.24 382.18L562.6 383.35L562.19 385.09L563.72 384.15L565.25 385.09L564.83 383.35L566.19 382.18L564.4 382.04Z" fill="#e0194f"/>
<path d="M565.61 382.87L564.92 384.53L563.14 384.67L564.5 385.84L564.08 387.58L565.61 386.64L567.14 387.58L566.72 385.84L568.08 384.67L566.3 384.53Z" fill="#e0194f"/>
<path d="M567.51 383.62L566.82 385.27L565.03 385.42L566.39 386.58L565.98 388.32L567.51 387.39L569.04 388.32L568.62 386.58L569.98 385.42L568.19 385.27Z" fill="#e0194f"/>
<path d="M569.4 381.63L568.71 383.28L566.93 383.43L568.29 384.59L567.87 386.33L569.4 385.4L570.93 386.33L570.51 384.59L571.87 383.43L570.09 383.28Z" fill="#e0194f"/>
<path d="M571.3 379.14L570.61 380.79L568.82 380.94L570.18 382.1L569.77 383.84L571.3 382.91L572.83 383.84L572.41 382.1L573.77 380.94L571.98 380.79Z" fill="#e0194f"/>
<path d="M573.19 373.16L572.5 374.82L570.72 374.96L572.08 376.12L571.66 377.87L573.19 376.93L574.72 377.87L574.3 376.12L575.66 374.96L573.88 374.82Z" fill="#e0194f"/>
<path d="M575.09 369.43L574.4 371.08L572.61 371.22L573.97 372.39L573.56 374.13L575.09 373.2L576.62 374.13L576.2 372.39L577.56 371.22L575.77 371.08Z" fill="#e0194f"/>
<path d="M576.98 364.2L576.29 365.85L574.51 366L575.87 367.16L575.45 368.9L576.98 367.97L578.51 368.9L578.09 367.16L579.45 366L577.67 365.85Z" fill="#e0194f"/>
<path d="M578.88 358.72L578.19 360.37L576.4 360.52L577.76 361.68L577.35 363.42L578.88 362.49L580.41 363.42L579.99 361.68L581.35 360.52L579.56 360.37Z" fill="#e0194f"/>
<path d="M580.77 354.74L580.08 356.39L578.3 356.53L579.66 357.7L579.24 359.44L580.77 358.51L582.3 359.44L581.88 357.7L583.24 356.53L581.46 356.39Z" fill="#e0194f"/>
<path d="M582.67 346.77L581.98 348.42L580.19 348.57L581.55 349.73L581.14 351.47L582.67 350.54L584.2 351.47L583.78 349.73L585.14 348.57L583.35 348.42Z" fill="#e0194f"/>
<path d="M584.18 342.04L583.5 343.69L581.71 343.83L583.07 345L582.65 346.74L584.18 345.81L585.71 346.74L585.3 345L586.66 343.83L584.87 343.69Z" fill="#e0194f"/>
<path d="M586.46 337.81L585.77 339.46L583.98 339.6L585.34 340.77L584.93 342.51L586.46 341.58L587.99 342.51L587.57 340.77L588.93 339.6L587.14 339.46Z" fill="#e0194f"/>
<path d="M588.35 333.57L587.66 335.23L585.88 335.37L587.24 336.53L586.82 338.28L588.35 337.34L589.88 338.28L589.46 336.53L590.82 335.37L589.04 335.23Z" fill="#e0194f"/>
<path d="M589.87 330.09L589.18 331.74L587.4 331.88L588.76 333.05L588.34 334.79L589.87 333.86L591.4 334.79L590.98 333.05L592.34 331.88L590.56 331.74Z" fill="#e0194f"/>
<path d="M591.76 325.35L591.08 327.01L589.29 327.15L590.65 328.32L590.23 330.06L591.76 329.12L593.29 330.06L592.88 328.32L594.24 327.15L592.45 327.01Z" fill="#e0194f"/>
<path d="M593.66 322.87L592.97 324.52L591.19 324.66L592.55 325.83L592.13 327.57L593.66 326.64L595.19 327.57L594.77 325.83L596.13 324.66L594.35 324.52Z" fill="#e0194f"/>
<path d="M595.55 320.62L594.87 322.28L593.08 322.42L594.44 323.59L594.02 325.33L595.55 324.39L597.08 325.33L596.67 323.59L598.03 322.42L596.24 322.28Z" fill="#e0194f"/>
<path d="M597.07 320.62L596.38 322.28L594.6 322.42L595.96 323.59L595.54 325.33L597.07 324.39L598.6 325.33L598.18 323.59L599.54 322.42L597.76 322.28Z" fill="#e0194f"/>
<path d="M599.72 316.64L599.03 318.29L597.25 318.44L598.61 319.6L598.19 321.34L599.72 320.41L601.25 321.34L600.83 319.6L602.19 318.44L600.41 318.29Z" fill="#e0194f"/>
<path d="M601.62 312.16L600.93 313.81L599.14 313.95L600.5 315.12L600.09 316.86L601.62 315.93L603.15 316.86L602.73 315.12L604.09 313.95L602.3 313.81Z" fill="#e0194f"/>
<path d="M603.51 309.17L602.82 310.82L601.04 310.97L602.4 312.13L601.98 313.87L603.51 312.94L605.04 313.87L604.62 312.13L605.98 310.97L604.2 310.82Z" fill="#e0194f"/>
<path d="M605.79 305.19L605.1 306.84L603.31 306.98L604.67 308.15L604.26 309.89L605.79 308.96L607.31 309.89L606.9 308.15L608.26 306.98L606.47 306.84Z" fill="#e0194f"/>
<path d="M607.68 304.69L606.99 306.34L605.21 306.48L606.57 307.65L606.15 309.39L607.68 308.46L609.21 309.39L608.79 307.65L610.15 306.48L608.37 306.34Z" fill="#e0194f"/>
<path d="M610.33 305.19L609.65 306.84L607.86 306.98L609.22 308.15L608.81 309.89L610.33 308.96L611.86 309.89L611.45 308.15L612.81 306.98L611.02 306.84Z" fill="#e0194f"/>
<path d="M612.99 299.21L612.3 300.86L610.51 301.01L611.87 302.17L611.46 303.91L612.99 302.98L614.52 303.91L614.1 302.17L615.46 301.01L613.67 300.86Z" fill="#e0194f"/>
<path d="M614.88 299.71L614.19 301.36L612.41 301.5L613.77 302.67L613.35 304.41L614.88 303.48L616.41 304.41L615.99 302.67L617.35 301.5L615.57 301.36Z" fill="#e0194f"/>
<path d="M617.53 301.2L616.85 302.86L615.06 303L616.42 304.16L616.01 305.91L617.53 304.97L619.06 305.91L618.65 304.16L620.01 303L618.22 302.86Z" fill="#e0194f"/>
<path d="M619.43 300.7L618.74 302.36L616.96 302.5L618.32 303.67L617.9 305.41L619.43 304.47L620.96 305.41L620.54 303.67L621.9 302.5L620.12 302.36Z" fill="#e0194f"/>
<path d="M621.7 299.96L621.02 301.61L619.23 301.75L620.59 302.92L620.18 304.66L621.7 303.73L623.23 304.66L622.82 302.92L624.18 301.75L622.39 301.61Z" fill="#e0194f"/>
<path d="M623.6 303.19L622.91 304.85L621.13 304.99L622.49 306.16L622.07 307.9L623.6 306.96L625.13 307.9L624.71 306.16L626.07 304.99L624.29 304.85Z" fill="#e0194f"/>
<path d="M625.87 308.67L625.19 310.33L623.4 310.47L624.76 311.63L624.34 313.38L625.87 312.44L627.4 313.38L626.99 311.63L628.35 310.47L626.56 310.33Z" fill="#e0194f"/>
<path d="M628.15 298.71L627.46 300.37L625.67 300.51L627.03 301.67L626.62 303.42L628.15 302.48L629.68 303.42L629.26 301.67L630.62 300.51L628.83 300.37Z" fill="#e0194f"/>
<path d="M630.42 301.2L629.73 302.86L627.95 303L629.31 304.16L628.89 305.91L630.42 304.97L631.95 305.91L631.53 304.16L632.89 303L631.11 302.86Z" fill="#e0194f"/>
<path d="M632.32 300.7L631.63 302.36L629.84 302.5L631.2 303.67L630.79 305.41L632.32 304.47L633.84 305.41L633.43 303.67L634.79 302.5L633 302.36Z" fill="#e0194f"/>
<path d="M634.21 305.19L633.52 306.84L631.74 306.98L633.1 308.15L632.68 309.89L634.21 308.96L635.74 309.89L635.32 308.15L636.68 306.98L634.9 306.84Z" fill="#e0194f"/>
<path d="M636.11 303.19L635.42 304.85L633.63 304.99L634.99 306.16L634.58 307.9L636.11 306.96L637.63 307.9L637.22 306.16L638.58 304.99L636.79 304.85Z" fill="#e0194f"/>
<path d="M638.38 301.2L637.69 302.86L635.91 303L637.27 304.16L636.85 305.91L638.38 304.97L639.91 305.91L639.49 304.16L640.85 303L639.07 302.86Z" fill="#e0194f"/>
<path d="M641.03 295.97L640.35 297.63L638.56 297.77L639.92 298.93L639.5 300.68L641.03 299.74L642.56 300.68L642.15 298.93L643.51 297.77L641.72 297.63Z" fill="#e0194f"/>
<path d="M642.93 297.96L642.24 299.62L640.46 299.76L641.82 300.93L641.4 302.67L642.93 301.74L644.46 302.67L644.04 300.93L645.4 299.76L643.62 299.62Z" fill="#e0194f"/>
<path d="M644.44 299.96L643.76 301.61L641.97 301.75L643.33 302.92L642.92 304.66L644.44 303.73L645.97 304.66L645.56 302.92L646.92 301.75L645.13 301.61Z" fill="#e0194f"/>
<path d="M646.34 301.2L645.65 302.86L643.87 303L645.23 304.16L644.81 305.91L646.34 304.97L647.87 305.91L647.45 304.16L648.81 303L647.03 302.86Z" fill="#e0194f"/>
<path d="M648.23 303.19L647.55 304.85L645.76 304.99L647.12 306.16L646.71 307.9L648.23 306.96L649.76 307.9L649.35 306.16L650.71 304.99L648.92 304.85Z" fill="#e0194f"/>
<path d="M650.13 302.7L649.44 304.35L647.66 304.49L649.02 305.66L648.6 307.4L650.13 306.47L651.66 307.4L651.24 305.66L652.6 304.49L650.82 304.35Z" fill="#e0194f"/>
<path d="M652.4 303.19L651.72 304.85L649.93 304.99L651.29 306.16L650.87 307.9L652.4 306.96L653.93 307.9L653.52 306.16L654.88 304.99L653.09 304.85Z" fill="#e0194f"/>
<path d="M654.3 301.2L653.61 302.86L651.83 303L653.19 304.16L652.77 305.91L654.3 304.97L655.83 305.91L655.41 304.16L656.77 303L654.99 302.86Z" fill="#e0194f"/>
<path d="M656.19 300.7L655.51 302.36L653.72 302.5L655.08 303.67L654.66 305.41L656.19 304.47L657.72 305.41L657.31 303.67L658.67 302.5L656.88 302.36Z" fill="#e0194f"/>
<path d="M658.09 301.2L657.4 302.86L655.62 303L656.98 304.16L656.56 305.91L658.09 304.97L659.62 305.91L659.2 304.16L660.56 303L658.78 302.86Z" fill="#e0194f"/>
<path d="M660.36 301.7L659.67 303.35L657.89 303.5L659.25 304.66L658.83 306.4L660.36 305.47L661.89 306.4L661.47 304.66L662.83 303.5L661.05 303.35Z" fill="#e0194f"/>
<path d="M662.26 303.19L661.57 304.85L659.78 304.99L661.14 306.16L660.73 307.9L662.26 306.96L663.79 307.9L663.37 306.16L664.73 304.99L662.94 304.85Z" fill="#e0194f"/>
<path d="M664.15 304.69L663.46 306.34L661.68 306.48L663.04 307.65L662.62 309.39L664.15 308.46L665.68 309.39L665.26 307.65L666.62 306.48L664.84 306.34Z" fill="#e0194f"/>
<path d="M666.43 300.7L665.74 302.36L663.95 302.5L665.31 303.67L664.9 305.41L666.43 304.47L667.95 305.41L667.54 303.67L668.9 302.5L667.11 302.36Z" fill="#e0194f"/>
<path d="M668.32 299.96L667.63 301.61L665.85 301.75L667.21 302.92L666.79 304.66L668.32 303.73L669.85 304.66L669.43 302.92L670.79 301.75L669.01 301.61Z" fill="#e0194f"/>
<path d="M670.22 301.2L669.53 302.86L667.74 303L669.1 304.16L668.69 305.91L670.22 304.97L671.74 305.91L671.33 304.16L672.69 303L670.9 302.86Z" fill="#e0194f"/>
<path d="M672.49 303.19L671.8 304.85L670.02 304.99L671.38 306.16L670.96 307.9L672.49 306.96L674.02 307.9L673.6 306.16L674.96 304.99L673.18 304.85Z" fill="#e0194f"/>
<path d="M674.38 303.19L673.7 304.85L671.91 304.99L673.27 306.16L672.86 307.9L674.38 306.96L675.91 307.9L675.5 306.16L676.86 304.99L675.07 304.85Z" fill="#e0194f"/>
<path d="M676.28 302.2L675.59 303.85L673.81 303.99L675.17 305.16L674.75 306.9L676.28 305.97L677.81 306.9L677.39 305.16L678.75 303.99L676.97 303.85Z" fill="#e0194f"/>
<path d="M678.17 302.2L677.49 303.85L675.7 303.99L677.06 305.16L676.65 306.9L678.17 305.97L679.7 306.9L679.29 305.16L680.65 303.99L678.86 303.85Z" fill="#e0194f"/>
<path d="M680.07 302.7L679.38 304.35L677.6 304.49L678.96 305.66L678.54 307.4L680.07 306.47L681.6 307.4L681.18 305.66L682.54 304.49L680.76 304.35Z" fill="#e0194f"/>
<path d="M682.34 301.2L681.66 302.86L679.87 303L681.23 304.16L680.82 305.91L682.34 304.97L683.87 305.91L683.46 304.16L684.82 303L683.03 302.86Z" fill="#e0194f"/>
<path d="M684.24 301.2L683.55 302.86L681.77 303L683.13 304.16L682.71 305.91L684.24 304.97L685.77 305.91L685.35 304.16L686.71 303L684.93 302.86Z" fill="#e0194f"/>
<path d="M686.13 301.95L685.45 303.6L683.66 303.75L685.02 304.91L684.61 306.65L686.13 305.72L687.66 306.65L687.25 304.91L688.61 303.75L686.82 303.6Z" fill="#e0194f"/>
<path d="M687.65 301.95L686.96 303.6L685.18 303.75L686.54 304.91L686.12 306.65L687.65 305.72L689.18 306.65L688.76 304.91L690.12 303.75L688.34 303.6Z" fill="#e0194f"/>
<line x1="570.16" y1="306.54" x2="570.16" y2="311.52" stroke="#2f7dbf" stroke-width="1.1"/>
<path d="M567.66 307.91L569.03 306.53L570.16 307.66L571.28 306.53L572.66 307.91L571.53 309.03L572.66 310.16L571.28 311.53L570.16 310.41L569.03 311.53L567.66 310.16L568.78 309.03Z" fill="#2f7dbf" stroke="#2f7dbf" stroke-width="0.5"/><rect x="569.46" y="308.33" width="1.4" height="1.4" fill="#9cc3e6"/>
<line x1="577.74" y1="349.37" x2="577.74" y2="354.35" stroke="#2f7dbf" stroke-width="1.1"/>
<path d="M575.24 350.73L576.62 349.36L577.74 350.48L578.87 349.36L580.24 350.73L579.12 351.86L580.24 352.98L578.87 354.36L577.74 353.23L576.62 354.36L575.24 352.98L576.37 351.86Z" fill="#2f7dbf" stroke="#2f7dbf" stroke-width="0.5"/><rect x="577.04" y="351.16" width="1.4" height="1.4" fill="#9cc3e6"/>
<line x1="585.32" y1="368.79" x2="585.32" y2="373.77" stroke="#2f7dbf" stroke-width="1.1"/>
<path d="M582.82 370.16L584.2 368.78L585.32 369.91L586.45 368.78L587.82 370.16L586.7 371.28L587.82 372.41L586.45 373.78L585.32 372.66L584.2 373.78L582.82 372.41L583.95 371.28Z" fill="#2f7dbf" stroke="#2f7dbf" stroke-width="0.5"/><rect x="584.62" y="370.58" width="1.4" height="1.4" fill="#9cc3e6"/>
<line x1="592.9" y1="357.59" x2="592.9" y2="362.57" stroke="#2f7dbf" stroke-width="1.1"/>
<path d="M590.4 358.95L591.77 357.58L592.9 358.7L594.02 357.58L595.4 358.95L594.27 360.08L595.4 361.2L594.02 362.58L592.9 361.45L591.77 362.58L590.4 361.2L591.52 360.08Z" fill="#2f7dbf" stroke="#2f7dbf" stroke-width="0.5"/><rect x="592.2" y="359.38" width="1.4" height="1.4" fill="#9cc3e6"/>
<line x1="600.48" y1="341.65" x2="600.48" y2="346.63" stroke="#2f7dbf" stroke-width="1.1"/>
<path d="M597.98 343.01L599.36 341.64L600.48 342.76L601.61 341.64L602.98 343.01L601.86 344.14L602.98 345.26L601.61 346.64L600.48 345.51L599.36 346.64L597.98 345.26L599.11 344.14Z" fill="#2f7dbf" stroke="#2f7dbf" stroke-width="0.5"/><rect x="599.78" y="343.44" width="1.4" height="1.4" fill="#9cc3e6"/>
<line x1="608.06" y1="336.42" x2="608.06" y2="341.4" stroke="#2f7dbf" stroke-width="1.1"/>
<path d="M605.56 337.79L606.93 336.41L608.06 337.54L609.18 336.41L610.56 337.79L609.43 338.91L610.56 340.04L609.18 341.41L608.06 340.29L606.93 341.41L605.56 340.04L606.68 338.91Z" fill="#2f7dbf" stroke="#2f7dbf" stroke-width="0.5"/><rect x="607.36" y="338.21" width="1.4" height="1.4" fill="#9cc3e6"/>
<line x1="615.64" y1="333.18" x2="615.64" y2="338.16" stroke="#2f7dbf" stroke-width="1.1"/>
<path d="M613.14 334.55L614.51 333.17L615.64 334.3L616.76 333.17L618.14 334.55L617.01 335.67L618.14 336.8L616.76 338.17L615.64 337.05L614.51 338.17L613.14 336.8L614.26 335.67Z" fill="#2f7dbf" stroke="#2f7dbf" stroke-width="0.5"/><rect x="614.94" y="334.97" width="1.4" height="1.4" fill="#9cc3e6"/>
<line x1="623.22" y1="323.97" x2="623.22" y2="328.95" stroke="#2f7dbf" stroke-width="1.1"/>
<path d="M620.72 325.34L622.1 323.96L623.22 325.09L624.35 323.96L625.72 325.34L624.6 326.46L625.72 327.59L624.35 328.96L623.22 327.84L622.1 328.96L620.72 327.59L621.85 326.46Z" fill="#2f7dbf" stroke="#2f7dbf" stroke-width="0.5"/><rect x="622.52" y="325.76" width="1.4" height="1.4" fill="#9cc3e6"/>
<line x1="630.8" y1="307.54" x2="630.8" y2="312.52" stroke="#2f7dbf" stroke-width="1.1"/>
<path d="M628.3 308.9L629.67 307.53L630.8 308.65L631.92 307.53L633.3 308.9L632.17 310.03L633.3 311.15L631.92 312.53L630.8 311.4L629.67 312.53L628.3 311.15L629.42 310.03Z" fill="#2f7dbf" stroke="#2f7dbf" stroke-width="0.5"/><rect x="630.1" y="309.33" width="1.4" height="1.4" fill="#9cc3e6"/>
<line x1="638.38" y1="311.77" x2="638.38" y2="316.75" stroke="#2f7dbf" stroke-width="1.1"/>
<path d="M635.88 313.13L637.25 311.76L638.38 312.88L639.5 311.76L640.88 313.13L639.75 314.26L640.88 315.38L639.5 316.76L638.38 315.63L637.25 316.76L635.88 315.38L637 314.26Z" fill="#2f7dbf" stroke="#2f7dbf" stroke-width="0.5"/><rect x="637.68" y="313.56" width="1.4" height="1.4" fill="#9cc3e6"/>
<line x1="645.96" y1="308.78" x2="645.96" y2="313.76" stroke="#2f7dbf" stroke-width="1.1"/>
<path d="M643.46 310.15L644.84 308.77L645.96 309.9L647.09 308.77L648.46 310.15L647.34 311.27L648.46 312.4L647.09 313.77L645.96 312.65L644.84 313.77L643.46 312.4L644.59 311.27Z" fill="#2f7dbf" stroke="#2f7dbf" stroke-width="0.5"/><rect x="645.26" y="310.57" width="1.4" height="1.4" fill="#9cc3e6"/>
<line x1="653.54" y1="290.85" x2="653.54" y2="298.82" stroke="#2f7dbf" stroke-width="1.1"/>
<path d="M651.04 293.71L652.41 292.34L653.54 293.46L654.66 292.34L656.04 293.71L654.91 294.84L656.04 295.96L654.66 297.34L653.54 296.21L652.41 297.34L651.04 295.96L652.16 294.84Z" fill="#2f7dbf" stroke="#2f7dbf" stroke-width="0.5"/><rect x="652.84" y="294.14" width="1.4" height="1.4" fill="#9cc3e6"/>
<line x1="661.12" y1="304.8" x2="661.12" y2="309.78" stroke="#2f7dbf" stroke-width="1.1"/>
<path d="M658.62 306.16L660 304.79L661.12 305.91L662.25 304.79L663.62 306.16L662.5 307.29L663.62 308.41L662.25 309.79L661.12 308.66L660 309.79L658.62 308.41L659.75 307.29Z" fill="#2f7dbf" stroke="#2f7dbf" stroke-width="0.5"/><rect x="660.42" y="306.59" width="1.4" height="1.4" fill="#9cc3e6"/>
<line x1="668.7" y1="297.33" x2="668.7" y2="302.31" stroke="#2f7dbf" stroke-width="1.1"/>
<path d="M666.2 298.69L667.58 297.32L668.7 298.44L669.83 297.32L671.2 298.69L670.08 299.82L671.2 300.94L669.83 302.32L668.7 301.19L667.58 302.32L666.2 300.94L667.33 299.82Z" fill="#2f7dbf" stroke="#2f7dbf" stroke-width="0.5"/><rect x="668" y="299.12" width="1.4" height="1.4" fill="#9cc3e6"/>
<line x1="676.28" y1="291.6" x2="676.28" y2="299.57" stroke="#2f7dbf" stroke-width="1.1"/>
<path d="M673.78 294.46L675.15 293.09L676.28 294.21L677.4 293.09L678.78 294.46L677.65 295.59L678.78 296.71L677.4 298.09L676.28 296.96L675.15 298.09L673.78 296.71L674.9 295.59Z" fill="#2f7dbf" stroke="#2f7dbf" stroke-width="0.5"/><rect x="675.58" y="294.89" width="1.4" height="1.4" fill="#9cc3e6"/>
<line x1="683.86" y1="302.56" x2="683.86" y2="307.54" stroke="#2f7dbf" stroke-width="1.1"/>
<path d="M681.36 303.92L682.74 302.55L683.86 303.67L684.99 302.55L686.36 303.92L685.24 305.05L686.36 306.17L684.99 307.55L683.86 306.42L682.74 307.55L681.36 306.17L682.49 305.05Z" fill="#2f7dbf" stroke="#2f7dbf" stroke-width="0.5"/><rect x="683.16" y="304.35" width="1.4" height="1.4" fill="#9cc3e6"/>
<line x1="691.44" y1="318.74" x2="691.44" y2="323.72" stroke="#2f7dbf" stroke-width="1.1"/>
<path d="M688.94 320.11L690.31 318.73L691.44 319.86L692.56 318.73L693.94 320.11L692.81 321.23L693.94 322.36L692.56 323.73L691.44 322.61L690.31 323.73L688.94 322.36L690.06 321.23Z" fill="#2f7dbf" stroke="#2f7dbf" stroke-width="0.5"/><rect x="690.74" y="320.53" width="1.4" height="1.4" fill="#9cc3e6"/>
<line x1="699.02" y1="309.28" x2="699.02" y2="315.26" stroke="#2f7dbf" stroke-width="1.1"/>
<path d="M696.52 311.14L697.89 309.77L699.02 310.89L700.14 309.77L701.52 311.14L700.39 312.27L701.52 313.39L700.14 314.77L699.02 313.64L697.89 314.77L696.52 313.39L697.64 312.27Z" fill="#2f7dbf" stroke="#2f7dbf" stroke-width="0.5"/><rect x="698.32" y="311.57" width="1.4" height="1.4" fill="#9cc3e6"/>
<line x1="706.6" y1="301.81" x2="706.6" y2="306.79" stroke="#2f7dbf" stroke-width="1.1"/>
<path d="M704.1 303.18L705.48 301.8L706.6 302.93L707.73 301.8L709.1 303.18L707.98 304.3L709.1 305.43L707.73 306.8L706.6 305.68L705.48 306.8L704.1 305.43L705.23 304.3Z" fill="#2f7dbf" stroke="#2f7dbf" stroke-width="0.5"/><rect x="705.9" y="303.6" width="1.4" height="1.4" fill="#9cc3e6"/>
<line x1="714.18" y1="280.89" x2="714.18" y2="291.85" stroke="#2f7dbf" stroke-width="1.1"/>
<path d="M711.68 285.25L713.06 283.87L714.18 285L715.31 283.87L716.68 285.25L715.56 286.37L716.68 287.5L715.31 288.87L714.18 287.75L713.06 288.87L711.68 287.5L712.81 286.37Z" fill="#2f7dbf" stroke="#2f7dbf" stroke-width="0.5"/><rect x="713.48" y="285.67" width="1.4" height="1.4" fill="#9cc3e6"/>
<line x1="721.76" y1="257.49" x2="721.76" y2="279.9" stroke="#2f7dbf" stroke-width="1.1"/>
<path d="M719.26 267.57L720.63 266.19L721.76 267.32L722.88 266.19L724.26 267.57L723.13 268.69L724.26 269.82L722.88 271.19L721.76 270.07L720.63 271.19L719.26 269.82L720.38 268.69Z" fill="#2f7dbf" stroke="#2f7dbf" stroke-width="0.5"/><rect x="721.06" y="267.99" width="1.4" height="1.4" fill="#9cc3e6"/>
<line x1="729.34" y1="272.93" x2="729.34" y2="286.87" stroke="#2f7dbf" stroke-width="1.1"/>
<path d="M726.84 278.77L728.21 277.4L729.34 278.52L730.46 277.4L731.84 278.77L730.71 279.9L731.84 281.02L730.46 282.4L729.34 281.27L728.21 282.4L726.84 281.02L727.96 279.9Z" fill="#2f7dbf" stroke="#2f7dbf" stroke-width="0.5"/><rect x="728.64" y="279.2" width="1.4" height="1.4" fill="#9cc3e6"/>
<line x1="555" y1="303.06" x2="555" y2="305.55" stroke="#72b94f" stroke-width="1.1"/>
<circle cx="555" cy="304.3" r="2.5" fill="#72b94f" stroke="#72b94f" stroke-width="0"/>
<line x1="562.58" y1="303.06" x2="562.58" y2="305.55" stroke="#72b94f" stroke-width="1.1"/>
<circle cx="562.58" cy="304.3" r="2.5" fill="#72b94f" stroke="#72b94f" stroke-width="0"/>
<line x1="570.16" y1="258.98" x2="570.16" y2="289.86" stroke="#72b94f" stroke-width="1.1"/>
<circle cx="570.16" cy="267.2" r="2.5" fill="#72b94f" stroke="#72b94f" stroke-width="0"/>
<line x1="577.74" y1="314.51" x2="577.74" y2="318.49" stroke="#72b94f" stroke-width="1.1"/>
<circle cx="577.74" cy="316.5" r="2.5" fill="#72b94f" stroke="#72b94f" stroke-width="0"/>
<line x1="585.32" y1="338.66" x2="585.32" y2="341.15" stroke="#72b94f" stroke-width="1.1"/>
<circle cx="585.32" cy="339.91" r="2.5" fill="#72b94f" stroke="#72b94f" stroke-width="0"/>
<line x1="592.9" y1="342.89" x2="592.9" y2="345.38" stroke="#72b94f" stroke-width="1.1"/>
<circle cx="592.9" cy="344.14" r="2.5" fill="#72b94f" stroke="#72b94f" stroke-width="0"/>
<line x1="600.48" y1="366.3" x2="600.48" y2="368.79" stroke="#72b94f" stroke-width="1.1"/>
<circle cx="600.48" cy="367.55" r="2.5" fill="#72b94f" stroke="#72b94f" stroke-width="0"/>
<line x1="608.06" y1="373.02" x2="608.06" y2="375.51" stroke="#72b94f" stroke-width="1.1"/>
<circle cx="608.06" cy="374.27" r="2.5" fill="#72b94f" stroke="#72b94f" stroke-width="0"/>
<line x1="615.64" y1="371.03" x2="615.64" y2="373.52" stroke="#72b94f" stroke-width="1.1"/>
<circle cx="615.64" cy="372.28" r="2.5" fill="#72b94f" stroke="#72b94f" stroke-width="0"/>
<line x1="623.22" y1="373.27" x2="623.22" y2="375.76" stroke="#72b94f" stroke-width="1.1"/>
<circle cx="623.22" cy="374.52" r="2.5" fill="#72b94f" stroke="#72b94f" stroke-width="0"/>
<line x1="630.8" y1="379.25" x2="630.8" y2="381.74" stroke="#72b94f" stroke-width="1.1"/>
<circle cx="630.8" cy="380.49" r="2.5" fill="#72b94f" stroke="#72b94f" stroke-width="0"/>
<line x1="638.38" y1="353.6" x2="638.38" y2="356.09" stroke="#72b94f" stroke-width="1.1"/>
<circle cx="638.38" cy="354.85" r="2.5" fill="#72b94f" stroke="#72b94f" stroke-width="0"/>
<line x1="645.96" y1="326.96" x2="645.96" y2="329.45" stroke="#72b94f" stroke-width="1.1"/>
<circle cx="645.96" cy="328.2" r="2.5" fill="#72b94f" stroke="#72b94f" stroke-width="0"/>
<line x1="653.54" y1="313.76" x2="653.54" y2="318.74" stroke="#72b94f" stroke-width="1.1"/>
<circle cx="653.54" cy="316.25" r="2.5" fill="#72b94f" stroke="#72b94f" stroke-width="0"/>
<line x1="661.12" y1="317.5" x2="661.12" y2="319.99" stroke="#72b94f" stroke-width="1.1"/>
<circle cx="661.12" cy="318.74" r="2.5" fill="#72b94f" stroke="#72b94f" stroke-width="0"/>
<line x1="668.7" y1="325.96" x2="668.7" y2="328.45" stroke="#72b94f" stroke-width="1.1"/>
<circle cx="668.7" cy="327.21" r="2.5" fill="#72b94f" stroke="#72b94f" stroke-width="0"/>
<line x1="676.28" y1="320.73" x2="676.28" y2="323.22" stroke="#72b94f" stroke-width="1.1"/>
<circle cx="676.28" cy="321.98" r="2.5" fill="#72b94f" stroke="#72b94f" stroke-width="0"/>
<line x1="683.86" y1="322.23" x2="683.86" y2="324.72" stroke="#72b94f" stroke-width="1.1"/>
<circle cx="683.86" cy="323.47" r="2.5" fill="#72b94f" stroke="#72b94f" stroke-width="0"/>
<line x1="691.44" y1="325.47" x2="691.44" y2="327.96" stroke="#72b94f" stroke-width="1.1"/>
<circle cx="691.44" cy="326.71" r="2.5" fill="#72b94f" stroke="#72b94f" stroke-width="0"/>
<line x1="699.02" y1="311.77" x2="699.02" y2="316.75" stroke="#72b94f" stroke-width="1.1"/>
<circle cx="699.02" cy="314.26" r="2.5" fill="#72b94f" stroke="#72b94f" stroke-width="0"/>
<line x1="706.6" y1="311.77" x2="706.6" y2="316.75" stroke="#72b94f" stroke-width="1.1"/>
<circle cx="706.6" cy="314.26" r="2.5" fill="#72b94f" stroke="#72b94f" stroke-width="0"/>
<line x1="714.18" y1="320.98" x2="714.18" y2="323.47" stroke="#72b94f" stroke-width="1.1"/>
<circle cx="714.18" cy="322.23" r="2.5" fill="#72b94f" stroke="#72b94f" stroke-width="0"/>
<line x1="721.76" y1="281.89" x2="721.76" y2="299.82" stroke="#72b94f" stroke-width="1.1"/>
<circle cx="721.76" cy="290.85" r="2.5" fill="#72b94f" stroke="#72b94f" stroke-width="0"/>
<line x1="729.34" y1="312.27" x2="729.34" y2="317.25" stroke="#72b94f" stroke-width="1.1"/>
<circle cx="729.34" cy="314.76" r="2.5" fill="#72b94f" stroke="#72b94f" stroke-width="0"/>
<line x1="736.92" y1="311.27" x2="736.92" y2="316.25" stroke="#72b94f" stroke-width="1.1"/>
<circle cx="736.92" cy="313.76" r="2.5" fill="#72b94f" stroke="#72b94f" stroke-width="0"/>
<line x1="744.5" y1="220.89" x2="744.5" y2="272.93" stroke="#72b94f" stroke-width="1.1"/>
<circle cx="744.5" cy="257.49" r="2.5" fill="#72b94f" stroke="#72b94f" stroke-width="0"/>
</g>
<rect x="653.6" y="345" width="87.5" height="38" fill="#fff"/>
<circle cx="662.6" cy="365.7" r="7.4" fill="url(#sph)"/>
<circle cx="690" cy="365.7" r="7.4" fill="url(#sph)"/>
<circle cx="730" cy="365.7" r="7.4" fill="url(#sph)"/>
<line x1="662.6" y1="365.7" x2="690" y2="365.7" stroke="#5f5f5f" stroke-width="2"/>
<line x1="662.6" y1="362" x2="662.6" y2="369.4" stroke="#444" stroke-width="1.2"/>
<line x1="690" y1="362" x2="690" y2="369.4" stroke="#444" stroke-width="1.2"/>
<line x1="697" y1="365.7" x2="723" y2="365.7" stroke="#d9534f" stroke-width="1.6"/>
<path d="M690.5 365.7L698.3 362L698.3 369.4Z" fill="#c9483f"/>
<path d="M729.5 365.7L721.7 362L721.7 369.4Z" fill="#c9483f"/>
<text x="675.4" y="360" font-size="15.5" text-anchor="middle" fill="#111" stroke="#111" stroke-width="0.3">r</text>
<text x="708.6" y="360" font-size="15.5" text-anchor="middle" fill="#111" stroke="#111" stroke-width="0.3">s</text>
<rect x="547.6" y="219" width="156.9" height="43.3" rx="2" fill="#fff" fill-opacity="0.85" stroke="#d5d5d5" stroke-width="0.8"/>
<path d="M557.5 226.9L556.87 228.43L555.22 228.56L556.47 229.63L556.09 231.24L557.5 230.38L558.91 231.24L558.53 229.63L559.78 228.56L558.13 228.43Z" fill="#e0194f"/>
<line x1="557.5" y1="240" x2="557.5" y2="247" stroke="#72b94f" stroke-width="1.1"/>
<circle cx="557.5" cy="243.5" r="2.5" fill="#72b94f" stroke="#72b94f" stroke-width="0"/>
<line x1="557.5" y1="251.5" x2="557.5" y2="258.5" stroke="#2f7dbf" stroke-width="1.1"/>
<path d="M555 253.88L556.38 252.5L557.5 253.62L558.62 252.5L560 253.88L558.88 255L560 256.12L558.62 257.5L557.5 256.38L556.38 257.5L555 256.12L556.12 255Z" fill="#2f7dbf" stroke="#2f7dbf" stroke-width="0.5"/><rect x="556.8" y="254.3" width="1.4" height="1.4" fill="#9cc3e6"/>
<text x="570.3" y="226.8" font-size="7.6" textLength="74.8" lengthAdjust="spacingAndGlyphs" fill="#222">two-body interaction</text>
<text x="570.3" y="234.8" font-size="7.6" textLength="131.4" lengthAdjust="spacingAndGlyphs" fill="#222">Data points were taken from ref.(18)</text>
<text x="570.3" y="246.1" font-size="7.6" textLength="31.9" lengthAdjust="spacingAndGlyphs" fill="#222">r=1.8µm</text>
<text x="570.3" y="257.3" font-size="7.6" textLength="32.3" lengthAdjust="spacingAndGlyphs" fill="#222">r=3.0µm</text>
<rect x="543.6" y="215.2" width="200.9" height="178.8" fill="none" stroke="#333" stroke-width="0.9"/>
<line x1="555" y1="394.0" x2="555" y2="397.5" stroke="#333" stroke-width="0.9"/>
<text x="555" y="406.3" font-size="8.6" text-anchor="middle" textLength="5.4" lengthAdjust="spacingAndGlyphs" fill="#222">1</text>
<line x1="592.9" y1="394.0" x2="592.9" y2="397.5" stroke="#333" stroke-width="0.9"/>
<text x="592.9" y="406.3" font-size="8.6" text-anchor="middle" textLength="5.4" lengthAdjust="spacingAndGlyphs" fill="#222">2</text>
<line x1="630.8" y1="394.0" x2="630.8" y2="397.5" stroke="#333" stroke-width="0.9"/>
<text x="630.8" y="406.3" font-size="8.6" text-anchor="middle" textLength="5.4" lengthAdjust="spacingAndGlyphs" fill="#222">3</text>
<line x1="668.7" y1="394.0" x2="668.7" y2="397.5" stroke="#333" stroke-width="0.9"/>
<text x="668.7" y="406.3" font-size="8.6" text-anchor="middle" textLength="5.4" lengthAdjust="spacingAndGlyphs" fill="#222">4</text>
<line x1="706.6" y1="394.0" x2="706.6" y2="397.5" stroke="#333" stroke-width="0.9"/>
<text x="706.6" y="406.3" font-size="8.6" text-anchor="middle" textLength="5.4" lengthAdjust="spacingAndGlyphs" fill="#222">5</text>
<line x1="744.5" y1="394.0" x2="744.5" y2="397.5" stroke="#333" stroke-width="0.9"/>
<text x="744.5" y="406.3" font-size="8.6" text-anchor="middle" textLength="5.4" lengthAdjust="spacingAndGlyphs" fill="#222">6</text>
<line x1="540.1" y1="379" x2="543.6" y2="379" stroke="#333" stroke-width="0.9"/>
<text x="538.4" y="382.1" font-size="8.6" text-anchor="end" textLength="11.9" lengthAdjust="spacingAndGlyphs" fill="#222">−3</text>
<line x1="540.1" y1="354.1" x2="543.6" y2="354.1" stroke="#333" stroke-width="0.9"/>
<text x="538.4" y="357.2" font-size="8.6" text-anchor="end" textLength="11.9" lengthAdjust="spacingAndGlyphs" fill="#222">−2</text>
<line x1="540.1" y1="329.2" x2="543.6" y2="329.2" stroke="#333" stroke-width="0.9"/>
<text x="538.4" y="332.3" font-size="8.6" text-anchor="end" textLength="11.9" lengthAdjust="spacingAndGlyphs" fill="#222">−1</text>
<line x1="540.1" y1="304.3" x2="543.6" y2="304.3" stroke="#333" stroke-width="0.9"/>
<text x="538.4" y="307.4" font-size="8.6" text-anchor="end" textLength="5.4" lengthAdjust="spacingAndGlyphs" fill="#222">0</text>
<line x1="540.1" y1="279.4" x2="543.6" y2="279.4" stroke="#333" stroke-width="0.9"/>
<text x="538.4" y="282.5" font-size="8.6" text-anchor="end" textLength="5.4" lengthAdjust="spacingAndGlyphs" fill="#222">1</text>
<text x="644" y="416.5" font-size="9.3" text-anchor="middle" fill="#222"><tspan font-style="italic">s</tspan>(µm)</text>
<text transform="translate(521.3 304.3) rotate(-90)" font-size="9.3" text-anchor="middle" fill="#222">u / k<tspan font-size="6.5" dy="1.8" font-style="italic">B</tspan><tspan dy="-1.8">T</tspan></text>

</svg></body></html>
